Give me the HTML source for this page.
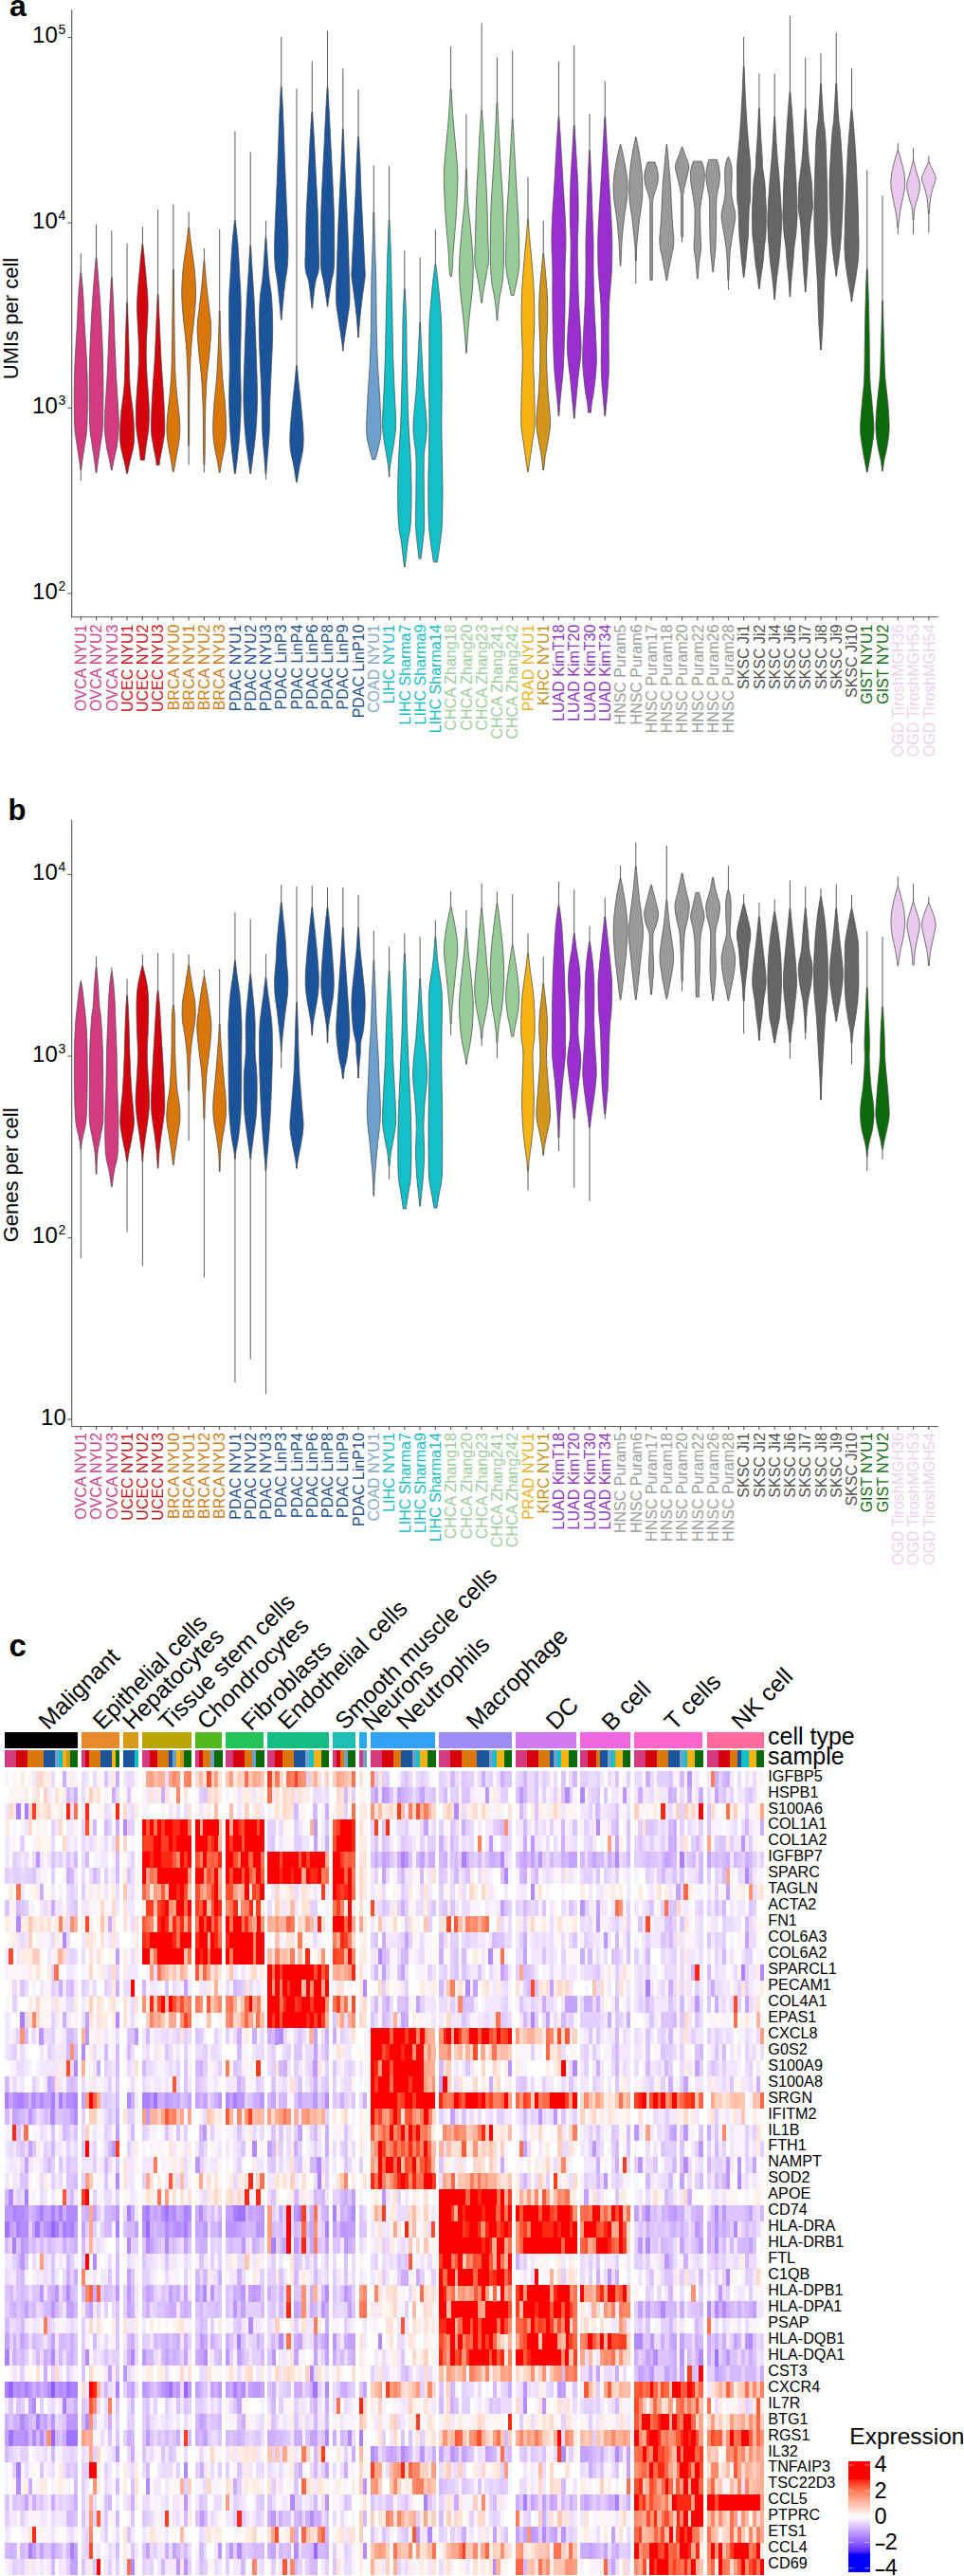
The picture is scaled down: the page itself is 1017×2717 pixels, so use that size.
<!DOCTYPE html><html><head><meta charset="utf-8"><style>html,body{margin:0;padding:0;background:#fff;overflow:hidden;}svg{display:block;}</style></head><body><svg width="1017" height="2717" viewBox="0 0 1017 2717" font-family='"Liberation Sans", sans-serif'>
<rect width="1017" height="2717" fill="#fff"/>
<text x="10" y="16.8" font-size="32" font-weight="bold" fill="#000">a</text>
<text x="8.6" y="865.2" font-size="31" font-weight="bold" fill="#000">b</text>
<text x="9.6" y="1747.3" font-size="33" font-weight="bold" fill="#000">c</text>
<g stroke="#555" stroke-width="1.1" fill="none">
<line x1="75.7" y1="10.3" x2="75.7" y2="651.2"/>
<line x1="75.2" y1="650.7" x2="989.8" y2="650.7"/>
<line x1="71.4" y1="39.6" x2="75.7" y2="39.6"/>
<line x1="71.4" y1="235" x2="75.7" y2="235"/>
<line x1="71.4" y1="430.3" x2="75.7" y2="430.3"/>
<line x1="71.4" y1="626" x2="75.7" y2="626"/>
<line x1="85.3" y1="650.7" x2="85.3" y2="654.2"/>
<line x1="101.56" y1="650.7" x2="101.56" y2="654.2"/>
<line x1="117.83" y1="650.7" x2="117.83" y2="654.2"/>
<line x1="134.09" y1="650.7" x2="134.09" y2="654.2"/>
<line x1="150.36" y1="650.7" x2="150.36" y2="654.2"/>
<line x1="166.62" y1="650.7" x2="166.62" y2="654.2"/>
<line x1="182.88" y1="650.7" x2="182.88" y2="654.2"/>
<line x1="199.15" y1="650.7" x2="199.15" y2="654.2"/>
<line x1="215.41" y1="650.7" x2="215.41" y2="654.2"/>
<line x1="231.68" y1="650.7" x2="231.68" y2="654.2"/>
<line x1="247.94" y1="650.7" x2="247.94" y2="654.2"/>
<line x1="264.2" y1="650.7" x2="264.2" y2="654.2"/>
<line x1="280.47" y1="650.7" x2="280.47" y2="654.2"/>
<line x1="296.73" y1="650.7" x2="296.73" y2="654.2"/>
<line x1="313" y1="650.7" x2="313" y2="654.2"/>
<line x1="329.26" y1="650.7" x2="329.26" y2="654.2"/>
<line x1="345.52" y1="650.7" x2="345.52" y2="654.2"/>
<line x1="361.79" y1="650.7" x2="361.79" y2="654.2"/>
<line x1="378.05" y1="650.7" x2="378.05" y2="654.2"/>
<line x1="394.32" y1="650.7" x2="394.32" y2="654.2"/>
<line x1="410.58" y1="650.7" x2="410.58" y2="654.2"/>
<line x1="426.84" y1="650.7" x2="426.84" y2="654.2"/>
<line x1="443.11" y1="650.7" x2="443.11" y2="654.2"/>
<line x1="459.37" y1="650.7" x2="459.37" y2="654.2"/>
<line x1="475.64" y1="650.7" x2="475.64" y2="654.2"/>
<line x1="491.9" y1="650.7" x2="491.9" y2="654.2"/>
<line x1="508.16" y1="650.7" x2="508.16" y2="654.2"/>
<line x1="524.43" y1="650.7" x2="524.43" y2="654.2"/>
<line x1="540.69" y1="650.7" x2="540.69" y2="654.2"/>
<line x1="556.96" y1="650.7" x2="556.96" y2="654.2"/>
<line x1="573.22" y1="650.7" x2="573.22" y2="654.2"/>
<line x1="589.48" y1="650.7" x2="589.48" y2="654.2"/>
<line x1="605.75" y1="650.7" x2="605.75" y2="654.2"/>
<line x1="622.01" y1="650.7" x2="622.01" y2="654.2"/>
<line x1="638.28" y1="650.7" x2="638.28" y2="654.2"/>
<line x1="654.54" y1="650.7" x2="654.54" y2="654.2"/>
<line x1="670.8" y1="650.7" x2="670.8" y2="654.2"/>
<line x1="687.07" y1="650.7" x2="687.07" y2="654.2"/>
<line x1="703.33" y1="650.7" x2="703.33" y2="654.2"/>
<line x1="719.6" y1="650.7" x2="719.6" y2="654.2"/>
<line x1="735.86" y1="650.7" x2="735.86" y2="654.2"/>
<line x1="752.12" y1="650.7" x2="752.12" y2="654.2"/>
<line x1="768.39" y1="650.7" x2="768.39" y2="654.2"/>
<line x1="784.65" y1="650.7" x2="784.65" y2="654.2"/>
<line x1="800.92" y1="650.7" x2="800.92" y2="654.2"/>
<line x1="817.18" y1="650.7" x2="817.18" y2="654.2"/>
<line x1="833.44" y1="650.7" x2="833.44" y2="654.2"/>
<line x1="849.71" y1="650.7" x2="849.71" y2="654.2"/>
<line x1="865.97" y1="650.7" x2="865.97" y2="654.2"/>
<line x1="882.24" y1="650.7" x2="882.24" y2="654.2"/>
<line x1="898.5" y1="650.7" x2="898.5" y2="654.2"/>
<line x1="914.76" y1="650.7" x2="914.76" y2="654.2"/>
<line x1="931.03" y1="650.7" x2="931.03" y2="654.2"/>
<line x1="947.29" y1="650.7" x2="947.29" y2="654.2"/>
<line x1="963.56" y1="650.7" x2="963.56" y2="654.2"/>
<line x1="979.82" y1="650.7" x2="979.82" y2="654.2"/>
</g>
<text x="60.8" y="45.2" font-size="24" text-anchor="end" fill="#000">10</text>
<text x="61.6" y="36.2" font-size="14" fill="#000">5</text>
<text x="60.8" y="240.6" font-size="24" text-anchor="end" fill="#000">10</text>
<text x="61.6" y="231.6" font-size="14" fill="#000">4</text>
<text x="60.8" y="435.9" font-size="24" text-anchor="end" fill="#000">10</text>
<text x="61.6" y="426.9" font-size="14" fill="#000">3</text>
<text x="60.8" y="631.6" font-size="24" text-anchor="end" fill="#000">10</text>
<text x="61.6" y="622.6" font-size="14" fill="#000">2</text>
<text transform="translate(18.6 336) rotate(-90)" font-size="22" text-anchor="middle" fill="#000">UMIs per cell</text>
<line x1="85.3" y1="267.3" x2="85.3" y2="507.2" stroke="#4a4a4a" stroke-width="0.9"/>
<path d="M85.7 287.6C86.03 291.42 87.08 300.8 87.7 310.5C88.32 320.2 88.77 334.03 89.4 345.8C90.03 357.57 91 369.33 91.5 381.1C92 392.87 92.37 404.65 92.4 416.4C92.43 428.15 92.2 442.78 91.7 451.6C91.2 460.42 90.23 463.42 89.4 469.3C88.57 475.18 87.32 482.5 86.7 486.9C86.08 491.3 85.87 494.23 85.7 495.7L84.9 495.7C84.73 494.23 84.52 491.3 83.9 486.9C83.28 482.5 82.03 475.18 81.2 469.3C80.37 463.42 79.4 460.42 78.9 451.6C78.4 442.78 78.17 428.15 78.2 416.4C78.23 404.65 78.6 392.87 79.1 381.1C79.6 369.33 80.57 357.57 81.2 345.8C81.83 334.03 82.28 320.2 82.9 310.5C83.52 300.8 84.57 291.42 84.9 287.6Z" fill="#d43a80" stroke="#4a4a4a" stroke-width="0.75"/>
<line x1="101.56" y1="236.6" x2="101.56" y2="498.4" stroke="#4a4a4a" stroke-width="0.9"/>
<path d="M101.96 271.7C102.48 278.17 104.2 298.15 105.06 310.5C105.93 322.85 106.57 334.03 107.16 345.8C107.76 357.57 108.31 369.33 108.61 381.1C108.91 392.87 109.02 404.65 108.96 416.4C108.91 428.15 108.76 442.78 108.26 451.6C107.76 460.42 106.78 463.42 105.96 469.3C105.15 475.18 104.03 482.05 103.36 486.9C102.7 491.75 102.2 496.48 101.96 498.4L101.16 498.4C100.93 496.48 100.43 491.75 99.76 486.9C99.1 482.05 97.98 475.18 97.16 469.3C96.35 463.42 95.36 460.42 94.86 451.6C94.36 442.78 94.22 428.15 94.16 416.4C94.11 404.65 94.21 392.87 94.51 381.1C94.81 369.33 95.37 357.57 95.96 345.8C96.56 334.03 97.2 322.85 98.06 310.5C98.93 298.15 100.65 278.17 101.16 271.7Z" fill="#d43a80" stroke="#4a4a4a" stroke-width="0.75"/>
<line x1="117.83" y1="243.2" x2="117.83" y2="495.7" stroke="#4a4a4a" stroke-width="0.9"/>
<path d="M118.23 292.9C118.53 298.78 119.54 316.43 120.03 328.2C120.51 339.97 120.69 351.75 121.13 363.5C121.57 375.25 122.05 386.95 122.68 398.7C123.3 410.45 124.44 425.18 124.88 434C125.32 442.82 125.55 445.72 125.33 451.6C125.1 457.48 124.44 463.42 123.53 469.3C122.61 475.18 120.71 482.5 119.83 486.9C118.94 491.3 118.49 494.23 118.23 495.7L117.43 495.7C117.16 494.23 116.71 491.3 115.83 486.9C114.94 482.5 113.04 475.18 112.13 469.3C111.21 463.42 110.55 457.48 110.33 451.6C110.1 445.72 110.34 442.82 110.78 434C111.22 425.18 112.35 410.45 112.98 398.7C113.6 386.95 114.09 375.25 114.53 363.5C114.97 351.75 115.14 339.97 115.63 328.2C116.11 316.43 117.13 298.78 117.43 292.9Z" fill="#d43a80" stroke="#4a4a4a" stroke-width="0.75"/>
<line x1="134.09" y1="256.8" x2="134.09" y2="499.3" stroke="#4a4a4a" stroke-width="0.9"/>
<path d="M134.49 319.4C134.73 326.75 135.53 350.28 135.89 363.5C136.26 376.72 136.33 389.88 136.69 398.7C137.06 407.52 137.49 410.52 138.09 416.4C138.69 422.28 139.73 428.13 140.29 434C140.86 439.87 141.36 445.72 141.49 451.6C141.63 457.48 141.83 463.42 141.09 469.3C140.36 475.18 138.19 481.9 137.09 486.9C135.99 491.9 134.93 497.23 134.49 499.3L133.69 499.3C133.26 497.23 132.19 491.9 131.09 486.9C129.99 481.9 127.83 475.18 127.09 469.3C126.36 463.42 126.56 457.48 126.69 451.6C126.83 445.72 127.33 439.87 127.89 434C128.46 428.13 129.49 422.28 130.09 416.4C130.69 410.52 131.13 407.52 131.49 398.7C131.86 389.88 131.93 376.72 132.29 363.5C132.66 350.28 133.46 326.75 133.69 319.4Z" fill="#d6000d" stroke="#4a4a4a" stroke-width="0.75"/>
<line x1="150.36" y1="239" x2="150.36" y2="485.2" stroke="#4a4a4a" stroke-width="0.9"/>
<path d="M150.76 257.6C151.06 260.55 151.74 266.48 152.56 275.3C153.37 284.12 155.07 301.68 155.66 310.5C156.24 319.32 156.13 322.32 156.06 328.2C155.98 334.08 155.49 339.92 155.21 345.8C154.92 351.68 154.5 357.62 154.36 363.5C154.21 369.38 154.21 375.23 154.36 381.1C154.5 386.97 154.84 392.82 155.21 398.7C155.57 404.58 156.2 410.52 156.56 416.4C156.91 422.28 157.29 428.13 157.36 434C157.42 439.87 157.46 445.72 156.96 451.6C156.46 457.48 155.02 464.57 154.36 469.3C153.69 474.03 153.26 477.35 152.96 480C152.66 482.65 152.62 484.33 152.56 485.2L148.16 485.2C148.09 484.33 148.06 482.65 147.76 480C147.46 477.35 147.02 474.03 146.36 469.3C145.69 464.57 144.26 457.48 143.76 451.6C143.26 445.72 143.29 439.87 143.36 434C143.42 428.13 143.8 422.28 144.16 416.4C144.51 410.52 145.14 404.58 145.51 398.7C145.87 392.82 146.21 386.97 146.36 381.1C146.5 375.23 146.5 369.38 146.36 363.5C146.21 357.62 145.79 351.68 145.51 345.8C145.22 339.92 144.73 334.08 144.66 328.2C144.58 322.32 144.47 319.32 145.06 310.5C145.64 301.68 147.34 284.12 148.16 275.3C148.97 266.48 149.66 260.55 149.96 257.6Z" fill="#d6000d" stroke="#4a4a4a" stroke-width="0.75"/>
<line x1="166.62" y1="221" x2="166.62" y2="490.4" stroke="#4a4a4a" stroke-width="0.9"/>
<path d="M167.02 310.5C167.27 316.38 168 334.03 168.52 345.8C169.04 357.57 169.45 369.33 170.12 381.1C170.79 392.87 171.9 404.65 172.52 416.4C173.14 428.15 173.95 442.78 173.82 451.6C173.69 460.42 172.55 463.9 171.72 469.3C170.89 474.7 169.4 480.48 168.82 484C168.24 487.52 168.32 489.33 168.22 490.4L165.02 490.4C164.92 489.33 165 487.52 164.42 484C163.84 480.48 162.35 474.7 161.52 469.3C160.69 463.9 159.55 460.42 159.42 451.6C159.29 442.78 160.1 428.15 160.72 416.4C161.34 404.65 162.45 392.87 163.12 381.1C163.79 369.33 164.2 357.57 164.72 345.8C165.24 334.03 165.97 316.38 166.22 310.5Z" fill="#d6000d" stroke="#4a4a4a" stroke-width="0.75"/>
<line x1="182.88" y1="215.4" x2="182.88" y2="497.5" stroke="#4a4a4a" stroke-width="0.9"/>
<path d="M183.28 284.1C183.4 294.38 183.73 328.17 183.98 345.8C184.23 363.43 184.33 378.13 184.78 389.9C185.23 401.67 185.9 407.58 186.68 416.4C187.47 425.22 189.02 435.47 189.48 442.8C189.95 450.13 189.95 454.52 189.48 460.4C189.02 466.28 187.62 472.5 186.68 478.1C185.75 483.7 184.47 490.77 183.88 494C183.3 497.23 183.3 496.92 183.18 497.5L182.58 497.5C182.47 496.92 182.47 497.23 181.88 494C181.3 490.77 180.02 483.7 179.08 478.1C178.15 472.5 176.75 466.28 176.28 460.4C175.82 454.52 175.82 450.13 176.28 442.8C176.75 435.47 178.3 425.22 179.08 416.4C179.87 407.58 180.53 401.67 180.98 389.9C181.43 378.13 181.53 363.43 181.78 345.8C182.03 328.17 182.37 294.38 182.48 284.1Z" fill="#d9770a" stroke="#4a4a4a" stroke-width="0.75"/>
<line x1="199.15" y1="223.4" x2="199.15" y2="490.4" stroke="#4a4a4a" stroke-width="0.9"/>
<path d="M199.55 240C199.9 242.93 200.71 250.25 201.65 257.6C202.58 264.95 204.33 275.28 205.15 284.1C205.96 292.92 206.61 301.68 206.55 310.5C206.48 319.32 205.51 328.17 204.75 337C203.98 345.83 202.7 353.22 201.95 363.5C201.2 373.78 200.6 386.95 200.25 398.7C199.9 410.45 199.95 422.12 199.85 434C199.75 445.88 199.68 464 199.65 470L198.65 470C198.61 464 198.55 445.88 198.45 434C198.35 422.12 198.4 410.45 198.05 398.7C197.7 386.95 197.1 373.78 196.35 363.5C195.6 353.22 194.31 345.83 193.55 337C192.78 328.17 191.81 319.32 191.75 310.5C191.68 301.68 192.33 292.92 193.15 284.1C193.96 275.28 195.71 264.95 196.65 257.6C197.58 250.25 198.4 242.93 198.75 240Z" fill="#d9770a" stroke="#4a4a4a" stroke-width="0.75"/>
<line x1="215.41" y1="262" x2="215.41" y2="498.4" stroke="#4a4a4a" stroke-width="0.9"/>
<path d="M215.81 275.3C216.18 279.7 217.15 292.88 218.01 301.7C218.88 310.52 220.23 320.85 221.01 328.2C221.8 335.55 222.71 338.45 222.71 345.8C222.71 353.15 221.76 363.48 221.01 372.3C220.26 381.12 218.95 388.42 218.21 398.7C217.48 408.98 216.93 422.23 216.61 434C216.3 445.77 216.43 459.97 216.31 469.3C216.2 478.63 215.98 486.55 215.91 490L214.91 490C214.85 486.55 214.63 478.63 214.51 469.3C214.4 459.97 214.53 445.77 214.21 434C213.9 422.23 213.35 408.98 212.61 398.7C211.88 388.42 210.56 381.12 209.81 372.3C209.06 363.48 208.11 353.15 208.11 345.8C208.11 338.45 209.03 335.55 209.81 328.2C210.6 320.85 211.95 310.52 212.81 301.7C213.68 292.88 214.65 279.7 215.01 275.3Z" fill="#d9770a" stroke="#4a4a4a" stroke-width="0.75"/>
<line x1="231.68" y1="241.6" x2="231.68" y2="498.4" stroke="#4a4a4a" stroke-width="0.9"/>
<path d="M232.08 328.2C232.23 334.08 232.53 351.75 232.98 363.5C233.43 375.25 234.04 388.42 234.78 398.7C235.51 408.98 236.73 416.38 237.38 425.2C238.03 434.02 238.68 444.25 238.68 451.6C238.68 458.95 238.18 463.42 237.38 469.3C236.58 475.18 234.76 482.05 233.88 486.9C232.99 491.75 232.38 496.48 232.08 498.4L231.28 498.4C230.98 496.48 230.36 491.75 229.48 486.9C228.59 482.05 226.78 475.18 225.98 469.3C225.18 463.42 224.68 458.95 224.68 451.6C224.68 444.25 225.33 434.02 225.98 425.2C226.63 416.38 227.84 408.98 228.58 398.7C229.31 388.42 229.93 375.25 230.38 363.5C230.83 351.75 231.13 334.08 231.28 328.2Z" fill="#d9770a" stroke="#4a4a4a" stroke-width="0.75"/>
<line x1="247.94" y1="138.4" x2="247.94" y2="499.5" stroke="#4a4a4a" stroke-width="0.9"/>
<path d="M248.34 232.8C248.79 237.2 250.3 249.67 251.04 259.2C251.78 268.73 252.27 280.65 252.79 290C253.31 299.35 253.91 305.22 254.14 315.3C254.36 325.38 254.24 338.75 254.14 350.5C254.04 362.25 253.52 374.05 253.54 385.8C253.56 397.55 254.34 409.25 254.24 421C254.14 432.75 253.57 446 252.94 456.3C252.31 466.6 251.21 475.6 250.44 482.8C249.67 490 248.69 496.72 248.34 499.5L247.54 499.5C247.19 496.72 246.21 490 245.44 482.8C244.67 475.6 243.57 466.6 242.94 456.3C242.31 446 241.74 432.75 241.64 421C241.54 409.25 242.32 397.55 242.34 385.8C242.36 374.05 241.84 362.25 241.74 350.5C241.64 338.75 241.52 325.38 241.74 315.3C241.97 305.22 242.57 299.35 243.09 290C243.61 280.65 244.1 268.73 244.84 259.2C245.58 249.67 247.09 237.2 247.54 232.8Z" fill="#1b549a" stroke="#4a4a4a" stroke-width="0.75"/>
<line x1="264.2" y1="160.5" x2="264.2" y2="499.5" stroke="#4a4a4a" stroke-width="0.9"/>
<path d="M264.6 259C264.9 264.17 265.84 280.62 266.4 290C266.97 299.38 267.49 305.22 268 315.3C268.52 325.38 269.05 338.75 269.5 350.5C269.95 362.25 270.37 374.05 270.7 385.8C271.04 397.55 271.65 409.25 271.5 421C271.35 432.75 270.6 446 269.8 456.3C269 466.6 267.57 475.6 266.7 482.8C265.84 490 264.95 496.72 264.6 499.5L263.8 499.5C263.45 496.72 262.57 490 261.7 482.8C260.84 475.6 259.4 466.6 258.6 456.3C257.8 446 257.05 432.75 256.9 421C256.75 409.25 257.37 397.55 257.7 385.8C258.04 374.05 258.45 362.25 258.9 350.5C259.35 338.75 259.89 325.38 260.4 315.3C260.92 305.22 261.44 299.38 262 290C262.57 280.62 263.5 264.17 263.8 259Z" fill="#1b549a" stroke="#4a4a4a" stroke-width="0.75"/>
<line x1="280.47" y1="232.8" x2="280.47" y2="505.7" stroke="#4a4a4a" stroke-width="0.9"/>
<path d="M280.87 250C281.32 256.67 282.6 279.12 283.57 290C284.53 300.88 285.98 305.22 286.67 315.3C287.35 325.38 287.72 338.75 287.67 350.5C287.62 362.25 286.83 374.05 286.37 385.8C285.9 397.55 285.23 409.25 284.87 421C284.5 432.75 284.63 446 284.17 456.3C283.7 466.6 282.62 475.52 282.07 482.8C281.52 490.08 281.07 497.13 280.87 500L280.07 500C279.87 497.13 279.42 490.08 278.87 482.8C278.32 475.52 277.23 466.6 276.77 456.3C276.3 446 276.43 432.75 276.07 421C275.7 409.25 275.03 397.55 274.57 385.8C274.1 374.05 273.32 362.25 273.27 350.5C273.22 338.75 273.58 325.38 274.27 315.3C274.95 305.22 276.4 300.88 277.37 290C278.33 279.12 279.62 256.67 280.07 250Z" fill="#1b549a" stroke="#4a4a4a" stroke-width="0.75"/>
<line x1="296.73" y1="38.8" x2="296.73" y2="337.3" stroke="#4a4a4a" stroke-width="0.9"/>
<path d="M297.13 91.7C297.37 96.12 298.08 107.92 298.53 118.2C298.98 128.48 299.4 141.65 299.83 153.4C300.27 165.15 300.67 176.93 301.13 188.7C301.6 200.47 302.17 212.25 302.63 224C303.1 235.75 303.82 249.87 303.93 259.2C304.05 268.53 303.85 273.6 303.33 280C302.82 286.4 301.57 291.72 300.83 297.6C300.1 303.48 299.52 309.42 298.93 315.3C298.35 321.18 297.65 329.23 297.33 332.9C297.02 336.57 297.08 336.57 297.03 337.3L296.43 337.3C296.38 336.57 296.45 336.57 296.13 332.9C295.82 329.23 295.12 321.18 294.53 315.3C293.95 309.42 293.37 303.48 292.63 297.6C291.9 291.72 290.65 286.4 290.13 280C289.62 273.6 289.42 268.53 289.53 259.2C289.65 249.87 290.37 235.75 290.83 224C291.3 212.25 291.87 200.47 292.33 188.7C292.8 176.93 293.2 165.15 293.63 153.4C294.07 141.65 294.48 128.48 294.93 118.2C295.38 107.92 296.1 96.12 296.33 91.7Z" fill="#1b549a" stroke="#4a4a4a" stroke-width="0.75"/>
<line x1="313" y1="93.5" x2="313" y2="508.4" stroke="#4a4a4a" stroke-width="0.9"/>
<path d="M313.4 385.8C313.66 388.73 314.25 396.05 315 403.4C315.74 410.75 317.01 421.08 317.85 429.9C318.68 438.72 319.7 448.95 320 456.3C320.29 463.65 320.25 468.12 319.6 474C318.95 479.88 317.13 485.87 316.1 491.6C315.06 497.33 313.85 505.6 313.4 508.4L312.6 508.4C312.15 505.6 310.93 497.33 309.9 491.6C308.86 485.87 307.05 479.88 306.4 474C305.75 468.12 305.7 463.65 306 456.3C306.29 448.95 307.31 438.72 308.15 429.9C308.98 421.08 310.25 410.75 311 403.4C311.74 396.05 312.33 388.73 312.6 385.8Z" fill="#1b549a" stroke="#4a4a4a" stroke-width="0.75"/>
<line x1="329.26" y1="64.4" x2="329.26" y2="325" stroke="#4a4a4a" stroke-width="0.9"/>
<path d="M329.66 118.2C330.01 124.07 331.13 141.65 331.76 153.4C332.39 165.15 332.88 176.93 333.46 188.7C334.04 200.47 334.83 212.25 335.26 224C335.69 235.75 335.86 249.37 336.06 259.2C336.26 269.03 337.01 276.6 336.46 283C335.91 289.4 333.74 292.22 332.76 297.6C331.78 302.98 331.09 310.73 330.56 315.3C330.03 319.87 329.73 323.38 329.56 325L328.96 325C328.79 323.38 328.49 319.87 327.96 315.3C327.43 310.73 326.74 302.98 325.76 297.6C324.78 292.22 322.61 289.4 322.06 283C321.51 276.6 322.26 269.03 322.46 259.2C322.66 249.37 322.83 235.75 323.26 224C323.69 212.25 324.48 200.47 325.06 188.7C325.64 176.93 326.13 165.15 326.76 153.4C327.39 141.65 328.51 124.07 328.86 118.2Z" fill="#1b549a" stroke="#4a4a4a" stroke-width="0.75"/>
<line x1="345.52" y1="32.6" x2="345.52" y2="323.2" stroke="#4a4a4a" stroke-width="0.9"/>
<path d="M345.92 91.7C346.16 96.12 346.81 107.92 347.32 118.2C347.84 128.48 348.44 141.65 349.02 153.4C349.61 165.15 350.27 176.93 350.82 188.7C351.37 200.47 352.01 212.25 352.32 224C352.64 235.75 352.72 249.37 352.72 259.2C352.72 269.03 352.86 276.6 352.32 283C351.79 289.4 350.44 292.22 349.52 297.6C348.61 302.98 347.44 311.03 346.82 315.3C346.21 319.57 345.99 321.88 345.82 323.2L345.22 323.2C345.06 321.88 344.84 319.57 344.22 315.3C343.61 311.03 342.44 302.98 341.52 297.6C340.61 292.22 339.26 289.4 338.72 283C338.19 276.6 338.32 269.03 338.32 259.2C338.32 249.37 338.41 235.75 338.72 224C339.04 212.25 339.67 200.47 340.22 188.7C340.77 176.93 341.44 165.15 342.02 153.4C342.61 141.65 343.21 128.48 343.72 118.2C344.24 107.92 344.89 96.12 345.12 91.7Z" fill="#1b549a" stroke="#4a4a4a" stroke-width="0.75"/>
<line x1="361.79" y1="72.3" x2="361.79" y2="370" stroke="#4a4a4a" stroke-width="0.9"/>
<path d="M362.19 135.8C362.42 141.67 363.07 159.25 363.59 171C364.1 182.75 364.74 194.53 365.29 206.3C365.84 218.07 366.44 229.83 366.89 241.6C367.34 253.37 367.64 264.62 367.99 276.9C368.34 289.18 369.14 305.97 368.99 315.3C368.84 324.63 367.85 327.03 367.09 332.9C366.32 338.77 365.17 345.15 364.39 350.5C363.6 355.85 362.77 361.75 362.39 365C362 368.25 362.14 369.17 362.09 370L361.49 370C361.44 369.17 361.57 368.25 361.19 365C360.8 361.75 359.97 355.85 359.19 350.5C358.4 345.15 357.25 338.77 356.49 332.9C355.72 327.03 354.74 324.63 354.59 315.3C354.44 305.97 355.24 289.18 355.59 276.9C355.94 264.62 356.24 253.37 356.69 241.6C357.14 229.83 357.74 218.07 358.29 206.3C358.84 194.53 359.47 182.75 359.99 171C360.5 159.25 361.15 141.67 361.39 135.8Z" fill="#1b549a" stroke="#4a4a4a" stroke-width="0.75"/>
<line x1="378.05" y1="94.4" x2="378.05" y2="355.8" stroke="#4a4a4a" stroke-width="0.9"/>
<path d="M378.45 144.6C378.69 149 379.4 160.72 379.85 171C380.3 181.28 380.64 194.53 381.15 206.3C381.66 218.07 382.32 229.83 382.9 241.6C383.49 253.37 384.26 268.83 384.65 276.9C385.04 284.97 385.29 286.55 385.25 290C385.22 293.45 384.99 293.38 384.45 297.6C383.92 301.82 382.79 309.42 382.05 315.3C381.32 321.18 380.62 327.12 380.05 332.9C379.49 338.68 378.94 346.18 378.65 350C378.37 353.82 378.4 354.83 378.35 355.8L377.75 355.8C377.7 354.83 377.74 353.82 377.45 350C377.17 346.18 376.62 338.68 376.05 332.9C375.49 327.12 374.79 321.18 374.05 315.3C373.32 309.42 372.19 301.82 371.65 297.6C371.12 293.38 370.89 293.45 370.85 290C370.82 286.55 371.06 284.97 371.45 276.9C371.84 268.83 372.62 253.37 373.2 241.6C373.79 229.83 374.44 218.07 374.95 206.3C375.46 194.53 375.8 181.28 376.25 171C376.7 160.72 377.42 149 377.65 144.6Z" fill="#1b549a" stroke="#4a4a4a" stroke-width="0.75"/>
<line x1="394.32" y1="174.6" x2="394.32" y2="484.5" stroke="#4a4a4a" stroke-width="0.9"/>
<path d="M394.72 224C394.85 229.87 395.2 248.2 395.52 259.2C395.83 270.2 396.38 280.65 396.62 290C396.85 299.35 396.8 305.22 396.92 315.3C397.03 325.38 397.05 338.75 397.32 350.5C397.58 362.25 397.93 374.05 398.52 385.8C399.1 397.55 400.25 409.25 400.82 421C401.38 432.75 402.27 447.47 401.92 456.3C401.57 465.13 399.73 469.3 398.72 474C397.7 478.7 396.3 482.75 395.82 484.5L392.82 484.5C392.33 482.75 390.93 478.7 389.92 474C388.9 469.3 387.07 465.13 386.72 456.3C386.37 447.47 387.25 432.75 387.82 421C388.38 409.25 389.53 397.55 390.12 385.8C390.7 374.05 391.05 362.25 391.32 350.5C391.58 338.75 391.6 325.38 391.72 315.3C391.83 305.22 391.78 299.35 392.02 290C392.25 280.65 392.8 270.2 393.12 259.2C393.43 248.2 393.78 229.87 393.92 224Z" fill="#6ea0cd" stroke="#4a4a4a" stroke-width="0.75"/>
<line x1="410.58" y1="175.2" x2="410.58" y2="502.8" stroke="#4a4a4a" stroke-width="0.9"/>
<path d="M410.98 231.6C411.21 238 412.01 257.72 412.38 270C412.75 282.28 412.91 293.55 413.18 305.3C413.45 317.05 413.73 328.75 413.98 340.5C414.23 352.25 414.33 364.03 414.68 375.8C415.03 387.57 415.59 399.33 416.08 411.1C416.57 422.87 417.63 437.58 417.63 446.4C417.63 455.22 416.82 458.13 416.08 464C415.34 469.87 414 476.43 413.18 481.6C412.36 486.77 411.56 491.47 411.18 495C410.8 498.53 410.93 501.5 410.88 502.8L410.28 502.8C410.23 501.5 410.36 498.53 409.98 495C409.6 491.47 408.8 486.77 407.98 481.6C407.16 476.43 405.82 469.87 405.08 464C404.34 458.13 403.53 455.22 403.53 446.4C403.53 437.58 404.59 422.87 405.08 411.1C405.57 399.33 406.13 387.57 406.48 375.8C406.83 364.03 406.93 352.25 407.18 340.5C407.43 328.75 407.71 317.05 407.98 305.3C408.25 293.55 408.41 282.28 408.78 270C409.15 257.72 409.95 238 410.18 231.6Z" fill="#14c0c8" stroke="#4a4a4a" stroke-width="0.75"/>
<line x1="426.84" y1="264.2" x2="426.84" y2="598" stroke="#4a4a4a" stroke-width="0.9"/>
<path d="M427.24 305C427.49 310.92 428.44 328.7 428.74 340.5C429.04 352.3 428.84 364.03 429.04 375.8C429.24 387.57 429.63 399.33 429.94 411.1C430.26 422.87 430.43 434.65 430.94 446.4C431.46 458.15 432.53 469.85 433.04 481.6C433.56 493.35 434.01 505.13 434.04 516.9C434.08 528.67 433.83 543.38 433.24 552.2C432.66 561.02 431.34 563.92 430.54 569.8C429.74 575.68 429.01 582.8 428.44 587.5C427.88 592.2 427.36 596.25 427.14 598L426.54 598C426.33 596.25 425.81 592.2 425.24 587.5C424.68 582.8 423.94 575.68 423.14 569.8C422.34 563.92 421.03 561.02 420.44 552.2C419.86 543.38 419.61 528.67 419.64 516.9C419.68 505.13 420.13 493.35 420.64 481.6C421.16 469.85 422.23 458.15 422.74 446.4C423.26 434.65 423.43 422.87 423.74 411.1C424.06 399.33 424.44 387.57 424.64 375.8C424.84 364.03 424.64 352.3 424.94 340.5C425.24 328.7 426.19 310.92 426.44 305Z" fill="#14c0c8" stroke="#4a4a4a" stroke-width="0.75"/>
<line x1="443.11" y1="271.3" x2="443.11" y2="589.2" stroke="#4a4a4a" stroke-width="0.9"/>
<path d="M443.51 340.5C443.77 346.38 444.51 364.03 445.11 375.8C445.71 387.57 446.27 399.33 447.11 411.1C447.95 422.87 449.79 437.58 450.16 446.4C450.52 455.22 449.78 458.13 449.31 464C448.83 469.87 447.64 472.78 447.31 481.6C446.97 490.42 447.24 505.13 447.31 516.9C447.37 528.67 447.86 543.38 447.71 552.2C447.56 561.02 447.01 563.63 446.41 569.8C445.81 575.97 444.49 585.97 444.11 589.2L442.11 589.2C441.72 585.97 440.41 575.97 439.81 569.8C439.21 563.63 438.66 561.02 438.51 552.2C438.36 543.38 438.84 528.67 438.91 516.9C438.97 505.13 439.24 490.42 438.91 481.6C438.57 472.78 437.38 469.87 436.91 464C436.43 458.13 435.69 455.22 436.06 446.4C436.42 437.58 438.27 422.87 439.11 411.1C439.95 399.33 440.51 387.57 441.11 375.8C441.71 364.03 442.44 346.38 442.71 340.5Z" fill="#14c0c8" stroke="#4a4a4a" stroke-width="0.75"/>
<line x1="459.37" y1="242.2" x2="459.37" y2="592.8" stroke="#4a4a4a" stroke-width="0.9"/>
<path d="M459.77 278.8C460.29 283.22 461.89 295.02 462.87 305.3C463.86 315.58 465.16 328.75 465.67 340.5C466.19 352.25 465.89 364.03 465.97 375.8C466.06 387.57 466.19 399.33 466.17 411.1C466.16 422.87 465.83 434.65 465.87 446.4C465.91 458.15 466.24 469.85 466.42 481.6C466.61 493.35 466.97 505.13 466.97 516.9C466.97 528.67 466.81 543.38 466.42 552.2C466.04 561.02 465.51 563.03 464.67 569.8C463.83 576.57 461.92 588.97 461.37 592.8L457.37 592.8C456.82 588.97 454.91 576.57 454.07 569.8C453.23 563.03 452.71 561.02 452.32 552.2C451.94 543.38 451.77 528.67 451.77 516.9C451.77 505.13 452.14 493.35 452.32 481.6C452.51 469.85 452.83 458.15 452.87 446.4C452.91 434.65 452.59 422.87 452.57 411.1C452.56 399.33 452.69 387.57 452.77 375.8C452.86 364.03 452.56 352.25 453.07 340.5C453.59 328.75 454.89 315.58 455.87 305.3C456.86 295.02 458.46 283.22 458.97 278.8Z" fill="#14c0c8" stroke="#4a4a4a" stroke-width="0.75"/>
<line x1="475.64" y1="49.1" x2="475.64" y2="292" stroke="#4a4a4a" stroke-width="0.9"/>
<path d="M476.04 94C476.37 99.3 477.29 116.08 478.04 125.8C478.78 135.52 479.71 143.48 480.49 152.3C481.26 161.12 482.32 171.37 482.69 178.7C483.05 186.03 482.88 188.95 482.69 196.3C482.49 203.65 482.06 213.98 481.54 222.8C481.01 231.62 480.12 241.85 479.54 249.2C478.95 256.55 478.37 261.77 478.04 266.9C477.7 272.03 477.74 276.48 477.54 280C477.34 283.52 477.1 286 476.84 288C476.57 290 476.09 291.33 475.94 292L475.34 292C475.19 291.33 474.7 290 474.44 288C474.17 286 473.94 283.52 473.74 280C473.54 276.48 473.57 272.03 473.24 266.9C472.9 261.77 472.32 256.55 471.74 249.2C471.15 241.85 470.26 231.62 469.74 222.8C469.21 213.98 468.78 203.65 468.59 196.3C468.39 188.95 468.22 186.03 468.59 178.7C468.95 171.37 470.01 161.12 470.79 152.3C471.56 143.48 472.49 135.52 473.24 125.8C473.98 116.08 474.9 99.3 475.24 94Z" fill="#95cc98" stroke="#4a4a4a" stroke-width="0.75"/>
<line x1="491.9" y1="120.5" x2="491.9" y2="372.3" stroke="#4a4a4a" stroke-width="0.9"/>
<path d="M492.3 178.7C492.53 184.58 492.88 202.25 493.7 214C494.52 225.75 496.28 238.2 497.2 249.2C498.12 260.2 499.02 270.65 499.2 280C499.38 289.35 498.93 296.68 498.3 305.3C497.67 313.92 496.17 324.35 495.4 331.7C494.63 339.05 494.18 343.85 493.7 349.4C493.22 354.95 492.75 361.18 492.5 365C492.25 368.82 492.25 371.08 492.2 372.3L491.6 372.3C491.55 371.08 491.55 368.82 491.3 365C491.05 361.18 490.58 354.95 490.1 349.4C489.62 343.85 489.17 339.05 488.4 331.7C487.63 324.35 486.13 313.92 485.5 305.3C484.87 296.68 484.42 289.35 484.6 280C484.78 270.65 485.68 260.2 486.6 249.2C487.52 238.2 489.28 225.75 490.1 214C490.92 202.25 491.27 184.58 491.5 178.7Z" fill="#95cc98" stroke="#4a4a4a" stroke-width="0.75"/>
<line x1="508.16" y1="24.4" x2="508.16" y2="319.4" stroke="#4a4a4a" stroke-width="0.9"/>
<path d="M508.56 117C508.86 121.4 509.76 133.12 510.36 143.4C510.96 153.68 511.58 166.93 512.16 178.7C512.75 190.47 513.43 202.25 513.86 214C514.3 225.75 514.5 239.03 514.76 249.2C515.03 259.37 515.68 268.6 515.46 275C515.25 281.4 514.31 282.55 513.46 287.6C512.61 292.65 511.2 300 510.36 305.3C509.53 310.6 508.78 317.05 508.46 319.4L507.86 319.4C507.55 317.05 506.8 310.6 505.96 305.3C505.13 300 503.71 292.65 502.86 287.6C502.01 282.55 501.08 281.4 500.86 275C500.65 268.6 501.3 259.37 501.56 249.2C501.83 239.03 502.03 225.75 502.46 214C502.9 202.25 503.58 190.47 504.16 178.7C504.75 166.93 505.36 153.68 505.96 143.4C506.56 133.12 507.46 121.4 507.76 117Z" fill="#95cc98" stroke="#4a4a4a" stroke-width="0.75"/>
<line x1="524.43" y1="60.6" x2="524.43" y2="337.9" stroke="#4a4a4a" stroke-width="0.9"/>
<path d="M524.83 108.2C525.09 114.07 525.83 131.65 526.43 143.4C527.03 155.15 527.73 166.93 528.43 178.7C529.13 190.47 530.13 202.25 530.63 214C531.13 225.75 531.29 239.03 531.43 249.2C531.56 259.37 531.63 267.12 531.43 275C531.23 282.88 530.96 289.98 530.23 296.5C529.49 303.02 527.86 308.52 527.03 314.1C526.19 319.68 525.61 326.03 525.23 330C524.84 333.97 524.81 336.58 524.73 337.9L524.13 337.9C524.04 336.58 524.01 333.97 523.63 330C523.24 326.03 522.66 319.68 521.83 314.1C520.99 308.52 519.36 303.02 518.63 296.5C517.89 289.98 517.63 282.88 517.43 275C517.23 267.12 517.29 259.37 517.43 249.2C517.56 239.03 517.73 225.75 518.23 214C518.73 202.25 519.73 190.47 520.43 178.7C521.13 166.93 521.83 155.15 522.43 143.4C523.03 131.65 523.76 114.07 524.03 108.2Z" fill="#95cc98" stroke="#4a4a4a" stroke-width="0.75"/>
<line x1="540.69" y1="53.5" x2="540.69" y2="311.4" stroke="#4a4a4a" stroke-width="0.9"/>
<path d="M541.09 125.8C541.39 131.67 542.28 149.25 542.89 161C543.51 172.75 544.13 184.53 544.79 196.3C545.46 208.07 546.4 219.83 546.89 231.6C547.38 243.37 547.58 259.67 547.74 266.9C547.91 274.13 548.03 271.55 547.89 275C547.75 278.45 547.66 282.55 546.89 287.6C546.13 292.65 544.08 301.33 543.29 305.3C542.51 309.27 542.38 310.38 542.19 311.4L539.19 311.4C539.01 310.38 538.88 309.27 538.09 305.3C537.31 301.33 535.26 292.65 534.49 287.6C533.73 282.55 533.63 278.45 533.49 275C533.35 271.55 533.48 274.13 533.64 266.9C533.81 259.67 534 243.37 534.49 231.6C534.98 219.83 535.93 208.07 536.59 196.3C537.26 184.53 537.88 172.75 538.49 161C539.11 149.25 539.99 131.67 540.29 125.8Z" fill="#95cc98" stroke="#4a4a4a" stroke-width="0.75"/>
<line x1="556.96" y1="186.6" x2="556.96" y2="497.5" stroke="#4a4a4a" stroke-width="0.9"/>
<path d="M557.36 231.6C557.56 234.53 557.96 241.97 558.56 249.2C559.16 256.43 560.19 265.65 560.96 275C561.72 284.35 562.67 294.38 563.16 305.3C563.64 316.22 563.96 328.75 563.86 340.5C563.76 352.25 562.59 364.03 562.56 375.8C562.52 387.57 563.39 399.33 563.66 411.1C563.92 422.87 564.42 437.58 564.16 446.4C563.89 455.22 562.82 458.13 562.06 464C561.29 469.87 560.36 476.02 559.56 481.6C558.76 487.18 557.64 494.85 557.26 497.5L556.66 497.5C556.27 494.85 555.16 487.18 554.36 481.6C553.56 476.02 552.62 469.87 551.86 464C551.09 458.13 550.02 455.22 549.76 446.4C549.49 437.58 549.99 422.87 550.26 411.1C550.52 399.33 551.39 387.57 551.36 375.8C551.32 364.03 550.16 352.25 550.06 340.5C549.96 328.75 550.27 316.22 550.76 305.3C551.24 294.38 552.19 284.35 552.96 275C553.72 265.65 554.76 256.43 555.36 249.2C555.96 241.97 556.36 234.53 556.56 231.6Z" fill="#f5b414" stroke="#4a4a4a" stroke-width="0.75"/>
<line x1="573.22" y1="232.8" x2="573.22" y2="496" stroke="#4a4a4a" stroke-width="0.9"/>
<path d="M573.62 267.6C573.89 270.55 574.59 277.95 575.22 285.3C575.85 292.65 577.02 302.88 577.42 311.7C577.82 320.52 577.77 327.92 577.62 338.2C577.47 348.48 576.49 361.65 576.52 373.4C576.55 385.15 577.15 396.93 577.82 408.7C578.49 420.47 580.35 435.18 580.52 444C580.69 452.82 579.65 455.73 578.82 461.6C577.99 467.47 576.4 473.47 575.52 479.2C574.64 484.93 573.85 493.2 573.52 496L572.92 496C572.59 493.2 571.8 484.93 570.92 479.2C570.04 473.47 568.45 467.47 567.62 461.6C566.79 455.73 565.75 452.82 565.92 444C566.09 435.18 567.95 420.47 568.62 408.7C569.29 396.93 569.89 385.15 569.92 373.4C569.95 361.65 568.97 348.48 568.82 338.2C568.67 327.92 568.62 320.52 569.02 311.7C569.42 302.88 570.59 292.65 571.22 285.3C571.85 277.95 572.55 270.55 572.82 267.6Z" fill="#d2961a" stroke="#4a4a4a" stroke-width="0.75"/>
<line x1="589.48" y1="65.2" x2="589.48" y2="438.7" stroke="#4a4a4a" stroke-width="0.9"/>
<path d="M589.88 123.4C590.25 129.28 591.38 146.93 592.08 158.7C592.78 170.47 593.38 182.25 594.08 194C594.78 205.75 595.8 219.03 596.28 229.2C596.77 239.37 597.02 245.65 596.98 255C596.95 264.35 596.23 274.38 596.08 285.3C595.93 296.22 596.18 308.75 596.08 320.5C595.98 332.25 595.82 344.03 595.48 355.8C595.15 367.57 594.75 380.82 594.08 391.1C593.42 401.38 592.2 409.57 591.48 417.5C590.77 425.43 590.07 435.17 589.78 438.7L589.18 438.7C588.9 435.17 588.2 425.43 587.48 417.5C586.77 409.57 585.55 401.38 584.88 391.1C584.22 380.82 583.82 367.57 583.48 355.8C583.15 344.03 582.98 332.25 582.88 320.5C582.78 308.75 583.03 296.22 582.88 285.3C582.73 274.38 582.02 264.35 581.98 255C581.95 245.65 582.2 239.37 582.68 229.2C583.17 219.03 584.18 205.75 584.88 194C585.58 182.25 586.18 170.47 586.88 158.7C587.58 146.93 588.72 129.28 589.08 123.4Z" fill="#9a2fd0" stroke="#4a4a4a" stroke-width="0.75"/>
<line x1="605.75" y1="47.6" x2="605.75" y2="441.3" stroke="#4a4a4a" stroke-width="0.9"/>
<path d="M606.15 132.3C606.4 136.7 607.06 148.42 607.65 158.7C608.23 168.98 609.23 182.25 609.65 194C610.06 205.75 610.2 219.03 610.15 229.2C610.1 239.37 609.43 245.65 609.35 255C609.26 264.35 609.43 274.38 609.65 285.3C609.86 296.22 610.12 308.75 610.65 320.5C611.17 332.25 612.44 346.98 612.8 355.8C613.16 364.62 613.29 366.05 612.8 373.4C612.31 380.75 610.76 391.08 609.85 399.9C608.94 408.72 607.98 419.4 607.35 426.3C606.71 433.2 606.26 438.8 606.05 441.3L605.45 441.3C605.23 438.8 604.78 433.2 604.15 426.3C603.51 419.4 602.56 408.72 601.65 399.9C600.74 391.08 599.19 380.75 598.7 373.4C598.21 366.05 598.34 364.62 598.7 355.8C599.06 346.98 600.32 332.25 600.85 320.5C601.37 308.75 601.63 296.22 601.85 285.3C602.06 274.38 602.23 264.35 602.15 255C602.06 245.65 601.4 239.37 601.35 229.2C601.3 219.03 601.43 205.75 601.85 194C602.26 182.25 603.26 168.98 603.85 158.7C604.43 148.42 605.1 136.7 605.35 132.3Z" fill="#9a2fd0" stroke="#4a4a4a" stroke-width="0.75"/>
<line x1="622.01" y1="119.9" x2="622.01" y2="435.1" stroke="#4a4a4a" stroke-width="0.9"/>
<path d="M622.41 158.7C622.66 164.58 623.46 182.25 623.91 194C624.36 205.75 624.76 219.03 625.11 229.2C625.46 239.37 625.86 245.65 626.01 255C626.16 264.35 625.87 274.38 626.01 285.3C626.15 296.22 626.43 308.75 626.86 320.5C627.3 332.25 628.2 345.5 628.61 355.8C629.02 366.1 629.58 373.48 629.31 382.3C629.05 391.12 627.86 401.37 627.01 408.7C626.16 416.03 624.8 421.9 624.21 426.3C623.63 430.7 623.63 433.63 623.51 435.1L620.51 435.1C620.4 433.63 620.4 430.7 619.81 426.3C619.23 421.9 617.86 416.03 617.01 408.7C616.16 401.37 614.98 391.12 614.71 382.3C614.45 373.48 615 366.1 615.41 355.8C615.82 345.5 616.73 332.25 617.16 320.5C617.6 308.75 617.87 296.22 618.01 285.3C618.15 274.38 617.86 264.35 618.01 255C618.16 245.65 618.56 239.37 618.91 229.2C619.26 219.03 619.66 205.75 620.11 194C620.56 182.25 621.36 164.58 621.61 158.7Z" fill="#9a2fd0" stroke="#4a4a4a" stroke-width="0.75"/>
<line x1="638.28" y1="85.5" x2="638.28" y2="438.7" stroke="#4a4a4a" stroke-width="0.9"/>
<path d="M638.68 123.4C638.99 129.28 639.91 146.93 640.58 158.7C641.24 170.47 641.98 182.25 642.68 194C643.38 205.75 644.26 219.03 644.78 229.2C645.29 239.37 645.68 245.65 645.78 255C645.87 264.35 645.84 274.38 645.33 285.3C644.81 296.22 643.2 308.75 642.68 320.5C642.15 332.25 642.24 344.03 642.18 355.8C642.11 367.57 642.56 380.82 642.28 391.1C641.99 401.38 641.09 409.57 640.48 417.5C639.86 425.43 638.89 435.17 638.58 438.7L637.98 438.7C637.66 435.17 636.69 425.43 636.08 417.5C635.46 409.57 634.56 401.38 634.28 391.1C633.99 380.82 634.44 367.57 634.38 355.8C634.31 344.03 634.4 332.25 633.88 320.5C633.35 308.75 631.74 296.22 631.23 285.3C630.71 274.38 630.68 264.35 630.78 255C630.87 245.65 631.26 239.37 631.78 229.2C632.29 219.03 633.18 205.75 633.88 194C634.58 182.25 635.31 170.47 635.98 158.7C636.64 146.93 637.56 129.28 637.88 123.4Z" fill="#9a2fd0" stroke="#4a4a4a" stroke-width="0.75"/>
<path d="M654.84 152.3C655.39 154.78 657.09 161.75 658.14 167.2C659.19 172.65 660.49 179.87 661.14 185C661.79 190.13 662.02 193.67 662.04 198C662.06 202.33 661.72 206.5 661.24 211C660.76 215.5 659.79 220.17 659.14 225C658.49 229.83 657.86 235 657.34 240C656.82 245 656.37 250 656.04 255C655.71 260 655.54 265.75 655.34 270C655.14 274.25 654.92 278.75 654.84 280.5L654.24 280.5C654.16 278.75 653.94 274.25 653.74 270C653.54 265.75 653.37 260 653.04 255C652.71 250 652.26 245 651.74 240C651.22 235 650.59 229.83 649.94 225C649.29 220.17 648.32 215.5 647.84 211C647.36 206.5 647.02 202.33 647.04 198C647.06 193.67 647.29 190.13 647.94 185C648.59 179.87 649.89 172.65 650.94 167.2C651.99 161.75 653.69 154.78 654.24 152.3Z" fill="#999999" stroke="#4a4a4a" stroke-width="0.75"/>
<line x1="670.8" y1="144.7" x2="670.8" y2="299.2" stroke="#4a4a4a" stroke-width="0.9"/>
<path d="M671.1 144.7C671.6 147.25 673.2 154.73 674.1 160C675 165.27 675.88 170.63 676.5 176.3C677.13 181.97 677.7 188.12 677.85 194C678 199.88 677.9 205.73 677.4 211.6C676.91 217.47 675.64 223.32 674.9 229.2C674.17 235.08 673.55 241.53 673 246.9C672.45 252.27 671.89 256.72 671.6 261.4C671.32 266.08 671.35 272.73 671.3 275L670.3 275C670.25 272.73 670.29 266.08 670 261.4C669.72 256.72 669.15 252.27 668.6 246.9C668.05 241.53 667.44 235.08 666.7 229.2C665.97 223.32 664.7 217.47 664.2 211.6C663.71 205.73 663.6 199.88 663.75 194C663.9 188.12 664.48 181.97 665.1 176.3C665.73 170.63 666.6 165.27 667.5 160C668.4 154.73 670 147.25 670.5 144.7Z" fill="#999999" stroke="#4a4a4a" stroke-width="0.75"/>
<line x1="687.07" y1="171" x2="687.07" y2="295" stroke="#4a4a4a" stroke-width="0.9"/>
<path d="M690.87 171C691.23 172.17 692.48 175.53 693.07 178C693.65 180.47 694.28 183.13 694.37 185.8C694.45 188.47 694.12 191.3 693.57 194C693.02 196.7 691.83 199.33 691.07 202C690.3 204.67 689.42 207 688.97 210C688.52 213 688.47 207 688.37 220C688.27 233 688.48 275.5 688.37 288C688.25 300.5 687.78 293.83 687.67 295L686.47 295C686.35 293.83 685.88 300.5 685.77 288C685.65 275.5 685.87 233 685.77 220C685.67 207 685.62 213 685.17 210C684.72 207 683.83 204.67 683.07 202C682.3 199.33 681.12 196.7 680.57 194C680.02 191.3 679.68 188.47 679.77 185.8C679.85 183.13 680.48 180.47 681.07 178C681.65 175.53 682.9 172.17 683.27 171Z" fill="#999999" stroke="#4a4a4a" stroke-width="0.75"/>
<path d="M703.63 152.3C703.85 154.75 704.32 160.05 704.93 167C705.55 173.95 706.72 185 707.33 194C707.95 203 708.22 213.33 708.63 221C709.05 228.67 709.47 234.83 709.83 240C710.2 245.17 710.78 248.33 710.83 252C710.88 255.67 710.55 259 710.13 262C709.72 265 709.1 266.17 708.33 270C707.57 273.83 706.32 280.67 705.53 285C704.75 289.33 703.95 294.17 703.63 296L703.03 296C702.72 294.17 701.92 289.33 701.13 285C700.35 280.67 699.1 273.83 698.33 270C697.57 266.17 696.95 265 696.53 262C696.12 259 695.78 255.67 695.83 252C695.88 248.33 696.47 245.17 696.83 240C697.2 234.83 697.62 228.67 698.03 221C698.45 213.33 698.72 203 699.33 194C699.95 185 701.12 173.95 701.73 167C702.35 160.05 702.82 154.75 703.03 152.3Z" fill="#999999" stroke="#4a4a4a" stroke-width="0.75"/>
<line x1="719.6" y1="155" x2="719.6" y2="255.6" stroke="#4a4a4a" stroke-width="0.9"/>
<path d="M719.9 155C720.48 156.67 722.25 161.67 723.4 165C724.55 168.33 726.51 171.67 726.8 175C727.08 178.33 725.76 181.83 725.1 185C724.43 188.17 723.46 191 722.8 194C722.13 197 721.46 200.33 721.1 203C720.73 205.67 720.68 203 720.6 210C720.51 217 720.68 238.33 720.6 245C720.51 251.67 720.18 249.17 720.1 250L719.1 250C719.01 249.17 718.68 251.67 718.6 245C718.51 238.33 718.68 217 718.6 210C718.51 203 718.46 205.67 718.1 203C717.73 200.33 717.06 197 716.4 194C715.73 191 714.76 188.17 714.1 185C713.43 181.83 712.11 178.33 712.4 175C712.68 171.67 714.65 168.33 715.8 165C716.95 161.67 718.71 156.67 719.3 155Z" fill="#999999" stroke="#4a4a4a" stroke-width="0.75"/>
<path d="M740.36 170.2C740.74 171.5 742.16 175.4 742.66 178C743.16 180.6 743.41 182.8 743.36 185.8C743.31 188.8 742.84 192.4 742.36 196C741.88 199.6 741.08 203.25 740.46 207.4C739.84 211.55 738.94 216.47 738.66 220.9C738.38 225.33 738.71 229.5 738.76 234C738.81 238.5 738.81 243.33 738.96 247.9C739.11 252.47 739.86 256.92 739.66 261.4C739.46 265.88 738.26 270.37 737.76 274.8C737.26 279.23 736.93 284.8 736.66 288C736.39 291.2 736.24 293 736.16 294L735.56 294C735.48 293 735.33 291.2 735.06 288C734.79 284.8 734.46 279.23 733.96 274.8C733.46 270.37 732.26 265.88 732.06 261.4C731.86 256.92 732.61 252.47 732.76 247.9C732.91 243.33 732.91 238.5 732.96 234C733.01 229.5 733.34 225.33 733.06 220.9C732.78 216.47 731.88 211.55 731.26 207.4C730.64 203.25 729.84 199.6 729.36 196C728.88 192.4 728.41 188.8 728.36 185.8C728.31 182.8 728.56 180.6 729.06 178C729.56 175.4 730.98 171.5 731.36 170.2Z" fill="#999999" stroke="#4a4a4a" stroke-width="0.75"/>
<path d="M756.42 168.3C756.76 169.58 757.92 173.08 758.42 176C758.92 178.92 759.44 182.47 759.42 185.8C759.41 189.13 758.87 192.4 758.32 196C757.77 199.6 756.57 203.4 756.12 207.4C755.67 211.4 755.71 215.5 755.62 220C755.54 224.5 755.76 227.5 755.62 234.4C755.49 241.3 755.21 254.13 754.82 261.4C754.44 268.67 753.72 273.73 753.32 278C752.92 282.27 752.57 285.5 752.42 287L751.82 287C751.67 285.5 751.32 282.27 750.92 278C750.52 273.73 749.81 268.67 749.42 261.4C749.04 254.13 748.76 241.3 748.62 234.4C748.49 227.5 748.71 224.5 748.62 220C748.54 215.5 748.57 211.4 748.12 207.4C747.67 203.4 746.47 199.6 745.92 196C745.37 192.4 744.84 189.13 744.82 185.8C744.81 182.47 745.32 178.92 745.82 176C746.32 173.08 747.49 169.58 747.82 168.3Z" fill="#999999" stroke="#4a4a4a" stroke-width="0.75"/>
<line x1="768.39" y1="165.7" x2="768.39" y2="306" stroke="#4a4a4a" stroke-width="0.9"/>
<path d="M768.69 165.7C769.07 166.75 770.4 169.53 770.99 172C771.57 174.47 772.02 177.33 772.19 180.5C772.35 183.67 772.09 187.42 771.99 191C771.89 194.58 771.44 198.5 771.59 202C771.74 205.5 772.2 207.95 772.89 212C773.57 216.05 775.39 222.13 775.69 226.3C775.99 230.47 775.19 233.4 774.69 237C774.19 240.6 773.32 244.07 772.69 247.9C772.05 251.73 771.34 256.42 770.89 260C770.44 263.58 770.27 265.23 769.99 269.4C769.7 273.57 769.37 280.73 769.19 285C769 289.27 768.94 293.33 768.89 295L767.89 295C767.84 293.33 767.77 289.27 767.59 285C767.4 280.73 767.07 273.57 766.79 269.4C766.5 265.23 766.34 263.58 765.89 260C765.44 256.42 764.72 251.73 764.09 247.9C763.45 244.07 762.59 240.6 762.09 237C761.59 233.4 760.79 230.47 761.09 226.3C761.39 222.13 763.2 216.05 763.89 212C764.57 207.95 765.04 205.5 765.19 202C765.34 198.5 764.89 194.58 764.79 191C764.69 187.42 764.42 183.67 764.59 180.5C764.75 177.33 765.2 174.47 765.79 172C766.37 169.53 767.7 166.75 768.09 165.7Z" fill="#999999" stroke="#4a4a4a" stroke-width="0.75"/>
<line x1="784.65" y1="38.8" x2="784.65" y2="292.4" stroke="#4a4a4a" stroke-width="0.9"/>
<path d="M785.05 70.5C785.3 76.38 785.94 94.03 786.55 105.8C787.17 117.57 787.99 130.9 788.75 141.1C789.52 151.3 790.65 161.13 791.15 167C791.65 172.87 791.67 171.82 791.75 176.3C791.84 180.78 791.7 188.02 791.65 193.9C791.6 199.78 791.69 207.1 791.45 211.6C791.22 216.1 790.6 214.85 790.25 220.9C789.9 226.95 789.69 241.38 789.35 247.9C789.02 254.42 788.65 255.52 788.25 260C787.85 264.48 787.42 270.13 786.95 274.8C786.49 279.47 785.79 285.07 785.45 288C785.12 290.93 785.04 291.67 784.95 292.4L784.35 292.4C784.27 291.67 784.19 290.93 783.85 288C783.52 285.07 782.82 279.47 782.35 274.8C781.89 270.13 781.45 264.48 781.05 260C780.65 255.52 780.29 254.42 779.95 247.9C779.62 241.38 779.4 226.95 779.05 220.9C778.7 214.85 778.09 216.1 777.85 211.6C777.62 207.1 777.7 199.78 777.65 193.9C777.6 188.02 777.47 180.78 777.55 176.3C777.64 171.82 777.65 172.87 778.15 167C778.65 161.13 779.79 151.3 780.55 141.1C781.32 130.9 782.14 117.57 782.75 105.8C783.37 94.03 784 76.38 784.25 70.5Z" fill="#666666" stroke="#4a4a4a" stroke-width="0.75"/>
<line x1="800.92" y1="77.6" x2="800.92" y2="304.5" stroke="#4a4a4a" stroke-width="0.9"/>
<path d="M801.32 114.6C801.52 119.02 802.03 132.37 802.52 141.1C803 149.83 803.88 161.13 804.22 167C804.55 172.87 804.07 171.82 804.52 176.3C804.97 180.78 806.37 188.02 806.92 193.9C807.47 199.78 807.58 207.1 807.82 211.6C808.05 216.1 808.3 214.85 808.32 220.9C808.33 226.95 808.23 241.38 807.92 247.9C807.6 254.42 806.87 255.52 806.42 260C805.97 264.48 805.87 269.18 805.22 274.8C804.57 280.42 803.17 288.75 802.52 293.7C801.87 298.65 801.52 302.7 801.32 304.5L800.52 304.5C800.32 302.7 799.97 298.65 799.32 293.7C798.67 288.75 797.27 280.42 796.62 274.8C795.97 269.18 795.87 264.48 795.42 260C794.97 255.52 794.23 254.42 793.92 247.9C793.6 241.38 793.5 226.95 793.52 220.9C793.53 214.85 793.78 216.1 794.02 211.6C794.25 207.1 794.37 199.78 794.92 193.9C795.47 188.02 796.87 180.78 797.32 176.3C797.77 171.82 797.28 172.87 797.62 167C797.95 161.13 798.83 149.83 799.32 141.1C799.8 132.37 800.32 119.02 800.52 114.6Z" fill="#666666" stroke="#4a4a4a" stroke-width="0.75"/>
<line x1="817.18" y1="77.6" x2="817.18" y2="316" stroke="#4a4a4a" stroke-width="0.9"/>
<path d="M817.58 123.4C817.91 129.28 819.01 149.93 819.58 158.7C820.15 167.47 820.5 170.12 820.98 176C821.46 181.88 821.95 186.52 822.48 194C823.01 201.48 823.83 214.07 824.18 220.9C824.53 227.73 824.61 230.5 824.58 235C824.55 239.5 824.21 243.73 823.98 247.9C823.75 252.07 823.53 255.52 823.18 260C822.83 264.48 822.55 268.73 821.88 274.8C821.21 280.87 819.85 290.53 819.18 296.4C818.51 302.27 818.16 306.73 817.88 310C817.6 313.27 817.55 315 817.48 316L816.88 316C816.81 315 816.76 313.27 816.48 310C816.2 306.73 815.85 302.27 815.18 296.4C814.51 290.53 813.15 280.87 812.48 274.8C811.81 268.73 811.53 264.48 811.18 260C810.83 255.52 810.61 252.07 810.38 247.9C810.15 243.73 809.81 239.5 809.78 235C809.75 230.5 809.83 227.73 810.18 220.9C810.53 214.07 811.35 201.48 811.88 194C812.41 186.52 812.9 181.88 813.38 176C813.86 170.12 814.21 167.47 814.78 158.7C815.35 149.93 816.45 129.28 816.78 123.4Z" fill="#666666" stroke="#4a4a4a" stroke-width="0.75"/>
<line x1="833.44" y1="16.8" x2="833.44" y2="313" stroke="#4a4a4a" stroke-width="0.9"/>
<path d="M833.84 97C834.19 101.4 835.24 113.12 835.94 123.4C836.64 133.68 837.36 146.93 838.04 158.7C838.73 170.47 839.58 183.63 840.04 194C840.51 204.37 840.68 215.03 840.84 220.9C841.01 226.77 841.24 224.7 841.04 229.2C840.84 233.7 840.16 242.77 839.64 247.9C839.13 253.03 838.41 255.52 837.94 260C837.48 264.48 837.38 268.73 836.84 274.8C836.31 280.87 835.26 290.03 834.74 296.4C834.23 302.77 833.91 310.23 833.74 313L833.14 313C832.98 310.23 832.66 302.77 832.14 296.4C831.63 290.03 830.58 280.87 830.04 274.8C829.51 268.73 829.41 264.48 828.94 260C828.48 255.52 827.76 253.03 827.24 247.9C826.73 242.77 826.04 233.7 825.84 229.2C825.64 224.7 825.88 226.77 826.04 220.9C826.21 215.03 826.38 204.37 826.84 194C827.31 183.63 828.16 170.47 828.84 158.7C829.53 146.93 830.24 133.68 830.94 123.4C831.64 113.12 832.69 101.4 833.04 97Z" fill="#666666" stroke="#4a4a4a" stroke-width="0.75"/>
<line x1="849.71" y1="60.8" x2="849.71" y2="308" stroke="#4a4a4a" stroke-width="0.9"/>
<path d="M850.11 114.6C850.51 121.95 851.74 147.8 852.51 158.7C853.27 169.6 854.04 174.12 854.71 180C855.37 185.88 856.11 188.73 856.51 194C856.91 199.27 856.99 207.27 857.11 211.6C857.22 215.93 857.57 216.2 857.21 220C856.84 223.8 855.44 229.9 854.91 234.4C854.37 238.9 854.31 242.5 854.01 247C853.71 251.5 853.52 254.52 853.11 261.4C852.69 268.28 851.94 281.87 851.51 288.3C851.07 294.73 850.76 296.72 850.51 300C850.26 303.28 850.09 306.67 850.01 308L849.41 308C849.32 306.67 849.16 303.28 848.91 300C848.66 296.72 848.34 294.73 847.91 288.3C847.47 281.87 846.72 268.28 846.31 261.4C845.89 254.52 845.71 251.5 845.41 247C845.11 242.5 845.04 238.9 844.51 234.4C843.97 229.9 842.57 223.8 842.21 220C841.84 216.2 842.19 215.93 842.31 211.6C842.42 207.27 842.51 199.27 842.91 194C843.31 188.73 844.04 185.88 844.71 180C845.37 174.12 846.14 169.6 846.91 158.7C847.67 147.8 848.91 121.95 849.31 114.6Z" fill="#666666" stroke="#4a4a4a" stroke-width="0.75"/>
<line x1="865.97" y1="56.4" x2="865.97" y2="369" stroke="#4a4a4a" stroke-width="0.9"/>
<path d="M866.37 88.2C866.74 94.07 867.89 114.77 868.57 123.4C869.26 132.03 869.99 134.12 870.47 140C870.96 145.88 871.14 149.7 871.47 158.7C871.81 167.7 872.22 183.63 872.47 194C872.72 204.37 872.94 211.92 872.97 220.9C873.01 229.88 873.01 238.92 872.67 247.9C872.34 256.88 871.52 265.82 870.97 274.8C870.42 283.78 869.72 294.18 869.37 301.8C869.02 309.42 869.14 312.97 868.87 320.5C868.61 328.03 868.12 340.08 867.77 347C867.42 353.92 867.02 358.33 866.77 362C866.52 365.67 866.36 367.83 866.27 369L865.67 369C865.59 367.83 865.42 365.67 865.17 362C864.92 358.33 864.52 353.92 864.17 347C863.82 340.08 863.34 328.03 863.07 320.5C862.81 312.97 862.92 309.42 862.57 301.8C862.22 294.18 861.52 283.78 860.97 274.8C860.42 265.82 859.61 256.88 859.27 247.9C858.94 238.92 858.94 229.88 858.97 220.9C859.01 211.92 859.22 204.37 859.47 194C859.72 183.63 860.14 167.7 860.47 158.7C860.81 149.7 860.99 145.88 861.47 140C861.96 134.12 862.69 132.03 863.37 123.4C864.06 114.77 865.21 94.07 865.57 88.2Z" fill="#666666" stroke="#4a4a4a" stroke-width="0.75"/>
<line x1="882.24" y1="34.4" x2="882.24" y2="291.3" stroke="#4a4a4a" stroke-width="0.9"/>
<path d="M882.64 88.2C882.97 94.07 884 114.77 884.64 123.4C885.27 132.03 885.84 132.73 886.44 140C887.04 147.27 887.74 158 888.24 167C888.74 176 889.34 185 889.44 194C889.54 203 889.17 212 888.84 221C888.5 230 887.87 241.17 887.44 248C887 254.83 886.69 257.5 886.24 262C885.79 266.5 885.24 271.17 884.74 275C884.24 278.83 883.6 282.28 883.24 285C882.87 287.72 882.65 290.25 882.54 291.3L881.94 291.3C881.82 290.25 881.6 287.72 881.24 285C880.87 282.28 880.24 278.83 879.74 275C879.24 271.17 878.69 266.5 878.24 262C877.79 257.5 877.47 254.83 877.04 248C876.6 241.17 875.97 230 875.64 221C875.3 212 874.94 203 875.04 194C875.14 185 875.74 176 876.24 167C876.74 158 877.44 147.27 878.04 140C878.64 132.73 879.2 132.03 879.84 123.4C880.47 114.77 881.5 94.07 881.84 88.2Z" fill="#666666" stroke="#4a4a4a" stroke-width="0.75"/>
<line x1="898.5" y1="72.2" x2="898.5" y2="318.1" stroke="#4a4a4a" stroke-width="0.9"/>
<path d="M898.9 114.6C899.2 117.98 900.07 127.03 900.7 134.9C901.33 142.77 902.15 152.82 902.7 161.8C903.25 170.78 903.6 179.8 904 188.8C904.4 197.8 904.82 206.8 905.1 215.8C905.38 224.8 905.55 235.43 905.7 242.8C905.85 250.17 906.12 254.3 906 260C905.88 265.7 905.65 270.8 905 277C904.35 283.2 903.02 291.37 902.1 297.2C901.18 303.03 900.05 308.52 899.5 312C898.95 315.48 898.92 317.08 898.8 318.1L898.2 318.1C898.08 317.08 898.05 315.48 897.5 312C896.95 308.52 895.82 303.03 894.9 297.2C893.98 291.37 892.65 283.2 892 277C891.35 270.8 891.12 265.7 891 260C890.88 254.3 891.15 250.17 891.3 242.8C891.45 235.43 891.62 224.8 891.9 215.8C892.18 206.8 892.6 197.8 893 188.8C893.4 179.8 893.75 170.78 894.3 161.8C894.85 152.82 895.67 142.77 896.3 134.9C896.93 127.03 897.8 117.98 898.1 114.6Z" fill="#666666" stroke="#4a4a4a" stroke-width="0.75"/>
<line x1="914.76" y1="179.4" x2="914.76" y2="498.1" stroke="#4a4a4a" stroke-width="0.9"/>
<path d="M915.16 283.7C915.36 289.32 916.03 305.03 916.36 317.4C916.7 329.77 916.93 344.42 917.16 357.9C917.4 371.38 917.28 387.07 917.76 398.3C918.25 409.53 919.36 416.3 920.06 425.3C920.76 434.3 922.03 444.43 921.96 452.3C921.9 460.17 920.65 465.77 919.66 472.5C918.68 479.23 916.83 488.43 916.06 492.7C915.3 496.97 915.23 497.2 915.06 498.1L914.46 498.1C914.3 497.2 914.23 496.97 913.46 492.7C912.7 488.43 910.85 479.23 909.86 472.5C908.88 465.77 907.63 460.17 907.56 452.3C907.5 444.43 908.76 434.3 909.46 425.3C910.16 416.3 911.28 409.53 911.76 398.3C912.25 387.07 912.13 371.38 912.36 357.9C912.6 344.42 912.83 329.77 913.16 317.4C913.5 305.03 914.16 289.32 914.36 283.7Z" fill="#0b6b0b" stroke="#4a4a4a" stroke-width="0.75"/>
<line x1="931.03" y1="206.3" x2="931.03" y2="496.8" stroke="#4a4a4a" stroke-width="0.9"/>
<path d="M931.43 317.4C931.53 321.9 931.79 335.4 932.03 344.4C932.26 353.4 932.53 362.42 932.83 371.4C933.13 380.38 933.18 389.32 933.83 398.3C934.48 407.28 936.01 416.3 936.73 425.3C937.44 434.3 938.31 444.43 938.13 452.3C937.94 460.17 936.53 466.88 935.63 472.5C934.73 478.12 933.44 481.95 932.73 486C932.01 490.05 931.56 495 931.33 496.8L930.73 496.8C930.49 495 930.04 490.05 929.33 486C928.61 481.95 927.33 478.12 926.43 472.5C925.53 466.88 924.11 460.17 923.93 452.3C923.74 444.43 924.61 434.3 925.33 425.3C926.04 416.3 927.58 407.28 928.23 398.3C928.88 389.32 928.93 380.38 929.23 371.4C929.53 362.42 929.79 353.4 930.03 344.4C930.26 335.4 930.53 321.9 930.63 317.4Z" fill="#0b6b0b" stroke="#4a4a4a" stroke-width="0.75"/>
<line x1="947.29" y1="151" x2="947.29" y2="246.8" stroke="#4a4a4a" stroke-width="0.9"/>
<path d="M947.69 159.1C948.16 160.68 949.49 164.78 950.49 168.6C951.49 172.42 952.99 177.52 953.69 182C954.39 186.48 954.89 191 954.69 195.5C954.49 200 953.31 204.5 952.49 209C951.68 213.5 950.54 218 949.79 222.5C949.04 227 948.34 233.08 947.99 236C947.64 238.92 947.74 239.33 947.69 240L946.89 240C946.84 239.33 946.94 238.92 946.59 236C946.24 233.08 945.54 227 944.79 222.5C944.04 218 942.91 213.5 942.09 209C941.28 204.5 940.09 200 939.89 195.5C939.69 191 940.19 186.48 940.89 182C941.59 177.52 943.09 172.42 944.09 168.6C945.09 164.78 946.43 160.68 946.89 159.1Z" fill="#ebc8ee" stroke="#4a4a4a" stroke-width="0.75"/>
<line x1="963.56" y1="156.4" x2="963.56" y2="246.8" stroke="#4a4a4a" stroke-width="0.9"/>
<path d="M963.96 169.9C964.47 171.92 965.97 177.73 967.06 182C968.14 186.27 970.29 191 970.46 195.5C970.62 200 968.94 205.17 968.06 209C967.17 212.83 965.81 215.33 965.16 218.5C964.51 221.67 964.36 225.75 964.16 228C963.96 230.25 963.99 231.33 963.96 232L963.16 232C963.12 231.33 963.16 230.25 962.96 228C962.76 225.75 962.61 221.67 961.96 218.5C961.31 215.33 959.94 212.83 959.06 209C958.17 205.17 956.49 200 956.66 195.5C956.82 191 958.97 186.27 960.06 182C961.14 177.73 962.64 171.92 963.16 169.9Z" fill="#ebc8ee" stroke="#4a4a4a" stroke-width="0.75"/>
<line x1="979.82" y1="164.5" x2="979.82" y2="245.4" stroke="#4a4a4a" stroke-width="0.9"/>
<path d="M980.22 171.3C981.05 173.08 984.05 179.08 985.22 182C986.39 184.92 987.45 185.87 987.22 188.8C986.99 191.73 984.74 196.23 983.82 199.6C982.9 202.97 982.25 205.85 981.72 209C981.19 212.15 980.85 215.83 980.62 218.5C980.39 221.17 980.37 223.92 980.32 225L979.32 225C979.27 223.92 979.25 221.17 979.02 218.5C978.79 215.83 978.45 212.15 977.92 209C977.39 205.85 976.74 202.97 975.82 199.6C974.9 196.23 972.65 191.73 972.42 188.8C972.19 185.87 973.25 184.92 974.42 182C975.59 179.08 978.59 173.08 979.42 171.3Z" fill="#ebc8ee" stroke="#4a4a4a" stroke-width="0.75"/>
<text transform="translate(91 658.6) rotate(-90)" font-size="16" text-anchor="end" fill="#cc4088">OVCA NYU1</text>
<text transform="translate(107.26 658.6) rotate(-90)" font-size="16" text-anchor="end" fill="#cc4088">OVCA NYU2</text>
<text transform="translate(123.53 658.6) rotate(-90)" font-size="16" text-anchor="end" fill="#cc4088">OVCA NYU3</text>
<text transform="translate(139.79 658.6) rotate(-90)" font-size="16" text-anchor="end" fill="#c8101a">UCEC NYU1</text>
<text transform="translate(156.06 658.6) rotate(-90)" font-size="16" text-anchor="end" fill="#c8101a">UCEC NYU2</text>
<text transform="translate(172.32 658.6) rotate(-90)" font-size="16" text-anchor="end" fill="#c8101a">UCEC NYU3</text>
<text transform="translate(188.58 658.6) rotate(-90)" font-size="16" text-anchor="end" fill="#d07a14">BRCA NYU0</text>
<text transform="translate(204.85 658.6) rotate(-90)" font-size="16" text-anchor="end" fill="#d07a14">BRCA NYU1</text>
<text transform="translate(221.11 658.6) rotate(-90)" font-size="16" text-anchor="end" fill="#d07a14">BRCA NYU2</text>
<text transform="translate(237.38 658.6) rotate(-90)" font-size="16" text-anchor="end" fill="#d07a14">BRCA NYU3</text>
<text transform="translate(253.64 658.6) rotate(-90)" font-size="16" text-anchor="end" fill="#1f4f8c">PDAC NYU1</text>
<text transform="translate(269.9 658.6) rotate(-90)" font-size="16" text-anchor="end" fill="#1f4f8c">PDAC NYU2</text>
<text transform="translate(286.17 658.6) rotate(-90)" font-size="16" text-anchor="end" fill="#1f4f8c">PDAC NYU3</text>
<text transform="translate(302.43 658.6) rotate(-90)" font-size="16" text-anchor="end" fill="#1f4f8c">PDAC LinP3</text>
<text transform="translate(318.7 658.6) rotate(-90)" font-size="16" text-anchor="end" fill="#1f4f8c">PDAC LinP4</text>
<text transform="translate(334.96 658.6) rotate(-90)" font-size="16" text-anchor="end" fill="#1f4f8c">PDAC LinP6</text>
<text transform="translate(351.22 658.6) rotate(-90)" font-size="16" text-anchor="end" fill="#1f4f8c">PDAC LinP8</text>
<text transform="translate(367.49 658.6) rotate(-90)" font-size="16" text-anchor="end" fill="#1f4f8c">PDAC LinP9</text>
<text transform="translate(383.75 658.6) rotate(-90)" font-size="16" text-anchor="end" fill="#1f4f8c">PDAC LinP10</text>
<text transform="translate(400.02 658.6) rotate(-90)" font-size="16" text-anchor="end" fill="#7fa6cc">COAD NYU1</text>
<text transform="translate(416.28 658.6) rotate(-90)" font-size="16" text-anchor="end" fill="#18bcc4">LIHC NYU1</text>
<text transform="translate(432.54 658.6) rotate(-90)" font-size="16" text-anchor="end" fill="#18bcc4">LIHC Sharma7</text>
<text transform="translate(448.81 658.6) rotate(-90)" font-size="16" text-anchor="end" fill="#18bcc4">LIHC Sharma9</text>
<text transform="translate(465.07 658.6) rotate(-90)" font-size="16" text-anchor="end" fill="#18bcc4">LIHC Sharma14</text>
<text transform="translate(481.34 658.6) rotate(-90)" font-size="16" text-anchor="end" fill="#9ccc9c">CHCA Zhang18</text>
<text transform="translate(497.6 658.6) rotate(-90)" font-size="16" text-anchor="end" fill="#9ccc9c">CHCA Zhang20</text>
<text transform="translate(513.86 658.6) rotate(-90)" font-size="16" text-anchor="end" fill="#9ccc9c">CHCA Zhang23</text>
<text transform="translate(530.13 658.6) rotate(-90)" font-size="16" text-anchor="end" fill="#9ccc9c">CHCA Zhang241</text>
<text transform="translate(546.39 658.6) rotate(-90)" font-size="16" text-anchor="end" fill="#9ccc9c">CHCA Zhang242</text>
<text transform="translate(562.66 658.6) rotate(-90)" font-size="16" text-anchor="end" fill="#efb020">PRAD NYU1</text>
<text transform="translate(578.92 658.6) rotate(-90)" font-size="16" text-anchor="end" fill="#c49018">KIRC NYU1</text>
<text transform="translate(595.18 658.6) rotate(-90)" font-size="16" text-anchor="end" fill="#9035c0">LUAD KimT18</text>
<text transform="translate(611.45 658.6) rotate(-90)" font-size="16" text-anchor="end" fill="#9035c0">LUAD KimT20</text>
<text transform="translate(627.71 658.6) rotate(-90)" font-size="16" text-anchor="end" fill="#9035c0">LUAD KimT30</text>
<text transform="translate(643.98 658.6) rotate(-90)" font-size="16" text-anchor="end" fill="#9035c0">LUAD KimT34</text>
<text transform="translate(660.24 658.6) rotate(-90)" font-size="16" text-anchor="end" fill="#9c9c9c">HNSC Puram5</text>
<text transform="translate(676.5 658.6) rotate(-90)" font-size="16" text-anchor="end" fill="#9c9c9c">HNSC Puram6</text>
<text transform="translate(692.77 658.6) rotate(-90)" font-size="16" text-anchor="end" fill="#9c9c9c">HNSC Puram17</text>
<text transform="translate(709.03 658.6) rotate(-90)" font-size="16" text-anchor="end" fill="#9c9c9c">HNSC Puram18</text>
<text transform="translate(725.3 658.6) rotate(-90)" font-size="16" text-anchor="end" fill="#9c9c9c">HNSC Puram20</text>
<text transform="translate(741.56 658.6) rotate(-90)" font-size="16" text-anchor="end" fill="#9c9c9c">HNSC Puram22</text>
<text transform="translate(757.82 658.6) rotate(-90)" font-size="16" text-anchor="end" fill="#9c9c9c">HNSC Puram26</text>
<text transform="translate(774.09 658.6) rotate(-90)" font-size="16" text-anchor="end" fill="#9c9c9c">HNSC Puram28</text>
<text transform="translate(790.35 658.6) rotate(-90)" font-size="16" text-anchor="end" fill="#505050">SKSC Ji1</text>
<text transform="translate(806.62 658.6) rotate(-90)" font-size="16" text-anchor="end" fill="#505050">SKSC Ji2</text>
<text transform="translate(822.88 658.6) rotate(-90)" font-size="16" text-anchor="end" fill="#505050">SKSC Ji4</text>
<text transform="translate(839.14 658.6) rotate(-90)" font-size="16" text-anchor="end" fill="#505050">SKSC Ji6</text>
<text transform="translate(855.41 658.6) rotate(-90)" font-size="16" text-anchor="end" fill="#505050">SKSC Ji7</text>
<text transform="translate(871.67 658.6) rotate(-90)" font-size="16" text-anchor="end" fill="#505050">SKSC Ji8</text>
<text transform="translate(887.94 658.6) rotate(-90)" font-size="16" text-anchor="end" fill="#505050">SKSC Ji9</text>
<text transform="translate(904.2 658.6) rotate(-90)" font-size="16" text-anchor="end" fill="#505050">SKSC Ji10</text>
<text transform="translate(920.46 658.6) rotate(-90)" font-size="16" text-anchor="end" fill="#126a12">GIST NYU1</text>
<text transform="translate(936.73 658.6) rotate(-90)" font-size="16" text-anchor="end" fill="#126a12">GIST NYU2</text>
<text transform="translate(952.99 658.6) rotate(-90)" font-size="16" text-anchor="end" fill="#ecd0ee">OGD TiroshMGH36</text>
<text transform="translate(969.26 658.6) rotate(-90)" font-size="16" text-anchor="end" fill="#ecd0ee">OGD TiroshMGH53</text>
<text transform="translate(985.52 658.6) rotate(-90)" font-size="16" text-anchor="end" fill="#ecd0ee">OGD TiroshMGH54</text>
<g stroke="#555" stroke-width="1.1" fill="none">
<line x1="75.7" y1="864.8" x2="75.7" y2="1505.0"/>
<line x1="75.2" y1="1504.5" x2="989.8" y2="1504.5"/>
<line x1="71.4" y1="922.4" x2="75.7" y2="922.4"/>
<line x1="71.4" y1="1114" x2="75.7" y2="1114"/>
<line x1="71.4" y1="1305.6" x2="75.7" y2="1305.6"/>
<line x1="71.4" y1="1497.1" x2="75.7" y2="1497.1"/>
<line x1="85.3" y1="1504.5" x2="85.3" y2="1508.0"/>
<line x1="101.56" y1="1504.5" x2="101.56" y2="1508.0"/>
<line x1="117.83" y1="1504.5" x2="117.83" y2="1508.0"/>
<line x1="134.09" y1="1504.5" x2="134.09" y2="1508.0"/>
<line x1="150.36" y1="1504.5" x2="150.36" y2="1508.0"/>
<line x1="166.62" y1="1504.5" x2="166.62" y2="1508.0"/>
<line x1="182.88" y1="1504.5" x2="182.88" y2="1508.0"/>
<line x1="199.15" y1="1504.5" x2="199.15" y2="1508.0"/>
<line x1="215.41" y1="1504.5" x2="215.41" y2="1508.0"/>
<line x1="231.68" y1="1504.5" x2="231.68" y2="1508.0"/>
<line x1="247.94" y1="1504.5" x2="247.94" y2="1508.0"/>
<line x1="264.2" y1="1504.5" x2="264.2" y2="1508.0"/>
<line x1="280.47" y1="1504.5" x2="280.47" y2="1508.0"/>
<line x1="296.73" y1="1504.5" x2="296.73" y2="1508.0"/>
<line x1="313" y1="1504.5" x2="313" y2="1508.0"/>
<line x1="329.26" y1="1504.5" x2="329.26" y2="1508.0"/>
<line x1="345.52" y1="1504.5" x2="345.52" y2="1508.0"/>
<line x1="361.79" y1="1504.5" x2="361.79" y2="1508.0"/>
<line x1="378.05" y1="1504.5" x2="378.05" y2="1508.0"/>
<line x1="394.32" y1="1504.5" x2="394.32" y2="1508.0"/>
<line x1="410.58" y1="1504.5" x2="410.58" y2="1508.0"/>
<line x1="426.84" y1="1504.5" x2="426.84" y2="1508.0"/>
<line x1="443.11" y1="1504.5" x2="443.11" y2="1508.0"/>
<line x1="459.37" y1="1504.5" x2="459.37" y2="1508.0"/>
<line x1="475.64" y1="1504.5" x2="475.64" y2="1508.0"/>
<line x1="491.9" y1="1504.5" x2="491.9" y2="1508.0"/>
<line x1="508.16" y1="1504.5" x2="508.16" y2="1508.0"/>
<line x1="524.43" y1="1504.5" x2="524.43" y2="1508.0"/>
<line x1="540.69" y1="1504.5" x2="540.69" y2="1508.0"/>
<line x1="556.96" y1="1504.5" x2="556.96" y2="1508.0"/>
<line x1="573.22" y1="1504.5" x2="573.22" y2="1508.0"/>
<line x1="589.48" y1="1504.5" x2="589.48" y2="1508.0"/>
<line x1="605.75" y1="1504.5" x2="605.75" y2="1508.0"/>
<line x1="622.01" y1="1504.5" x2="622.01" y2="1508.0"/>
<line x1="638.28" y1="1504.5" x2="638.28" y2="1508.0"/>
<line x1="654.54" y1="1504.5" x2="654.54" y2="1508.0"/>
<line x1="670.8" y1="1504.5" x2="670.8" y2="1508.0"/>
<line x1="687.07" y1="1504.5" x2="687.07" y2="1508.0"/>
<line x1="703.33" y1="1504.5" x2="703.33" y2="1508.0"/>
<line x1="719.6" y1="1504.5" x2="719.6" y2="1508.0"/>
<line x1="735.86" y1="1504.5" x2="735.86" y2="1508.0"/>
<line x1="752.12" y1="1504.5" x2="752.12" y2="1508.0"/>
<line x1="768.39" y1="1504.5" x2="768.39" y2="1508.0"/>
<line x1="784.65" y1="1504.5" x2="784.65" y2="1508.0"/>
<line x1="800.92" y1="1504.5" x2="800.92" y2="1508.0"/>
<line x1="817.18" y1="1504.5" x2="817.18" y2="1508.0"/>
<line x1="833.44" y1="1504.5" x2="833.44" y2="1508.0"/>
<line x1="849.71" y1="1504.5" x2="849.71" y2="1508.0"/>
<line x1="865.97" y1="1504.5" x2="865.97" y2="1508.0"/>
<line x1="882.24" y1="1504.5" x2="882.24" y2="1508.0"/>
<line x1="898.5" y1="1504.5" x2="898.5" y2="1508.0"/>
<line x1="914.76" y1="1504.5" x2="914.76" y2="1508.0"/>
<line x1="931.03" y1="1504.5" x2="931.03" y2="1508.0"/>
<line x1="947.29" y1="1504.5" x2="947.29" y2="1508.0"/>
<line x1="963.56" y1="1504.5" x2="963.56" y2="1508.0"/>
<line x1="979.82" y1="1504.5" x2="979.82" y2="1508.0"/>
</g>
<text x="60.8" y="928" font-size="24" text-anchor="end" fill="#000">10</text>
<text x="61.6" y="919" font-size="14" fill="#000">4</text>
<text x="60.8" y="1119.6" font-size="24" text-anchor="end" fill="#000">10</text>
<text x="61.6" y="1110.6" font-size="14" fill="#000">3</text>
<text x="60.8" y="1311.2" font-size="24" text-anchor="end" fill="#000">10</text>
<text x="61.6" y="1302.2" font-size="14" fill="#000">2</text>
<text x="69.8" y="1502.7" font-size="24" text-anchor="end" fill="#000">10</text>
<text transform="translate(18.6 1239.4) rotate(-90)" font-size="22" text-anchor="middle" fill="#000">Genes per cell</text>
<line x1="85.3" y1="1033.7" x2="85.3" y2="1327.2" stroke="#4a4a4a" stroke-width="0.9"/>
<path d="M85.7 1036C85.88 1037 86.45 1039.67 86.8 1042C87.15 1044.33 87.45 1047 87.8 1050C88.15 1053 88.43 1055.78 88.9 1060C89.37 1064.22 90.15 1069.97 90.6 1075.3C91.05 1080.63 91.35 1086.13 91.6 1092C91.85 1097.87 92.02 1101.53 92.1 1110.5C92.18 1119.47 92.3 1134.03 92.1 1145.8C91.9 1157.57 91.67 1172.28 90.9 1181.1C90.13 1189.92 88.33 1194.3 87.5 1198.7C86.67 1203.1 86.2 1205.28 85.9 1207.5C85.6 1209.72 85.73 1211.25 85.7 1212L84.9 1212C84.87 1211.25 85 1209.72 84.7 1207.5C84.4 1205.28 83.93 1203.1 83.1 1198.7C82.27 1194.3 80.47 1189.92 79.7 1181.1C78.93 1172.28 78.7 1157.57 78.5 1145.8C78.3 1134.03 78.42 1119.47 78.5 1110.5C78.58 1101.53 78.75 1097.87 79 1092C79.25 1086.13 79.55 1080.63 80 1075.3C80.45 1069.97 81.23 1064.22 81.7 1060C82.17 1055.78 82.45 1053 82.8 1050C83.15 1047 83.45 1044.33 83.8 1042C84.15 1039.67 84.72 1037 84.9 1036Z" fill="#d43a80" stroke="#4a4a4a" stroke-width="0.75"/>
<line x1="101.56" y1="1009" x2="101.56" y2="1238.4" stroke="#4a4a4a" stroke-width="0.9"/>
<path d="M101.96 1020C102.25 1023.33 103.2 1033.33 103.66 1040C104.13 1046.67 104.26 1054.12 104.76 1060C105.26 1065.88 106.05 1066.88 106.66 1075.3C107.28 1083.72 108.11 1098.75 108.46 1110.5C108.81 1122.25 108.71 1134.03 108.76 1145.8C108.81 1157.57 109.23 1172.28 108.76 1181.1C108.3 1189.92 106.93 1192.83 105.96 1198.7C105 1204.57 103.65 1209.68 102.96 1216.3C102.28 1222.92 102.05 1234.72 101.86 1238.4L101.26 1238.4C101.08 1234.72 100.85 1222.92 100.16 1216.3C99.48 1209.68 98.13 1204.57 97.16 1198.7C96.2 1192.83 94.83 1189.92 94.36 1181.1C93.9 1172.28 94.31 1157.57 94.36 1145.8C94.41 1134.03 94.31 1122.25 94.66 1110.5C95.01 1098.75 95.85 1083.72 96.46 1075.3C97.08 1066.88 97.86 1065.88 98.36 1060C98.86 1054.12 99 1046.67 99.46 1040C99.93 1033.33 100.88 1023.33 101.16 1020Z" fill="#d43a80" stroke="#4a4a4a" stroke-width="0.75"/>
<line x1="117.83" y1="1020.5" x2="117.83" y2="1251.6" stroke="#4a4a4a" stroke-width="0.9"/>
<path d="M118.23 1025C118.53 1027.5 119.51 1034.17 120.03 1040C120.54 1045.83 121.03 1054.12 121.33 1060C121.63 1065.88 121.53 1066.88 121.83 1075.3C122.13 1083.72 122.81 1098.75 123.13 1110.5C123.44 1122.25 123.44 1134.03 123.73 1145.8C124.02 1157.57 124.79 1169.35 124.88 1181.1C124.96 1192.85 124.92 1207.48 124.23 1216.3C123.54 1225.12 121.74 1228.12 120.73 1234C119.71 1239.88 118.56 1248.67 118.13 1251.6L117.53 1251.6C117.09 1248.67 115.94 1239.88 114.93 1234C113.91 1228.12 112.12 1225.12 111.43 1216.3C110.74 1207.48 110.69 1192.85 110.78 1181.1C110.86 1169.35 111.64 1157.57 111.93 1145.8C112.22 1134.03 112.21 1122.25 112.53 1110.5C112.84 1098.75 113.53 1083.72 113.83 1075.3C114.13 1066.88 114.03 1065.88 114.33 1060C114.63 1054.12 115.11 1045.83 115.63 1040C116.14 1034.17 117.13 1027.5 117.43 1025Z" fill="#d43a80" stroke="#4a4a4a" stroke-width="0.75"/>
<line x1="134.09" y1="1032.5" x2="134.09" y2="1299.4" stroke="#4a4a4a" stroke-width="0.9"/>
<path d="M134.49 1050C134.73 1054.22 135.49 1065.22 135.89 1075.3C136.29 1085.38 136.46 1098.75 136.89 1110.5C137.33 1122.25 137.74 1134.03 138.49 1145.8C139.24 1157.57 141.24 1172.28 141.39 1181.1C141.54 1189.92 140.31 1192.83 139.39 1198.7C138.48 1204.57 136.69 1211.92 135.89 1216.3C135.09 1220.68 134.81 1223.55 134.59 1225L133.59 1225C133.38 1223.55 133.09 1220.68 132.29 1216.3C131.49 1211.92 129.71 1204.57 128.79 1198.7C127.88 1192.83 126.64 1189.92 126.79 1181.1C126.94 1172.28 128.94 1157.57 129.69 1145.8C130.44 1134.03 130.86 1122.25 131.29 1110.5C131.73 1098.75 131.89 1085.38 132.29 1075.3C132.69 1065.22 133.46 1054.22 133.69 1050Z" fill="#d6000d" stroke="#4a4a4a" stroke-width="0.75"/>
<line x1="150.36" y1="1006.7" x2="150.36" y2="1335.3" stroke="#4a4a4a" stroke-width="0.9"/>
<path d="M150.76 1018.7C151.52 1022.25 154.37 1033.52 155.36 1040C156.34 1046.48 156.46 1051.72 156.66 1057.6C156.86 1063.48 156.67 1069.42 156.56 1075.3C156.44 1081.18 156.18 1087.03 155.96 1092.9C155.73 1098.77 155.22 1104.62 155.21 1110.5C155.19 1116.38 155.56 1122.32 155.86 1128.2C156.15 1134.08 156.66 1139.93 156.96 1145.8C157.26 1151.67 157.81 1157.52 157.66 1163.4C157.51 1169.28 156.76 1175.22 156.06 1181.1C155.36 1186.98 154.26 1192.83 153.46 1198.7C152.66 1204.57 151.71 1211.92 151.26 1216.3C150.81 1220.68 150.84 1223.55 150.76 1225L149.96 1225C149.87 1223.55 149.91 1220.68 149.46 1216.3C149.01 1211.92 148.06 1204.57 147.26 1198.7C146.46 1192.83 145.36 1186.98 144.66 1181.1C143.96 1175.22 143.21 1169.28 143.06 1163.4C142.91 1157.52 143.46 1151.67 143.76 1145.8C144.06 1139.93 144.56 1134.08 144.86 1128.2C145.15 1122.32 145.52 1116.38 145.51 1110.5C145.49 1104.62 144.98 1098.77 144.76 1092.9C144.53 1087.03 144.27 1081.18 144.16 1075.3C144.04 1069.42 143.86 1063.48 144.06 1057.6C144.26 1051.72 144.37 1046.48 145.36 1040C146.34 1033.52 149.19 1022.25 149.96 1018.7Z" fill="#d6000d" stroke="#4a4a4a" stroke-width="0.75"/>
<line x1="166.62" y1="1005" x2="166.62" y2="1232.2" stroke="#4a4a4a" stroke-width="0.9"/>
<path d="M167.02 1045C167.22 1047.1 167.67 1049.62 168.22 1057.6C168.77 1065.58 169.64 1081.13 170.32 1092.9C171 1104.67 171.74 1116.45 172.32 1128.2C172.9 1139.95 173.79 1154.58 173.82 1163.4C173.85 1172.22 173.17 1175.22 172.52 1181.1C171.87 1186.98 170.69 1192.83 169.92 1198.7C169.15 1204.57 168.42 1210.72 167.92 1216.3C167.42 1221.88 167.09 1229.55 166.92 1232.2L166.32 1232.2C166.15 1229.55 165.82 1221.88 165.32 1216.3C164.82 1210.72 164.09 1204.57 163.32 1198.7C162.55 1192.83 161.37 1186.98 160.72 1181.1C160.07 1175.22 159.39 1172.22 159.42 1163.4C159.45 1154.58 160.34 1139.95 160.92 1128.2C161.5 1116.45 162.24 1104.67 162.92 1092.9C163.6 1081.13 164.47 1065.58 165.02 1057.6C165.57 1049.62 166.02 1047.1 166.22 1045Z" fill="#d6000d" stroke="#4a4a4a" stroke-width="0.75"/>
<line x1="182.88" y1="1005" x2="182.88" y2="1228.7" stroke="#4a4a4a" stroke-width="0.9"/>
<path d="M183.28 1060C183.48 1062.55 184.23 1066.88 184.48 1075.3C184.73 1083.72 184.43 1098.75 184.78 1110.5C185.13 1122.25 185.87 1136.98 186.58 1145.8C187.3 1154.62 188.53 1157.52 189.08 1163.4C189.64 1169.28 190.23 1175.22 189.93 1181.1C189.63 1186.98 188.16 1192.83 187.28 1198.7C186.41 1204.57 185.37 1211.3 184.68 1216.3C184 1221.3 183.43 1226.63 183.18 1228.7L182.58 1228.7C182.33 1226.63 181.77 1221.3 181.08 1216.3C180.4 1211.3 179.36 1204.57 178.48 1198.7C177.61 1192.83 176.13 1186.98 175.83 1181.1C175.53 1175.22 176.13 1169.28 176.68 1163.4C177.24 1157.52 178.47 1154.62 179.18 1145.8C179.9 1136.98 180.63 1122.25 180.98 1110.5C181.33 1098.75 181.03 1083.72 181.28 1075.3C181.53 1066.88 182.28 1062.55 182.48 1060Z" fill="#d9770a" stroke="#4a4a4a" stroke-width="0.75"/>
<line x1="199.15" y1="1006.7" x2="199.15" y2="1203.1" stroke="#4a4a4a" stroke-width="0.9"/>
<path d="M199.55 1018C200.1 1021.67 201.81 1033.4 202.85 1040C203.88 1046.6 205.23 1051.72 205.75 1057.6C206.26 1063.48 206.38 1069.42 205.95 1075.3C205.51 1081.18 203.95 1087.03 203.15 1092.9C202.35 1098.77 201.63 1104.62 201.15 1110.5C200.66 1116.38 200.48 1121.62 200.25 1128.2C200.01 1134.78 199.83 1146.37 199.75 1150L198.55 1150C198.46 1146.37 198.28 1134.78 198.05 1128.2C197.81 1121.62 197.63 1116.38 197.15 1110.5C196.66 1104.62 195.95 1098.77 195.15 1092.9C194.35 1087.03 192.78 1081.18 192.35 1075.3C191.91 1069.42 192.03 1063.48 192.55 1057.6C193.06 1051.72 194.41 1046.6 195.45 1040C196.48 1033.4 198.2 1021.67 198.75 1018Z" fill="#d9770a" stroke="#4a4a4a" stroke-width="0.75"/>
<line x1="215.41" y1="1023.1" x2="215.41" y2="1347.4" stroke="#4a4a4a" stroke-width="0.9"/>
<path d="M215.81 1030C216.25 1032.5 217.48 1038.92 218.41 1045C219.35 1051.08 220.65 1059.98 221.41 1066.5C222.18 1073.02 223.13 1076.77 223.01 1084.1C222.9 1091.43 221.48 1103.15 220.71 1110.5C219.95 1117.85 219 1122.32 218.41 1128.2C217.83 1134.08 217.56 1139.93 217.21 1145.8C216.86 1151.67 216.53 1157.7 216.31 1163.4C216.1 1169.1 215.98 1177.23 215.91 1180L214.91 1180C214.85 1177.23 214.73 1169.1 214.51 1163.4C214.3 1157.7 213.96 1151.67 213.61 1145.8C213.26 1139.93 213 1134.08 212.41 1128.2C211.83 1122.32 210.88 1117.85 210.11 1110.5C209.35 1103.15 207.93 1091.43 207.81 1084.1C207.7 1076.77 208.65 1073.02 209.41 1066.5C210.18 1059.98 211.48 1051.08 212.41 1045C213.35 1038.92 214.58 1032.5 215.01 1030Z" fill="#d9770a" stroke="#4a4a4a" stroke-width="0.75"/>
<line x1="231.68" y1="1021.9" x2="231.68" y2="1235.7" stroke="#4a4a4a" stroke-width="0.9"/>
<path d="M232.08 1080C232.18 1082.15 232.38 1087.82 232.68 1092.9C232.98 1097.98 233.31 1103.15 233.88 1110.5C234.44 1117.85 235.31 1128.18 236.08 1137C236.84 1145.82 238.18 1156.05 238.48 1163.4C238.78 1170.75 238.46 1175.22 237.88 1181.1C237.29 1186.98 235.84 1192.83 234.98 1198.7C234.11 1204.57 233.18 1210.13 232.68 1216.3C232.18 1222.47 232.09 1232.47 231.98 1235.7L231.38 1235.7C231.26 1232.47 231.18 1222.47 230.68 1216.3C230.18 1210.13 229.24 1204.57 228.38 1198.7C227.51 1192.83 226.06 1186.98 225.48 1181.1C224.89 1175.22 224.58 1170.75 224.88 1163.4C225.18 1156.05 226.51 1145.82 227.28 1137C228.04 1128.18 228.91 1117.85 229.48 1110.5C230.04 1103.15 230.38 1097.98 230.68 1092.9C230.98 1087.82 231.18 1082.15 231.28 1080Z" fill="#d9770a" stroke="#4a4a4a" stroke-width="0.75"/>
<line x1="247.94" y1="962.3" x2="247.94" y2="1458" stroke="#4a4a4a" stroke-width="0.9"/>
<path d="M248.34 1013.4C248.69 1016.35 249.67 1025.22 250.44 1031.1C251.21 1036.98 252.31 1042.83 252.94 1048.7C253.57 1054.57 253.9 1060.42 254.24 1066.3C254.58 1072.18 254.91 1076.72 254.99 1084C255.07 1091.28 254.78 1101.45 254.74 1110C254.7 1118.55 254.84 1125.22 254.74 1135.3C254.64 1145.38 254.61 1160.22 254.14 1170.5C253.67 1180.78 252.81 1189.65 251.94 1197C251.07 1204.35 249.54 1210.43 248.94 1214.6C248.34 1218.77 248.44 1220.77 248.34 1222L247.54 1222C247.44 1220.77 247.54 1218.77 246.94 1214.6C246.34 1210.43 244.81 1204.35 243.94 1197C243.07 1189.65 242.21 1180.78 241.74 1170.5C241.27 1160.22 241.24 1145.38 241.14 1135.3C241.04 1125.22 241.18 1118.55 241.14 1110C241.1 1101.45 240.81 1091.28 240.89 1084C240.97 1076.72 241.3 1072.18 241.64 1066.3C241.98 1060.42 242.31 1054.57 242.94 1048.7C243.57 1042.83 244.67 1036.98 245.44 1031.1C246.21 1025.22 247.19 1016.35 247.54 1013.4Z" fill="#1b549a" stroke="#4a4a4a" stroke-width="0.75"/>
<line x1="264.2" y1="969.4" x2="264.2" y2="1433.7" stroke="#4a4a4a" stroke-width="0.9"/>
<path d="M264.6 1027.5C264.95 1031.03 266.07 1042.23 266.7 1048.7C267.34 1055.17 267.99 1060.42 268.4 1066.3C268.82 1072.18 269.09 1076.72 269.2 1084C269.32 1091.28 268.8 1101.45 269.1 1110C269.4 1118.55 270.74 1125.22 271 1135.3C271.27 1145.38 271.25 1160.22 270.7 1170.5C270.15 1180.78 268.59 1189.65 267.7 1197C266.82 1204.35 265.92 1210.43 265.4 1214.6C264.89 1218.77 264.74 1220.77 264.6 1222L263.8 1222C263.67 1220.77 263.52 1218.77 263 1214.6C262.49 1210.43 261.59 1204.35 260.7 1197C259.82 1189.65 258.25 1180.78 257.7 1170.5C257.15 1160.22 257.14 1145.38 257.4 1135.3C257.67 1125.22 259 1118.55 259.3 1110C259.6 1101.45 259.09 1091.28 259.2 1084C259.32 1076.72 259.59 1072.18 260 1066.3C260.42 1060.42 261.07 1055.17 261.7 1048.7C262.34 1042.23 263.45 1031.03 263.8 1027.5Z" fill="#1b549a" stroke="#4a4a4a" stroke-width="0.75"/>
<line x1="280.47" y1="1006.4" x2="280.47" y2="1470.1" stroke="#4a4a4a" stroke-width="0.9"/>
<path d="M280.87 1031C281.2 1033.95 282.13 1042.82 282.87 1048.7C283.61 1054.58 284.62 1060.42 285.32 1066.3C286.02 1072.18 286.73 1076.72 287.07 1084C287.41 1091.28 287.4 1101.45 287.37 1110C287.33 1118.55 287.18 1125.22 286.87 1135.3C286.55 1145.38 285.98 1160.22 285.47 1170.5C284.95 1180.78 284.42 1188.18 283.77 1197C283.12 1205.82 282.05 1217.07 281.57 1223.4C281.08 1229.73 280.98 1233.07 280.87 1235L280.07 1235C279.95 1233.07 279.85 1229.73 279.37 1223.4C278.88 1217.07 277.82 1205.82 277.17 1197C276.52 1188.18 275.98 1180.78 275.47 1170.5C274.95 1160.22 274.38 1145.38 274.07 1135.3C273.75 1125.22 273.6 1118.55 273.57 1110C273.53 1101.45 273.53 1091.28 273.87 1084C274.21 1076.72 274.92 1072.18 275.62 1066.3C276.32 1060.42 277.33 1054.58 278.07 1048.7C278.81 1042.82 279.73 1033.95 280.07 1031Z" fill="#1b549a" stroke="#4a4a4a" stroke-width="0.75"/>
<line x1="296.73" y1="933.2" x2="296.73" y2="1126.5" stroke="#4a4a4a" stroke-width="0.9"/>
<path d="M297.13 951.7C297.58 956.12 299.12 970.85 299.83 978.2C300.55 985.55 301.03 989.93 301.43 995.8C301.83 1001.67 301.84 1007.52 302.23 1013.4C302.62 1019.28 303.58 1025.22 303.78 1031.1C303.98 1036.98 303.87 1042.83 303.43 1048.7C302.99 1054.57 301.85 1060.42 301.13 1066.3C300.42 1072.18 299.77 1078.12 299.13 1084C298.5 1089.88 297.67 1097.48 297.33 1101.6C297 1105.72 297.17 1107.52 297.13 1108.7L296.33 1108.7C296.3 1107.52 296.47 1105.72 296.13 1101.6C295.8 1097.48 294.97 1089.88 294.33 1084C293.7 1078.12 293.05 1072.18 292.33 1066.3C291.62 1060.42 290.47 1054.57 290.03 1048.7C289.59 1042.83 289.48 1036.98 289.68 1031.1C289.88 1025.22 290.84 1019.28 291.23 1013.4C291.62 1007.52 291.63 1001.67 292.03 995.8C292.43 989.93 292.92 985.55 293.63 978.2C294.35 970.85 295.88 956.12 296.33 951.7Z" fill="#1b549a" stroke="#4a4a4a" stroke-width="0.75"/>
<line x1="313" y1="935" x2="313" y2="1232.3" stroke="#4a4a4a" stroke-width="0.9"/>
<path d="M313.4 1057.5C313.55 1061.92 314.03 1075.25 314.3 1084C314.56 1092.75 314.7 1101.45 315 1110C315.3 1118.55 315.45 1125.22 316.1 1135.3C316.75 1145.38 318.24 1161.68 318.9 1170.5C319.55 1179.32 320.25 1182.32 320.05 1188.2C319.85 1194.08 318.65 1199.93 317.7 1205.8C316.74 1211.67 315.03 1218.98 314.3 1223.4C313.56 1227.82 313.46 1230.82 313.3 1232.3L312.7 1232.3C312.53 1230.82 312.43 1227.82 311.7 1223.4C310.96 1218.98 309.25 1211.67 308.3 1205.8C307.34 1199.93 306.15 1194.08 305.95 1188.2C305.75 1182.32 306.44 1179.32 307.1 1170.5C307.75 1161.68 309.25 1145.38 309.9 1135.3C310.55 1125.22 310.7 1118.55 311 1110C311.3 1101.45 311.43 1092.75 311.7 1084C311.96 1075.25 312.45 1061.92 312.6 1057.5Z" fill="#1b549a" stroke="#4a4a4a" stroke-width="0.75"/>
<line x1="329.26" y1="934.1" x2="329.26" y2="1091.9" stroke="#4a4a4a" stroke-width="0.9"/>
<path d="M329.66 957C330.03 960.53 331.04 970.27 331.86 978.2C332.68 986.13 333.82 995.78 334.56 1004.6C335.3 1013.42 336.16 1023.75 336.31 1031.1C336.46 1038.45 336.08 1042.83 335.46 1048.7C334.83 1054.57 333.43 1061.02 332.56 1066.3C331.69 1071.58 330.76 1076.13 330.26 1080.4C329.76 1084.67 329.68 1089.98 329.56 1091.9L328.96 1091.9C328.84 1089.98 328.76 1084.67 328.26 1080.4C327.76 1076.13 326.83 1071.58 325.96 1066.3C325.09 1061.02 323.69 1054.57 323.06 1048.7C322.44 1042.83 322.06 1038.45 322.21 1031.1C322.36 1023.75 323.22 1013.42 323.96 1004.6C324.7 995.78 325.84 986.13 326.66 978.2C327.48 970.27 328.49 960.53 328.86 957Z" fill="#1b549a" stroke="#4a4a4a" stroke-width="0.75"/>
<line x1="345.52" y1="935.8" x2="345.52" y2="1099.8" stroke="#4a4a4a" stroke-width="0.9"/>
<path d="M345.92 957C346.29 960.53 347.38 970.27 348.12 978.2C348.87 986.13 349.71 995.78 350.37 1004.6C351.04 1013.42 351.9 1023.75 352.12 1031.1C352.35 1038.45 352.24 1042.83 351.72 1048.7C351.21 1054.57 349.91 1060.42 349.02 1066.3C348.14 1072.18 346.96 1078.42 346.42 1084C345.89 1089.58 345.92 1097.17 345.82 1099.8L345.22 1099.8C345.12 1097.17 345.16 1089.58 344.62 1084C344.09 1078.42 342.91 1072.18 342.02 1066.3C341.14 1060.42 339.84 1054.57 339.32 1048.7C338.81 1042.83 338.7 1038.45 338.92 1031.1C339.15 1023.75 340.01 1013.42 340.67 1004.6C341.34 995.78 342.18 986.13 342.92 978.2C343.67 970.27 344.76 960.53 345.12 957Z" fill="#1b549a" stroke="#4a4a4a" stroke-width="0.75"/>
<line x1="361.79" y1="935.8" x2="361.79" y2="1137.9" stroke="#4a4a4a" stroke-width="0.9"/>
<path d="M362.19 978.2C362.44 982.6 363.14 995.78 363.69 1004.6C364.24 1013.42 364.89 1022.28 365.49 1031.1C366.09 1039.92 366.73 1048.68 367.29 1057.5C367.85 1066.32 368.72 1076.92 368.84 1084C368.95 1091.08 368.51 1094.4 367.99 1100C367.46 1105.6 366.42 1113.18 365.69 1117.6C364.95 1122.02 364.19 1123.12 363.59 1126.5C362.99 1129.88 362.34 1136 362.09 1137.9L361.49 1137.9C361.24 1136 360.59 1129.88 359.99 1126.5C359.39 1123.12 358.62 1122.02 357.89 1117.6C357.15 1113.18 356.11 1105.6 355.59 1100C355.06 1094.4 354.62 1091.08 354.74 1084C354.85 1076.92 355.73 1066.32 356.29 1057.5C356.85 1048.68 357.49 1039.92 358.09 1031.1C358.69 1022.28 359.34 1013.42 359.89 1004.6C360.44 995.78 361.14 982.6 361.39 978.2Z" fill="#1b549a" stroke="#4a4a4a" stroke-width="0.75"/>
<line x1="378.05" y1="943.8" x2="378.05" y2="1137" stroke="#4a4a4a" stroke-width="0.9"/>
<path d="M378.45 978.2C378.75 982.6 379.47 995.78 380.25 1004.6C381.04 1013.42 382.32 1022.28 383.15 1031.1C383.99 1039.92 385.15 1048.68 385.25 1057.5C385.35 1066.32 384.54 1076.92 383.75 1084C382.97 1091.08 381.14 1095.67 380.55 1100C379.97 1104.33 380.54 1105.83 380.25 1110C379.97 1114.17 379.17 1120.5 378.85 1125C378.54 1129.5 378.44 1135 378.35 1137L377.75 1137C377.67 1135 377.57 1129.5 377.25 1125C376.94 1120.5 376.14 1114.17 375.85 1110C375.57 1105.83 376.14 1104.33 375.55 1100C374.97 1095.67 373.14 1091.08 372.35 1084C371.57 1076.92 370.75 1066.32 370.85 1057.5C370.95 1048.68 372.12 1039.92 372.95 1031.1C373.79 1022.28 375.07 1013.42 375.85 1004.6C376.64 995.78 377.35 982.6 377.65 978.2Z" fill="#1b549a" stroke="#4a4a4a" stroke-width="0.75"/>
<line x1="394.32" y1="981.7" x2="394.32" y2="1261.3" stroke="#4a4a4a" stroke-width="0.9"/>
<path d="M394.72 1013.4C394.95 1019.28 395.68 1036.93 396.12 1048.7C396.55 1060.47 396.85 1073.78 397.32 1084C397.78 1094.22 398.48 1101.45 398.92 1110C399.35 1118.55 399.51 1125.22 399.92 1135.3C400.32 1145.38 401.27 1161.68 401.37 1170.5C401.47 1179.32 400.99 1182.32 400.52 1188.2C400.04 1194.08 399.25 1198.45 398.52 1205.8C397.78 1213.15 396.72 1224.93 396.12 1232.3C395.52 1239.67 395.17 1245.17 394.92 1250C394.67 1254.83 394.67 1259.42 394.62 1261.3L394.02 1261.3C393.97 1259.42 393.97 1254.83 393.72 1250C393.47 1245.17 393.12 1239.67 392.52 1232.3C391.92 1224.93 390.85 1213.15 390.12 1205.8C389.38 1198.45 388.59 1194.08 388.12 1188.2C387.64 1182.32 387.17 1179.32 387.27 1170.5C387.37 1161.68 388.31 1145.38 388.72 1135.3C389.12 1125.22 389.28 1118.55 389.72 1110C390.15 1101.45 390.85 1094.22 391.32 1084C391.78 1073.78 392.08 1060.47 392.52 1048.7C392.95 1036.93 393.68 1019.28 393.92 1013.4Z" fill="#6ea0cd" stroke="#4a4a4a" stroke-width="0.75"/>
<line x1="410.58" y1="998.7" x2="410.58" y2="1244" stroke="#4a4a4a" stroke-width="0.9"/>
<path d="M410.98 1023.4C411.26 1029.28 412.16 1046.93 412.68 1058.7C413.2 1070.47 413.73 1083.78 414.08 1094C414.43 1104.22 414.43 1111.45 414.78 1120C415.13 1128.55 415.7 1135.22 416.18 1145.3C416.66 1155.38 417.71 1171.68 417.63 1180.5C417.55 1189.32 416.56 1192.32 415.68 1198.2C414.81 1204.08 413.15 1210.5 412.38 1215.8C411.61 1221.1 411.3 1227.63 411.08 1230L410.08 1230C409.86 1227.63 409.55 1221.1 408.78 1215.8C408.01 1210.5 406.35 1204.08 405.48 1198.2C404.6 1192.32 403.61 1189.32 403.53 1180.5C403.45 1171.68 404.5 1155.38 404.98 1145.3C405.45 1135.22 406.03 1128.55 406.38 1120C406.73 1111.45 406.73 1104.22 407.08 1094C407.43 1083.78 407.96 1070.47 408.48 1058.7C409 1046.93 409.9 1029.28 410.18 1023.4Z" fill="#14c0c8" stroke="#4a4a4a" stroke-width="0.75"/>
<line x1="426.84" y1="984.6" x2="426.84" y2="1274.9" stroke="#4a4a4a" stroke-width="0.9"/>
<path d="M427.24 1005.8C427.48 1011.67 428.31 1029.25 428.64 1041C428.98 1052.75 428.93 1064.8 429.24 1076.3C429.56 1087.8 430.06 1098.5 430.54 1110C431.03 1121.5 431.64 1133.55 432.14 1145.3C432.64 1157.05 433.25 1168.75 433.54 1180.5C433.84 1192.25 433.94 1205.5 433.89 1215.8C433.84 1226.1 433.8 1234.95 433.24 1242.3C432.69 1249.65 431.36 1254.47 430.54 1259.9C429.73 1265.33 428.71 1272.4 428.34 1274.9L425.34 1274.9C424.98 1272.4 423.96 1265.33 423.14 1259.9C422.33 1254.47 421 1249.65 420.44 1242.3C419.89 1234.95 419.84 1226.1 419.79 1215.8C419.74 1205.5 419.85 1192.25 420.14 1180.5C420.44 1168.75 421.04 1157.05 421.54 1145.3C422.04 1133.55 422.66 1121.5 423.14 1110C423.63 1098.5 424.13 1087.8 424.44 1076.3C424.76 1064.8 424.71 1052.75 425.04 1041C425.38 1029.25 426.21 1011.67 426.44 1005.8Z" fill="#14c0c8" stroke="#4a4a4a" stroke-width="0.75"/>
<line x1="443.11" y1="988.2" x2="443.11" y2="1272.2" stroke="#4a4a4a" stroke-width="0.9"/>
<path d="M443.51 1032.3C443.74 1036.7 444.27 1048.42 444.91 1058.7C445.54 1068.98 446.52 1084.62 447.31 1094C448.09 1103.38 449.06 1107.92 449.61 1115C450.16 1122.08 450.86 1128.52 450.61 1136.5C450.36 1144.48 448.72 1154.08 448.11 1162.9C447.49 1171.72 446.97 1180.58 446.91 1189.4C446.84 1198.22 447.79 1206.98 447.71 1215.8C447.62 1224.62 446.92 1234.95 446.41 1242.3C445.89 1249.65 445.11 1254.92 444.61 1259.9C444.11 1264.88 443.61 1270.15 443.41 1272.2L442.81 1272.2C442.61 1270.15 442.11 1264.88 441.61 1259.9C441.11 1254.92 440.32 1249.65 439.81 1242.3C439.29 1234.95 438.59 1224.62 438.51 1215.8C438.42 1206.98 439.37 1198.22 439.31 1189.4C439.24 1180.58 438.72 1171.72 438.11 1162.9C437.49 1154.08 435.86 1144.48 435.61 1136.5C435.36 1128.52 436.06 1122.08 436.61 1115C437.16 1107.92 438.12 1103.38 438.91 1094C439.69 1084.62 440.67 1068.98 441.31 1058.7C441.94 1048.42 442.47 1036.7 442.71 1032.3Z" fill="#14c0c8" stroke="#4a4a4a" stroke-width="0.75"/>
<line x1="459.37" y1="970.5" x2="459.37" y2="1274" stroke="#4a4a4a" stroke-width="0.9"/>
<path d="M459.77 988.2C460.12 992.6 460.89 1005.8 461.87 1014.6C462.86 1023.4 464.91 1033.65 465.67 1041C466.43 1048.35 466.37 1049.87 466.42 1058.7C466.47 1067.53 466.08 1083.78 465.97 1094C465.86 1104.22 465.74 1111.5 465.77 1120C465.81 1128.5 466.02 1135 466.17 1145C466.32 1155 466.59 1168.33 466.67 1180C466.76 1191.67 466.76 1204.62 466.67 1215C466.59 1225.38 466.76 1234.82 466.17 1242.3C465.59 1249.78 464.06 1254.62 463.17 1259.9C462.29 1265.18 461.26 1271.65 460.87 1274L457.87 1274C457.49 1271.65 456.46 1265.18 455.57 1259.9C454.69 1254.62 453.16 1249.78 452.57 1242.3C451.99 1234.82 452.16 1225.38 452.07 1215C451.99 1204.62 451.99 1191.67 452.07 1180C452.16 1168.33 452.42 1155 452.57 1145C452.72 1135 452.94 1128.5 452.97 1120C453.01 1111.5 452.88 1104.22 452.77 1094C452.66 1083.78 452.27 1067.53 452.32 1058.7C452.37 1049.87 452.31 1048.35 453.07 1041C453.83 1033.65 455.89 1023.4 456.87 1014.6C457.86 1005.8 458.62 992.6 458.97 988.2Z" fill="#14c0c8" stroke="#4a4a4a" stroke-width="0.75"/>
<line x1="475.64" y1="939.7" x2="475.64" y2="1092.2" stroke="#4a4a4a" stroke-width="0.9"/>
<path d="M476.04 956.4C476.78 960.23 479.35 972.05 480.49 979.4C481.62 986.75 482.76 993.17 482.84 1000.5C482.91 1007.83 481.7 1015.17 480.94 1023.4C480.17 1031.63 478.94 1042.55 478.24 1049.9C477.54 1057.25 477.09 1062.48 476.74 1067.5C476.39 1072.52 476.24 1077.92 476.14 1080L475.14 1080C475.04 1077.92 474.89 1072.52 474.54 1067.5C474.19 1062.48 473.74 1057.25 473.04 1049.9C472.34 1042.55 471.1 1031.63 470.34 1023.4C469.57 1015.17 468.36 1007.83 468.44 1000.5C468.51 993.17 469.65 986.75 470.79 979.4C471.92 972.05 474.49 960.23 475.24 956.4Z" fill="#95cc98" stroke="#4a4a4a" stroke-width="0.75"/>
<line x1="491.9" y1="960" x2="491.9" y2="1122.3" stroke="#4a4a4a" stroke-width="0.9"/>
<path d="M492.3 979.4C492.63 983.8 493.48 996.98 494.3 1005.8C495.12 1014.62 496.37 1023.48 497.2 1032.3C498.03 1041.12 499.15 1049.88 499.3 1058.7C499.45 1067.52 498.72 1077.85 498.1 1085.2C497.48 1092.55 496.43 1097.83 495.6 1102.8C494.77 1107.77 493.67 1111.75 493.1 1115C492.53 1118.25 492.35 1121.08 492.2 1122.3L491.6 1122.3C491.45 1121.08 491.27 1118.25 490.7 1115C490.13 1111.75 489.03 1107.77 488.2 1102.8C487.37 1097.83 486.32 1092.55 485.7 1085.2C485.08 1077.85 484.35 1067.52 484.5 1058.7C484.65 1049.88 485.77 1041.12 486.6 1032.3C487.43 1023.48 488.68 1014.62 489.5 1005.8C490.32 996.98 491.17 983.8 491.5 979.4Z" fill="#95cc98" stroke="#4a4a4a" stroke-width="0.75"/>
<line x1="508.16" y1="931.7" x2="508.16" y2="1102.8" stroke="#4a4a4a" stroke-width="0.9"/>
<path d="M508.56 958.2C509.01 963.2 510.45 978.8 511.26 988.2C512.08 997.6 512.73 1005.8 513.46 1014.6C514.2 1023.4 515.51 1033.65 515.66 1041C515.81 1048.35 515.1 1052.82 514.36 1058.7C513.63 1064.58 512.08 1071.88 511.26 1076.3C510.45 1080.72 509.9 1082.08 509.46 1085.2C509.03 1088.32 508.8 1093.37 508.66 1095L507.66 1095C507.53 1093.37 507.3 1088.32 506.86 1085.2C506.43 1082.08 505.88 1080.72 505.06 1076.3C504.25 1071.88 502.7 1064.58 501.96 1058.7C501.23 1052.82 500.51 1048.35 500.66 1041C500.81 1033.65 502.13 1023.4 502.86 1014.6C503.6 1005.8 504.25 997.6 505.06 988.2C505.88 978.8 507.31 963.2 507.76 958.2Z" fill="#95cc98" stroke="#4a4a4a" stroke-width="0.75"/>
<line x1="524.43" y1="940.6" x2="524.43" y2="1116.2" stroke="#4a4a4a" stroke-width="0.9"/>
<path d="M524.83 952.9C525.39 957.32 527.21 970.58 528.23 979.4C529.24 988.22 530.34 996.98 530.93 1005.8C531.51 1014.62 531.88 1023.48 531.73 1032.3C531.58 1041.12 530.78 1051.37 530.03 1058.7C529.28 1066.03 527.99 1071.02 527.23 1076.3C526.46 1081.58 525.81 1086.45 525.43 1090.4C525.04 1094.35 525.01 1098.4 524.93 1100L523.93 1100C523.84 1098.4 523.81 1094.35 523.43 1090.4C523.04 1086.45 522.39 1081.58 521.63 1076.3C520.86 1071.02 519.58 1066.03 518.83 1058.7C518.08 1051.37 517.28 1041.12 517.13 1032.3C516.98 1023.48 517.34 1014.62 517.93 1005.8C518.51 996.98 519.61 988.22 520.63 979.4C521.64 970.58 523.46 957.32 524.03 952.9Z" fill="#95cc98" stroke="#4a4a4a" stroke-width="0.75"/>
<line x1="540.69" y1="943.2" x2="540.69" y2="1093.1" stroke="#4a4a4a" stroke-width="0.9"/>
<path d="M541.09 997C541.54 999.93 542.93 1008.72 543.79 1014.6C544.66 1020.48 545.63 1026.42 546.29 1032.3C546.95 1038.18 547.73 1044.03 547.74 1049.9C547.76 1055.77 547.2 1061.62 546.39 1067.5C545.58 1073.38 543.64 1080.93 542.89 1085.2C542.14 1089.47 542.06 1091.78 541.89 1093.1L539.49 1093.1C539.33 1091.78 539.24 1089.47 538.49 1085.2C537.74 1080.93 535.8 1073.38 534.99 1067.5C534.18 1061.62 533.63 1055.77 533.64 1049.9C533.66 1044.03 534.43 1038.18 535.09 1032.3C535.75 1026.42 536.73 1020.48 537.59 1014.6C538.46 1008.72 539.84 999.93 540.29 997Z" fill="#95cc98" stroke="#4a4a4a" stroke-width="0.75"/>
<line x1="556.96" y1="984.6" x2="556.96" y2="1255.5" stroke="#4a4a4a" stroke-width="0.9"/>
<path d="M557.36 1005.8C557.69 1008.73 558.44 1016.05 559.36 1023.4C560.27 1030.75 562.06 1041.08 562.86 1049.9C563.66 1058.72 563.99 1068.95 564.16 1076.3C564.32 1083.65 564.21 1088.38 563.86 1094C563.51 1099.62 562.26 1102.92 562.06 1110C561.86 1117.08 562.44 1127.68 562.66 1136.5C562.87 1145.32 563.42 1154.08 563.36 1162.9C563.29 1171.72 562.74 1182.05 562.26 1189.4C561.77 1196.75 561.16 1201.13 560.46 1207C559.76 1212.87 558.56 1219.93 558.06 1224.6C557.56 1229.27 557.56 1233.27 557.46 1235L556.46 1235C556.36 1233.27 556.36 1229.27 555.86 1224.6C555.36 1219.93 554.16 1212.87 553.46 1207C552.76 1201.13 552.14 1196.75 551.66 1189.4C551.17 1182.05 550.62 1171.72 550.56 1162.9C550.49 1154.08 551.04 1145.32 551.26 1136.5C551.47 1127.68 552.06 1117.08 551.86 1110C551.66 1102.92 550.41 1099.62 550.06 1094C549.71 1088.38 549.59 1083.65 549.76 1076.3C549.92 1068.95 550.26 1058.72 551.06 1049.9C551.86 1041.08 553.64 1030.75 554.56 1023.4C555.47 1016.05 556.22 1008.73 556.56 1005.8Z" fill="#f5b414" stroke="#4a4a4a" stroke-width="0.75"/>
<line x1="573.22" y1="1009.3" x2="573.22" y2="1218.4" stroke="#4a4a4a" stroke-width="0.9"/>
<path d="M573.62 1037.5C573.94 1040.45 574.9 1049.32 575.52 1055.2C576.14 1061.08 576.97 1067 577.32 1072.8C577.67 1078.6 577.75 1082.92 577.62 1090C577.49 1097.08 576.3 1105.22 576.52 1115.3C576.74 1125.38 578.25 1140.22 578.92 1150.5C579.59 1160.78 580.79 1169.65 580.52 1177C580.25 1184.35 578.32 1189.32 577.32 1194.6C576.32 1199.88 575.15 1204.73 574.52 1208.7C573.89 1212.67 573.69 1216.78 573.52 1218.4L572.92 1218.4C572.75 1216.78 572.55 1212.67 571.92 1208.7C571.29 1204.73 570.12 1199.88 569.12 1194.6C568.12 1189.32 566.19 1184.35 565.92 1177C565.65 1169.65 566.85 1160.78 567.52 1150.5C568.19 1140.22 569.7 1125.38 569.92 1115.3C570.14 1105.22 568.95 1097.08 568.82 1090C568.69 1082.92 568.77 1078.6 569.12 1072.8C569.47 1067 570.3 1061.08 570.92 1055.2C571.54 1049.32 572.5 1040.45 572.82 1037.5Z" fill="#d2961a" stroke="#4a4a4a" stroke-width="0.75"/>
<line x1="589.48" y1="930" x2="589.48" y2="1214" stroke="#4a4a4a" stroke-width="0.9"/>
<path d="M589.88 954.6C590.33 958.13 591.77 966.38 592.58 975.8C593.4 985.22 594.2 999.35 594.78 1011.1C595.37 1022.85 595.79 1033.15 596.08 1046.3C596.38 1059.45 596.5 1078.5 596.53 1090C596.57 1101.5 596.79 1106.68 596.28 1115.3C595.78 1123.92 594.28 1132.88 593.48 1141.7C592.68 1150.52 592 1160.85 591.48 1168.2C590.97 1175.55 590.63 1180.5 590.38 1185.8C590.13 1191.1 590.05 1197.63 589.98 1200L588.98 1200C588.92 1197.63 588.83 1191.1 588.58 1185.8C588.33 1180.5 588 1175.55 587.48 1168.2C586.97 1160.85 586.28 1150.52 585.48 1141.7C584.68 1132.88 583.19 1123.92 582.68 1115.3C582.18 1106.68 582.4 1101.5 582.43 1090C582.47 1078.5 582.59 1059.45 582.88 1046.3C583.18 1033.15 583.6 1022.85 584.18 1011.1C584.77 999.35 585.57 985.22 586.38 975.8C587.2 966.38 588.63 958.13 589.08 954.6Z" fill="#9a2fd0" stroke="#4a4a4a" stroke-width="0.75"/>
<line x1="605.75" y1="938.4" x2="605.75" y2="1252.8" stroke="#4a4a4a" stroke-width="0.9"/>
<path d="M606.15 984.6C606.51 987.55 607.5 996.42 608.35 1002.3C609.2 1008.18 610.61 1014.03 611.25 1019.9C611.88 1025.77 612.18 1031.62 612.15 1037.5C612.11 1043.38 611.43 1046.45 611.05 1055.2C610.66 1063.95 609.56 1079.98 609.85 1090C610.14 1100.02 612.5 1108.15 612.8 1115.3C613.1 1122.45 612.21 1127.03 611.65 1132.9C611.09 1138.77 610.16 1144.62 609.45 1150.5C608.73 1156.38 607.86 1163.28 607.35 1168.2C606.83 1173.12 606.51 1178.03 606.35 1180L605.15 1180C604.98 1178.03 604.66 1173.12 604.15 1168.2C603.63 1163.28 602.76 1156.38 602.05 1150.5C601.33 1144.62 600.41 1138.77 599.85 1132.9C599.29 1127.03 598.4 1122.45 598.7 1115.3C599 1108.15 601.36 1100.02 601.65 1090C601.94 1079.98 600.83 1063.95 600.45 1055.2C600.06 1046.45 599.38 1043.38 599.35 1037.5C599.31 1031.62 599.61 1025.77 600.25 1019.9C600.88 1014.03 602.3 1008.18 603.15 1002.3C604 996.42 604.98 987.55 605.35 984.6Z" fill="#9a2fd0" stroke="#4a4a4a" stroke-width="0.75"/>
<line x1="622.01" y1="976.7" x2="622.01" y2="1266.9" stroke="#4a4a4a" stroke-width="0.9"/>
<path d="M622.41 993.4C622.83 996.35 624.25 1005.22 624.91 1011.1C625.58 1016.98 626.08 1022.83 626.41 1028.7C626.75 1034.57 626.86 1037.75 626.91 1046.3C626.96 1054.85 626.55 1069.97 626.71 1080C626.88 1090.03 627.5 1097.68 627.91 1106.5C628.33 1115.32 629.46 1124.08 629.21 1132.9C628.96 1141.72 627.3 1152.05 626.41 1159.4C625.53 1166.75 624.56 1172.02 623.91 1177C623.26 1181.98 622.75 1187.25 622.51 1189.3L621.51 1189.3C621.28 1187.25 620.76 1181.98 620.11 1177C619.46 1172.02 618.5 1166.75 617.61 1159.4C616.73 1152.05 615.06 1141.72 614.81 1132.9C614.56 1124.08 615.7 1115.32 616.11 1106.5C616.53 1097.68 617.15 1090.03 617.31 1080C617.48 1069.97 617.06 1054.85 617.11 1046.3C617.16 1037.75 617.28 1034.57 617.61 1028.7C617.95 1022.83 618.45 1016.98 619.11 1011.1C619.78 1005.22 621.2 996.35 621.61 993.4Z" fill="#9a2fd0" stroke="#4a4a4a" stroke-width="0.75"/>
<line x1="638.28" y1="946.7" x2="638.28" y2="1180.5" stroke="#4a4a4a" stroke-width="0.9"/>
<path d="M638.68 967C639.16 971.4 640.64 984.58 641.58 993.4C642.51 1002.22 643.61 1012.55 644.28 1019.9C644.94 1027.25 645.44 1030.15 645.58 1037.5C645.71 1044.85 645.46 1056.08 645.08 1064C644.69 1071.92 643.74 1076.45 643.28 1085C642.81 1093.55 642.56 1105.85 642.28 1115.3C641.99 1124.75 641.91 1134.35 641.58 1141.7C641.24 1149.05 640.74 1153.85 640.28 1159.4C639.81 1164.95 639.03 1172.4 638.78 1175L637.78 1175C637.53 1172.4 636.74 1164.95 636.28 1159.4C635.81 1153.85 635.31 1149.05 634.98 1141.7C634.64 1134.35 634.56 1124.75 634.28 1115.3C633.99 1105.85 633.74 1093.55 633.28 1085C632.81 1076.45 631.86 1071.92 631.48 1064C631.09 1056.08 630.84 1044.85 630.98 1037.5C631.11 1030.15 631.61 1027.25 632.28 1019.9C632.94 1012.55 634.04 1002.22 634.98 993.4C635.91 984.58 637.39 971.4 637.88 967Z" fill="#9a2fd0" stroke="#4a4a4a" stroke-width="0.75"/>
<line x1="654.54" y1="913.2" x2="654.54" y2="1054.3" stroke="#4a4a4a" stroke-width="0.9"/>
<path d="M654.94 926.4C655.64 930.23 657.99 941.17 659.14 949.4C660.29 957.63 661.56 966.98 661.84 975.8C662.12 984.62 661.47 993.48 660.84 1002.3C660.21 1011.12 658.84 1021.37 658.04 1028.7C657.24 1036.03 656.57 1042.03 656.04 1046.3C655.51 1050.57 655.04 1052.97 654.84 1054.3L654.24 1054.3C654.04 1052.97 653.57 1050.57 653.04 1046.3C652.51 1042.03 651.84 1036.03 651.04 1028.7C650.24 1021.37 648.87 1011.12 648.24 1002.3C647.61 993.48 646.96 984.62 647.24 975.8C647.52 966.98 648.79 957.63 649.94 949.4C651.09 941.17 653.44 930.23 654.14 926.4Z" fill="#999999" stroke="#4a4a4a" stroke-width="0.75"/>
<line x1="670.8" y1="888.5" x2="670.8" y2="1054.3" stroke="#4a4a4a" stroke-width="0.9"/>
<path d="M671.2 914.1C671.62 918.5 672.74 931.68 673.7 940.5C674.67 949.32 676.2 959.65 677 967C677.8 974.35 678.69 977.25 678.5 984.6C678.32 991.95 676.79 1002.28 675.9 1011.1C675.02 1019.92 674 1030.3 673.2 1037.5C672.4 1044.7 671.45 1051.5 671.1 1054.3L670.5 1054.3C670.15 1051.5 669.2 1044.7 668.4 1037.5C667.6 1030.3 666.59 1019.92 665.7 1011.1C664.82 1002.28 663.29 991.95 663.1 984.6C662.92 977.25 663.8 974.35 664.6 967C665.4 959.65 666.94 949.32 667.9 940.5C668.87 931.68 669.99 918.5 670.4 914.1Z" fill="#999999" stroke="#4a4a4a" stroke-width="0.75"/>
<line x1="687.07" y1="933.5" x2="687.07" y2="1049" stroke="#4a4a4a" stroke-width="0.9"/>
<path d="M687.47 933.5C688.13 936.15 690.3 944.4 691.47 949.4C692.63 954.4 694.32 959.1 694.47 963.5C694.62 967.9 693.25 972.28 692.37 975.8C691.48 979.32 689.75 980.18 689.17 984.6C688.58 989.02 688.78 996.42 688.87 1002.3C688.95 1008.18 689.73 1014.03 689.67 1019.9C689.6 1025.77 688.85 1032.65 688.47 1037.5C688.08 1042.35 687.55 1047.08 687.37 1049L686.77 1049C686.58 1047.08 686.05 1042.35 685.67 1037.5C685.28 1032.65 684.53 1025.77 684.47 1019.9C684.4 1014.03 685.18 1008.18 685.27 1002.3C685.35 996.42 685.55 989.02 684.97 984.6C684.38 980.18 682.65 979.32 681.77 975.8C680.88 972.28 679.52 967.9 679.67 963.5C679.82 959.1 681.5 954.4 682.67 949.4C683.83 944.4 686 936.15 686.67 933.5Z" fill="#999999" stroke="#4a4a4a" stroke-width="0.75"/>
<line x1="703.33" y1="892" x2="703.33" y2="1053.4" stroke="#4a4a4a" stroke-width="0.9"/>
<path d="M703.73 949.4C704.18 953.8 705.55 968.47 706.43 975.8C707.32 983.13 708.33 987.52 709.03 993.4C709.73 999.28 710.75 1005.22 710.63 1011.1C710.52 1016.98 709.25 1022.83 708.33 1028.7C707.42 1034.57 705.92 1042.18 705.13 1046.3C704.35 1050.42 703.88 1052.22 703.63 1053.4L703.03 1053.4C702.78 1052.22 702.32 1050.42 701.53 1046.3C700.75 1042.18 699.25 1034.57 698.33 1028.7C697.42 1022.83 696.15 1016.98 696.03 1011.1C695.92 1005.22 696.93 999.28 697.63 993.4C698.33 987.52 699.35 983.13 700.23 975.8C701.12 968.47 702.48 953.8 702.93 949.4Z" fill="#999999" stroke="#4a4a4a" stroke-width="0.75"/>
<line x1="719.6" y1="921.1" x2="719.6" y2="1045.5" stroke="#4a4a4a" stroke-width="0.9"/>
<path d="M720 921.1C720.66 924.33 722.8 934.92 724 940.5C725.2 946.08 726.93 949.9 727.2 954.6C727.46 959.3 726.43 963.7 725.6 968.7C724.76 973.7 723 977.53 722.2 984.6C721.4 991.67 721.13 1002.7 720.8 1011.1C720.46 1019.5 720.3 1031.02 720.2 1035L719 1035C718.9 1031.02 718.73 1019.5 718.4 1011.1C718.06 1002.7 717.8 991.67 717 984.6C716.2 977.53 714.43 973.7 713.6 968.7C712.76 963.7 711.73 959.3 712 954.6C712.26 949.9 714 946.08 715.2 940.5C716.4 934.92 718.53 924.33 719.2 921.1Z" fill="#999999" stroke="#4a4a4a" stroke-width="0.75"/>
<path d="M737.66 941.4C738.14 943.6 739.66 950.33 740.56 954.6C741.46 958.87 743.06 962.88 743.06 967C743.06 971.12 741.28 974.9 740.56 979.3C739.84 983.7 739.14 986.63 738.76 993.4C738.38 1000.17 738.43 1012.55 738.26 1019.9C738.09 1027.25 737.91 1032.22 737.76 1037.5C737.61 1042.78 737.43 1049.25 737.36 1051.6L734.36 1051.6C734.29 1049.25 734.11 1042.78 733.96 1037.5C733.81 1032.22 733.63 1027.25 733.46 1019.9C733.29 1012.55 733.34 1000.17 732.96 993.4C732.58 986.63 731.88 983.7 731.16 979.3C730.44 974.9 728.66 971.12 728.66 967C728.66 962.88 730.26 958.87 731.16 954.6C732.06 950.33 733.58 943.6 734.06 941.4Z" fill="#999999" stroke="#4a4a4a" stroke-width="0.75"/>
<line x1="752.12" y1="925.5" x2="752.12" y2="1055.2" stroke="#4a4a4a" stroke-width="0.9"/>
<path d="M752.52 925.5C753.01 928 754.27 935.65 755.42 940.5C756.57 945.35 758.94 950.18 759.42 954.6C759.91 959.02 759.11 962 758.32 967C757.54 972 755.24 975.78 754.72 984.6C754.21 993.42 755.29 1011.08 755.22 1019.9C755.16 1028.72 754.79 1031.62 754.32 1037.5C753.86 1043.38 752.74 1052.25 752.42 1055.2L751.82 1055.2C751.51 1052.25 750.39 1043.38 749.92 1037.5C749.46 1031.62 749.09 1028.72 749.02 1019.9C748.96 1011.08 750.04 993.42 749.52 984.6C749.01 975.78 746.71 972 745.92 967C745.14 962 744.34 959.02 744.82 954.6C745.31 950.18 747.67 945.35 748.82 940.5C749.97 935.65 751.24 928 751.72 925.5Z" fill="#999999" stroke="#4a4a4a" stroke-width="0.75"/>
<line x1="768.39" y1="913.2" x2="768.39" y2="1055.2" stroke="#4a4a4a" stroke-width="0.9"/>
<path d="M768.79 938.8C769.15 940.57 770.62 944.7 770.99 949.4C771.35 954.1 771.12 961.13 770.99 967C770.85 972.87 769.79 979.43 770.19 984.6C770.59 989.77 772.47 993.58 773.39 998C774.3 1002.42 775.59 1005.98 775.69 1011.1C775.79 1016.22 774.87 1022.83 773.99 1028.7C773.1 1034.57 771.27 1041.88 770.39 1046.3C769.5 1050.72 768.97 1053.72 768.69 1055.2L768.09 1055.2C767.8 1053.72 767.27 1050.72 766.39 1046.3C765.5 1041.88 763.67 1034.57 762.79 1028.7C761.9 1022.83 760.99 1016.22 761.09 1011.1C761.19 1005.98 762.47 1002.42 763.39 998C764.3 993.58 766.19 989.77 766.59 984.6C766.99 979.43 765.92 972.87 765.79 967C765.65 961.13 765.42 954.1 765.79 949.4C766.15 944.7 767.62 940.57 767.99 938.8Z" fill="#999999" stroke="#4a4a4a" stroke-width="0.75"/>
<line x1="784.65" y1="943.2" x2="784.65" y2="1090.3" stroke="#4a4a4a" stroke-width="0.9"/>
<path d="M785.05 952.9C785.6 955.25 787.22 961.72 788.35 967C789.49 972.28 791.62 978.72 791.85 984.6C792.09 990.48 790.34 996.42 789.75 1002.3C789.17 1008.18 788.94 1014.03 788.35 1019.9C787.77 1025.77 786.77 1031.62 786.25 1037.5C785.74 1043.38 785.42 1052.25 785.25 1055.2L784.05 1055.2C783.89 1052.25 783.57 1043.38 783.05 1037.5C782.54 1031.62 781.54 1025.77 780.95 1019.9C780.37 1014.03 780.14 1008.18 779.55 1002.3C778.97 996.42 777.22 990.48 777.45 984.6C777.69 978.72 779.82 972.28 780.95 967C782.09 961.72 783.7 955.25 784.25 952.9Z" fill="#666666" stroke="#4a4a4a" stroke-width="0.75"/>
<line x1="800.92" y1="952" x2="800.92" y2="1097.3" stroke="#4a4a4a" stroke-width="0.9"/>
<path d="M801.32 967C801.78 971.4 803.15 984.58 804.12 993.4C805.08 1002.22 806.45 1012.55 807.12 1019.9C807.78 1027.25 808.37 1031.62 808.12 1037.5C807.87 1043.38 806.28 1049.78 805.62 1055.2C804.95 1060.62 804.7 1065.03 804.12 1070C803.53 1074.97 802.6 1080.45 802.12 1085C801.63 1089.55 801.37 1095.25 801.22 1097.3L800.62 1097.3C800.47 1095.25 800.2 1089.55 799.72 1085C799.23 1080.45 798.3 1074.97 797.72 1070C797.13 1065.03 796.88 1060.62 796.22 1055.2C795.55 1049.78 793.97 1043.38 793.72 1037.5C793.47 1031.62 794.05 1027.25 794.72 1019.9C795.38 1012.55 796.75 1002.22 797.72 993.4C798.68 984.58 800.05 971.4 800.52 967Z" fill="#666666" stroke="#4a4a4a" stroke-width="0.75"/>
<line x1="817.18" y1="948.5" x2="817.18" y2="1100" stroke="#4a4a4a" stroke-width="0.9"/>
<path d="M817.58 961.7C818.18 965.52 820.15 976.37 821.18 984.6C822.21 992.83 823.23 1002.28 823.78 1011.1C824.33 1019.92 824.58 1028.68 824.48 1037.5C824.38 1046.32 823.56 1057.75 823.18 1064C822.8 1070.25 822.66 1071.67 822.18 1075C821.7 1078.33 821.06 1079.83 820.28 1084C819.5 1088.17 817.95 1097.33 817.48 1100L816.88 1100C816.41 1097.33 814.86 1088.17 814.08 1084C813.3 1079.83 812.66 1078.33 812.18 1075C811.7 1071.67 811.56 1070.25 811.18 1064C810.8 1057.75 809.98 1046.32 809.88 1037.5C809.78 1028.68 810.03 1019.92 810.58 1011.1C811.13 1002.28 812.15 992.83 813.18 984.6C814.21 976.37 816.18 965.52 816.78 961.7Z" fill="#666666" stroke="#4a4a4a" stroke-width="0.75"/>
<line x1="833.44" y1="929.1" x2="833.44" y2="1116.7" stroke="#4a4a4a" stroke-width="0.9"/>
<path d="M833.84 958.2C834.28 962.6 835.58 975.78 836.44 984.6C837.31 993.42 838.37 1002.28 839.04 1011.1C839.72 1019.92 840.66 1028.68 840.49 1037.5C840.33 1046.32 838.64 1057.75 838.04 1064C837.45 1070.25 837.46 1071.07 836.94 1075C836.43 1078.93 835.44 1083.43 834.94 1087.6C834.44 1091.77 834.11 1097.93 833.94 1100L832.94 1100C832.78 1097.93 832.44 1091.77 831.94 1087.6C831.44 1083.43 830.46 1078.93 829.94 1075C829.43 1071.07 829.44 1070.25 828.84 1064C828.25 1057.75 826.56 1046.32 826.39 1037.5C826.23 1028.68 827.17 1019.92 827.84 1011.1C828.52 1002.28 829.58 993.42 830.44 984.6C831.31 975.78 832.61 962.6 833.04 958.2Z" fill="#666666" stroke="#4a4a4a" stroke-width="0.75"/>
<line x1="849.71" y1="935.2" x2="849.71" y2="1096.5" stroke="#4a4a4a" stroke-width="0.9"/>
<path d="M850.11 958.2C850.51 962.6 851.87 977.25 852.51 984.6C853.14 991.95 853.16 996.42 853.91 1002.3C854.66 1008.18 856.71 1014.03 857.01 1019.9C857.31 1025.77 856.46 1031.62 855.71 1037.5C854.96 1043.38 853.34 1049.32 852.51 1055.2C851.67 1061.08 851.11 1067.22 850.71 1072.8C850.31 1078.38 850.21 1086.05 850.11 1088.7L849.31 1088.7C849.21 1086.05 849.11 1078.38 848.71 1072.8C848.31 1067.22 847.74 1061.08 846.91 1055.2C846.07 1049.32 844.46 1043.38 843.71 1037.5C842.96 1031.62 842.11 1025.77 842.41 1019.9C842.71 1014.03 844.76 1008.18 845.51 1002.3C846.26 996.42 846.27 991.95 846.91 984.6C847.54 977.25 848.91 962.6 849.31 958.2Z" fill="#666666" stroke="#4a4a4a" stroke-width="0.75"/>
<line x1="865.97" y1="937" x2="865.97" y2="1160" stroke="#4a4a4a" stroke-width="0.9"/>
<path d="M866.37 945.8C866.92 949.33 868.71 959.07 869.67 967C870.64 974.93 871.56 984.58 872.17 993.4C872.79 1002.22 873.23 1011.08 873.37 1019.9C873.51 1028.72 873.49 1037.48 873.02 1046.3C872.56 1055.12 871.21 1064.43 870.57 1072.8C869.93 1081.17 869.64 1088.15 869.17 1096.5C868.71 1104.85 868.16 1115.57 867.77 1122.9C867.39 1130.23 867.12 1134.32 866.87 1140.5C866.62 1146.68 866.37 1156.75 866.27 1160L865.67 1160C865.57 1156.75 865.32 1146.68 865.07 1140.5C864.82 1134.32 864.56 1130.23 864.17 1122.9C863.79 1115.57 863.24 1104.85 862.77 1096.5C862.31 1088.15 862.01 1081.17 861.37 1072.8C860.73 1064.43 859.39 1055.12 858.92 1046.3C858.46 1037.48 858.43 1028.72 858.57 1019.9C858.71 1011.08 859.16 1002.22 859.77 993.4C860.39 984.58 861.31 974.93 862.27 967C863.24 959.07 865.02 949.33 865.57 945.8Z" fill="#666666" stroke="#4a4a4a" stroke-width="0.75"/>
<line x1="882.24" y1="932.6" x2="882.24" y2="1077.2" stroke="#4a4a4a" stroke-width="0.9"/>
<path d="M882.64 958.2C883.05 962.6 884.22 975.78 885.14 984.6C886.05 993.42 887.44 1003.75 888.14 1011.1C888.83 1018.45 889.39 1022.83 889.29 1028.7C889.19 1034.57 888.31 1040.42 887.54 1046.3C886.76 1052.18 885.47 1058.85 884.64 1064C883.8 1069.15 882.89 1075 882.54 1077.2L881.94 1077.2C881.59 1075 880.67 1069.15 879.84 1064C879 1058.85 877.71 1052.18 876.94 1046.3C876.16 1040.42 875.29 1034.57 875.19 1028.7C875.09 1022.83 875.64 1018.45 876.34 1011.1C877.03 1003.75 878.42 993.42 879.34 984.6C880.25 975.78 881.42 962.6 881.84 958.2Z" fill="#666666" stroke="#4a4a4a" stroke-width="0.75"/>
<line x1="898.5" y1="944.1" x2="898.5" y2="1122.4" stroke="#4a4a4a" stroke-width="0.9"/>
<path d="M898.9 958.2C899.43 960.9 901.02 968.33 902.1 974.4C903.18 980.47 904.8 987.85 905.4 994.6C906 1001.35 905.62 1008.15 905.7 1014.9C905.78 1021.65 906.03 1028.37 905.9 1035.1C905.77 1041.83 905.52 1048.57 904.9 1055.3C904.28 1062.03 903.05 1069.88 902.2 1075.5C901.35 1081.12 900.33 1084.92 899.8 1089C899.27 1093.08 899.13 1098.17 899 1100L898 1100C897.87 1098.17 897.73 1093.08 897.2 1089C896.67 1084.92 895.65 1081.12 894.8 1075.5C893.95 1069.88 892.72 1062.03 892.1 1055.3C891.48 1048.57 891.23 1041.83 891.1 1035.1C890.97 1028.37 891.22 1021.65 891.3 1014.9C891.38 1008.15 891 1001.35 891.6 994.6C892.2 987.85 893.82 980.47 894.9 974.4C895.98 968.33 897.57 960.9 898.1 958.2Z" fill="#666666" stroke="#4a4a4a" stroke-width="0.75"/>
<line x1="914.76" y1="982.5" x2="914.76" y2="1235" stroke="#4a4a4a" stroke-width="0.9"/>
<path d="M915.16 1041.8C915.36 1046.3 915.98 1059.1 916.36 1068.8C916.75 1078.5 917.33 1091.97 917.46 1100C917.6 1108.03 916.95 1109.67 917.16 1117C917.38 1124.33 918.06 1136.13 918.76 1144C919.46 1151.87 920.83 1158.58 921.36 1164.2C921.9 1169.82 922.11 1173.22 921.96 1177.7C921.81 1182.18 921.26 1186.62 920.46 1191.1C919.66 1195.58 918 1200.77 917.16 1204.6C916.33 1208.43 915.8 1211.53 915.46 1214.1C915.13 1216.67 915.21 1219.02 915.16 1220L914.36 1220C914.31 1219.02 914.4 1216.67 914.06 1214.1C913.73 1211.53 913.2 1208.43 912.36 1204.6C911.53 1200.77 909.86 1195.58 909.06 1191.1C908.26 1186.62 907.71 1182.18 907.56 1177.7C907.41 1173.22 907.63 1169.82 908.16 1164.2C908.7 1158.58 910.06 1151.87 910.76 1144C911.46 1136.13 912.15 1124.33 912.36 1117C912.58 1109.67 911.93 1108.03 912.06 1100C912.2 1091.97 912.78 1078.5 913.16 1068.8C913.55 1059.1 914.16 1046.3 914.36 1041.8Z" fill="#0b6b0b" stroke="#4a4a4a" stroke-width="0.75"/>
<line x1="931.03" y1="987.9" x2="931.03" y2="1222.8" stroke="#4a4a4a" stroke-width="0.9"/>
<path d="M931.43 1062C931.69 1066.67 932.64 1080.83 933.03 1090C933.41 1099.17 933.21 1108 933.73 1117C934.24 1126 935.46 1136.13 936.13 1144C936.79 1151.87 937.39 1158.58 937.73 1164.2C938.06 1169.82 938.46 1173.22 938.13 1177.7C937.79 1182.18 936.63 1186.62 935.73 1191.1C934.83 1195.58 933.43 1201.12 932.73 1204.6C932.03 1208.08 931.73 1210.77 931.53 1212L930.53 1212C930.33 1210.77 930.03 1208.08 929.33 1204.6C928.63 1201.12 927.23 1195.58 926.33 1191.1C925.43 1186.62 924.26 1182.18 923.93 1177.7C923.59 1173.22 923.99 1169.82 924.33 1164.2C924.66 1158.58 925.26 1151.87 925.93 1144C926.59 1136.13 927.81 1126 928.33 1117C928.84 1108 928.64 1099.17 929.03 1090C929.41 1080.83 930.36 1066.67 930.63 1062Z" fill="#0b6b0b" stroke="#4a4a4a" stroke-width="0.75"/>
<line x1="947.29" y1="924.5" x2="947.29" y2="1019.6" stroke="#4a4a4a" stroke-width="0.9"/>
<path d="M947.69 935.3C948.24 937.32 949.98 943.13 950.99 947.4C952.01 951.67 953.19 956.4 953.79 960.9C954.39 965.4 954.71 969.9 954.59 974.4C954.48 978.9 953.83 983.4 953.09 987.9C952.36 992.4 950.98 997.35 950.19 1001.4C949.41 1005.45 948.79 1009.6 948.39 1012.2C947.99 1014.8 947.89 1016.2 947.79 1017L946.79 1017C946.69 1016.2 946.59 1014.8 946.19 1012.2C945.79 1009.6 945.18 1005.45 944.39 1001.4C943.61 997.35 942.23 992.4 941.49 987.9C940.76 983.4 940.11 978.9 939.99 974.4C939.88 969.9 940.19 965.4 940.79 960.9C941.39 956.4 942.58 951.67 943.59 947.4C944.61 943.13 946.34 937.32 946.89 935.3Z" fill="#ebc8ee" stroke="#4a4a4a" stroke-width="0.75"/>
<line x1="963.56" y1="931.9" x2="963.56" y2="1018.2" stroke="#4a4a4a" stroke-width="0.9"/>
<path d="M963.96 951.5C964.41 953.07 965.61 957.08 966.66 960.9C967.71 964.72 969.99 969.9 970.26 974.4C970.52 978.9 969.04 983.4 968.26 987.9C967.47 992.4 966.21 996.9 965.56 1001.4C964.91 1005.9 964.61 1012.13 964.36 1014.9C964.11 1017.67 964.11 1017.48 964.06 1018L963.06 1018C963.01 1017.48 963.01 1017.67 962.76 1014.9C962.51 1012.13 962.21 1005.9 961.56 1001.4C960.91 996.9 959.64 992.4 958.86 987.9C958.07 983.4 956.59 978.9 956.86 974.4C957.12 969.9 959.41 964.72 960.46 960.9C961.51 957.08 962.71 953.07 963.16 951.5Z" fill="#ebc8ee" stroke="#4a4a4a" stroke-width="0.75"/>
<line x1="979.82" y1="946.1" x2="979.82" y2="1018.9" stroke="#4a4a4a" stroke-width="0.9"/>
<path d="M980.22 952.8C980.77 954.15 982.37 957.3 983.52 960.9C984.67 964.5 986.89 969.9 987.12 974.4C987.35 978.9 985.77 983.4 984.92 987.9C984.07 992.4 982.74 997.35 982.02 1001.4C981.3 1005.45 980.9 1009.43 980.62 1012.2C980.34 1014.97 980.37 1017.03 980.32 1018L979.32 1018C979.27 1017.03 979.3 1014.97 979.02 1012.2C978.74 1009.43 978.34 1005.45 977.62 1001.4C976.9 997.35 975.57 992.4 974.72 987.9C973.87 983.4 972.29 978.9 972.52 974.4C972.75 969.9 974.97 964.5 976.12 960.9C977.27 957.3 978.87 954.15 979.42 952.8Z" fill="#ebc8ee" stroke="#4a4a4a" stroke-width="0.75"/>
<text transform="translate(91 1511.2) rotate(-90)" font-size="16" text-anchor="end" fill="#cc4088">OVCA NYU1</text>
<text transform="translate(107.26 1511.2) rotate(-90)" font-size="16" text-anchor="end" fill="#cc4088">OVCA NYU2</text>
<text transform="translate(123.53 1511.2) rotate(-90)" font-size="16" text-anchor="end" fill="#cc4088">OVCA NYU3</text>
<text transform="translate(139.79 1511.2) rotate(-90)" font-size="16" text-anchor="end" fill="#c8101a">UCEC NYU1</text>
<text transform="translate(156.06 1511.2) rotate(-90)" font-size="16" text-anchor="end" fill="#c8101a">UCEC NYU2</text>
<text transform="translate(172.32 1511.2) rotate(-90)" font-size="16" text-anchor="end" fill="#c8101a">UCEC NYU3</text>
<text transform="translate(188.58 1511.2) rotate(-90)" font-size="16" text-anchor="end" fill="#d07a14">BRCA NYU0</text>
<text transform="translate(204.85 1511.2) rotate(-90)" font-size="16" text-anchor="end" fill="#d07a14">BRCA NYU1</text>
<text transform="translate(221.11 1511.2) rotate(-90)" font-size="16" text-anchor="end" fill="#d07a14">BRCA NYU2</text>
<text transform="translate(237.38 1511.2) rotate(-90)" font-size="16" text-anchor="end" fill="#d07a14">BRCA NYU3</text>
<text transform="translate(253.64 1511.2) rotate(-90)" font-size="16" text-anchor="end" fill="#1f4f8c">PDAC NYU1</text>
<text transform="translate(269.9 1511.2) rotate(-90)" font-size="16" text-anchor="end" fill="#1f4f8c">PDAC NYU2</text>
<text transform="translate(286.17 1511.2) rotate(-90)" font-size="16" text-anchor="end" fill="#1f4f8c">PDAC NYU3</text>
<text transform="translate(302.43 1511.2) rotate(-90)" font-size="16" text-anchor="end" fill="#1f4f8c">PDAC LinP3</text>
<text transform="translate(318.7 1511.2) rotate(-90)" font-size="16" text-anchor="end" fill="#1f4f8c">PDAC LinP4</text>
<text transform="translate(334.96 1511.2) rotate(-90)" font-size="16" text-anchor="end" fill="#1f4f8c">PDAC LinP6</text>
<text transform="translate(351.22 1511.2) rotate(-90)" font-size="16" text-anchor="end" fill="#1f4f8c">PDAC LinP8</text>
<text transform="translate(367.49 1511.2) rotate(-90)" font-size="16" text-anchor="end" fill="#1f4f8c">PDAC LinP9</text>
<text transform="translate(383.75 1511.2) rotate(-90)" font-size="16" text-anchor="end" fill="#1f4f8c">PDAC LinP10</text>
<text transform="translate(400.02 1511.2) rotate(-90)" font-size="16" text-anchor="end" fill="#7fa6cc">COAD NYU1</text>
<text transform="translate(416.28 1511.2) rotate(-90)" font-size="16" text-anchor="end" fill="#18bcc4">LIHC NYU1</text>
<text transform="translate(432.54 1511.2) rotate(-90)" font-size="16" text-anchor="end" fill="#18bcc4">LIHC Sharma7</text>
<text transform="translate(448.81 1511.2) rotate(-90)" font-size="16" text-anchor="end" fill="#18bcc4">LIHC Sharma9</text>
<text transform="translate(465.07 1511.2) rotate(-90)" font-size="16" text-anchor="end" fill="#18bcc4">LIHC Sharma14</text>
<text transform="translate(481.34 1511.2) rotate(-90)" font-size="16" text-anchor="end" fill="#9ccc9c">CHCA Zhang18</text>
<text transform="translate(497.6 1511.2) rotate(-90)" font-size="16" text-anchor="end" fill="#9ccc9c">CHCA Zhang20</text>
<text transform="translate(513.86 1511.2) rotate(-90)" font-size="16" text-anchor="end" fill="#9ccc9c">CHCA Zhang23</text>
<text transform="translate(530.13 1511.2) rotate(-90)" font-size="16" text-anchor="end" fill="#9ccc9c">CHCA Zhang241</text>
<text transform="translate(546.39 1511.2) rotate(-90)" font-size="16" text-anchor="end" fill="#9ccc9c">CHCA Zhang242</text>
<text transform="translate(562.66 1511.2) rotate(-90)" font-size="16" text-anchor="end" fill="#efb020">PRAD NYU1</text>
<text transform="translate(578.92 1511.2) rotate(-90)" font-size="16" text-anchor="end" fill="#c49018">KIRC NYU1</text>
<text transform="translate(595.18 1511.2) rotate(-90)" font-size="16" text-anchor="end" fill="#9035c0">LUAD KimT18</text>
<text transform="translate(611.45 1511.2) rotate(-90)" font-size="16" text-anchor="end" fill="#9035c0">LUAD KimT20</text>
<text transform="translate(627.71 1511.2) rotate(-90)" font-size="16" text-anchor="end" fill="#9035c0">LUAD KimT30</text>
<text transform="translate(643.98 1511.2) rotate(-90)" font-size="16" text-anchor="end" fill="#9035c0">LUAD KimT34</text>
<text transform="translate(660.24 1511.2) rotate(-90)" font-size="16" text-anchor="end" fill="#9c9c9c">HNSC Puram5</text>
<text transform="translate(676.5 1511.2) rotate(-90)" font-size="16" text-anchor="end" fill="#9c9c9c">HNSC Puram6</text>
<text transform="translate(692.77 1511.2) rotate(-90)" font-size="16" text-anchor="end" fill="#9c9c9c">HNSC Puram17</text>
<text transform="translate(709.03 1511.2) rotate(-90)" font-size="16" text-anchor="end" fill="#9c9c9c">HNSC Puram18</text>
<text transform="translate(725.3 1511.2) rotate(-90)" font-size="16" text-anchor="end" fill="#9c9c9c">HNSC Puram20</text>
<text transform="translate(741.56 1511.2) rotate(-90)" font-size="16" text-anchor="end" fill="#9c9c9c">HNSC Puram22</text>
<text transform="translate(757.82 1511.2) rotate(-90)" font-size="16" text-anchor="end" fill="#9c9c9c">HNSC Puram26</text>
<text transform="translate(774.09 1511.2) rotate(-90)" font-size="16" text-anchor="end" fill="#9c9c9c">HNSC Puram28</text>
<text transform="translate(790.35 1511.2) rotate(-90)" font-size="16" text-anchor="end" fill="#505050">SKSC Ji1</text>
<text transform="translate(806.62 1511.2) rotate(-90)" font-size="16" text-anchor="end" fill="#505050">SKSC Ji2</text>
<text transform="translate(822.88 1511.2) rotate(-90)" font-size="16" text-anchor="end" fill="#505050">SKSC Ji4</text>
<text transform="translate(839.14 1511.2) rotate(-90)" font-size="16" text-anchor="end" fill="#505050">SKSC Ji6</text>
<text transform="translate(855.41 1511.2) rotate(-90)" font-size="16" text-anchor="end" fill="#505050">SKSC Ji7</text>
<text transform="translate(871.67 1511.2) rotate(-90)" font-size="16" text-anchor="end" fill="#505050">SKSC Ji8</text>
<text transform="translate(887.94 1511.2) rotate(-90)" font-size="16" text-anchor="end" fill="#505050">SKSC Ji9</text>
<text transform="translate(904.2 1511.2) rotate(-90)" font-size="16" text-anchor="end" fill="#505050">SKSC Ji10</text>
<text transform="translate(920.46 1511.2) rotate(-90)" font-size="16" text-anchor="end" fill="#126a12">GIST NYU1</text>
<text transform="translate(936.73 1511.2) rotate(-90)" font-size="16" text-anchor="end" fill="#126a12">GIST NYU2</text>
<text transform="translate(952.99 1511.2) rotate(-90)" font-size="16" text-anchor="end" fill="#ecd0ee">OGD TiroshMGH36</text>
<text transform="translate(969.26 1511.2) rotate(-90)" font-size="16" text-anchor="end" fill="#ecd0ee">OGD TiroshMGH53</text>
<text transform="translate(985.52 1511.2) rotate(-90)" font-size="16" text-anchor="end" fill="#ecd0ee">OGD TiroshMGH54</text>
<g shape-rendering="crispEdges">
<rect x="5.4" y="1826.6" width="76.2" height="17.6" fill="#000000"/>
<rect x="5.4" y="1845.6" width="12.33" height="17.9" fill="#d43a80"/>
<rect x="17.43" y="1845.6" width="12.33" height="17.9" fill="#d6000d"/>
<rect x="29.46" y="1845.6" width="16.34" height="17.9" fill="#d9770a"/>
<rect x="45.51" y="1845.6" width="12.33" height="17.9" fill="#1b549a"/>
<rect x="57.54" y="1845.6" width="4.31" height="17.9" fill="#6ea0cd"/>
<rect x="61.55" y="1845.6" width="4.31" height="17.9" fill="#14c0c8"/>
<rect x="65.56" y="1845.6" width="4.31" height="17.9" fill="#f5b414"/>
<rect x="69.57" y="1845.6" width="4.31" height="17.9" fill="#d2961a"/>
<rect x="73.58" y="1845.6" width="8.32" height="17.9" fill="#0b6b0b"/>
<rect x="85.8" y="1826.6" width="40.1" height="17.6" fill="#e8892b"/>
<rect x="85.8" y="1845.6" width="4.31" height="17.9" fill="#d43a80"/>
<rect x="89.81" y="1845.6" width="4.31" height="17.9" fill="#d6000d"/>
<rect x="93.82" y="1845.6" width="12.33" height="17.9" fill="#d9770a"/>
<rect x="105.85" y="1845.6" width="12.33" height="17.9" fill="#1b549a"/>
<rect x="117.88" y="1845.6" width="4.31" height="17.9" fill="#f5b414"/>
<rect x="121.89" y="1845.6" width="4.31" height="17.9" fill="#0b6b0b"/>
<rect x="130.2" y="1826.6" width="15.9" height="17.6" fill="#d99a1a"/>
<rect x="130.2" y="1845.6" width="12.23" height="17.9" fill="#1b549a"/>
<rect x="142.12" y="1845.6" width="4.28" height="17.9" fill="#14c0c8"/>
<rect x="149.9" y="1826.6" width="52.1" height="17.6" fill="#b9a505"/>
<rect x="149.9" y="1845.6" width="8.32" height="17.9" fill="#d43a80"/>
<rect x="157.92" y="1845.6" width="8.32" height="17.9" fill="#d6000d"/>
<rect x="165.93" y="1845.6" width="12.32" height="17.9" fill="#d9770a"/>
<rect x="177.95" y="1845.6" width="4.31" height="17.9" fill="#1b549a"/>
<rect x="181.96" y="1845.6" width="4.31" height="17.9" fill="#6ea0cd"/>
<rect x="185.97" y="1845.6" width="4.31" height="17.9" fill="#f5b414"/>
<rect x="189.98" y="1845.6" width="4.31" height="17.9" fill="#d2961a"/>
<rect x="193.98" y="1845.6" width="8.32" height="17.9" fill="#0b6b0b"/>
<rect x="206.3" y="1826.6" width="27.9" height="17.6" fill="#50b91e"/>
<rect x="206.3" y="1845.6" width="4.29" height="17.9" fill="#d43a80"/>
<rect x="210.29" y="1845.6" width="4.29" height="17.9" fill="#d6000d"/>
<rect x="214.27" y="1845.6" width="8.27" height="17.9" fill="#d9770a"/>
<rect x="222.24" y="1845.6" width="4.29" height="17.9" fill="#6ea0cd"/>
<rect x="226.23" y="1845.6" width="8.27" height="17.9" fill="#0b6b0b"/>
<rect x="238.1" y="1826.6" width="40.3" height="17.6" fill="#23c35a"/>
<rect x="238.1" y="1845.6" width="8.36" height="17.9" fill="#d43a80"/>
<rect x="246.16" y="1845.6" width="12.39" height="17.9" fill="#d6000d"/>
<rect x="258.25" y="1845.6" width="8.36" height="17.9" fill="#d9770a"/>
<rect x="266.31" y="1845.6" width="4.33" height="17.9" fill="#6ea0cd"/>
<rect x="270.34" y="1845.6" width="8.36" height="17.9" fill="#0b6b0b"/>
<rect x="282.2" y="1826.6" width="64.4" height="17.6" fill="#14be82"/>
<rect x="282.2" y="1845.6" width="8.35" height="17.9" fill="#d43a80"/>
<rect x="290.25" y="1845.6" width="8.35" height="17.9" fill="#d6000d"/>
<rect x="298.3" y="1845.6" width="12.38" height="17.9" fill="#d9770a"/>
<rect x="310.38" y="1845.6" width="12.38" height="17.9" fill="#1b549a"/>
<rect x="322.45" y="1845.6" width="4.33" height="17.9" fill="#6ea0cd"/>
<rect x="326.48" y="1845.6" width="4.33" height="17.9" fill="#14c0c8"/>
<rect x="330.5" y="1845.6" width="8.35" height="17.9" fill="#f5b414"/>
<rect x="338.55" y="1845.6" width="8.35" height="17.9" fill="#0b6b0b"/>
<rect x="350.8" y="1826.6" width="24.1" height="17.6" fill="#1ebeb4"/>
<rect x="350.8" y="1845.6" width="4.32" height="17.9" fill="#d43a80"/>
<rect x="354.82" y="1845.6" width="4.32" height="17.9" fill="#d6000d"/>
<rect x="358.83" y="1845.6" width="4.32" height="17.9" fill="#d9770a"/>
<rect x="362.85" y="1845.6" width="4.32" height="17.9" fill="#6ea0cd"/>
<rect x="366.87" y="1845.6" width="8.33" height="17.9" fill="#0b6b0b"/>
<rect x="379.1" y="1826.6" width="7.9" height="17.6" fill="#28aaf0"/>
<rect x="379.1" y="1845.6" width="4.25" height="17.9" fill="#d43a80"/>
<rect x="383.05" y="1845.6" width="4.25" height="17.9" fill="#6ea0cd"/>
<rect x="391" y="1826.6" width="68.2" height="17.6" fill="#32a0f5"/>
<rect x="391" y="1845.6" width="12.34" height="17.9" fill="#d43a80"/>
<rect x="403.04" y="1845.6" width="12.34" height="17.9" fill="#d6000d"/>
<rect x="415.07" y="1845.6" width="8.32" height="17.9" fill="#d9770a"/>
<rect x="423.09" y="1845.6" width="12.34" height="17.9" fill="#1b549a"/>
<rect x="435.13" y="1845.6" width="4.31" height="17.9" fill="#6ea0cd"/>
<rect x="439.14" y="1845.6" width="4.31" height="17.9" fill="#14c0c8"/>
<rect x="443.15" y="1845.6" width="8.32" height="17.9" fill="#f5b414"/>
<rect x="451.18" y="1845.6" width="8.32" height="17.9" fill="#0b6b0b"/>
<rect x="463.3" y="1826.6" width="76.3" height="17.6" fill="#a08cf5"/>
<rect x="463.3" y="1845.6" width="12.35" height="17.9" fill="#d43a80"/>
<rect x="475.35" y="1845.6" width="12.35" height="17.9" fill="#d6000d"/>
<rect x="487.39" y="1845.6" width="16.36" height="17.9" fill="#d9770a"/>
<rect x="503.46" y="1845.6" width="12.35" height="17.9" fill="#1b549a"/>
<rect x="515.51" y="1845.6" width="4.32" height="17.9" fill="#6ea0cd"/>
<rect x="519.52" y="1845.6" width="4.32" height="17.9" fill="#14c0c8"/>
<rect x="523.54" y="1845.6" width="8.33" height="17.9" fill="#f5b414"/>
<rect x="531.57" y="1845.6" width="8.33" height="17.9" fill="#0b6b0b"/>
<rect x="543.9" y="1826.6" width="64.4" height="17.6" fill="#d07af0"/>
<rect x="543.9" y="1845.6" width="12.37" height="17.9" fill="#d43a80"/>
<rect x="555.98" y="1845.6" width="12.37" height="17.9" fill="#d6000d"/>
<rect x="568.05" y="1845.6" width="12.37" height="17.9" fill="#d9770a"/>
<rect x="580.12" y="1845.6" width="4.32" height="17.9" fill="#1b549a"/>
<rect x="584.15" y="1845.6" width="4.32" height="17.9" fill="#6ea0cd"/>
<rect x="588.17" y="1845.6" width="4.32" height="17.9" fill="#14c0c8"/>
<rect x="592.2" y="1845.6" width="8.35" height="17.9" fill="#f5b414"/>
<rect x="600.25" y="1845.6" width="8.35" height="17.9" fill="#0b6b0b"/>
<rect x="612.4" y="1826.6" width="52.4" height="17.6" fill="#ee66e0"/>
<rect x="612.4" y="1845.6" width="8.36" height="17.9" fill="#d43a80"/>
<rect x="620.46" y="1845.6" width="8.36" height="17.9" fill="#d6000d"/>
<rect x="628.52" y="1845.6" width="4.33" height="17.9" fill="#d9770a"/>
<rect x="632.55" y="1845.6" width="8.36" height="17.9" fill="#1b549a"/>
<rect x="640.62" y="1845.6" width="4.33" height="17.9" fill="#6ea0cd"/>
<rect x="644.65" y="1845.6" width="4.33" height="17.9" fill="#14c0c8"/>
<rect x="648.68" y="1845.6" width="8.36" height="17.9" fill="#f5b414"/>
<rect x="656.74" y="1845.6" width="8.36" height="17.9" fill="#0b6b0b"/>
<rect x="669.4" y="1826.6" width="72" height="17.6" fill="#ff66cc"/>
<rect x="669.4" y="1845.6" width="12.3" height="17.9" fill="#d43a80"/>
<rect x="681.4" y="1845.6" width="12.3" height="17.9" fill="#d6000d"/>
<rect x="693.4" y="1845.6" width="12.3" height="17.9" fill="#d9770a"/>
<rect x="705.4" y="1845.6" width="12.3" height="17.9" fill="#1b549a"/>
<rect x="717.4" y="1845.6" width="4.3" height="17.9" fill="#6ea0cd"/>
<rect x="721.4" y="1845.6" width="4.3" height="17.9" fill="#14c0c8"/>
<rect x="725.4" y="1845.6" width="8.3" height="17.9" fill="#f5b414"/>
<rect x="733.4" y="1845.6" width="8.3" height="17.9" fill="#0b6b0b"/>
<rect x="745.8" y="1826.6" width="59.9" height="17.6" fill="#ff6a9a"/>
<rect x="745.8" y="1845.6" width="12.28" height="17.9" fill="#d43a80"/>
<rect x="757.78" y="1845.6" width="12.28" height="17.9" fill="#d6000d"/>
<rect x="769.76" y="1845.6" width="8.29" height="17.9" fill="#d9770a"/>
<rect x="777.75" y="1845.6" width="4.29" height="17.9" fill="#1b549a"/>
<rect x="781.74" y="1845.6" width="8.29" height="17.9" fill="#14c0c8"/>
<rect x="789.73" y="1845.6" width="8.29" height="17.9" fill="#f5b414"/>
<rect x="797.71" y="1845.6" width="8.29" height="17.9" fill="#0b6b0b"/>
<path fill="#f8f3ff" d="M5.4 1868.1h4.3v17.2h-4.3zm64.2 0h4.3v17.2h-4.3zm8 0h4.3v17.2h-4.3zm261 0h4.3v17.2h-4.3zm80.5 0h4.3v17.2h-4.3zm32.1 0h4.3v17.2h-4.3zm48.2 0h4.3v17.2h-4.3zm20.1 0h4.3v17.2h-4.3zm137.2 0h4.3v17.2h-4.3zm32.7 0h4.2v17.2h-4.2zm20 0h8.2v17.2h-8.2zm12 0h4.2v17.2h-4.2zm8 0h4.2v17.2h-4.2zm60.3 0h4.2v17.2h-4.2zm12 0h4.2v17.2h-4.2zm-780.3 16.9h4.3v17.2h-4.3zm32.1 0h4.3v17.2h-4.3zm56.4 0h4.3v17.2h-4.3zm68.1 0h4.3v17.2h-4.3zm60.1 0h4.3v17.2h-4.3zm261.3 0h12.3v17.2h-12.3zm16.1 0h4.3v17.2h-4.3zm52.5 0h4.3v17.2h-4.3zm8.1 0h4.3v17.2h-4.3zm28.2 0h4.3v17.2h-4.3zm12.1 0h4.3v17.2h-4.3zm73 0h4.2v17.2h-4.2zm-539.5 17h8.3v17.2h-8.3zm104.3 0h4.3v17.2h-4.3zm28 0h4.3v17.2h-4.3zm56.4 0h4.3v17.2h-4.3zm176.9 0h8.3v17.2h-8.3zm12.1 0h4.3v17.2h-4.3zm48.5 0h4.3v17.2h-4.3zm48.4 0h4.3v17.2h-4.3zm28.2 0h8.3v17.2h-8.3zm20.7 0h4.2v17.2h-4.2zm8 0h4.2v17.2h-4.2zm28 0h4.2v17.2h-4.2zm24 0h4.2v17.2h-4.2zm20.4 0h4.2v17.2h-4.2zm27.9 0h4.2v17.2h-4.2zm8 0h4.2v17.2h-4.2zm-776.3 16.9h4.3v17.2h-4.3zm8 0h4.3v17.2h-4.3zm20.1 0h4.3v17.2h-4.3zm276.9 0h4.3v17.2h-4.3zm96.7 0h4.3v17.2h-4.3zm16 0h12.3v17.2h-12.3zm20.1 0h4.3v17.2h-4.3zm16.1 0h4.3v17.2h-4.3zm92.7 0h4.3v17.2h-4.3zm16.1 0h4.3v17.2h-4.3zm8 0h8.3v17.2h-8.3zm12.1 0h4.3v17.2h-4.3zm16.2 0h4.3v17.2h-4.3zm20.2 0h8.3v17.2h-8.3zm24.1 0h4.3v17.2h-4.3zm12.7 0h4.2v17.2h-4.2zm64 0h4.2v17.2h-4.2zm16.4 0h12.2v17.2h-12.2zm16 0h4.2v17.2h-4.2zm27.9 0h8.2v17.2h-8.2zm-780.3 17h4.3v17.2h-4.3zm20.1 0h4.3v17.2h-4.3zm40.1 0h4.3v17.2h-4.3zm32.2 0h4.3v17.2h-4.3zm8.1 0h4.3v17.2h-4.3zm24.2 0h4.2v17.2h-4.2zm152.1 0h4.3v17.2h-4.3zm8.1 0h8.3v17.2h-8.3zm36.2 0h4.3v17.2h-4.3zm64.5 0h4.3v17.2h-4.3zm48.2 0h4.3v17.2h-4.3zm36.2 0h4.3v17.2h-4.3zm36.1 0h4.3v17.2h-4.3zm24.4 0h4.3v17.2h-4.3zm12.1 0h4.3v17.2h-4.3zm16.1 0h4.3v17.2h-4.3zm16.1 0h4.3v17.2h-4.3zm24.2 0h4.3v17.2h-4.3zm20.2 0h4.3v17.2h-4.3zm12 0h4.3v17.2h-4.3zm68.8 0h4.2v17.2h-4.2zm36.4 0h4.2v17.2h-4.2zm43.9 0h4.2v17.2h-4.2zm-695.9 16.9h8.3v17.2h-8.3zm20.1 0h4.3v17.2h-4.3zm317.2 0h4.3v17.2h-4.3zm278.3 0h4.2v17.2h-4.2zm-671.9 17h8.3v17.2h-8.3zm72.4 0h4.3v17.2h-4.3zm301.2 0h4.3v17.2h-4.3zm100.4 0h4.3v17.2h-4.3zm20.1 0h4.3v17.2h-4.3zm8.3 0h4.3v17.2h-4.3zm12.1 0h4.3v17.2h-4.3zm12 0h4.3v17.2h-4.3zm16.1 0h4.3v17.2h-4.3zm20.2 0h4.3v17.2h-4.3zm52.4 0h4.3v17.2h-4.3zm12.7 0h4.2v17.2h-4.2zm20 0h4.2v17.2h-4.2zm80.4 0h4.2v17.2h-4.2zm27.9 0h8.2v17.2h-8.2zm-736.2 17h4.3v17.2h-4.3zm28.3 0h4.3v17.2h-4.3zm8 0h4.3v17.2h-4.3zm196.5 0h4.3v17.2h-4.3zm20.1 0h4.3v17.2h-4.3zm12.1 0h4.3v17.2h-4.3zm68.5 0h4.3v17.2h-4.3zm24.1 0h4.3v17.2h-4.3zm124.8 0h4.3v17.2h-4.3zm20.1 0h4.3v17.2h-4.3zm28.2 0h4.3v17.2h-4.3zm89.2 0h4.2v17.2h-4.2zm52 0h8.2v17.2h-8.2zm28.4 0h4.2v17.2h-4.2zm8 0h4.2v17.2h-4.2zm-756.4 16.9h4.3v17.2h-4.3zm16.1 0h8.3v17.2h-8.3zm68.3 0h4.3v17.2h-4.3zm12.1 0h4.3v17.2h-4.3zm232.7 0h4.3v17.2h-4.3zm92.5 0h4.3v17.2h-4.3zm60.3 0h12.3v17.2h-12.3zm20.1 0h8.3v17.2h-8.3zm52.5 0h4.3v17.2h-4.3zm28.2 0h4.3v17.2h-4.3zm28.3 0h4.3v17.2h-4.3zm32.2 0h4.3v17.2h-4.3zm36.7 0h4.2v17.2h-4.2zm24 0h4.2v17.2h-4.2zm8 0h4.2v17.2h-4.2zm48.4 0h4.2v17.2h-4.2zm11.9 0h4.2v17.2h-4.2zm-772.3 16.9h4.3v17.2h-4.3zm120.8 0h4.2v17.2h-4.2zm208.4 0h4.3v17.2h-4.3zm64.4 0h4.3v17.2h-4.3zm16.1 0h4.3v17.2h-4.3zm108.5 0h4.3v17.2h-4.3zm60.6 0h4.3v17.2h-4.3zm32.3 0h4.3v17.2h-4.3zm8.1 0h8.3v17.2h-8.3zm52.8 0h4.2v17.2h-4.2zm40 0h4.2v17.2h-4.2zm20.4 0h4.2v17.2h-4.2zm-704.3 17h12.3v17.2h-12.3zm20 0h4.3v17.2h-4.3zm48.4 0h4.3v17.2h-4.3zm28.2 0h4.2v17.2h-4.2zm144.1 0h4.3v17.2h-4.3zm12.1 0h8.3v17.2h-8.3zm40.2 0h4.3v17.2h-4.3zm104.6 0h4.3v17.2h-4.3zm8.1 0h4.3v17.2h-4.3zm64.3 0h4.3v17.2h-4.3zm44.5 0h4.3v17.2h-4.3zm28.1 0h4.3v17.2h-4.3zm28.3 0h4.3v17.2h-4.3zm20.2 0h4.3v17.2h-4.3zm36.8 0h4.2v17.2h-4.2zm56 0h8.2v17.2h-8.2zm44.4 0h4.2v17.2h-4.2zm7.9 0h4.2v17.2h-4.2zm-724.2 16.9h4.3v17.2h-4.3zm44.3 0h4.3v17.2h-4.3zm36.4 0h4.2v17.2h-4.2zm176.2 0h4.3v17.2h-4.3zm100.7 0h4.3v17.2h-4.3zm20 0h8.3v17.2h-8.3zm20.1 0h4.3v17.2h-4.3zm32.2 0h4.3v17.2h-4.3zm8 0h4.3v17.2h-4.3zm28.1 0h8.3v17.2h-8.3zm12.1 0h4.3v17.2h-4.3zm72.7 0h4.3v17.2h-4.3zm12.1 0h4.3v17.2h-4.3zm8.1 0h4.3v17.2h-4.3zm8.1 0h4.3v17.2h-4.3zm40.8 0h4.2v17.2h-4.2zm60 0h4.2v17.2h-4.2zm32.4 0h4.2v17.2h-4.2zm35.9 0h4.2v17.2h-4.2zm-796.3 17h4.3v17.2h-4.3zm8 0h4.3v17.2h-4.3zm8 0h8.3v17.2h-8.3zm56.2 0h4.3v17.2h-4.3zm8.2 0h4.3v17.2h-4.3zm297.3 0h4.2v17.2h-4.2zm15.9 0h4.3v17.2h-4.3zm12.1 0h4.3v17.2h-4.3zm28 0h8.3v17.2h-8.3zm32.2 0h4.3v17.2h-4.3zm12.1 0h4.3v17.2h-4.3zm40.1 0h4.3v17.2h-4.3zm48.6 0h8.3v17.2h-8.3zm12 0h8.3v17.2h-8.3zm12.1 0h4.3v17.2h-4.3zm40.4 0h4.3v17.2h-4.3zm8 0h4.3v17.2h-4.3zm16.2 0h4.3v17.2h-4.3zm24.6 0h8.2v17.2h-8.2zm12 0h4.2v17.2h-4.2zm52.4 0h4.2v17.2h-4.2zm20 0h4.2v17.2h-4.2zm-752.4 16.9h4.3v17.2h-4.3zm16.1 0h4.3v17.2h-4.3zm12 0h8.3v17.2h-8.3zm48.3 0h4.3v17.2h-4.3zm60.1 0h4.3v17.2h-4.3zm12 0h4.3v17.2h-4.3zm24.1 0h4.3v17.2h-4.3zm40.2 0h4.2v17.2h-4.2zm11.9 0h4.3v17.2h-4.3zm24.2 0h4.3v17.2h-4.3zm8.1 0h4.3v17.2h-4.3zm76.4 0h4.3v17.2h-4.3zm100.4 0h4.3v17.2h-4.3zm44.2 0h4.3v17.2h-4.3zm20.1 0h4.3v17.2h-4.3zm20.1 0h4.3v17.2h-4.3zm12.3 0h4.3v17.2h-4.3zm68.5 0h4.3v17.2h-4.3zm85 0h4.2v17.2h-4.2zm92.3 0h8.2v17.2h-8.2zm-776.3 17h4.3v17.2h-4.3zm44.1 0h8.3v17.2h-8.3zm60.4 0h4.3v17.2h-4.3zm12.3 0h4.2v17.2h-4.2zm264.8 0h4.3v17.2h-4.3zm32.1 0h4.3v17.2h-4.3zm76.4 0h4.3v17.2h-4.3zm28.1 0h4.3v17.2h-4.3zm8.3 0h4.3v17.2h-4.3zm112.8 0h4.3v17.2h-4.3zm56.7 0h4.2v17.2h-4.2zm52.4 0h4.2v17.2h-4.2zm-756.4 16.9h4.3v17.2h-4.3zm32.1 0h4.3v17.2h-4.3zm36.1 0h4.3v17.2h-4.3zm20.2 0h4.3v17.2h-4.3zm36.4 0h4.2v17.2h-4.2zm51.8 0h4.3v17.2h-4.3zm20.3 0h4.2v17.2h-4.2zm8 0h4.2v17.2h-4.2zm228.9 0h8.3v17.2h-8.3zm52.2 0h8.3v17.2h-8.3zm84.7 0h4.3v17.2h-4.3zm24.2 0h4.3v17.2h-4.3zm40.3 0h4.3v17.2h-4.3zm32.8 0h4.2v17.2h-4.2zm36 0h4.2v17.2h-4.2zm36.4 0h4.2v17.2h-4.2zm12 0h8.2v17.2h-8.2zm27.9 0h4.2v17.2h-4.2zm12 0h4.2v17.2h-4.2zm-792.3 17h4.3v17.2h-4.3zm28.1 0h4.3v17.2h-4.3zm20 0h8.3v17.2h-8.3zm40.3 0h4.3v17.2h-4.3zm8 0h4.3v17.2h-4.3zm12.1 0h4.3v17.2h-4.3zm40 0h4.3v17.2h-4.3zm56.4 0h4.2v17.2h-4.2zm27.8 0h4.3v17.2h-4.3zm12.1 0h4.3v17.2h-4.3zm16.1 0h4.3v17.2h-4.3zm32 0h4.3v17.2h-4.3zm20.1 0h4.3v17.2h-4.3zm290 0h4.3v17.2h-4.3zm12.1 0h4.3v17.2h-4.3zm12.1 0h4.3v17.2h-4.3zm40.8 0h4.2v17.2h-4.2zm32 0h4.2v17.2h-4.2zm68.3 0h8.2v17.2h-8.2zm16 0h4.2v17.2h-4.2zm-768.2 16.9h4.3v17.2h-4.3zm76.3 0h8.3v17.2h-8.3zm12.1 0h8.3v17.2h-8.3zm16.3 0h4.2v17.2h-4.2zm39.7 0h4.3v17.2h-4.3zm12.1 0h4.3v17.2h-4.3zm16 0h4.3v17.2h-4.3zm20.3 0h4.2v17.2h-4.2zm35.9 0h8.3v17.2h-8.3zm40.1 0h4.3v17.2h-4.3zm56.5 0h4.3v17.2h-4.3zm197.1 0h8.3v17.2h-8.3zm20.1 0h4.3v17.2h-4.3zm32.2 0h4.3v17.2h-4.3zm20.3 0h4.3v17.2h-4.3zm16.1 0h8.3v17.2h-8.3zm56.8 0h4.2v17.2h-4.2zm32 0h4.2v17.2h-4.2zm20.4 0h4.2v17.2h-4.2zm-736.4 17h8.3v17.2h-8.3zm20.1 0h4.3v17.2h-4.3zm8 0h4.3v17.2h-4.3zm128.4 0h8.3v17.2h-8.3zm32.1 0h4.3v17.2h-4.3zm24.2 0h4.2v17.2h-4.2zm32 0h8.3v17.2h-8.3zm84.4 0h4.3v17.2h-4.3zm20.2 0h4.3v17.2h-4.3zm189.1 0h8.3v17.2h-8.3zm92.7 0h4.3v17.2h-4.3zm12.1 0h4.3v17.2h-4.3zm24.7 0h4.2v17.2h-4.2zm100.3 0h4.2v17.2h-4.2zm-768.3 17h4.3v17.2h-4.3zm8 0h4.3v17.2h-4.3zm48.2 0h4.3v17.2h-4.3zm24.2 0h4.3v17.2h-4.3zm16 0h4.3v17.2h-4.3zm12.1 0h4.3v17.2h-4.3zm16.3 0h4.2v17.2h-4.2zm23.7 0h4.3v17.2h-4.3zm12 0h4.3v17.2h-4.3zm8.1 0h4.3v17.2h-4.3zm40.3 0h8.2v17.2h-8.2zm44 0h8.3v17.2h-8.3zm27.9 0h4.3v17.2h-4.3zm12.1 0h4.3v17.2h-4.3zm76.8 0h4.2v17.2h-4.2zm116.3 0h4.3v17.2h-4.3zm36.2 0h4.3v17.2h-4.3zm24.4 0h4.3v17.2h-4.3zm12 0h4.3v17.2h-4.3zm20.2 0h4.3v17.2h-4.3zm8 0h4.3v17.2h-4.3zm73.2 0h4.2v17.2h-4.2zm20 0h4.2v17.2h-4.2zm12 0h4.2v17.2h-4.2zm8 0h8.2v17.2h-8.2zm84.3 0h4.2v17.2h-4.2zm-491.4 16.9h8.3v17.2h-8.3zm487.4 0h4.2v17.2h-4.2zm-683.9 16.9h4.3v17.2h-4.3zm88.2 0h4.3v17.2h-4.3zm16.3 0h4.2v17.2h-4.2zm35.9 0h4.3v17.2h-4.3zm60.2 0h4.3v17.2h-4.3zm64.5 0h4.3v17.2h-4.3zm112.5 0h4.3v17.2h-4.3zm8 0h4.3v17.2h-4.3zm28.1 0h4.3v17.2h-4.3zm76.7 0h4.3v17.2h-4.3zm40.4 0h4.3v17.2h-4.3zm12.1 0h4.3v17.2h-4.3zm32.7 0h4.2v17.2h-4.2zm44 0h4.2v17.2h-4.2zm32.4 0h8.2v17.2h-8.2zm27.9 0h4.2v17.2h-4.2zm12 0h4.2v17.2h-4.2zm-792.3 17h8.3v17.2h-8.3zm28.1 0h8.3v17.2h-8.3zm16 0h4.3v17.2h-4.3zm52.3 0h8.3v17.2h-8.3zm56.1 0h8.3v17.2h-8.3zm12 0h4.3v17.2h-4.3zm20.1 0h4.3v17.2h-4.3zm28.3 0h4.2v17.2h-4.2zm7.9 0h8.2v17.2h-8.2zm11.9 0h8.3v17.2h-8.3zm20.1 0h4.3v17.2h-4.3zm12.1 0h4.3v17.2h-4.3zm11.9 0h4.3v17.2h-4.3zm16.1 0h4.3v17.2h-4.3zm24.1 0h4.3v17.2h-4.3zm28.4 0h8.3v17.2h-8.3zm213.2 0h4.3v17.2h-4.3zm32.2 0h4.3v17.2h-4.3zm16.2 0h4.3v17.2h-4.3zm24.2 0h8.3v17.2h-8.3zm88.8 0h8.2v17.2h-8.2zm32.4 0h4.2v17.2h-4.2zm8 0h4.2v17.2h-4.2zm8 0h12.2v17.2h-12.2zm-732.3 16.9h4.3v17.2h-4.3zm24.1 0h4.3v17.2h-4.3zm40.2 0h4.3v17.2h-4.3zm44.1 0h4.3v17.2h-4.3zm8 0h4.3v17.2h-4.3zm8 0h4.3v17.2h-4.3zm60.3 0h4.2v17.2h-4.2zm48.2 0h4.3v17.2h-4.3zm48 0h4.3v17.2h-4.3zm16.2 0h4.3v17.2h-4.3zm28.3 0h4.3v17.2h-4.3zm16.2 0h4.2v17.2h-4.2zm148.5 0h4.3v17.2h-4.3zm12.3 0h4.3v17.2h-4.3zm72.5 0h4.3v17.2h-4.3zm24.2 0h4.3v17.2h-4.3zm16.1 0h4.3v17.2h-4.3zm12.7 0h4.2v17.2h-4.2zm80.4 0h4.2v17.2h-4.2zm24 0h12.2v17.2h-12.2zm15.9 0h4.2v17.2h-4.2zm-784.3 17h4.3v17.2h-4.3zm12 0h4.3v17.2h-4.3zm16.1 0h8.3v17.2h-8.3zm68.3 0h4.3v17.2h-4.3zm68.1 0h4.3v17.2h-4.3zm8.1 0h4.3v17.2h-4.3zm8 0h4.3v17.2h-4.3zm12 0h4.3v17.2h-4.3zm20.3 0h4.2v17.2h-4.2zm19.8 0h4.3v17.2h-4.3zm16.1 0h4.3v17.2h-4.3zm36 0h4.3v17.2h-4.3zm8.1 0h4.3v17.2h-4.3zm20.1 0h8.3v17.2h-8.3zm40.4 0h4.3v17.2h-4.3zm12.1 0h4.3v17.2h-4.3zm104.4 0h4.3v17.2h-4.3zm48.2 0h4.3v17.2h-4.3zm8.1 0h4.3v17.2h-4.3zm16.3 0h4.3v17.2h-4.3zm20.1 0h4.3v17.2h-4.3zm12.1 0h4.3v17.2h-4.3zm20.1 0h4.3v17.2h-4.3zm36.4 0h4.3v17.2h-4.3zm40.8 0h4.2v17.2h-4.2zm20 0h4.2v17.2h-4.2zm104.3 0h4.2v17.2h-4.2zm-699.9 16.9h8.3v17.2h-8.3zm12.1 0h8.3v17.2h-8.3zm84.1 0h4.3v17.2h-4.3zm16.3 0h4.2v17.2h-4.2zm52 0h4.3v17.2h-4.3zm84.5 0h4.3v17.2h-4.3zm261.6 0h4.3v17.2h-4.3zm44.3 0h8.3v17.2h-8.3zm12.7 0h4.2v17.2h-4.2zm20 0h4.2v17.2h-4.2zm20 0h4.2v17.2h-4.2zm80.3 0h4.2v17.2h-4.2zm8 0h4.2v17.2h-4.2zm-764.2 17h4.3v17.2h-4.3zm68.3 0h8.3v17.2h-8.3zm16.1 0h4.3v17.2h-4.3zm16.3 0h4.2v17.2h-4.2zm7.9 0h4.2v17.2h-4.2zm19.8 0h4.3v17.2h-4.3zm32.1 0h4.3v17.2h-4.3zm68.3 0h8.3v17.2h-8.3zm40 0h4.3v17.2h-4.3zm20.1 0h4.3v17.2h-4.3zm56.7 0h4.2v17.2h-4.2zm32 0h4.3v17.2h-4.3zm201.3 0h4.3v17.2h-4.3zm8.1 0h4.3v17.2h-4.3zm48.9 0h4.2v17.2h-4.2zm16 0h4.2v17.2h-4.2zm72.4 0h4.2v17.2h-4.2zm12 0h4.2v17.2h-4.2zm15.9 0h4.2v17.2h-4.2zm-378.7 17h4.3v17.2h-4.3zm-305.2 16.9h4.3v17.2h-4.3zm16.1 0h4.3v17.2h-4.3zm277.1 0h4.3v17.2h-4.3zm48.2 0h4.3v17.2h-4.3zm358.5 0h4.2v17.2h-4.2zm-691.8 16.9h4.3v17.2h-4.3zm196.5 0h4.3v17.2h-4.3zm407 0h4.2v17.2h-4.2zm88.3 0h4.2v17.2h-4.2zm-764.2 17h4.3v17.2h-4.3zm20 0h4.3v17.2h-4.3zm8.1 0h4.3v17.2h-4.3zm12 0h4.3v17.2h-4.3zm24.2 0h4.3v17.2h-4.3zm8.1 0h4.3v17.2h-4.3zm32.2 0h4.2v17.2h-4.2zm23.8 0h4.3v17.2h-4.3zm20.1 0h8.3v17.2h-8.3zm20.3 0h4.2v17.2h-4.2zm19.9 0h4.2v17.2h-4.2zm48.2 0h4.3v17.2h-4.3zm44 0h4.3v17.2h-4.3zm116.7 0h8.3v17.2h-8.3zm250.3 0h8.2v17.2h-8.2zm28 0h8.2v17.2h-8.2zm12 0h4.2v17.2h-4.2zm72.3 0h4.2v17.2h-4.2zm-772.2 16.9h4.3v17.2h-4.3zm8 0h4.3v17.2h-4.3zm56.3 0h4.3v17.2h-4.3zm52.3 0h4.2v17.2h-4.2zm19.8 0h4.3v17.2h-4.3zm16.1 0h12.3v17.2h-12.3zm20 0h4.3v17.2h-4.3zm40.1 0h4.3v17.2h-4.3zm20.1 0h4.3v17.2h-4.3zm12.1 0h4.3v17.2h-4.3zm44.1 0h4.3v17.2h-4.3zm8 0h4.3v17.2h-4.3zm36.4 0h4.3v17.2h-4.3zm8.1 0h4.3v17.2h-4.3zm16.2 0h4.2v17.2h-4.2zm11.9 0h4.3v17.2h-4.3zm20.1 0h4.3v17.2h-4.3zm16 0h4.3v17.2h-4.3zm20.1 0h4.3v17.2h-4.3zm96.7 0h4.3v17.2h-4.3zm24.2 0h4.3v17.2h-4.3zm44.3 0h4.3v17.2h-4.3zm16.2 0h4.3v17.2h-4.3zm60.8 0h4.2v17.2h-4.2zm40 0h4.2v17.2h-4.2zm16.4 0h4.2v17.2h-4.2zm8 0h4.2v17.2h-4.2zm12 0h4.2v17.2h-4.2zm11.9 0h4.2v17.2h-4.2zm-378.7 17h4.3v17.2h-4.3zm20.1 0h4.3v17.2h-4.3zm302.3 0h4.2v17.2h-4.2zm48.4 0h4.2v17.2h-4.2zm19.9 0h4.2v17.2h-4.2zm8 0h4.2v17.2h-4.2zm-695.9 16.9h4.3v17.2h-4.3zm313.3 0h8.3v17.2h-8.3zm36.1 0h4.3v17.2h-4.3zm177.4 0h4.3v17.2h-4.3zm-603.1 17h4.3v17.2h-4.3zm12 0h4.3v17.2h-4.3zm16 0h4.3v17.2h-4.3zm8.1 0h4.3v17.2h-4.3zm24.2 0h4.3v17.2h-4.3zm8 0h4.3v17.2h-4.3zm96.2 0h8.3v17.2h-8.3zm44.1 0h8.3v17.2h-8.3zm20.1 0h4.3v17.2h-4.3zm16.2 0h4.3v17.2h-4.3zm40 0h4.3v17.2h-4.3zm36.4 0h8.3v17.2h-8.3zm20.1 0h4.3v17.2h-4.3zm20.1 0h8.3v17.2h-8.3zm52.2 0h4.3v17.2h-4.3zm8 0h4.3v17.2h-4.3zm238.2 0h8.2v17.2h-8.2zm40 0h4.2v17.2h-4.2zm44.4 0h4.2v17.2h-4.2zm15.9 0h8.2v17.2h-8.2zm-699.9 16.9h4.3v17.2h-4.3zm16 0h4.3v17.2h-4.3zm8.1 0h8.3v17.2h-8.3zm293.1 0h4.3v17.2h-4.3zm20.1 0h4.3v17.2h-4.3zm286.3 0h4.2v17.2h-4.2zm-683.9 17h4.3v17.2h-4.3zm188.8 0h4.2v17.2h-4.2zm27.9 0h4.3v17.2h-4.3zm56.1 0h4.3v17.2h-4.3zm12.1 0h8.3v17.2h-8.3zm12.1 0h4.3v17.2h-4.3zm80.5 0h4.3v17.2h-4.3zm306.4 0h4.2v17.2h-4.2zm-696 16.9h4.3v17.2h-4.3zm60.2 0h4.3v17.2h-4.3zm72.3 0h4.3v17.2h-4.3zm36.1 0h4.3v17.2h-4.3zm8 0h4.3v17.2h-4.3zm60.2 0h4.3v17.2h-4.3zm96.6 0h4.3v17.2h-4.3zm60.3 0h8.3v17.2h-8.3zm44.1 0h4.3v17.2h-4.3zm120.9 0h4.3v17.2h-4.3zm-108.8 17h4.3v17.2h-4.3zm12.1 0h4.3v17.2h-4.3zm20 0h4.3v17.2h-4.3zm12.1 0h4.3v17.2h-4.3zm12 0h4.3v17.2h-4.3zm48.6 0h4.3v17.2h-4.3zm12 0h4.3v17.2h-4.3zm16.1 0h4.3v17.2h-4.3zm12.2 0h4.3v17.2h-4.3zm-599 16.9h4.3v17.2h-4.3zm12.1 0h4.3v17.2h-4.3zm32 0h4.3v17.2h-4.3zm60.4 0h4.3v17.2h-4.3zm40 0h4.3v17.2h-4.3zm24.1 0h4.3v17.2h-4.3zm36.3 0h4.2v17.2h-4.2zm19.8 0h4.3v17.2h-4.3zm16.1 0h4.3v17.2h-4.3zm20.2 0h4.3v17.2h-4.3zm23.9 0h4.3v17.2h-4.3zm24.1 0h4.3v17.2h-4.3zm16.2 0h4.3v17.2h-4.3zm32.3 0h4.3v17.2h-4.3zm24.1 0h4.3v17.2h-4.3zm8 0h4.3v17.2h-4.3zm12.1 0h8.3v17.2h-8.3zm36.1 0h4.3v17.2h-4.3zm16.1 0h4.3v17.2h-4.3zm32.1 0h4.3v17.2h-4.3zm64.6 0h4.3v17.2h-4.3zm36.2 0h4.3v17.2h-4.3zm56.5 0h8.3v17.2h-8.3zm24.7 0h4.2v17.2h-4.2zm84.4 0h4.2v17.2h-4.2zm-664 17h8.3v17.2h-8.3zm16.1 0h4.3v17.2h-4.3zm48 0h4.3v17.2h-4.3zm16.1 0h4.3v17.2h-4.3zm16 0h4.3v17.2h-4.3zm44.1 0h8.3v17.2h-8.3zm20.2 0h8.3v17.2h-8.3zm32 0h4.3v17.2h-4.3zm8 0h4.3v17.2h-4.3zm48.5 0h4.3v17.2h-4.3zm12.1 0h12.3v17.2h-12.3zm40.1 0h8.3v17.2h-8.3zm24.1 0h4.3v17.2h-4.3zm16.1 0h4.3v17.2h-4.3zm20.1 0h4.3v17.2h-4.3zm28.1 0h8.3v17.2h-8.3zm20.1 0h4.3v17.2h-4.3zm92.8 0h4.3v17.2h-4.3zm12.1 0h4.3v17.2h-4.3zm8.1 0h4.3v17.2h-4.3zm12.1 0h4.3v17.2h-4.3zm-538.8 16.9h4.3v17.2h-4.3zm12.1 0h4.3v17.2h-4.3zm80.1 0h4.3v17.2h-4.3zm128.4 0h4.3v17.2h-4.3zm36.4 0h4.3v17.2h-4.3zm80.3 0h4.3v17.2h-4.3zm-401.6 17h4.3v17.2h-4.3zm16 0h4.3v17.2h-4.3zm8 0h8.3v17.2h-8.3zm52.4 0h4.3v17.2h-4.3zm52 0h8.3v17.2h-8.3zm52.4 0h4.2v17.2h-4.2zm128.3 0h4.3v17.2h-4.3zm16.2 0h4.3v17.2h-4.3zm8.1 0h4.3v17.2h-4.3zm132.5 0h4.3v17.2h-4.3zm76.7 0h8.3v17.2h-8.3zm20.1 0h4.3v17.2h-4.3zm8.1 0h4.3v17.2h-4.3zm-598.9 16.9h4.3v17.2h-4.3zm16 0h4.3v17.2h-4.3zm8.1 0h4.3v17.2h-4.3zm16 0h4.3v17.2h-4.3zm136.5 0h4.3v17.2h-4.3zm44.2 0h4.2v17.2h-4.2zm20 0h4.3v17.2h-4.3zm44 0h4.3v17.2h-4.3zm8.1 0h8.3v17.2h-8.3zm68.6 0h8.3v17.2h-8.3zm168.7 0h4.3v17.2h-4.3zm28.4 0h4.3v17.2h-4.3zm72.6 0h8.3v17.2h-8.3zm20.1 0h4.3v17.2h-4.3zm-651.3 17h4.3v17.2h-4.3zm16 0h4.3v17.2h-4.3zm16.1 0h4.3v17.2h-4.3zm16 0h4.3v17.2h-4.3zm16.1 0h4.3v17.2h-4.3zm48.3 0h4.3v17.2h-4.3zm88.4 0h8.2v17.2h-8.2zm15.9 0h8.2v17.2h-8.2zm32 0h4.3v17.2h-4.3zm20.2 0h4.3v17.2h-4.3zm76.4 0h4.3v17.2h-4.3zm12.1 0h4.3v17.2h-4.3zm120.5 0h4.3v17.2h-4.3zm16 0h4.3v17.2h-4.3zm36.2 0h4.3v17.2h-4.3zm28.4 0h4.3v17.2h-4.3zm56.5 0h4.3v17.2h-4.3zm28.2 0h4.3v17.2h-4.3zm113.1 0h4.2v17.2h-4.2zm-752.4 16.9h4.3v17.2h-4.3zm96.4 0h4.3v17.2h-4.3zm52.1 0h12.3v17.2h-12.3zm64.3 0h4.2v17.2h-4.2zm19.9 0h4.3v17.2h-4.3zm16.1 0h4.3v17.2h-4.3zm8.1 0h4.3v17.2h-4.3zm28 0h4.3v17.2h-4.3zm8 0h4.3v17.2h-4.3zm16.1 0h4.3v17.2h-4.3zm16.1 0h4.3v17.2h-4.3zm16.3 0h8.3v17.2h-8.3zm136.6 0h12.3v17.2h-12.3zm16.1 0h4.3v17.2h-4.3zm8 0h4.3v17.2h-4.3zm20.1 0h4.3v17.2h-4.3zm-502.1 17h12.3v17.2h-12.3zm20 0h4.3v17.2h-4.3zm68.4 0h4.3v17.2h-4.3zm16.3 0h4.2v17.2h-4.2zm27.7 0h4.3v17.2h-4.3zm16.1 0h4.3v17.2h-4.3zm12 0h4.3v17.2h-4.3zm28.3 0h4.2v17.2h-4.2zm44 0h4.3v17.2h-4.3zm44.1 0h4.3v17.2h-4.3zm56.5 0h4.3v17.2h-4.3zm8 0h4.3v17.2h-4.3zm104.4 0h4.3v17.2h-4.3zm24.1 0h4.3v17.2h-4.3zm12.1 0h4.3v17.2h-4.3zm16.1 0h4.3v17.2h-4.3zm20.3 0h4.3v17.2h-4.3zm16.1 0h4.3v17.2h-4.3zm60.5 0h8.3v17.2h-8.3zm12.1 0h8.3v17.2h-8.3zm24.2 0h4.3v17.2h-4.3zm-651.4 17h4.3v17.2h-4.3zm12 0h8.3v17.2h-8.3zm16.1 0h4.3v17.2h-4.3zm12 0h4.3v17.2h-4.3zm28.1 0h4.3v17.2h-4.3zm76.3 0h4.3v17.2h-4.3zm12 0h4.3v17.2h-4.3zm28.1 0h4.3v17.2h-4.3zm52.2 0h4.3v17.2h-4.3zm152.8 0h4.3v17.2h-4.3zm12.1 0h4.3v17.2h-4.3zm20 0h4.3v17.2h-4.3zm24.1 0h4.3v17.2h-4.3zm36.2 0h4.3v17.2h-4.3zm129.1 0h8.3v17.2h-8.3zm28.2 0h4.3v17.2h-4.3zm-631.3 16.9h4.3v17.2h-4.3zm80.4 0h4.3v17.2h-4.3zm12.1 0h4.3v17.2h-4.3zm24.3 0h4.2v17.2h-4.2zm72.1 0h4.2v17.2h-4.2zm100.1 0h4.3v17.2h-4.3zm52.4 0h4.3v17.2h-4.3zm12.1 0h4.3v17.2h-4.3zm40.2 0h4.3v17.2h-4.3zm169 0h4.3v17.2h-4.3zm-574.7 16.9h4.3v17.2h-4.3zm32.1 0h4.3v17.2h-4.3zm8 0h4.3v17.2h-4.3zm72.4 0h4.3v17.2h-4.3zm144.4 0h4.3v17.2h-4.3zm96.5 0h4.3v17.2h-4.3zm12.1 0h4.3v17.2h-4.3zm64.2 0h8.3v17.2h-8.3zm40.2 0h4.3v17.2h-4.3zm137.1 0h4.3v17.2h-4.3zm12.1 0h8.3v17.2h-8.3z"/>
<path fill="#ffffff" d="M9.4 1868.1h4.3v17.2h-4.3zm8 0h4.3v17.2h-4.3zm8.1 0h4.3v17.2h-4.3zm32 0h8.3v17.2h-8.3zm36.3 0h4.3v17.2h-4.3zm289.3 0h4.2v17.2h-4.2zm28 0h8.3v17.2h-8.3zm44.1 0h4.3v17.2h-4.3zm133 0h4.3v17.2h-4.3zm8 0h4.3v17.2h-4.3zm40.4 0h4.3v17.2h-4.3zm16.1 0h4.3v17.2h-4.3zm84.7 0h4.2v17.2h-4.2zm36.4 0h4.2v17.2h-4.2zm7.9 0h4.2v17.2h-4.2zm-776.3 16.9h4.3v17.2h-4.3zm24.1 0h4.3v17.2h-4.3zm12 0h4.3v17.2h-4.3zm64.3 0h4.3v17.2h-4.3zm8.1 0h4.3v17.2h-4.3zm28.2 0h4.2v17.2h-4.2zm47.9 0h4.3v17.2h-4.3zm8 0h4.3v17.2h-4.3zm44.1 0h4.3v17.2h-4.3zm84.4 0h4.3v17.2h-4.3zm24.3 0h4.3v17.2h-4.3zm184.8 0h4.3v17.2h-4.3zm97 0h4.3v17.2h-4.3zm8 0h4.3v17.2h-4.3zm133.2 0h4.2v17.2h-4.2zm27.9 0h4.2v17.2h-4.2zm-703.9 17h4.3v17.2h-4.3zm60.1 0h12.3v17.2h-12.3zm16 0h4.3v17.2h-4.3zm16.1 0h4.3v17.2h-4.3zm32.2 0h4.2v17.2h-4.2zm8 0h4.2v17.2h-4.2zm7.9 0h4.3v17.2h-4.3zm8.1 0h4.3v17.2h-4.3zm16.1 0h4.3v17.2h-4.3zm60.1 0h8.3v17.2h-8.3zm12.1 0h4.3v17.2h-4.3zm32.4 0h4.3v17.2h-4.3zm96.4 0h4.3v17.2h-4.3zm68.3 0h4.3v17.2h-4.3zm24.4 0h4.3v17.2h-4.3zm137.4 0h4.2v17.2h-4.2zm64.4 0h4.2v17.2h-4.2zm-748.4 16.9h4.3v17.2h-4.3zm8 0h4.3v17.2h-4.3zm16.1 0h4.3v17.2h-4.3zm16 0h4.3v17.2h-4.3zm16.1 0h4.3v17.2h-4.3zm36.2 0h8.3v17.2h-8.3zm16.1 0h4.3v17.2h-4.3zm24.2 0h4.2v17.2h-4.2zm164.3 0h4.3v17.2h-4.3zm16 0h4.3v17.2h-4.3zm12.1 0h4.3v17.2h-4.3zm64.5 0h4.3v17.2h-4.3zm12.1 0h4.3v17.2h-4.3zm88.3 0h4.3v17.2h-4.3zm8.1 0h4.3v17.2h-4.3zm145.2 0h4.3v17.2h-4.3zm60.7 0h4.2v17.2h-4.2zm8 0h4.2v17.2h-4.2zm40.4 0h4.2v17.2h-4.2zm15.9 0h4.2v17.2h-4.2zm-760.3 17h4.3v17.2h-4.3zm8.1 0h8.3v17.2h-8.3zm32 0h8.3v17.2h-8.3zm76.7 0h4.2v17.2h-4.2zm7.9 0h4.2v17.2h-4.2zm184.4 0h4.3v17.2h-4.3zm88.6 0h4.3v17.2h-4.3zm84.3 0h4.3v17.2h-4.3zm8.1 0h4.3v17.2h-4.3zm16 0h4.3v17.2h-4.3zm56.6 0h4.3v17.2h-4.3zm48.4 0h4.3v17.2h-4.3zm8.1 0h4.3v17.2h-4.3zm20.1 0h4.3v17.2h-4.3zm68.7 0h4.2v17.2h-4.2zm-716 16.9h4.3v17.2h-4.3zm84.4 0h4.3v17.2h-4.3zm20.1 0h4.3v17.2h-4.3zm28.2 0h4.2v17.2h-4.2zm-92.6 17h4.3v17.2h-4.3zm8 0h8.3v17.2h-8.3zm32.3 0h4.3v17.2h-4.3zm16 0h4.3v17.2h-4.3zm293.2 0h4.3v17.2h-4.3zm12.1 0h4.3v17.2h-4.3zm88.3 0h4.3v17.2h-4.3zm20.1 0h8.3v17.2h-8.3zm113.1 0h4.3v17.2h-4.3zm20.1 0h4.3v17.2h-4.3zm20.7 0h8.2v17.2h-8.2zm76.4 0h4.2v17.2h-4.2zm24 0h4.2v17.2h-4.2zm-768.4 17h4.3v17.2h-4.3zm8 0h4.3v17.2h-4.3zm12.1 0h4.3v17.2h-4.3zm20 0h4.3v17.2h-4.3zm12 0h4.3v17.2h-4.3zm8.1 0h4.3v17.2h-4.3zm216.6 0h4.3v17.2h-4.3zm52.3 0h4.3v17.2h-4.3zm72.5 0h8.3v17.2h-8.3zm28.1 0h4.3v17.2h-4.3zm20.1 0h4.3v17.2h-4.3zm24.2 0h4.3v17.2h-4.3zm12 0h4.3v17.2h-4.3zm12.1 0h4.3v17.2h-4.3zm20 0h8.3v17.2h-8.3zm12.1 0h4.3v17.2h-4.3zm20.4 0h4.3v17.2h-4.3zm16.1 0h4.3v17.2h-4.3zm8 0h12.3v17.2h-12.3zm16.1 0h12.3v17.2h-12.3zm20.2 0h4.3v17.2h-4.3zm8.1 0h4.3v17.2h-4.3zm32.2 0h4.3v17.2h-4.3zm12.7 0h4.2v17.2h-4.2zm8 0h4.2v17.2h-4.2zm20 0h4.2v17.2h-4.2zm88.3 0h4.2v17.2h-4.2zm-748.2 16.9h4.3v17.2h-4.3zm104.6 0h4.2v17.2h-4.2zm144.1 0h4.3v17.2h-4.3zm28.2 0h4.3v17.2h-4.3zm20.1 0h8.3v17.2h-8.3zm48.6 0h4.2v17.2h-4.2zm100.3 0h4.3v17.2h-4.3zm24.1 0h4.3v17.2h-4.3zm68.6 0h4.3v17.2h-4.3zm12.1 0h4.3v17.2h-4.3zm52.4 0h4.3v17.2h-4.3zm32.8 0h4.2v17.2h-4.2zm56 0h4.2v17.2h-4.2zm36.4 0h4.2v17.2h-4.2zm31.9 0h8.2v17.2h-8.2zm-699.9 16.9h4.3v17.2h-4.3zm24.1 0h4.3v17.2h-4.3zm188.5 0h4.3v17.2h-4.3zm84.6 0h4.3v17.2h-4.3zm24.1 0h4.3v17.2h-4.3zm24.1 0h4.3v17.2h-4.3zm12 0h4.3v17.2h-4.3zm20.1 0h4.3v17.2h-4.3zm40.2 0h8.3v17.2h-8.3zm153.9 0h4.2v17.2h-4.2zm44 0h4.2v17.2h-4.2zm16 0h4.2v17.2h-4.2zm28.4 0h4.2v17.2h-4.2zm23.9 0h4.2v17.2h-4.2zm-776.3 17h4.3v17.2h-4.3zm28.1 0h4.3v17.2h-4.3zm40.1 0h8.3v17.2h-8.3zm28.2 0h4.3v17.2h-4.3zm28.4 0h8.2v17.2h-8.2zm156 0h4.3v17.2h-4.3zm52.4 0h8.3v17.2h-8.3zm60.4 0h4.3v17.2h-4.3zm56.2 0h4.3v17.2h-4.3zm28.2 0h4.3v17.2h-4.3zm161.2 0h4.3v17.2h-4.3zm28.8 0h4.2v17.2h-4.2zm92.4 0h4.2v17.2h-4.2zm8 0h4.2v17.2h-4.2zm27.9 0h4.2v17.2h-4.2zm-788.3 16.9h4.3v17.2h-4.3zm32.1 0h4.3v17.2h-4.3zm44.3 0h4.3v17.2h-4.3zm20.1 0h4.3v17.2h-4.3zm216.6 0h4.3v17.2h-4.3zm16.1 0h4.3v17.2h-4.3zm124.7 0h4.3v17.2h-4.3zm28.1 0h4.3v17.2h-4.3zm40.2 0h4.3v17.2h-4.3zm20.4 0h4.3v17.2h-4.3zm32.2 0h4.3v17.2h-4.3zm52.4 0h4.3v17.2h-4.3zm44.8 0h12.2v17.2h-12.2zm28 0h4.2v17.2h-4.2zm36.4 0h4.2v17.2h-4.2zm27.9 0h4.2v17.2h-4.2zm16 0h4.2v17.2h-4.2zm-748.2 17h4.3v17.2h-4.3zm20.1 0h4.3v17.2h-4.3zm32.2 0h4.3v17.2h-4.3zm52.1 0h4.3v17.2h-4.3zm100.3 0h4.3v17.2h-4.3zm8 0h4.3v17.2h-4.3zm172.9 0h8.3v17.2h-8.3zm80.4 0h4.3v17.2h-4.3zm56.5 0h4.3v17.2h-4.3zm125.4 0h4.2v17.2h-4.2zm72.4 0h4.2v17.2h-4.2zm-760.4 16.9h4.3v17.2h-4.3zm24.1 0h4.3v17.2h-4.3zm8 0h4.3v17.2h-4.3zm64.3 0h8.3v17.2h-8.3zm40.3 0h4.2v17.2h-4.2zm27.8 0h4.3v17.2h-4.3zm8.1 0h4.3v17.2h-4.3zm28.3 0h4.2v17.2h-4.2zm156.6 0h4.3v17.2h-4.3zm8 0h4.3v17.2h-4.3zm20.1 0h8.3v17.2h-8.3zm20.1 0h4.3v17.2h-4.3zm20 0h12.3v17.2h-12.3zm56.3 0h4.3v17.2h-4.3zm16.1 0h4.3v17.2h-4.3zm100.8 0h4.3v17.2h-4.3zm8.1 0h4.3v17.2h-4.3zm8.1 0h4.3v17.2h-4.3zm24.1 0h4.3v17.2h-4.3zm44.8 0h4.2v17.2h-4.2zm40 0h4.2v17.2h-4.2zm-720 17h4.3v17.2h-4.3zm12 0h8.3v17.2h-8.3zm88.5 0h4.3v17.2h-4.3zm104.4 0h4.2v17.2h-4.2zm200.8 0h4.3v17.2h-4.3zm88.4 0h4.3v17.2h-4.3zm84.7 0h4.3v17.2h-4.3zm52.4 0h4.3v17.2h-4.3zm12.1 0h4.3v17.2h-4.3zm97.1 0h4.2v17.2h-4.2zm31.9 0h4.2v17.2h-4.2zm20 0h4.2v17.2h-4.2zm-788.3 16.9h4.3v17.2h-4.3zm100.5 0h4.3v17.2h-4.3zm36 0h4.3v17.2h-4.3zm60.4 0h4.2v17.2h-4.2zm11.9 0h8.2v17.2h-8.2zm208.9 0h4.3v17.2h-4.3zm112.8 0h4.3v17.2h-4.3zm24.1 0h4.3v17.2h-4.3zm101.4 0h8.2v17.2h-8.2zm60 0h4.2v17.2h-4.2zm40.4 0h4.2v17.2h-4.2zm7.9 0h4.2v17.2h-4.2zm16 0h4.2v17.2h-4.2zm-764.2 17h4.3v17.2h-4.3zm100.7 0h4.2v17.2h-4.2zm88.1 0h8.2v17.2h-8.2zm44 0h4.3v17.2h-4.3zm72.2 0h4.3v17.2h-4.3zm44.6 0h8.1v17.2h-8.1zm273.6 0h4.3v17.2h-4.3zm36.7 0h4.2v17.2h-4.2zm84.4 0h4.2v17.2h-4.2zm-744.3 16.9h12.3v17.2h-12.3zm60.3 0h4.3v17.2h-4.3zm52.3 0h4.2v17.2h-4.2zm15.8 0h4.3v17.2h-4.3zm32.1 0h4.3v17.2h-4.3zm48.1 0h12.3v17.2h-12.3zm24.2 0h4.3v17.2h-4.3zm27.9 0h4.3v17.2h-4.3zm16.2 0h4.3v17.2h-4.3zm64.5 0h4.3v17.2h-4.3zm12.2 0h4.2v17.2h-4.2zm120.4 0h4.3v17.2h-4.3zm68.6 0h4.3v17.2h-4.3zm24.1 0h4.3v17.2h-4.3zm36.4 0h4.3v17.2h-4.3zm52.8 0h4.2v17.2h-4.2zm44 0h4.2v17.2h-4.2zm36.4 0h4.2v17.2h-4.2zm15.9 0h4.2v17.2h-4.2zm-776.3 17h4.3v17.2h-4.3zm28.1 0h4.3v17.2h-4.3zm56.3 0h4.3v17.2h-4.3zm16 0h4.3v17.2h-4.3zm84.2 0h4.3v17.2h-4.3zm76.3 0h4.3v17.2h-4.3zm8.1 0h4.3v17.2h-4.3zm32 0h4.3v17.2h-4.3zm76.7 0h4.2v17.2h-4.2zm92.2 0h4.3v17.2h-4.3zm8.1 0h4.3v17.2h-4.3zm20.1 0h4.3v17.2h-4.3zm8 0h4.3v17.2h-4.3zm16.1 0h4.3v17.2h-4.3zm28.4 0h20.4v17.2h-20.4zm24.1 0h4.3v17.2h-4.3zm40.4 0h4.3v17.2h-4.3zm16.1 0h4.3v17.2h-4.3zm36.8 0h4.2v17.2h-4.2zm36 0h8.2v17.2h-8.2zm72.3 0h4.2v17.2h-4.2zm12 0h4.2v17.2h-4.2zm-768.2 17h8.3v17.2h-8.3zm16 0h4.3v17.2h-4.3zm88.7 0h4.2v17.2h-4.2zm59.8 0h4.3v17.2h-4.3zm92.2 0h4.3v17.2h-4.3zm36.2 0h4.3v17.2h-4.3zm36.4 0h4.3v17.2h-4.3zm28.3 0h4.2v17.2h-4.2zm120.4 0h4.3v17.2h-4.3zm24.1 0h4.3v17.2h-4.3zm36.4 0h4.3v17.2h-4.3zm20.1 0h4.3v17.2h-4.3zm36.4 0h4.3v17.2h-4.3zm16.1 0h4.3v17.2h-4.3zm8 0h4.3v17.2h-4.3zm84.8 0h4.2v17.2h-4.2zm72.3 0h4.2v17.2h-4.2zm-671.5 16.9h4.2v17.2h-4.2zm615.6 0h4.2v17.2h-4.2zm39.9 0h4.2v17.2h-4.2zm-695.9 16.9h4.3v17.2h-4.3zm116.5 0h4.2v17.2h-4.2zm148.5 0h4.3v17.2h-4.3zm12.1 0h4.3v17.2h-4.3zm140.6 0h4.3v17.2h-4.3zm161.9 0h4.2v17.2h-4.2zm8 0h4.2v17.2h-4.2zm8 0h4.2v17.2h-4.2zm52 0h4.2v17.2h-4.2zm52.3 0h4.2v17.2h-4.2zm-760.2 17h4.3v17.2h-4.3zm28 0h4.3v17.2h-4.3zm72.7 0h4.2v17.2h-4.2zm11.9 0h4.2v17.2h-4.2zm23.8 0h4.3v17.2h-4.3zm32.1 0h4.3v17.2h-4.3zm8.3 0h4.2v17.2h-4.2zm112.1 0h4.3v17.2h-4.3zm144.9 0h4.3v17.2h-4.3zm80.6 0h4.3v17.2h-4.3zm32.2 0h4.3v17.2h-4.3zm8 0h4.3v17.2h-4.3zm105.3 0h4.2v17.2h-4.2zm44 0h4.2v17.2h-4.2zm-631.6 16.9h4.3v17.2h-4.3zm28.4 0h4.2v17.2h-4.2zm23.7 0h4.3v17.2h-4.3zm20 0h4.3v17.2h-4.3zm44.4 0h4.2v17.2h-4.2zm80 0h4.3v17.2h-4.3zm20.1 0h4.3v17.2h-4.3zm217.2 0h4.3v17.2h-4.3zm28.4 0h4.3v17.2h-4.3zm16.1 0h8.3v17.2h-8.3zm56.5 0h4.3v17.2h-4.3zm16.1 0h4.3v17.2h-4.3zm20.7 0h8.2v17.2h-8.2zm12 0h4.2v17.2h-4.2zm8 0h4.2v17.2h-4.2zm20 0h4.2v17.2h-4.2zm12 0h4.2v17.2h-4.2zm40.4 0h4.2v17.2h-4.2zm-708.3 17h4.3v17.2h-4.3zm108.4 0h4.3v17.2h-4.3zm76.2 0h4.3v17.2h-4.3zm16.1 0h8.3v17.2h-8.3zm96.6 0h4.3v17.2h-4.3zm28.3 0h4.2v17.2h-4.2zm108.3 0h8.3v17.2h-8.3zm20.1 0h4.3v17.2h-4.3zm24.1 0h4.3v17.2h-4.3zm16.3 0h4.3v17.2h-4.3zm8.1 0h4.3v17.2h-4.3zm44.3 0h4.3v17.2h-4.3zm8.1 0h4.3v17.2h-4.3zm20.2 0h4.3v17.2h-4.3zm8 0h4.3v17.2h-4.3zm52.8 0h4.2v17.2h-4.2zm20 0h4.2v17.2h-4.2zm16 0h4.2v17.2h-4.2zm52.3 0h4.2v17.2h-4.2zm16 0h4.2v17.2h-4.2zm-788.3 16.9h4.3v17.2h-4.3zm24.1 0h4.3v17.2h-4.3zm32.1 0h4.3v17.2h-4.3zm32.2 0h4.3v17.2h-4.3zm44.3 0h4.2v17.2h-4.2zm19.8 0h4.3v17.2h-4.3zm8 0h4.3v17.2h-4.3zm52.3 0h4.2v17.2h-4.2zm104.3 0h4.3v17.2h-4.3zm40.4 0h4.3v17.2h-4.3zm213.2 0h4.3v17.2h-4.3zm93.3 0h8.2v17.2h-8.2zm40 0h4.2v17.2h-4.2zm60.4 0h4.2v17.2h-4.2zm-736.3 17h4.3v17.2h-4.3zm12 0h4.3v17.2h-4.3zm12 0h4.3v17.2h-4.3zm32.3 0h4.3v17.2h-4.3zm92.2 0h4.3v17.2h-4.3zm108.3 0h8.3v17.2h-8.3zm88.8 0h4.2v17.2h-4.2zm40 0h4.3v17.2h-4.3zm8 0h4.3v17.2h-4.3zm12.1 0h4.3v17.2h-4.3zm8 0h8.3v17.2h-8.3zm189.4 0h8.3v17.2h-8.3zm20.2 0h4.3v17.2h-4.3zm16.6 0h4.2v17.2h-4.2zm52 0h12.2v17.2h-12.2zm48.3 0h8.2v17.2h-8.2zm12 0h4.2v17.2h-4.2zm-366.6 33.9h4.3v17.2h-4.3zm-309.2 16.9h8.3v17.2h-8.3zm104.4 0h4.2v17.2h-4.2zm216.8 0h4.3v17.2h-4.3zm8.1 0h4.3v17.2h-4.3zm354.5 0h4.2v17.2h-4.2zm-768.2 17h4.3v17.2h-4.3zm76.3 0h4.3v17.2h-4.3zm12.1 0h4.3v17.2h-4.3zm172.3 0h4.3v17.2h-4.3zm8.1 0h8.3v17.2h-8.3zm36.2 0h4.3v17.2h-4.3zm20.3 0h8.3v17.2h-8.3zm12.1 0h4.3v17.2h-4.3zm16.2 0h4.2v17.2h-4.2zm15.9 0h4.3v17.2h-4.3zm181.1 0h4.3v17.2h-4.3zm16.1 0h4.3v17.2h-4.3zm36.4 0h4.3v17.2h-4.3zm20.1 0h4.3v17.2h-4.3zm149 0h4.2v17.2h-4.2zm-772.2 16.9h4.3v17.2h-4.3zm32 0h4.3v17.2h-4.3zm40.3 0h4.3v17.2h-4.3zm28.4 0h4.2v17.2h-4.2zm35.7 0h4.3v17.2h-4.3zm24.1 0h4.3v17.2h-4.3zm72.3 0h4.3v17.2h-4.3zm40 0h4.3v17.2h-4.3zm108.8 0h4.3v17.2h-4.3zm36.1 0h4.3v17.2h-4.3zm96.7 0h4.3v17.2h-4.3zm24.1 0h4.3v17.2h-4.3zm56.5 0h4.3v17.2h-4.3zm28.2 0h8.3v17.2h-8.3zm16.7 0h4.2v17.2h-4.2zm8 0h4.2v17.2h-4.2zm100.3 0h4.2v17.2h-4.2zm-471.3 17h4.3v17.2h-4.3zm84.6 0h4.3v17.2h-4.3zm36.1 0h4.3v17.2h-4.3zm246.3 0h8.2v17.2h-8.2zm16 0h4.2v17.2h-4.2zm8 0h4.2v17.2h-4.2zm16 0h4.2v17.2h-4.2zm8 0h4.2v17.2h-4.2zm12 0h4.2v17.2h-4.2zm16.4 0h4.2v17.2h-4.2zm20 0h4.2v17.2h-4.2zm15.9 0h4.2v17.2h-4.2zm-671.8 16.9h4.3v17.2h-4.3zm192.5 0h4.3v17.2h-4.3zm124.7 0h4.3v17.2h-4.3zm8 0h4.3v17.2h-4.3zm-329.2 17h8.3v17.2h-8.3zm44 0h4.3v17.2h-4.3zm8 0h4.3v17.2h-4.3zm8 0h4.3v17.2h-4.3zm8.1 0h4.3v17.2h-4.3zm40.3 0h4.2v17.2h-4.2zm7.9 0h4.2v17.2h-4.2zm72.1 0h8.3v17.2h-8.3zm40.3 0h4.3v17.2h-4.3zm20.2 0h4.3v17.2h-4.3zm20.3 0h4.2v17.2h-4.2zm19.9 0h8.3v17.2h-8.3zm16.1 0h4.3v17.2h-4.3zm16 0h4.3v17.2h-4.3zm197.4 0h4.3v17.2h-4.3zm56.9 0h4.2v17.2h-4.2zm40 0h4.2v17.2h-4.2zm32.4 0h4.2v17.2h-4.2zm23.9 0h4.2v17.2h-4.2zm20 0h4.2v17.2h-4.2zm-707.9 16.9h4.3v17.2h-4.3zm297.2 0h8.3v17.2h-8.3zm12 0h4.3v17.2h-4.3zm12.1 0h4.3v17.2h-4.3zm24 0h8.3v17.2h-8.3zm16.1 0h4.3v17.2h-4.3zm-165 17h4.3v17.2h-4.3zm32.2 0h4.3v17.2h-4.3zm68.6 0h4.3v17.2h-4.3zm40.1 0h4.3v17.2h-4.3zm20.1 0h4.3v17.2h-4.3zm-445.8 16.9h4.3v17.2h-4.3zm28.1 0h4.3v17.2h-4.3zm8 0h4.3v17.2h-4.3zm24.1 0h4.3v17.2h-4.3zm24.2 0h4.3v17.2h-4.3zm72.1 0h4.3v17.2h-4.3zm20.1 0h4.3v17.2h-4.3zm24.3 0h4.2v17.2h-4.2zm15.9 0h4.2v17.2h-4.2zm44.1 0h4.3v17.2h-4.3zm52.1 0h4.3v17.2h-4.3zm44.5 0h8.3v17.2h-8.3zm128.5 0h4.3v17.2h-4.3zm169.4 0h4.3v17.2h-4.3zm60.6 0h4.2v17.2h-4.2zm-238 17h4.3v17.2h-4.3zm24.1 0h4.3v17.2h-4.3zm8 0h4.3v17.2h-4.3zm-478 16.9h4.3v17.2h-4.3zm8 0h4.3v17.2h-4.3zm84.7 0h4.2v17.2h-4.2zm11.9 0h4.2v17.2h-4.2zm23.8 0h8.3v17.2h-8.3zm96.4 0h12.3v17.2h-12.3zm27.9 0h4.3v17.2h-4.3zm68.6 0h4.3v17.2h-4.3zm48.2 0h8.3v17.2h-8.3zm76.4 0h4.3v17.2h-4.3zm12 0h4.3v17.2h-4.3zm60.6 0h8.3v17.2h-8.3zm24.1 0h4.3v17.2h-4.3zm56.5 0h4.3v17.2h-4.3zm72.8 0h4.2v17.2h-4.2zm40.4 0h4.2v17.2h-4.2zm12 0h4.2v17.2h-4.2zm-631.6 17h4.2v17.2h-4.2zm11.9 0h4.2v17.2h-4.2zm47.9 0h4.3v17.2h-4.3zm341.6 0h4.3v17.2h-4.3zm12.3 0h4.3v17.2h-4.3zm-401.8 16.9h4.2v17.2h-4.2zm248.9 0h4.3v17.2h-4.3zm16 0h4.3v17.2h-4.3zm20.1 0h4.3v17.2h-4.3zm-397.6 17h4.3v17.2h-4.3zm100.7 0h4.2v17.2h-4.2zm59.8 0h4.3v17.2h-4.3zm8 0h4.3v17.2h-4.3zm152.8 0h4.3v17.2h-4.3zm193.1 0h4.3v17.2h-4.3zm213.9 0h4.2v17.2h-4.2zm-748.4 16.9h4.3v17.2h-4.3zm28.1 0h4.3v17.2h-4.3zm20 0h4.3v17.2h-4.3zm48.3 0h4.3v17.2h-4.3zm12.1 0h4.3v17.2h-4.3zm40 0h8.3v17.2h-8.3zm32.1 0h4.3v17.2h-4.3zm8 0h4.3v17.2h-4.3zm44.1 0h4.3v17.2h-4.3zm24.2 0h4.3v17.2h-4.3zm56.1 0h4.3v17.2h-4.3zm32.4 0h4.3v17.2h-4.3zm136.6 0h8.3v17.2h-8.3zm52.5 0h8.3v17.2h-8.3zm32.2 0h4.3v17.2h-4.3zm8 0h12.3v17.2h-12.3zm16.1 0h8.3v17.2h-8.3zm52.5 0h4.3v17.2h-4.3zm-643.3 17h4.3v17.2h-4.3zm24.1 0h4.3v17.2h-4.3zm16 0h4.3v17.2h-4.3zm24.1 0h4.3v17.2h-4.3zm20.2 0h4.3v17.2h-4.3zm12 0h4.3v17.2h-4.3zm28.4 0h4.2v17.2h-4.2zm15.7 0h4.3v17.2h-4.3zm20 0h4.3v17.2h-4.3zm128.4 0h4.3v17.2h-4.3zm16.1 0h4.3v17.2h-4.3zm52.5 0h4.3v17.2h-4.3zm36.1 0h8.3v17.2h-8.3zm140.9 0h4.3v17.2h-4.3zm32.2 0h4.3v17.2h-4.3zm24.1 0h4.3v17.2h-4.3zm24.3 0h4.3v17.2h-4.3zm20.1 0h4.3v17.2h-4.3zm8.1 0h8.3v17.2h-8.3zm-550.9 16.9h4.3v17.2h-4.3zm16.1 0h4.3v17.2h-4.3zm60.1 0h4.3v17.2h-4.3zm40.3 0h4.2v17.2h-4.2zm44 0h4.3v17.2h-4.3zm108.6 0h4.3v17.2h-4.3zm68.2 0h8.3v17.2h-8.3zm96.5 0h4.3v17.2h-4.3zm-405.4 17h4.2v17.2h-4.2zm11.9 0h4.2v17.2h-4.2zm212.7 0h4.3v17.2h-4.3zm12.1 0h4.3v17.2h-4.3zm28.1 0h4.3v17.2h-4.3zm92.4 0h4.3v17.2h-4.3zm44.2 0h8.3v17.2h-8.3zm28.4 0h4.3v17.2h-4.3zm60.5 0h4.3v17.2h-4.3zm-607.1 17h8.3v17.2h-8.3zm48.1 0h4.3v17.2h-4.3zm36.3 0h8.3v17.2h-8.3zm16.1 0h4.3v17.2h-4.3zm28.2 0h4.2v17.2h-4.2zm35.9 0h4.3v17.2h-4.3zm8 0h4.3v17.2h-4.3zm12 0h4.3v17.2h-4.3zm8.3 0h4.2v17.2h-4.2zm31.8 0h8.3v17.2h-8.3zm16.1 0h4.3v17.2h-4.3zm16.1 0h4.3v17.2h-4.3zm44.1 0h4.3v17.2h-4.3zm68.7 0h4.2v17.2h-4.2zm32 0h4.3v17.2h-4.3zm56.2 0h4.3v17.2h-4.3zm28.1 0h4.3v17.2h-4.3zm36.2 0h4.3v17.2h-4.3zm97 0h4.3v17.2h-4.3zm8 0h4.3v17.2h-4.3zm16.1 0h4.3v17.2h-4.3zm-550.9 16.9h4.3v17.2h-4.3zm112.5 0h8.2v17.2h-8.2zm-160.8 16.9h4.3v17.2h-4.3zm48.3 0h4.3v17.2h-4.3zm56.1 0h4.3v17.2h-4.3zm80.2 0h4.3v17.2h-4.3zm16.1 0h4.3v17.2h-4.3zm76.3 0h4.3v17.2h-4.3zm48.6 0h4.2v17.2h-4.2zm96.3 0h4.3v17.2h-4.3zm16 0h4.3v17.2h-4.3zm40.2 0h4.3v17.2h-4.3zm80.8 0h4.3v17.2h-4.3z"/>
<path fill="#fff5f2" d="M13.4 1868.1h4.3v17.2h-4.3zm16.1 0h4.3v17.2h-4.3zm72.3 0h8.3v17.2h-8.3zm40.3 0h4.2v17.2h-4.2zm7.8 0h4.3v17.2h-4.3zm40.1 0h4.3v17.2h-4.3zm108.3 0h4.3v17.2h-4.3zm136.8 0h4.3v17.2h-4.3zm145 0h4.3v17.2h-4.3zm97.3 0h4.2v17.2h-4.2zm120.3 0h4.2v17.2h-4.2zm-788.3 16.9h12.3v17.2h-12.3zm52.1 0h4.3v17.2h-4.3zm28.3 0h4.3v17.2h-4.3zm40.4 0h4.2v17.2h-4.2zm7.9 0h4.2v17.2h-4.2zm11.8 0h4.3v17.2h-4.3zm32.1 0h4.3v17.2h-4.3zm24.3 0h4.2v17.2h-4.2zm39.9 0h4.3v17.2h-4.3zm24.1 0h4.3v17.2h-4.3zm24 0h4.3v17.2h-4.3zm84.8 0h8.1v17.2h-8.1zm92.2 0h4.3v17.2h-4.3zm12.1 0h4.3v17.2h-4.3zm169.3 0h4.3v17.2h-4.3zm60.7 0h4.2v17.2h-4.2zm8 0h4.2v17.2h-4.2zm8 0h4.2v17.2h-4.2zm20.4 0h4.2v17.2h-4.2zm47.9 0h4.2v17.2h-4.2zm-776.3 17h4.3v17.2h-4.3zm32.1 0h8.3v17.2h-8.3zm12.1 0h4.3v17.2h-4.3zm28.2 0h4.3v17.2h-4.3zm8 0h8.3v17.2h-8.3zm16.1 0h4.3v17.2h-4.3zm52 0h4.3v17.2h-4.3zm12.1 0h4.3v17.2h-4.3zm24.3 0h4.2v17.2h-4.2zm8 0h4.2v17.2h-4.2zm71.9 0h4.3v17.2h-4.3zm8.1 0h4.3v17.2h-4.3zm20.1 0h8.3v17.2h-8.3zm36.4 0h4.3v17.2h-4.3zm152.7 0h4.3v17.2h-4.3zm40.4 0h4.3v17.2h-4.3zm28.2 0h4.3v17.2h-4.3zm24.1 0h12.3v17.2h-12.3zm81.2 0h4.2v17.2h-4.2zm8 0h4.2v17.2h-4.2zm76.4 0h4.2v17.2h-4.2zm15.9 0h4.2v17.2h-4.2zm16 0h4.2v17.2h-4.2zm-756.2 16.9h4.3v17.2h-4.3zm8 0h4.3v17.2h-4.3zm32.1 0h4.3v17.2h-4.3zm212.6 0h4.3v17.2h-4.3zm8.1 0h8.3v17.2h-8.3zm84.8 0h4.2v17.2h-4.2zm88.2 0h4.3v17.2h-4.3zm12.1 0h4.3v17.2h-4.3zm-474 17h4.3v17.2h-4.3zm32.1 0h12.3v17.2h-12.3zm60.3 0h4.3v17.2h-4.3zm204.6 0h4.3v17.2h-4.3zm132.7 0h4.3v17.2h-4.3zm32.2 0h4.3v17.2h-4.3zm326.4 0h8.2v17.2h-8.2zm-768.2 16.9h4.3v17.2h-4.3zm16 0h4.3v17.2h-4.3zm84.7 0h4.2v17.2h-4.2zm-64.6 17h4.3v17.2h-4.3zm76.5 0h4.2v17.2h-4.2zm293 0h8.3v17.2h-8.3zm12.1 0h4.3v17.2h-4.3zm24.1 0h4.3v17.2h-4.3zm116.9 0h4.3v17.2h-4.3zm133.2 0h4.2v17.2h-4.2zm-691.9 17h8.3v17.2h-8.3zm20 0h4.3v17.2h-4.3zm56.3 0h4.3v17.2h-4.3zm8.1 0h4.3v17.2h-4.3zm28.2 0h4.2v17.2h-4.2zm156.2 0h4.3v17.2h-4.3zm116.8 0h4.3v17.2h-4.3zm24 0h4.3v17.2h-4.3zm28.2 0h8.3v17.2h-8.3zm52.2 0h4.3v17.2h-4.3zm56.6 0h4.3v17.2h-4.3zm60.5 0h8.3v17.2h-8.3zm12.1 0h4.3v17.2h-4.3zm40.7 0h4.2v17.2h-4.2zm20 0h4.2v17.2h-4.2zm20 0h4.2v17.2h-4.2zm20.4 0h4.2v17.2h-4.2zm8 0h4.2v17.2h-4.2zm16 0h8.2v17.2h-8.2zm-764.4 16.9h4.3v17.2h-4.3zm56.2 0h4.3v17.2h-4.3zm28.2 0h4.3v17.2h-4.3zm8 0h4.3v17.2h-4.3zm12.1 0h4.3v17.2h-4.3zm317.2 0h4.3v17.2h-4.3zm153 0h4.3v17.2h-4.3zm105.3 0h4.2v17.2h-4.2zm-680 16.9h4.3v17.2h-4.3zm44.1 0h4.3v17.2h-4.3zm32.3 0h4.3v17.2h-4.3zm16 0h4.3v17.2h-4.3zm309.3 0h4.3v17.2h-4.3zm24 0h8.3v17.2h-8.3zm128.9 0h8.3v17.2h-8.3zm12.1 0h4.3v17.2h-4.3zm8 0h4.3v17.2h-4.3zm12.1 0h8.3v17.2h-8.3zm201.5 0h8.2v17.2h-8.2zm-788.3 17h4.3v17.2h-4.3zm28.1 0h4.3v17.2h-4.3zm272.9 0h4.3v17.2h-4.3zm8 0h12.3v17.2h-12.3zm60.7 0h4.2v17.2h-4.2zm56 0h4.3v17.2h-4.3zm16.1 0h4.3v17.2h-4.3zm20.1 0h4.3v17.2h-4.3zm116.9 0h4.3v17.2h-4.3zm8 0h4.3v17.2h-4.3zm56.5 0h4.3v17.2h-4.3zm68.7 0h4.2v17.2h-4.2zm60.3 0h4.2v17.2h-4.2zm16 0h4.2v17.2h-4.2zm-756.2 16.9h4.3v17.2h-4.3zm64.3 0h4.3v17.2h-4.3zm8.1 0h8.3v17.2h-8.3zm204.5 0h4.3v17.2h-4.3zm12.1 0h4.3v17.2h-4.3zm84.6 0h4.3v17.2h-4.3zm32.1 0h4.3v17.2h-4.3zm8 0h4.3v17.2h-4.3zm16.1 0h4.3v17.2h-4.3zm32.2 0h4.3v17.2h-4.3zm8 0h4.3v17.2h-4.3zm84.7 0h8.3v17.2h-8.3zm60.5 0h4.3v17.2h-4.3zm117.1 0h4.2v17.2h-4.2zm23.9 0h4.2v17.2h-4.2zm-788.3 17h4.3v17.2h-4.3zm8 0h4.3v17.2h-4.3zm16.1 0h4.3v17.2h-4.3zm8 0h4.3v17.2h-4.3zm20 0h4.3v17.2h-4.3zm28.3 0h4.3v17.2h-4.3zm12 0h4.3v17.2h-4.3zm52.1 0h4.3v17.2h-4.3zm44.1 0h4.3v17.2h-4.3zm72.3 0h4.3v17.2h-4.3zm144.8 0h4.3v17.2h-4.3zm32.1 0h4.3v17.2h-4.3zm266.2 0h4.2v17.2h-4.2zm8 0h4.2v17.2h-4.2zm56.3 0h4.2v17.2h-4.2zm-768.3 16.9h4.3v17.2h-4.3zm212.8 0h4.2v17.2h-4.2zm144.7 0h4.3v17.2h-4.3zm48.2 0h8.3v17.2h-8.3zm32.1 0h4.3v17.2h-4.3zm32.2 0h4.3v17.2h-4.3zm157.2 0h4.3v17.2h-4.3zm20.1 0h4.3v17.2h-4.3zm113.1 0h4.2v17.2h-4.2zm-764.4 17h4.3v17.2h-4.3zm28.1 0h4.3v17.2h-4.3zm8 0h12.3v17.2h-12.3zm48.3 0h4.3v17.2h-4.3zm8 0h4.3v17.2h-4.3zm337.3 0h4.3v17.2h-4.3zm201.5 0h4.3v17.2h-4.3zm84.8 0h4.2v17.2h-4.2zm-704 16.9h4.3v17.2h-4.3zm28.1 0h8.3v17.2h-8.3zm16 0h4.3v17.2h-4.3zm12.1 0h4.3v17.2h-4.3zm68.5 0h4.2v17.2h-4.2zm88.1 0h4.2v17.2h-4.2zm168.8 0h4.3v17.2h-4.3zm40.1 0h4.3v17.2h-4.3zm12.1 0h4.3v17.2h-4.3zm16.1 0h4.3v17.2h-4.3zm226.1 0h4.2v17.2h-4.2zm52.4 0h4.2v17.2h-4.2zm8 0h8.2v17.2h-8.2zm27.9 0h4.2v17.2h-4.2zm-687.9 17h4.3v17.2h-4.3zm20.1 0h4.3v17.2h-4.3zm192.5 0h4.3v17.2h-4.3zm48.4 0h4.3v17.2h-4.3zm358.6 0h4.2v17.2h-4.2zm-696 16.9h4.3v17.2h-4.3zm28.1 0h4.3v17.2h-4.3zm272.9 0h4.3v17.2h-4.3zm60.7 0h4.2v17.2h-4.2zm96.2 0h4.3v17.2h-4.3zm68.6 0h4.3v17.2h-4.3zm12.1 0h4.3v17.2h-4.3zm8 0h4.3v17.2h-4.3zm40.3 0h4.3v17.2h-4.3zm73.1 0h4.2v17.2h-4.2zm12 0h4.2v17.2h-4.2zm24 0h4.2v17.2h-4.2zm8 0h4.2v17.2h-4.2zm52.4 0h4.2v17.2h-4.2zm23.9 0h4.2v17.2h-4.2zm-703.9 17h4.3v17.2h-4.3zm36.4 0h4.2v17.2h-4.2zm88.1 0h4.2v17.2h-4.2zm23.8 0h4.3v17.2h-4.3zm20.2 0h4.3v17.2h-4.3zm56.1 0h4.3v17.2h-4.3zm181 0h4.3v17.2h-4.3zm16.1 0h4.3v17.2h-4.3zm80.7 0h4.3v17.2h-4.3zm133.2 0h4.2v17.2h-4.2zm72.3 0h4.2v17.2h-4.2zm-699.9 17h4.3v17.2h-4.3zm40.3 0h4.2v17.2h-4.2zm88.1 0h4.2v17.2h-4.2zm28 0h4.3v17.2h-4.3zm112.7 0h4.3v17.2h-4.3zm104.4 0h4.3v17.2h-4.3zm12.1 0h8.3v17.2h-8.3zm24.1 0h4.3v17.2h-4.3zm141.2 0h4.3v17.2h-4.3zm20.7 0h4.2v17.2h-4.2zm52 0h4.2v17.2h-4.2zm48.4 0h8.2v17.2h-8.2zm-672 33.8h4.3v17.2h-4.3zm40.3 0h4.2v17.2h-4.2zm241 0h4.2v17.2h-4.2zm88.2 0h4.3v17.2h-4.3zm28.1 0h4.3v17.2h-4.3zm88.8 0h4.3v17.2h-4.3zm28.2 0h4.3v17.2h-4.3zm12.1 0h4.3v17.2h-4.3zm24.2 0h8.3v17.2h-8.3zm64.7 0h4.2v17.2h-4.2zm52.4 0h4.2v17.2h-4.2zm31.9 0h4.2v17.2h-4.2zm-707.9 17h4.3v17.2h-4.3zm24.1 0h4.3v17.2h-4.3zm64.1 0h4.3v17.2h-4.3zm108.2 0h4.3v17.2h-4.3zm16.2 0h4.3v17.2h-4.3zm32.2 0h4.3v17.2h-4.3zm20.2 0h4.3v17.2h-4.3zm12.1 0h4.3v17.2h-4.3zm12.2 0h4.2v17.2h-4.2zm172.9 0h4.3v17.2h-4.3zm16.1 0h4.3v17.2h-4.3zm8 0h4.3v17.2h-4.3zm72.6 0h8.3v17.2h-8.3zm24.7 0h4.2v17.2h-4.2zm36 0h4.2v17.2h-4.2zm88.3 0h4.2v17.2h-4.2zm-639.8 16.9h4.3v17.2h-4.3zm8 0h4.3v17.2h-4.3zm16.1 0h8.3v17.2h-8.3zm36.2 0h4.2v17.2h-4.2zm19.9 0h4.3v17.2h-4.3zm16.1 0h8.3v17.2h-8.3zm12.1 0h4.3v17.2h-4.3zm84.5 0h4.3v17.2h-4.3zm168.7 0h4.3v17.2h-4.3zm36.5 0h4.3v17.2h-4.3zm12.1 0h4.3v17.2h-4.3zm32.2 0h4.3v17.2h-4.3zm117.1 0h4.2v17.2h-4.2zm-603.5 17h4.3v17.2h-4.3zm24.2 0h4.2v17.2h-4.2zm31.8 0h4.3v17.2h-4.3zm56.3 0h4.2v17.2h-4.2zm241.1 0h4.3v17.2h-4.3zm72.6 0h4.3v17.2h-4.3zm108.8 0h4.3v17.2h-4.3zm121.1 0h4.2v17.2h-4.2zm-744.3 16.9h4.3v17.2h-4.3zm8 0h4.3v17.2h-4.3zm12 0h4.3v17.2h-4.3zm156.8 0h4.2v17.2h-4.2zm23.9 0h4.2v17.2h-4.2zm7.9 0h4.3v17.2h-4.3zm56.2 0h4.3v17.2h-4.3zm8 0h4.3v17.2h-4.3zm12.1 0h4.3v17.2h-4.3zm8 0h4.3v17.2h-4.3zm56.7 0h4.2v17.2h-4.2zm180.9 0h4.3v17.2h-4.3zm32.2 0h4.3v17.2h-4.3zm48.4 0h4.3v17.2h-4.3zm80.8 0h4.2v17.2h-4.2zm8 0h4.2v17.2h-4.2zm40.4 0h4.2v17.2h-4.2zm31.9 0h4.2v17.2h-4.2zm-772.2 17h4.3v17.2h-4.3zm28 0h4.3v17.2h-4.3zm72.7 0h4.2v17.2h-4.2zm19.7 0h4.3v17.2h-4.3zm20 0h4.3v17.2h-4.3zm8.1 0h4.3v17.2h-4.3zm28.3 0h4.2v17.2h-4.2zm68.1 0h4.3v17.2h-4.3zm116.6 0h4.3v17.2h-4.3zm8 0h4.3v17.2h-4.3zm40.1 0h4.3v17.2h-4.3zm197.5 0h4.3v17.2h-4.3zm56.8 0h8.2v17.2h-8.2zm20 0h4.2v17.2h-4.2zm32.4 0h4.2v17.2h-4.2zm20 0h4.2v17.2h-4.2zm8 0h4.2v17.2h-4.2zm19.9 0h4.2v17.2h-4.2zm8 0h4.2v17.2h-4.2zm-358.5 17h4.3v17.2h-4.3zm8 0h4.3v17.2h-4.3zm-40.1 16.9h4.3v17.2h-4.3zm28 0h4.3v17.2h-4.3zm-308.9 16.9h4.2v17.2h-4.2zm260.8 0h4.3v17.2h-4.3zm24.1 0h4.3v17.2h-4.3zm36.1 0h8.3v17.2h-8.3zm-357.4 17h4.3v17.2h-4.3zm36.4 0h4.2v17.2h-4.2zm88.1 0h4.2v17.2h-4.2zm27.9 0h4.3v17.2h-4.3zm16.1 0h4.3v17.2h-4.3zm116.8 0h4.2v17.2h-4.2zm68.1 0h4.3v17.2h-4.3zm8 0h4.3v17.2h-4.3zm100.8 0h4.3v17.2h-4.3zm8 0h16.3v17.2h-16.3zm20.1 0h4.3v17.2h-4.3zm20.2 0h4.3v17.2h-4.3zm52.4 0h4.3v17.2h-4.3zm-562.9 16.9h4.3v17.2h-4.3zm24.1 0h4.3v17.2h-4.3zm52 0h4.3v17.2h-4.3zm265.2 0h4.3v17.2h-4.3zm120.9 0h4.3v17.2h-4.3zm20.1 0h4.3v17.2h-4.3zm8 0h4.3v17.2h-4.3zm105.3 0h4.2v17.2h-4.2zm84.4 0h4.2v17.2h-4.2zm27.9 0h4.2v17.2h-4.2zm-382.6 17h4.3v17.2h-4.3zm20 0h4.3v17.2h-4.3zm230.3 0h4.2v17.2h-4.2zm40 0h4.2v17.2h-4.2zm88.3 0h4.2v17.2h-4.2zm-394.7 16.9h8.3v17.2h-8.3zm40.2 0h4.3v17.2h-4.3zm173.2 0h4.3v17.2h-4.3zm-554.9 17h4.3v17.2h-4.3zm44.3 0h4.3v17.2h-4.3zm60.1 0h4.3v17.2h-4.3zm8 0h4.3v17.2h-4.3zm8.1 0h4.3v17.2h-4.3zm112.3 0h4.3v17.2h-4.3zm326.2 0h4.3v17.2h-4.3zm16.1 0h8.3v17.2h-8.3zm76.8 0h4.2v17.2h-4.2zm8 0h4.2v17.2h-4.2zm28.4 0h4.2v17.2h-4.2zm20 0h4.2v17.2h-4.2zm27.9 0h4.2v17.2h-4.2zm-346.5 16.9h4.3v17.2h-4.3zm-357.4 17h4.3v17.2h-4.3zm289.3 0h4.2v17.2h-4.2zm15.9 0h4.3v17.2h-4.3zm12.1 0h4.3v17.2h-4.3zm16 0h4.3v17.2h-4.3zm12 0h4.3v17.2h-4.3zm16.1 0h4.3v17.2h-4.3zm169.3 0h4.3v17.2h-4.3zm96.9 0h4.2v17.2h-4.2zm-712 16.9h4.3v17.2h-4.3zm16.1 0h8.3v17.2h-8.3zm24 0h4.3v17.2h-4.3zm48.3 0h12.3v17.2h-12.3zm44.3 0h4.2v17.2h-4.2zm35.9 0h4.3v17.2h-4.3zm48.2 0h8.2v17.2h-8.2zm11.9 0h4.3v17.2h-4.3zm8.1 0h4.3v17.2h-4.3zm40 0h4.3v17.2h-4.3zm24.2 0h4.3v17.2h-4.3zm28.2 0h4.3v17.2h-4.3zm20.2 0h4.3v17.2h-4.3zm20.3 0h8.1v17.2h-8.1zm56 0h4.3v17.2h-4.3zm197.5 0h4.3v17.2h-4.3zm20.1 0h4.3v17.2h-4.3zm-346.3 17h4.3v17.2h-4.3zm96.6 0h4.3v17.2h-4.3zm193.2 0h4.3v17.2h-4.3zm36.4 0h4.3v17.2h-4.3zm-526.8 16.9h4.3v17.2h-4.3zm152.4 0h4.3v17.2h-4.3zm44.1 0h8.3v17.2h-8.3zm136.8 0h8.3v17.2h-8.3zm68.4 0h4.3v17.2h-4.3zm68.6 0h4.3v17.2h-4.3zm8 0h4.3v17.2h-4.3zm185.7 0h8.2v17.2h-8.2zm-531.7 17h4.3v17.2h-4.3zm116.7 0h4.3v17.2h-4.3zm36.2 0h4.3v17.2h-4.3zm56.2 0h4.3v17.2h-4.3zm32.2 0h4.3v17.2h-4.3zm8 0h4.3v17.2h-4.3zm28.1 0h16.3v17.2h-16.3zm36.4 0h4.3v17.2h-4.3zm16.1 0h4.3v17.2h-4.3zm16.1 0h8.3v17.2h-8.3zm28.3 0h4.3v17.2h-4.3zm28.2 0h8.3v17.2h-8.3zm-538.8 16.9h4.3v17.2h-4.3zm16.1 0h4.3v17.2h-4.3zm265.2 0h4.2v17.2h-4.2zm11.9 0h4.3v17.2h-4.3zm24.1 0h4.3v17.2h-4.3zm32.1 0h4.3v17.2h-4.3zm-345.4 17h4.3v17.2h-4.3zm36.3 0h4.2v17.2h-4.2zm43.9 0h4.3v17.2h-4.3zm20.3 0h4.2v17.2h-4.2zm12 0h4.2v17.2h-4.2zm7.9 0h8.2v17.2h-8.2zm48.2 0h4.3v17.2h-4.3zm40 0h4.3v17.2h-4.3zm12.1 0h4.3v17.2h-4.3zm56.6 0h4.2v17.2h-4.2zm378.7 0h4.2v17.2h-4.2zm-728.3 16.9h4.3v17.2h-4.3zm184.8 0h4.2v17.2h-4.2zm100.1 0h4.3v17.2h-4.3zm64.7 0h4.2v17.2h-4.2zm19.9 0h4.3v17.2h-4.3zm108.5 0h8.3v17.2h-8.3zm44.5 0h4.3v17.2h-4.3zm213.8 0h4.2v17.2h-4.2zm-756.4 17h4.3v17.2h-4.3zm44.1 0h4.3v17.2h-4.3zm8.1 0h4.3v17.2h-4.3zm92.3 0h4.3v17.2h-4.3zm20.1 0h12.3v17.2h-12.3zm52.2 0h4.2v17.2h-4.2zm32.1 0h4.3v17.2h-4.3zm40 0h8.3v17.2h-8.3zm40.3 0h4.3v17.2h-4.3zm16.2 0h4.3v17.2h-4.3zm64.3 0h4.3v17.2h-4.3zm84.4 0h4.3v17.2h-4.3zm48.5 0h4.3v17.2h-4.3zm40.2 0h4.3v17.2h-4.3zm20.2 0h4.3v17.2h-4.3zm12.1 0h4.3v17.2h-4.3zm8.1 0h4.3v17.2h-4.3zm129.2 0h4.2v17.2h-4.2zm-575.8 16.9h4.3v17.2h-4.3zm100.2 0h4.3v17.2h-4.3zm88.9 0h4.2v17.2h-4.2zm36 0h4.3v17.2h-4.3zm20 0h4.3v17.2h-4.3zm-417.7 17h4.3v17.2h-4.3zm96.5 0h4.3v17.2h-4.3zm52 0h4.3v17.2h-4.3zm64.3 0h4.2v17.2h-4.2zm237.1 0h4.3v17.2h-4.3zm24.1 0h4.3v17.2h-4.3zm92.7 0h4.3v17.2h-4.3zm48.5 0h4.3v17.2h-4.3zm12 0h4.3v17.2h-4.3zm145.1 0h4.2v17.2h-4.2zm-748.2 17h8.3v17.2h-8.3zm16 0h4.3v17.2h-4.3zm8.1 0h4.3v17.2h-4.3zm52.3 0h4.3v17.2h-4.3zm52 0h4.3v17.2h-4.3zm12.1 0h4.3v17.2h-4.3zm40.2 0h4.2v17.2h-4.2zm28 0h4.3v17.2h-4.3zm24.2 0h4.3v17.2h-4.3zm19.9 0h8.3v17.2h-8.3zm56.5 0h4.3v17.2h-4.3zm164.7 0h4.3v17.2h-4.3zm96.9 0h4.3v17.2h-4.3zm145.4 0h4.2v17.2h-4.2zm-403 16.9h4.3v17.2h-4.3zm80.3 0h4.3v17.2h-4.3zm28.2 0h4.3v17.2h-4.3zm-321.2 16.9h4.2v17.2h-4.2zm76.2 0h8.2v17.2h-8.2zm63.9 0h4.3v17.2h-4.3zm8 0h4.3v17.2h-4.3zm28.2 0h4.3v17.2h-4.3zm92.7 0h4.3v17.2h-4.3zm36.1 0h4.3v17.2h-4.3zm36.2 0h8.3v17.2h-8.3zm20.1 0h4.3v17.2h-4.3zm8 0h4.3v17.2h-4.3zm16.1 0h8.3v17.2h-8.3zm92.9 0h4.3v17.2h-4.3zm32.2 0h4.3v17.2h-4.3z"/>
<path fill="#ffece5" d="M21.4 1868.1h4.3v17.2h-4.3zm24.1 0h8.3v17.2h-8.3zm28.1 0h4.3v17.2h-4.3zm44.3 0h4.3v17.2h-4.3zm128.3 0h4.3v17.2h-4.3zm-220.7 16.9h4.3v17.2h-4.3zm8 0h4.3v17.2h-4.3zm32.1 0h4.3v17.2h-4.3zm32.2 0h4.3v17.2h-4.3zm68.1 0h4.3v17.2h-4.3zm64.3 0h4.2v17.2h-4.2zm24 0h12.3v17.2h-12.3zm20.2 0h4.3v17.2h-4.3zm44 0h8.3v17.2h-8.3zm48.5 0h4.3v17.2h-4.3zm152.6 0h4.3v17.2h-4.3zm68.7 0h4.3v17.2h-4.3zm105.2 0h4.2v17.2h-4.2zm-651.9 17h4.3v17.2h-4.3zm20 0h4.3v17.2h-4.3zm80.6 0h4.2v17.2h-4.2zm76.2 0h4.2v17.2h-4.2zm48 0h4.3v17.2h-4.3zm112.8 0h8.1v17.2h-8.1zm23.9 0h4.3v17.2h-4.3zm12.1 0h4.3v17.2h-4.3zm68.3 0h4.3v17.2h-4.3zm8 0h8.3v17.2h-8.3zm20.1 0h4.3v17.2h-4.3zm12 0h4.3v17.2h-4.3zm36.5 0h4.3v17.2h-4.3zm8 0h4.3v17.2h-4.3zm12.1 0h4.3v17.2h-4.3zm8.1 0h4.3v17.2h-4.3zm101.2 0h4.2v17.2h-4.2zm36 0h4.2v17.2h-4.2zm44.4 0h4.2v17.2h-4.2zm27.9 0h4.2v17.2h-4.2zm-792.3 16.9h4.3v17.2h-4.3zm88.4 0h4.3v17.2h-4.3zm-56.3 17h4.3v17.2h-4.3zm341.6 0h8.1v17.2h-8.1zm273.6 0h4.3v17.2h-4.3zm113.1 0h4.2v17.2h-4.2zm-635.6 33.9h4.2v17.2h-4.2zm252.9 0h4.2v17.2h-4.2zm112.3 0h4.3v17.2h-4.3zm12.1 0h4.3v17.2h-4.3zm88.7 0h4.3v17.2h-4.3zm-586.8 17h4.3v17.2h-4.3zm28.1 0h4.3v17.2h-4.3zm56.3 0h4.3v17.2h-4.3zm8 0h4.3v17.2h-4.3zm16.1 0h4.3v17.2h-4.3zm144.4 0h4.3v17.2h-4.3zm40 0h4.3v17.2h-4.3zm20.1 0h4.3v17.2h-4.3zm60.7 0h4.2v17.2h-4.2zm15.9 0h4.3v17.2h-4.3zm32.1 0h4.3v17.2h-4.3zm52.3 0h4.3v17.2h-4.3zm16 0h4.3v17.2h-4.3zm12.1 0h4.3v17.2h-4.3zm100.9 0h4.3v17.2h-4.3zm32.2 0h4.3v17.2h-4.3zm8.1 0h4.3v17.2h-4.3zm20.7 0h4.2v17.2h-4.2zm28 0h4.2v17.2h-4.2zm24 0h4.2v17.2h-4.2zm56.3 0h4.2v17.2h-4.2zm16 0h4.2v17.2h-4.2zm-647.8 16.9h4.3v17.2h-4.3zm100.3 0h4.3v17.2h-4.3zm16.1 0h4.3v17.2h-4.3zm8.1 0h4.3v17.2h-4.3zm19.9 0h4.3v17.2h-4.3zm8 0h4.3v17.2h-4.3zm60.6 0h4.3v17.2h-4.3zm8 0h4.3v17.2h-4.3zm44.2 0h4.3v17.2h-4.3zm32.1 0h4.3v17.2h-4.3zm24.1 0h4.3v17.2h-4.3zm-465.9 16.9h4.3v17.2h-4.3zm16 0h8.3v17.2h-8.3zm16.1 0h4.3v17.2h-4.3zm8 0h4.3v17.2h-4.3zm12 0h4.3v17.2h-4.3zm36.3 0h4.3v17.2h-4.3zm16.1 0h4.3v17.2h-4.3zm273.2 0h4.2v17.2h-4.2zm84.2 0h4.3v17.2h-4.3zm76.6 0h4.3v17.2h-4.3zm12.1 0h4.3v17.2h-4.3zm16.1 0h4.3v17.2h-4.3zm32.2 0h4.3v17.2h-4.3zm52.4 0h4.3v17.2h-4.3zm-643.3 17h4.3v17.2h-4.3zm44.1 0h4.3v17.2h-4.3zm40.3 0h4.3v17.2h-4.3zm44.3 0h4.2v17.2h-4.2zm241 0h4.2v17.2h-4.2zm330.3 0h4.2v17.2h-4.2zm-692 16.9h12.3v17.2h-12.3zm36.1 0h4.3v17.2h-4.3zm72.7 0h4.2v17.2h-4.2zm11.9 0h4.2v17.2h-4.2zm237 0h8.1v17.2h-8.1zm120.3 0h4.3v17.2h-4.3zm222 0h4.2v17.2h-4.2zm-691.9 17h4.3v17.2h-4.3zm20 0h4.3v17.2h-4.3zm56.3 0h4.3v17.2h-4.3zm24.4 0h4.2v17.2h-4.2zm107.9 0h4.3v17.2h-4.3zm24.2 0h4.3v17.2h-4.3zm12.1 0h4.3v17.2h-4.3zm366.2 0h4.3v17.2h-4.3zm157.1 0h4.2v17.2h-4.2zm-679.8 16.9h4.3v17.2h-4.3zm100.4 0h4.2v17.2h-4.2zm160.8 0h4.2v17.2h-4.2zm27.9 0h4.3v17.2h-4.3zm36.2 0h4.3v17.2h-4.3zm12 0h4.3v17.2h-4.3zm52.3 0h4.3v17.2h-4.3zm16 0h4.3v17.2h-4.3zm48.6 0h4.3v17.2h-4.3zm12 0h4.3v17.2h-4.3zm8.1 0h4.3v17.2h-4.3zm121.2 0h4.2v17.2h-4.2zm8 0h4.2v17.2h-4.2zm80.3 0h4.2v17.2h-4.2zm-772.2 17h4.3v17.2h-4.3zm48.1 0h4.3v17.2h-4.3zm28.2 0h4.3v17.2h-4.3zm8.1 0h4.3v17.2h-4.3zm40 0h4.3v17.2h-4.3zm96.3 0h4.3v17.2h-4.3zm24.2 0h4.3v17.2h-4.3zm92.5 0h4.3v17.2h-4.3zm12.2 0h4.2v17.2h-4.2zm92.2 0h4.3v17.2h-4.3zm-365.5 16.9h8.3v17.2h-8.3zm12.1 0h4.3v17.2h-4.3zm56 0h4.3v17.2h-4.3zm261.2 0h4.3v17.2h-4.3zm153.1 0h4.3v17.2h-4.3zm197.5 0h4.2v17.2h-4.2zm-683.9 17h4.3v17.2h-4.3zm156.4 0h4.3v17.2h-4.3zm313.9 0h4.3v17.2h-4.3zm-478.3 16.9h4.3v17.2h-4.3zm72.1 0h4.3v17.2h-4.3zm192.9 0h4.3v17.2h-4.3zm128.6 0h4.3v17.2h-4.3zm24.1 0h4.3v17.2h-4.3zm72.6 0h4.3v17.2h-4.3zm-522.6 17h4.3v17.2h-4.3zm462 0h4.3v17.2h-4.3zm8.1 0h4.3v17.2h-4.3zm12.3 0h4.3v17.2h-4.3zm32.2 0h4.3v17.2h-4.3zm8 0h4.3v17.2h-4.3zm137.3 0h4.2v17.2h-4.2zm-627.6 17h4.3v17.2h-4.3zm413.7 0h4.3v17.2h-4.3zm12 0h4.3v17.2h-4.3zm16.1 0h4.3v17.2h-4.3zm121.1 0h4.3v17.2h-4.3zm36.7 0h4.2v17.2h-4.2zm56.4 0h4.2v17.2h-4.2zm-113.2 16.9h4.3v17.2h-4.3zm8 0h4.3v17.2h-4.3zm-418.4 16.9h8.2v17.2h-8.2zm28 0h4.3v17.2h-4.3zm96.6 0h4.3v17.2h-4.3zm8 0h4.3v17.2h-4.3zm20.3 0h4.2v17.2h-4.2zm241.4 0h4.3v17.2h-4.3zm12.1 0h4.3v17.2h-4.3zm12 0h4.3v17.2h-4.3zm16.2 0h4.3v17.2h-4.3zm52.6 0h4.2v17.2h-4.2zm16 0h4.2v17.2h-4.2zm16.4 0h4.2v17.2h-4.2zm47.9 0h4.2v17.2h-4.2zm-531.4 17h4.3v17.2h-4.3zm116.8 0h4.2v17.2h-4.2zm76.1 0h4.3v17.2h-4.3zm64.3 0h8.3v17.2h-8.3zm12.1 0h4.3v17.2h-4.3zm28.4 0h4.3v17.2h-4.3zm-522.5 16.9h4.3v17.2h-4.3zm104.6 0h4.2v17.2h-4.2zm55.9 0h4.3v17.2h-4.3zm108.4 0h4.3v17.2h-4.3zm72.7 0h4.2v17.2h-4.2zm112.3 0h4.3v17.2h-4.3zm84.7 0h4.3v17.2h-4.3zm221.6 0h4.2v17.2h-4.2zm-615.7 17h4.3v17.2h-4.3zm84.3 0h4.3v17.2h-4.3zm201 0h4.3v17.2h-4.3zm88.7 0h4.3v17.2h-4.3zm8 0h4.3v17.2h-4.3zm8.1 0h4.3v17.2h-4.3zm24.1 0h4.3v17.2h-4.3zm-550.7 16.9h4.3v17.2h-4.3zm120.4 0h4.3v17.2h-4.3zm76.2 0h4.3v17.2h-4.3zm8.1 0h8.3v17.2h-8.3zm88.4 0h4.3v17.2h-4.3zm32.3 0h4.3v17.2h-4.3zm108.5 0h4.3v17.2h-4.3zm64.5 0h4.3v17.2h-4.3zm28.2 0h4.3v17.2h-4.3zm16.1 0h4.3v17.2h-4.3zm8 0h4.3v17.2h-4.3zm-438.3 17h4.3v17.2h-4.3zm60.4 0h8.2v17.2h-8.2zm11.9 0h4.2v17.2h-4.2zm60 0h4.3v17.2h-4.3zm16.2 0h4.3v17.2h-4.3zm12 0h4.3v17.2h-4.3zm76.6 0h4.3v17.2h-4.3zm40.1 0h4.3v17.2h-4.3zm108.8 0h4.3v17.2h-4.3zm24.1 0h4.3v17.2h-4.3zm12.1 0h4.3v17.2h-4.3zm20.1 0h8.3v17.2h-8.3zm52.5 0h8.3v17.2h-8.3zm145 0h4.2v17.2h-4.2zm-406.7 17h4.3v17.2h-4.3zm20.1 0h8.3v17.2h-8.3zm28 0h4.3v17.2h-4.3zm-20 16.9h4.3v17.2h-4.3zm-20.1 16.9h4.3v17.2h-4.3zm12.1 0h4.3v17.2h-4.3zm-169 17h4.3v17.2h-4.3zm28.2 0h4.3v17.2h-4.3zm317.9 0h4.3v17.2h-4.3zm12 0h4.3v17.2h-4.3zm181.5 0h4.2v17.2h-4.2zm-563.4 16.9h4.2v17.2h-4.2zm48 0h4.3v17.2h-4.3zm23.9 0h4.3v17.2h-4.3zm16.2 0h4.3v17.2h-4.3zm12 0h4.3v17.2h-4.3zm80.6 0h4.3v17.2h-4.3zm197.2 0h4.3v17.2h-4.3zm8.1 0h4.3v17.2h-4.3zm109.1 0h4.2v17.2h-4.2zm-278.3 17h4.3v17.2h-4.3zm16.1 0h4.3v17.2h-4.3zm64.3 0h4.3v17.2h-4.3zm8 0h4.3v17.2h-4.3zm-132.5 16.9h4.3v17.2h-4.3zm8 0h4.3v17.2h-4.3zm12.1 0h4.3v17.2h-4.3zm201.3 0h4.3v17.2h-4.3zm-494.5 17h4.3v17.2h-4.3zm24.2 0h4.2v17.2h-4.2zm15.8 0h4.3v17.2h-4.3zm28.1 0h4.3v17.2h-4.3zm44.2 0h4.2v17.2h-4.2zm76.2 0h4.3v17.2h-4.3zm28.1 0h4.3v17.2h-4.3zm104.6 0h4.3v17.2h-4.3zm16.1 0h4.3v17.2h-4.3zm157.2 0h4.3v17.2h-4.3zm12.1 0h4.3v17.2h-4.3zm-189.4 16.9h4.3v17.2h-4.3zm12.1 0h4.3v17.2h-4.3zm84.4 0h4.3v17.2h-4.3zm-152.5 17h4.2v17.2h-4.2zm36 0h4.3v17.2h-4.3zm28.1 0h4.3v17.2h-4.3zm88.4 0h4.3v17.2h-4.3zm-413.7 16.9h4.3v17.2h-4.3zm36 0h8.3v17.2h-8.3zm12 0h8.3v17.2h-8.3zm108.5 0h4.3v17.2h-4.3zm40 0h4.3v17.2h-4.3zm152.9 0h4.3v17.2h-4.3zm48.2 0h4.3v17.2h-4.3zm32.4 0h4.3v17.2h-4.3zm16.1 0h4.3v17.2h-4.3zm4 17h4.3v17.2h-4.3zm205.8 0h4.2v17.2h-4.2zm-382.8 16.9h4.3v17.2h-4.3zm44.1 0h4.3v17.2h-4.3zm217.6 0h4.3v17.2h-4.3zm105.1 0h4.2v17.2h-4.2zm35.9 0h4.2v17.2h-4.2zm8 0h4.2v17.2h-4.2zm-543.5 17h4.3v17.2h-4.3zm24 0h4.3v17.2h-4.3zm24.2 0h4.3v17.2h-4.3zm12 0h4.3v17.2h-4.3zm112.7 0h8.3v17.2h-8.3zm24.1 0h4.3v17.2h-4.3zm12.1 0h4.3v17.2h-4.3zm16.1 0h4.3v17.2h-4.3zm16 0h4.3v17.2h-4.3zm56.6 0h4.3v17.2h-4.3zm8 0h4.3v17.2h-4.3zm12.1 0h4.3v17.2h-4.3zm24.1 0h4.3v17.2h-4.3zm32.4 0h4.3v17.2h-4.3zm24.1 0h4.3v17.2h-4.3zm105.1 0h4.2v17.2h-4.2zm-314.6 16.9h4.3v17.2h-4.3zm132.9 0h4.3v17.2h-4.3zm24.2 0h4.3v17.2h-4.3zm-362.2 17h4.3v17.2h-4.3zm8.1 0h8.3v17.2h-8.3zm12.1 0h4.3v17.2h-4.3zm40 0h8.3v17.2h-8.3zm52.5 0h4.3v17.2h-4.3zm-293.3 16.9h4.3v17.2h-4.3zm40.3 0h4.3v17.2h-4.3zm28.4 0h4.2v17.2h-4.2zm11.9 0h4.2v17.2h-4.2zm116.1 0h4.3v17.2h-4.3zm48.2 0h4.3v17.2h-4.3zm144.8 0h4.3v17.2h-4.3zm48.2 0h4.3v17.2h-4.3zm20.1 0h4.3v17.2h-4.3zm238.3 0h4.2v17.2h-4.2zm-732.3 17h4.3v17.2h-4.3zm16 0h8.3v17.2h-8.3zm20 0h4.3v17.2h-4.3zm40.3 0h4.3v17.2h-4.3zm28.4 0h4.2v17.2h-4.2zm111.9 0h4.3v17.2h-4.3zm16.1 0h4.3v17.2h-4.3zm8.1 0h8.3v17.2h-8.3zm23.9 0h4.3v17.2h-4.3zm36.3 0h4.3v17.2h-4.3zm12.1 0h4.3v17.2h-4.3zm16.2 0h4.3v17.2h-4.3zm16.1 0h4.3v17.2h-4.3zm56.2 0h8.3v17.2h-8.3zm185.3 0h4.3v17.2h-4.3zm28.2 0h4.3v17.2h-4.3zm-498.5 16.9h4.2v17.2h-4.2zm341.3 0h4.3v17.2h-4.3zm40.1 0h4.3v17.2h-4.3zm-325.5 17h4.3v17.2h-4.3zm205 0h4.3v17.2h-4.3zm40.2 0h4.3v17.2h-4.3zm8 0h4.3v17.2h-4.3zm201.5 0h4.3v17.2h-4.3zm-490.8 17h4.3v17.2h-4.3zm64.3 0h8.2v17.2h-8.2zm32 0h8.3v17.2h-8.3zm44.1 0h4.3v17.2h-4.3zm52.5 0h4.3v17.2h-4.3zm152.7 0h4.3v17.2h-4.3zm16 0h4.3v17.2h-4.3zm92.9 0h4.3v17.2h-4.3zm20.2 0h4.3v17.2h-4.3zm149.1 0h4.2v17.2h-4.2zm-655.5 16.9h4.2v17.2h-4.2zm248.9 0h4.2v17.2h-4.2zm124.4 0h4.3v17.2h-4.3zm12 0h4.3v17.2h-4.3zm40.5 0h4.3v17.2h-4.3zm181.4 0h4.2v17.2h-4.2zm64.3 0h4.2v17.2h-4.2zm-772.2 16.9h4.3v17.2h-4.3zm64.3 0h4.3v17.2h-4.3zm285.3 0h4.2v17.2h-4.2zm15.9 0h8.3v17.2h-8.3zm36.1 0h4.3v17.2h-4.3zm12.1 0h4.3v17.2h-4.3zm24.1 0h4.3v17.2h-4.3zm40.2 0h4.3v17.2h-4.3zm72.6 0h4.3v17.2h-4.3zm52.5 0h4.3v17.2h-4.3zm48.8 0h4.2v17.2h-4.2zm72.4 0h4.2v17.2h-4.2z"/>
<path fill="#f2e7ff" d="M33.5 1868.1h4.3v17.2h-4.3zm56.3 0h4.3v17.2h-4.3zm24.1 0h4.3v17.2h-4.3zm16.3 0h4.2v17.2h-4.2zm341.1 0h4.3v17.2h-4.3zm12.1 0h4.3v17.2h-4.3zm84.6 0h4.3v17.2h-4.3zm64.6 0h4.3v17.2h-4.3zm12 0h4.3v17.2h-4.3zm88.8 0h4.2v17.2h-4.2zm12.4 0h4.2v17.2h-4.2zm24 0h4.2v17.2h-4.2zm15.9 0h4.2v17.2h-4.2zm-736.2 16.9h4.3v17.2h-4.3zm104.4 0h4.3v17.2h-4.3zm8 0h4.3v17.2h-4.3zm88.3 0h4.3v17.2h-4.3zm16.1 0h4.3v17.2h-4.3zm19.9 0h4.3v17.2h-4.3zm24.2 0h4.3v17.2h-4.3zm28.2 0h4.3v17.2h-4.3zm60.4 0h4.3v17.2h-4.3zm16.1 0h4.3v17.2h-4.3zm80.3 0h4.3v17.2h-4.3zm28.1 0h4.3v17.2h-4.3zm56.6 0h4.3v17.2h-4.3zm64.5 0h8.3v17.2h-8.3zm16.2 0h4.3v17.2h-4.3zm8.6 0h4.2v17.2h-4.2zm8 0h8.2v17.2h-8.2zm20 0h8.2v17.2h-8.2zm36 0h4.2v17.2h-4.2zm32.4 0h4.2v17.2h-4.2zm11.9 0h8.2v17.2h-8.2zm-772.3 17h4.3v17.2h-4.3zm8 0h4.3v17.2h-4.3zm72.4 0h4.3v17.2h-4.3zm28.1 0h4.3v17.2h-4.3zm20.3 0h4.2v17.2h-4.2zm43.8 0h4.3v17.2h-4.3zm32.3 0h4.2v17.2h-4.2zm39.9 0h4.3v17.2h-4.3zm24.2 0h4.3v17.2h-4.3zm152.7 0h4.3v17.2h-4.3zm165.1 0h4.3v17.2h-4.3zm20.2 0h8.3v17.2h-8.3zm20.2 0h8.3v17.2h-8.3zm68.8 0h4.2v17.2h-4.2zm-675.9 16.9h4.3v17.2h-4.3zm32 0h4.3v17.2h-4.3zm12.1 0h8.3v17.2h-8.3zm244.8 0h4.3v17.2h-4.3zm24.2 0h4.3v17.2h-4.3zm164.9 0h4.3v17.2h-4.3zm8 0h8.3v17.2h-8.3zm32.4 0h8.3v17.2h-8.3zm12.1 0h4.3v17.2h-4.3zm12 0h4.3v17.2h-4.3zm32.2 0h4.3v17.2h-4.3zm20.3 0h8.3v17.2h-8.3zm20.1 0h4.3v17.2h-4.3zm52.8 0h4.2v17.2h-4.2zm8 0h4.2v17.2h-4.2zm28 0h4.2v17.2h-4.2zm40.4 0h4.2v17.2h-4.2zm19.9 0h4.2v17.2h-4.2zm-784.3 17h4.3v17.2h-4.3zm64.2 0h4.3v17.2h-4.3zm8 0h4.3v17.2h-4.3zm12.2 0h4.3v17.2h-4.3zm8 0h4.3v17.2h-4.3zm196.5 0h4.3v17.2h-4.3zm24.1 0h8.3v17.2h-8.3zm20.2 0h4.3v17.2h-4.3zm72.5 0h4.3v17.2h-4.3zm8 0h4.3v17.2h-4.3zm16 0h4.3v17.2h-4.3zm56.3 0h4.3v17.2h-4.3zm20.1 0h4.3v17.2h-4.3zm36.4 0h4.3v17.2h-4.3zm16.1 0h8.3v17.2h-8.3zm32.2 0h8.3v17.2h-8.3zm28.3 0h4.3v17.2h-4.3zm56.9 0h4.2v17.2h-4.2zm8 0h8.2v17.2h-8.2zm12 0h4.2v17.2h-4.2zm72.4 0h8.2v17.2h-8.2zm11.9 0h4.2v17.2h-4.2zm-780.3 16.9h4.3v17.2h-4.3zm16 0h4.3v17.2h-4.3zm20.1 0h4.3v17.2h-4.3zm8 0h4.3v17.2h-4.3zm16.1 0h4.3v17.2h-4.3zm40.2 0h8.3v17.2h-8.3zm28.4 0h4.2v17.2h-4.2zm337.1 0h4.3v17.2h-4.3zm64.3 0h4.3v17.2h-4.3zm197.8 0h4.2v17.2h-4.2zm36.4 0h4.2v17.2h-4.2zm27.9 0h4.2v17.2h-4.2zm-760.2 17h4.3v17.2h-4.3zm40.1 0h4.3v17.2h-4.3zm40.3 0h4.3v17.2h-4.3zm273.1 0h4.3v17.2h-4.3zm36.1 0h8.3v17.2h-8.3zm24.1 0h4.3v17.2h-4.3zm32.2 0h4.3v17.2h-4.3zm28.1 0h4.3v17.2h-4.3zm60.6 0h4.3v17.2h-4.3zm8 0h4.3v17.2h-4.3zm20.1 0h4.3v17.2h-4.3zm24.3 0h4.3v17.2h-4.3zm20.1 0h4.3v17.2h-4.3zm16.2 0h4.3v17.2h-4.3zm52.6 0h4.2v17.2h-4.2zm12 0h8.2v17.2h-8.2zm68.3 0h4.2v17.2h-4.2zm-772.3 17h4.3v17.2h-4.3zm32.1 0h4.3v17.2h-4.3zm56.4 0h4.3v17.2h-4.3zm24.3 0h4.2v17.2h-4.2zm152 0h4.3v17.2h-4.3zm44.3 0h4.3v17.2h-4.3zm12.1 0h4.3v17.2h-4.3zm48.4 0h4.3v17.2h-4.3zm60.2 0h4.3v17.2h-4.3zm64.3 0h4.3v17.2h-4.3zm16.1 0h4.3v17.2h-4.3zm16.3 0h8.3v17.2h-8.3zm72.6 0h4.3v17.2h-4.3zm8 0h8.3v17.2h-8.3zm32.3 0h4.3v17.2h-4.3zm24.6 0h4.2v17.2h-4.2zm20 0h4.2v17.2h-4.2zm40.4 0h4.2v17.2h-4.2zm-704.3 16.9h4.3v17.2h-4.3zm8 0h4.3v17.2h-4.3zm8 0h8.3v17.2h-8.3zm28.3 0h8.3v17.2h-8.3zm36.1 0h4.3v17.2h-4.3zm12.3 0h8.2v17.2h-8.2zm164.1 0h4.3v17.2h-4.3zm12.1 0h4.3v17.2h-4.3zm84.6 0h4.3v17.2h-4.3zm16.1 0h4.3v17.2h-4.3zm68.3 0h4.3v17.2h-4.3zm32.1 0h4.3v17.2h-4.3zm12 0h4.3v17.2h-4.3zm56.6 0h4.3v17.2h-4.3zm40.4 0h4.3v17.2h-4.3zm12.1 0h8.3v17.2h-8.3zm12 0h4.3v17.2h-4.3zm24.8 0h4.2v17.2h-4.2zm8 0h4.2v17.2h-4.2zm44 0h4.2v17.2h-4.2zm28.4 0h4.2v17.2h-4.2zm20 0h4.2v17.2h-4.2zm7.9 0h8.2v17.2h-8.2zm-386.7 16.9h4.3v17.2h-4.3zm12 0h4.3v17.2h-4.3zm144.9 0h4.3v17.2h-4.3zm68.5 0h4.3v17.2h-4.3zm24.2 0h4.3v17.2h-4.3zm12.1 0h4.3v17.2h-4.3zm24.7 0h4.2v17.2h-4.2zm12 0h12.2v17.2h-12.2zm44 0h4.2v17.2h-4.2zm16.4 0h8.2v17.2h-8.2zm24 0h8.2v17.2h-8.2zm19.9 0h4.2v17.2h-4.2zm-776.3 17h4.3v17.2h-4.3zm8.1 0h4.3v17.2h-4.3zm60.3 0h4.3v17.2h-4.3zm28.1 0h4.3v17.2h-4.3zm8 0h4.3v17.2h-4.3zm285.1 0h12.3v17.2h-12.3zm96.5 0h8.3v17.2h-8.3zm12 0h4.3v17.2h-4.3zm28.4 0h4.3v17.2h-4.3zm16.1 0h4.3v17.2h-4.3zm8 0h4.3v17.2h-4.3zm8.1 0h4.3v17.2h-4.3zm48.4 0h8.3v17.2h-8.3zm16.1 0h4.3v17.2h-4.3zm16.1 0h4.3v17.2h-4.3zm20.7 0h4.2v17.2h-4.2zm8 0h12.2v17.2h-12.2zm32 0h4.2v17.2h-4.2zm16 0h4.2v17.2h-4.2zm16.4 0h4.2v17.2h-4.2zm-744.4 16.9h4.3v17.2h-4.3zm12 0h4.3v17.2h-4.3zm32.1 0h4.3v17.2h-4.3zm341.5 0h8.3v17.2h-8.3zm48.1 0h4.3v17.2h-4.3zm68.4 0h4.3v17.2h-4.3zm52.5 0h12.3v17.2h-12.3zm16.1 0h4.3v17.2h-4.3zm8 0h4.3v17.2h-4.3zm93.3 0h4.2v17.2h-4.2zm24 0h4.2v17.2h-4.2zm24 0h8.2v17.2h-8.2zm20.4 0h4.2v17.2h-4.2zm12 0h4.2v17.2h-4.2zm12 0h4.2v17.2h-4.2zm11.9 0h4.2v17.2h-4.2zm-712.1 17h8.3v17.2h-8.3zm40.3 0h4.3v17.2h-4.3zm24.3 0h12.2v17.2h-12.2zm112 0h4.3v17.2h-4.3zm8 0h4.3v17.2h-4.3zm201 0h4.3v17.2h-4.3zm40.2 0h8.3v17.2h-8.3zm12.1 0h4.3v17.2h-4.3zm12 0h4.3v17.2h-4.3zm16.1 0h4.3v17.2h-4.3zm28.4 0h4.3v17.2h-4.3zm36.2 0h8.3v17.2h-8.3zm12.2 0h4.3v17.2h-4.3zm20.2 0h4.3v17.2h-4.3zm20.1 0h4.3v17.2h-4.3zm16.7 0h4.2v17.2h-4.2zm8 0h4.2v17.2h-4.2zm48 0h4.2v17.2h-4.2zm12 0h4.2v17.2h-4.2zm20.4 0h8.2v17.2h-8.2zm31.9 0h8.2v17.2h-8.2zm-748.2 16.9h4.3v17.2h-4.3zm24.1 0h4.3v17.2h-4.3zm12 0h4.3v17.2h-4.3zm80.3 0h8.3v17.2h-8.3zm28.1 0h4.3v17.2h-4.3zm12 0h4.3v17.2h-4.3zm12.3 0h8.2v17.2h-8.2zm60 0h4.3v17.2h-4.3zm152.8 0h4.3v17.2h-4.3zm44.2 0h4.3v17.2h-4.3zm52.2 0h4.3v17.2h-4.3zm8.1 0h4.3v17.2h-4.3zm72.6 0h4.3v17.2h-4.3zm40.4 0h4.3v17.2h-4.3zm20.2 0h4.3v17.2h-4.3zm8.6 0h4.2v17.2h-4.2zm8 0h4.2v17.2h-4.2zm8 0h4.2v17.2h-4.2zm8 0h4.2v17.2h-4.2zm32 0h4.2v17.2h-4.2zm12 0h4.2v17.2h-4.2zm24.4 0h8.2v17.2h-8.2zm12 0h4.2v17.2h-4.2zm15.9 0h4.2v17.2h-4.2zm-736.2 17h4.3v17.2h-4.3zm32.3 0h4.3v17.2h-4.3zm361.4 0h12.3v17.2h-12.3zm32.2 0h4.3v17.2h-4.3zm20 0h4.3v17.2h-4.3zm12.1 0h16.3v17.2h-16.3zm44.5 0h4.3v17.2h-4.3zm12 0h4.3v17.2h-4.3zm16.1 0h4.3v17.2h-4.3zm8.1 0h4.3v17.2h-4.3zm40.4 0h4.3v17.2h-4.3zm12 0h4.3v17.2h-4.3zm24.8 0h4.2v17.2h-4.2zm20 0h16.2v17.2h-16.2zm36 0h4.2v17.2h-4.2zm32.4 0h4.2v17.2h-4.2zm35.9 0h4.2v17.2h-4.2zm-788.3 16.9h4.3v17.2h-4.3zm52.1 0h4.3v17.2h-4.3zm12.1 0h4.3v17.2h-4.3zm349.5 0h4.3v17.2h-4.3zm36.1 0h4.3v17.2h-4.3zm8.1 0h4.3v17.2h-4.3zm12 0h12.3v17.2h-12.3zm28.2 0h8.3v17.2h-8.3zm12 0h8.3v17.2h-8.3zm32.4 0h4.3v17.2h-4.3zm88.7 0h4.3v17.2h-4.3zm20.1 0h4.3v17.2h-4.3zm24.7 0h4.2v17.2h-4.2zm8 0h4.2v17.2h-4.2zm36 0h4.2v17.2h-4.2zm-720 17h4.3v17.2h-4.3zm8 0h4.3v17.2h-4.3zm52.2 0h4.3v17.2h-4.3zm44.3 0h4.3v17.2h-4.3zm40 0h4.3v17.2h-4.3zm12 0h8.3v17.2h-8.3zm16.1 0h4.3v17.2h-4.3zm52.2 0h4.2v17.2h-4.2zm136.7 0h4.3v17.2h-4.3zm233.3 0h4.3v17.2h-4.3zm16.2 0h4.3v17.2h-4.3zm16.2 0h4.3v17.2h-4.3zm8 0h8.3v17.2h-8.3zm20.2 0h4.3v17.2h-4.3zm12.6 0h4.2v17.2h-4.2zm12 0h4.2v17.2h-4.2zm16 0h4.2v17.2h-4.2zm24 0h4.2v17.2h-4.2zm8 0h8.2v17.2h-8.2zm16.4 0h4.2v17.2h-4.2zm12 0h4.2v17.2h-4.2zm8 0h4.2v17.2h-4.2zm19.9 0h4.2v17.2h-4.2zm-784.3 16.9h4.3v17.2h-4.3zm36.1 0h4.3v17.2h-4.3zm16 0h12.3v17.2h-12.3zm92.4 0h4.3v17.2h-4.3zm12 0h4.3v17.2h-4.3zm24.1 0h4.3v17.2h-4.3zm44.2 0h4.2v17.2h-4.2zm36.1 0h4.3v17.2h-4.3zm68.2 0h4.3v17.2h-4.3zm28.4 0h8.3v17.2h-8.3zm265.6 0h4.3v17.2h-4.3zm24.2 0h12.3v17.2h-12.3zm16.7 0h8.2v17.2h-8.2zm80.4 0h4.2v17.2h-4.2zm8 0h4.2v17.2h-4.2zm12 0h4.2v17.2h-4.2zm7.9 0h4.2v17.2h-4.2zm12 0h4.2v17.2h-4.2zm-764.2 17h4.3v17.2h-4.3zm16 0h20.3v17.2h-20.3zm24.1 0h4.3v17.2h-4.3zm32.2 0h4.3v17.2h-4.3zm20.1 0h4.3v17.2h-4.3zm20.2 0h4.2v17.2h-4.2zm23.8 0h4.3v17.2h-4.3zm12 0h4.3v17.2h-4.3zm8.1 0h4.3v17.2h-4.3zm44.2 0h4.2v17.2h-4.2zm76.1 0h4.3v17.2h-4.3zm12.1 0h4.3v17.2h-4.3zm40.4 0h4.3v17.2h-4.3zm24.3 0h4.2v17.2h-4.2zm100.3 0h4.3v17.2h-4.3zm8 0h4.3v17.2h-4.3zm8 0h4.3v17.2h-4.3zm117 0h4.3v17.2h-4.3zm12.1 0h4.3v17.2h-4.3zm8.1 0h4.3v17.2h-4.3zm28.2 0h4.3v17.2h-4.3zm24.6 0h8.2v17.2h-8.2zm12 0h4.2v17.2h-4.2zm28 0h4.2v17.2h-4.2zm32.4 0h4.2v17.2h-4.2zm8 0h12.2v17.2h-12.2zm31.9 0h4.2v17.2h-4.2zm-776.3 17h4.3v17.2h-4.3zm16.1 0h4.3v17.2h-4.3zm8 0h4.3v17.2h-4.3zm16 0h4.3v17.2h-4.3zm36.3 0h4.3v17.2h-4.3zm12.1 0h4.3v17.2h-4.3zm44 0h4.3v17.2h-4.3zm8 0h8.3v17.2h-8.3zm12 0h4.3v17.2h-4.3zm24.1 0h4.3v17.2h-4.3zm28.2 0h4.2v17.2h-4.2zm11.9 0h12.3v17.2h-12.3zm56.2 0h4.3v17.2h-4.3zm28.1 0h4.3v17.2h-4.3zm12.1 0h4.3v17.2h-4.3zm24.3 0h4.3v17.2h-4.3zm217.3 0h8.3v17.2h-8.3zm28.2 0h4.3v17.2h-4.3zm8.1 0h8.3v17.2h-8.3zm20.2 0h4.3v17.2h-4.3zm8 0h4.3v17.2h-4.3zm20.2 0h4.3v17.2h-4.3zm16.6 0h4.2v17.2h-4.2zm56 0h8.2v17.2h-8.2zm12.4 0h4.2v17.2h-4.2zm8 0h8.2v17.2h-8.2zm12 0h4.2v17.2h-4.2zm15.9 0h8.2v17.2h-8.2zm-639.6 16.9h4.2v17.2h-4.2zm148.1 0h4.3v17.2h-4.3zm-280.8 16.9h4.3v17.2h-4.3zm305 0h4.3v17.2h-4.3zm152.9 0h4.3v17.2h-4.3zm44.2 0h4.3v17.2h-4.3zm20.1 0h8.3v17.2h-8.3zm12.3 0h4.3v17.2h-4.3zm12.1 0h4.3v17.2h-4.3zm20.1 0h4.3v17.2h-4.3zm24.1 0h4.3v17.2h-4.3zm93.2 0h8.2v17.2h-8.2zm12 0h8.2v17.2h-8.2zm28 0h4.2v17.2h-4.2zm32.4 0h4.2v17.2h-4.2zm11.9 0h4.2v17.2h-4.2zm-756.3 17h4.3v17.2h-4.3zm24.1 0h4.3v17.2h-4.3zm16 0h4.3v17.2h-4.3zm36.3 0h4.3v17.2h-4.3zm36.4 0h4.2v17.2h-4.2zm43.8 0h4.3v17.2h-4.3zm68.2 0h4.3v17.2h-4.3zm8 0h4.3v17.2h-4.3zm80.3 0h4.3v17.2h-4.3zm32.4 0h4.3v17.2h-4.3zm181 0h4.3v17.2h-4.3zm44.3 0h4.3v17.2h-4.3zm24.2 0h4.3v17.2h-4.3zm8.1 0h4.3v17.2h-4.3zm8.1 0h4.3v17.2h-4.3zm40.8 0h4.2v17.2h-4.2zm12 0h4.2v17.2h-4.2zm12 0h4.2v17.2h-4.2zm52.4 0h4.2v17.2h-4.2zm20 0h4.2v17.2h-4.2zm19.9 0h4.2v17.2h-4.2zm-784.3 16.9h4.3v17.2h-4.3zm8 0h4.3v17.2h-4.3zm44.1 0h8.3v17.2h-8.3zm16.1 0h4.3v17.2h-4.3zm20.2 0h4.3v17.2h-4.3zm44.3 0h4.2v17.2h-4.2zm43.9 0h4.3v17.2h-4.3zm12 0h4.3v17.2h-4.3zm12.3 0h4.2v17.2h-4.2zm23.9 0h4.2v17.2h-4.2zm7.9 0h4.3v17.2h-4.3zm8.1 0h4.3v17.2h-4.3zm80.3 0h4.3v17.2h-4.3zm8 0h4.3v17.2h-4.3zm233.5 0h4.3v17.2h-4.3zm44.4 0h4.3v17.2h-4.3zm77 0h4.2v17.2h-4.2zm40 0h4.2v17.2h-4.2zm28.4 0h4.2v17.2h-4.2zm12 0h4.2v17.2h-4.2zm23.9 0h4.2v17.2h-4.2zm-784.3 17h8.3v17.2h-8.3zm20.1 0h4.3v17.2h-4.3zm12 0h4.3v17.2h-4.3zm24.1 0h4.3v17.2h-4.3zm20.2 0h12.3v17.2h-12.3zm20 0h4.3v17.2h-4.3zm28.4 0h8.2v17.2h-8.2zm15.7 0h12.3v17.2h-12.3zm64.4 0h4.2v17.2h-4.2zm7.9 0h8.2v17.2h-8.2zm24 0h4.3v17.2h-4.3zm24.1 0h8.3v17.2h-8.3zm32 0h4.3v17.2h-4.3zm48.5 0h4.3v17.2h-4.3zm128.6 0h4.3v17.2h-4.3zm8 0h4.3v17.2h-4.3zm129 0h12.3v17.2h-12.3zm117 0h4.2v17.2h-4.2zm36.4 0h4.2v17.2h-4.2zm-764.4 16.9h4.3v17.2h-4.3zm8 0h8.3v17.2h-8.3zm44.1 0h4.3v17.2h-4.3zm76.7 0h8.2v17.2h-8.2zm39.7 0h4.3v17.2h-4.3zm108.3 0h8.3v17.2h-8.3zm28.2 0h4.3v17.2h-4.3zm375 0h4.2v17.2h-4.2zm8 0h4.2v17.2h-4.2zm56.4 0h4.2v17.2h-4.2zm31.9 0h4.2v17.2h-4.2zm12 0h4.2v17.2h-4.2zm-780.3 17h4.3v17.2h-4.3zm32.1 0h4.3v17.2h-4.3zm8 0h4.3v17.2h-4.3zm24.1 0h4.3v17.2h-4.3zm60.5 0h4.2v17.2h-4.2zm72.2 0h4.2v17.2h-4.2zm35.9 0h4.3v17.2h-4.3zm8 0h4.3v17.2h-4.3zm60.2 0h4.3v17.2h-4.3zm12.1 0h4.3v17.2h-4.3zm16.1 0h4.3v17.2h-4.3zm64.4 0h4.3v17.2h-4.3zm20.1 0h4.3v17.2h-4.3zm205.5 0h4.3v17.2h-4.3zm40.8 0h4.2v17.2h-4.2zm36 0h4.2v17.2h-4.2zm8 0h4.2v17.2h-4.2zm32.4 0h8.2v17.2h-8.2zm12 0h4.2v17.2h-4.2zm-656 17h4.3v17.2h-4.3zm36.3 0h4.2v17.2h-4.2zm148.1 0h4.3v17.2h-4.3zm64.6 0h4.3v17.2h-4.3zm100.4 0h4.3v17.2h-4.3zm-64.2 16.9h4.3v17.2h-4.3zm12 0h8.3v17.2h-8.3zm374.7 0h4.2v17.2h-4.2zm-687.9 16.9h4.3v17.2h-4.3zm8 0h4.3v17.2h-4.3zm8 0h4.3v17.2h-4.3zm156.5 0h4.3v17.2h-4.3zm96.5 0h4.3v17.2h-4.3zm24.3 0h4.2v17.2h-4.2zm11.9 0h4.3v17.2h-4.3zm24.1 0h4.3v17.2h-4.3zm8 0h4.3v17.2h-4.3zm338.7 0h4.2v17.2h-4.2zm8 0h4.2v17.2h-4.2zm-768.4 17h8.3v17.2h-8.3zm44.1 0h4.3v17.2h-4.3zm12 0h4.3v17.2h-4.3zm76.6 0h4.2v17.2h-4.2zm23.8 0h4.3v17.2h-4.3zm8 0h4.3v17.2h-4.3zm8.1 0h8.3v17.2h-8.3zm20 0h4.3v17.2h-4.3zm16.3 0h4.2v17.2h-4.2zm23.8 0h4.3v17.2h-4.3zm28.2 0h4.3v17.2h-4.3zm15.9 0h4.3v17.2h-4.3zm12.1 0h4.3v17.2h-4.3zm32.2 0h4.3v17.2h-4.3zm12.1 0h4.3v17.2h-4.3zm68.4 0h4.3v17.2h-4.3zm8.1 0h4.3v17.2h-4.3zm28.1 0h4.3v17.2h-4.3zm116.8 0h4.3v17.2h-4.3zm32.2 0h4.3v17.2h-4.3zm24.2 0h4.3v17.2h-4.3zm8.1 0h4.3v17.2h-4.3zm12.1 0h12.3v17.2h-12.3zm24.2 0h4.3v17.2h-4.3zm16.6 0h4.2v17.2h-4.2zm16 0h4.2v17.2h-4.2zm36 0h4.2v17.2h-4.2zm8 0h4.2v17.2h-4.2zm28.4 0h8.2v17.2h-8.2zm11.9 0h4.2v17.2h-4.2zm-768.3 16.9h8.3v17.2h-8.3zm28.1 0h8.3v17.2h-8.3zm12 0h4.3v17.2h-4.3zm8 0h4.3v17.2h-4.3zm40.3 0h4.3v17.2h-4.3zm8 0h8.3v17.2h-8.3zm52.1 0h4.3v17.2h-4.3zm64.3 0h4.2v17.2h-4.2zm19.9 0h8.3v17.2h-8.3zm56.2 0h4.3v17.2h-4.3zm28.2 0h4.3v17.2h-4.3zm12.1 0h4.3v17.2h-4.3zm16.2 0h4.3v17.2h-4.3zm24.3 0h4.2v17.2h-4.2zm11.9 0h4.3v17.2h-4.3zm16 0h4.3v17.2h-4.3zm144.9 0h4.3v17.2h-4.3zm108.9 0h4.3v17.2h-4.3zm12.6 0h4.2v17.2h-4.2zm36 0h4.2v17.2h-4.2zm84.3 0h4.2v17.2h-4.2zm-748.2 17h4.3v17.2h-4.3zm96.6 0h4.2v17.2h-4.2zm55.9 0h4.3v17.2h-4.3zm20.3 0h4.2v17.2h-4.2zm39.9 0h4.3v17.2h-4.3zm64.2 0h4.3v17.2h-4.3zm12.1 0h4.3v17.2h-4.3zm366.9 0h4.2v17.2h-4.2zm44.4 0h4.2v17.2h-4.2zm31.9 0h8.2v17.2h-8.2zm-712.1 16.9h4.3v17.2h-4.3zm20.2 0h4.3v17.2h-4.3zm12 0h4.3v17.2h-4.3zm44.3 0h4.2v17.2h-4.2zm43.9 0h4.3v17.2h-4.3zm104.2 0h4.3v17.2h-4.3zm104.8 0h4.3v17.2h-4.3zm225.5 0h4.3v17.2h-4.3zm28.2 0h4.3v17.2h-4.3zm64.7 0h4.2v17.2h-4.2zm8 0h4.2v17.2h-4.2zm76.3 0h8.2v17.2h-8.2zm-772.2 17h4.3v17.2h-4.3zm8 0h8.3v17.2h-8.3zm36.1 0h4.3v17.2h-4.3zm8 0h4.3v17.2h-4.3zm56.6 0h8.2v17.2h-8.2zm15.7 0h4.3v17.2h-4.3zm104.3 0h4.3v17.2h-4.3zm12.1 0h8.3v17.2h-8.3zm19.9 0h4.3v17.2h-4.3zm36.2 0h8.3v17.2h-8.3zm44.5 0h4.3v17.2h-4.3zm16.2 0h4.2v17.2h-4.2zm36 0h4.3v17.2h-4.3zm8 0h4.3v17.2h-4.3zm217.5 0h8.3v17.2h-8.3zm16.2 0h4.3v17.2h-4.3zm16.6 0h4.2v17.2h-4.2zm40 0h4.2v17.2h-4.2zm48.4 0h4.2v17.2h-4.2zm11.9 0h4.2v17.2h-4.2zm-732.2 16.9h4.3v17.2h-4.3zm12 0h4.3v17.2h-4.3zm44.3 0h4.3v17.2h-4.3zm28.4 0h4.2v17.2h-4.2zm27.7 0h4.3v17.2h-4.3zm32.1 0h4.3v17.2h-4.3zm28.3 0h4.2v17.2h-4.2zm39.9 0h4.3v17.2h-4.3zm48.2 0h4.3v17.2h-4.3zm16 0h4.3v17.2h-4.3zm36.4 0h4.3v17.2h-4.3zm24.3 0h4.2v17.2h-4.2zm382.7 0h4.2v17.2h-4.2zm15.9 0h4.2v17.2h-4.2zm-772.3 17h4.3v17.2h-4.3zm92.4 0h4.3v17.2h-4.3zm64.1 0h4.3v17.2h-4.3zm32.1 0h4.3v17.2h-4.3zm24.2 0h4.2v17.2h-4.2zm40.1 0h4.3v17.2h-4.3zm32 0h8.3v17.2h-8.3zm40.2 0h4.3v17.2h-4.3zm60.5 0h4.3v17.2h-4.3zm24.1 0h4.3v17.2h-4.3zm209.4 0h4.3v17.2h-4.3zm169.2 0h4.2v17.2h-4.2zm-784.3 16.9h4.3v17.2h-4.3zm48.1 0h4.3v17.2h-4.3zm12.1 0h4.3v17.2h-4.3zm36.3 0h4.3v17.2h-4.3zm28.2 0h4.2v17.2h-4.2zm132.2 0h4.3v17.2h-4.3zm11.9 0h4.3v17.2h-4.3zm12.1 0h4.3v17.2h-4.3zm48.3 0h4.3v17.2h-4.3zm52.4 0h4.3v17.2h-4.3zm24.1 0h4.3v17.2h-4.3zm20 0h4.3v17.2h-4.3zm185.4 0h4.3v17.2h-4.3zm20.1 0h4.3v17.2h-4.3zm68.8 0h4.2v17.2h-4.2zm-623.6 17h4.3v17.2h-4.3zm28.1 0h4.3v17.2h-4.3zm100.4 0h4.2v17.2h-4.2zm71.9 0h4.3v17.2h-4.3zm48.4 0h4.3v17.2h-4.3zm205.3 0h4.3v17.2h-4.3zm16.1 0h4.3v17.2h-4.3zm185.8 0h4.2v17.2h-4.2zm-740.4 16.9h4.3v17.2h-4.3zm44.1 0h4.3v17.2h-4.3zm12 0h4.3v17.2h-4.3zm116.5 0h4.3v17.2h-4.3zm12 0h4.3v17.2h-4.3zm36.2 0h4.2v17.2h-4.2zm88.2 0h8.3v17.2h-8.3zm20.1 0h4.3v17.2h-4.3zm32.4 0h4.3v17.2h-4.3zm56.2 0h8.3v17.2h-8.3zm32.1 0h4.3v17.2h-4.3zm48.3 0h4.3v17.2h-4.3zm8 0h4.3v17.2h-4.3zm80.7 0h4.3v17.2h-4.3zm40.4 0h4.3v17.2h-4.3zm8 0h4.3v17.2h-4.3zm137.1 0h4.2v17.2h-4.2zm-615.8 17h4.3v17.2h-4.3zm8 0h4.3v17.2h-4.3zm8.1 0h4.3v17.2h-4.3zm8 0h4.3v17.2h-4.3zm84.3 0h4.3v17.2h-4.3zm28 0h4.3v17.2h-4.3zm16.1 0h4.3v17.2h-4.3zm12.1 0h4.3v17.2h-4.3zm8 0h8.3v17.2h-8.3zm24.3 0h4.3v17.2h-4.3zm36.2 0h4.3v17.2h-4.3zm28.1 0h4.3v17.2h-4.3zm52.2 0h4.3v17.2h-4.3zm153.2 0h4.3v17.2h-4.3zm20.2 0h4.3v17.2h-4.3zm12.1 0h4.3v17.2h-4.3zm-354.4 16.9h4.3v17.2h-4.3zm104.7 0h4.3v17.2h-4.3zm-393.7 17h4.3v17.2h-4.3zm20.1 0h8.3v17.2h-8.3zm52.3 0h4.3v17.2h-4.3zm24.1 0h4.3v17.2h-4.3zm40 0h4.3v17.2h-4.3zm20 0h4.3v17.2h-4.3zm64.2 0h4.3v17.2h-4.3zm8.1 0h4.3v17.2h-4.3zm24.1 0h4.3v17.2h-4.3zm40.1 0h4.3v17.2h-4.3zm124.7 0h4.3v17.2h-4.3zm72.4 0h4.3v17.2h-4.3zm16 0h4.3v17.2h-4.3zm32.5 0h4.3v17.2h-4.3zm84.6 0h4.3v17.2h-4.3zm16.1 0h4.3v17.2h-4.3zm-607.2 16.9h4.3v17.2h-4.3zm64.4 0h4.3v17.2h-4.3zm8 0h4.3v17.2h-4.3zm12.3 0h4.2v17.2h-4.2zm31.7 0h4.3v17.2h-4.3zm48.4 0h4.2v17.2h-4.2zm39.9 0h4.3v17.2h-4.3zm8.1 0h4.3v17.2h-4.3zm23.9 0h4.3v17.2h-4.3zm48.3 0h4.3v17.2h-4.3zm140.8 0h4.3v17.2h-4.3zm28.2 0h4.3v17.2h-4.3zm48.4 0h4.3v17.2h-4.3zm8.1 0h4.3v17.2h-4.3zm56.4 0h4.3v17.2h-4.3zm-526.6 17h4.3v17.2h-4.3zm24.1 0h4.3v17.2h-4.3zm48 0h8.3v17.2h-8.3zm12 0h4.3v17.2h-4.3zm120.4 0h4.3v17.2h-4.3zm36.2 0h4.3v17.2h-4.3zm229.5 0h4.3v17.2h-4.3zm12.1 0h4.3v17.2h-4.3zm32.2 0h4.3v17.2h-4.3zm-554.8 16.9h4.3v17.2h-4.3zm40.3 0h4.3v17.2h-4.3zm32.1 0h4.3v17.2h-4.3zm8.3 0h4.2v17.2h-4.2zm39.7 0h4.3v17.2h-4.3zm12.1 0h8.3v17.2h-8.3zm16 0h4.3v17.2h-4.3zm8.3 0h4.2v17.2h-4.2zm47.9 0h4.3v17.2h-4.3zm44.1 0h4.3v17.2h-4.3zm24.1 0h4.3v17.2h-4.3zm36.4 0h4.3v17.2h-4.3zm72.3 0h4.3v17.2h-4.3zm36.2 0h4.3v17.2h-4.3zm8 0h4.3v17.2h-4.3zm52.3 0h4.3v17.2h-4.3zm60.6 0h4.3v17.2h-4.3zm-578.8 17h8.3v17.2h-8.3zm16.1 0h4.3v17.2h-4.3zm16 0h8.3v17.2h-8.3zm16 0h12.3v17.2h-12.3zm32.3 0h4.3v17.2h-4.3zm16 0h4.3v17.2h-4.3zm64.1 0h4.3v17.2h-4.3zm12.1 0h4.3v17.2h-4.3zm44.2 0h4.2v17.2h-4.2zm11.9 0h8.3v17.2h-8.3zm20.1 0h4.3v17.2h-4.3zm8.1 0h4.3v17.2h-4.3zm325.9 0h4.3v17.2h-4.3zm12.1 0h4.3v17.2h-4.3zm8.1 0h4.3v17.2h-4.3zm36.3 0h4.3v17.2h-4.3zm129 0h4.2v17.2h-4.2zm-772.3 17h4.3v17.2h-4.3zm48.1 0h4.3v17.2h-4.3zm16.1 0h4.3v17.2h-4.3zm36.2 0h4.3v17.2h-4.3zm32.3 0h4.2v17.2h-4.2zm11.8 0h4.3v17.2h-4.3zm24 0h4.3v17.2h-4.3zm40.4 0h4.2v17.2h-4.2zm148.6 0h4.3v17.2h-4.3zm32.1 0h4.3v17.2h-4.3zm48.2 0h8.3v17.2h-8.3zm36.2 0h4.3v17.2h-4.3zm16 0h4.3v17.2h-4.3zm8.1 0h4.3v17.2h-4.3zm8 0h4.3v17.2h-4.3zm76.7 0h4.3v17.2h-4.3zm-486.4 16.9h4.3v17.2h-4.3zm16.1 0h4.3v17.2h-4.3zm24.2 0h4.2v17.2h-4.2zm23.8 0h8.3v17.2h-8.3zm60.3 0h4.2v17.2h-4.2zm64 0h4.3v17.2h-4.3zm-280.8 16.9h4.3v17.2h-4.3zm16.1 0h4.3v17.2h-4.3zm8 0h4.3v17.2h-4.3zm8 0h4.3v17.2h-4.3zm8 0h4.3v17.2h-4.3zm12 0h8.3v17.2h-8.3zm28.3 0h4.3v17.2h-4.3zm20.1 0h4.3v17.2h-4.3zm20.3 0h4.2v17.2h-4.2zm35.7 0h4.3v17.2h-4.3zm8 0h12.3v17.2h-12.3zm32.4 0h4.2v17.2h-4.2zm23.9 0h4.2v17.2h-4.2zm16 0h8.3v17.2h-8.3zm24.1 0h4.3v17.2h-4.3zm24 0h4.3v17.2h-4.3zm8 0h4.3v17.2h-4.3zm36.3 0h4.3v17.2h-4.3zm64.4 0h4.3v17.2h-4.3zm20.1 0h4.3v17.2h-4.3zm28.1 0h4.3v17.2h-4.3zm40.2 0h4.3v17.2h-4.3z"/>
<path fill="#ffd9cb" d="M37.5 1868.1h8.3v17.2h-8.3zm168.8 0h4.2v17.2h-4.2zm47.9 0h4.3v17.2h-4.3zm40.1 0h4.3v17.2h-4.3zm-76 16.9h4.2v17.2h-4.2zm7.9 0h4.2v17.2h-4.2zm72.1 0h4.3v17.2h-4.3zm8.1 0h4.3v17.2h-4.3zm48.4 0h4.3v17.2h-4.3zm-345.4 17h4.3v17.2h-4.3zm20.1 0h4.3v17.2h-4.3zm20 0h4.3v17.2h-4.3zm80.7 0h4.2v17.2h-4.2zm168.1 0h4.3v17.2h-4.3zm112.8 0h4.3v17.2h-4.3zm24 0h4.3v17.2h-4.3zm20.1 0h4.3v17.2h-4.3zm44.2 0h4.3v17.2h-4.3zm8.1 0h4.3v17.2h-4.3zm76.6 0h4.3v17.2h-4.3zm145.3 0h4.2v17.2h-4.2zm20.4 0h4.2v17.2h-4.2zm-720.3 16.9h4.3v17.2h-4.3zm32 0h4.3v17.2h-4.3zm4.1 17h4.3v17.2h-4.3zm64.6 0h4.2v17.2h-4.2zm248.9 33.9h4.2v17.2h-4.2zm-88.9 17h4.3v17.2h-4.3zm88.9 0h4.2v17.2h-4.2zm116.3 0h4.3v17.2h-4.3zm12.1 0h4.3v17.2h-4.3zm-401.7 16.9h4.3v17.2h-4.3zm12.1 0h4.3v17.2h-4.3zm595.5 0h4.2v17.2h-4.2zm-399 16.9h4.3v17.2h-4.3zm100.7 0h4.3v17.2h-4.3zm108.4 0h4.3v17.2h-4.3zm36.5 0h4.3v17.2h-4.3zm-189.1 17h4.3v17.2h-4.3zm-305.3 16.9h4.3v17.2h-4.3zm28.2 17h4.3v17.2h-4.3zm24.1 0h4.3v17.2h-4.3zm60.1 0h4.3v17.2h-4.3zm88.3 0h4.3v17.2h-4.3zm132.7 16.9h4.3v17.2h-4.3zm189.2 0h4.3v17.2h-4.3zm8 0h4.3v17.2h-4.3zm36.4 0h4.3v17.2h-4.3zm-595.1 17h4.3v17.2h-4.3zm345.6 0h4.2v17.2h-4.2zm-345.6 16.9h4.3v17.2h-4.3zm208.7 0h4.3v17.2h-4.3zm132.9 0h4.2v17.2h-4.2zm92.2 0h4.3v17.2h-4.3zm250.1 0h4.2v17.2h-4.2zm-173.5 17h4.3v17.2h-4.3zm44.3 0h4.3v17.2h-4.3zm-96.8 16.9h4.3v17.2h-4.3zm12.1 17h4.3v17.2h-4.3zm12 0h4.3v17.2h-4.3zm68.7 0h4.3v17.2h-4.3zm-88.8 17h4.3v17.2h-4.3zm24.1 0h4.3v17.2h-4.3zm88.9 16.9h4.3v17.2h-4.3zm12.1 0h4.3v17.2h-4.3zm141.3 0h4.2v17.2h-4.2zm-543.6 16.9h4.2v17.2h-4.2zm64 0h4.3v17.2h-4.3zm76.7 0h4.3v17.2h-4.3zm92.3 0h4.3v17.2h-4.3zm169.3 0h4.3v17.2h-4.3zm96.9 0h4.2v17.2h-4.2zm-153.4 17h4.3v17.2h-4.3zm32.2 0h4.3v17.2h-4.3zm-116.8 16.9h4.3v17.2h-4.3zm28.1 0h4.3v17.2h-4.3zm8 0h4.3v17.2h-4.3zm-20.1 17h8.3v17.2h-8.3zm76.7 0h4.3v17.2h-4.3zm-305.8 16.9h4.3v17.2h-4.3zm334 0h4.3v17.2h-4.3zm-378.1 17h4.2v17.2h-4.2zm15.9 0h4.3v17.2h-4.3zm8.1 0h4.3v17.2h-4.3zm301.7 0h4.3v17.2h-4.3zm8.1 0h4.3v17.2h-4.3zm161.4 0h4.2v17.2h-4.2zm-290.3 17h4.3v17.2h-4.3zm229.7 16.9h4.3v17.2h-4.3zm-221.7 16.9h4.3v17.2h-4.3zm221.7 0h4.3v17.2h-4.3zm-72.6 33.9h4.3v17.2h-4.3zm209.5 0h4.2v17.2h-4.2zm-382.6 17h4.3v17.2h-4.3zm64.3 0h4.3v17.2h-4.3zm-64.3 16.9h4.3v17.2h-4.3zm32.1 0h4.3v17.2h-4.3zm181.3 0h4.3v17.2h-4.3zm-534.7 17h4.3v17.2h-4.3zm506.4 0h4.3v17.2h-4.3zm16.2 0h4.3v17.2h-4.3zm-88.8 16.9h4.3v17.2h-4.3zm-92.5 17h4.3v17.2h-4.3zm213.6 0h4.3v17.2h-4.3zm12.1 0h4.3v17.2h-4.3zm-603.3 16.9h4.3v17.2h-4.3zm36.3 0h4.3v17.2h-4.3zm96.2 0h4.3v17.2h-4.3zm72.3 0h4.3v17.2h-4.3zm27.9 0h4.3v17.2h-4.3zm12.1 0h4.3v17.2h-4.3zm144.9 0h4.3v17.2h-4.3zm96.7 0h4.3v17.2h-4.3zm8 0h4.3v17.2h-4.3zm-466.1 17h4.3v17.2h-4.3zm337.3 0h4.3v17.2h-4.3zm32.1 0h4.3v17.2h-4.3zm193.5 0h4.3v17.2h-4.3zm-265.6 16.9h4.2v17.2h-4.2zm88.2 0h4.3v17.2h-4.3zm72.6 0h4.3v17.2h-4.3zm157.5 0h4.2v17.2h-4.2zm-318.3 17h4.2v17.2h-4.2zm28 0h4.3v17.2h-4.3zm92.4 0h4.3v17.2h-4.3zm76.6 0h4.3v17.2h-4.3zm153.3 0h4.2v17.2h-4.2zm12.4 0h4.2v17.2h-4.2zm-330.7 16.9h4.3v17.2h-4.3zm48.2 0h4.3v17.2h-4.3zm112.8 0h4.3v17.2h-4.3zm56.5 0h4.3v17.2h-4.3zm-530.8 17h4.3v17.2h-4.3zm120.4 0h4.2v17.2h-4.2zm100.2 0h4.3v17.2h-4.3zm12.1 0h4.3v17.2h-4.3zm44.6 16.9h4.2v17.2h-4.2zm48 0h4.3v17.2h-4.3zm80.4 0h4.3v17.2h-4.3zm72.6 0h4.3v17.2h-4.3zm181.7 0h4.2v17.2h-4.2zm19.9 0h4.2v17.2h-4.2zm-563.4 17h4.2v17.2h-4.2zm349.7 0h4.3v17.2h-4.3zm12.1 0h4.3v17.2h-4.3zm129.3 0h4.2v17.2h-4.2zm44.4 0h4.2v17.2h-4.2zm20 0h4.2v17.2h-4.2zm-294.4 33.9h4.3v17.2h-4.3zm24.1 0h8.3v17.2h-8.3zm153.2 0h4.3v17.2h-4.3zm68.7 0h4.2v17.2h-4.2zm40.4 0h4.2v17.2h-4.2zm31.9 0h4.2v17.2h-4.2zm-531.4 17h4.3v17.2h-4.3zm60.2 0h4.3v17.2h-4.3zm435.3 0h4.2v17.2h-4.2zm12 0h4.2v17.2h-4.2zm19.9 0h4.2v17.2h-4.2zm-346.5 16.9h4.3v17.2h-4.3zm76.3 0h4.3v17.2h-4.3zm8.1 0h4.3v17.2h-4.3zm125.1 16.9h4.3v17.2h-4.3zm113.1 0h4.2v17.2h-4.2z"/>
<path fill="#ebdcff" d="M53.5 1868.1h4.3v17.2h-4.3zm32.3 0h4.3v17.2h-4.3zm12 0h4.3v17.2h-4.3zm36.4 0h8.2v17.2h-8.2zm39.7 0h4.3v17.2h-4.3zm257.2 0h4.3v17.2h-4.3zm8 0h4.3v17.2h-4.3zm8.1 0h4.3v17.2h-4.3zm20.1 0h4.3v17.2h-4.3zm12.1 0h4.3v17.2h-4.3zm24.1 0h4.3v17.2h-4.3zm8 0h4.3v17.2h-4.3zm12 0h4.3v17.2h-4.3zm20.4 0h4.3v17.2h-4.3zm12.1 0h8.3v17.2h-8.3zm20.1 0h4.3v17.2h-4.3zm8 0h4.3v17.2h-4.3zm16.1 0h4.3v17.2h-4.3zm20.3 0h8.3v17.2h-8.3zm20.1 0h4.3v17.2h-4.3zm28.8 0h8.2v17.2h-8.2zm16 0h4.2v17.2h-4.2zm92.3 0h4.2v17.2h-4.2zm16 0h4.2v17.2h-4.2zm-707.9 16.9h4.3v17.2h-4.3zm36.1 0h4.3v17.2h-4.3zm208.6 0h8.3v17.2h-8.3zm12.1 0h4.3v17.2h-4.3zm92.5 0h4.3v17.2h-4.3zm120.9 0h8.3v17.2h-8.3zm64.5 0h4.3v17.2h-4.3zm64.9 0h4.2v17.2h-4.2zm32 0h4.2v17.2h-4.2zm28.4 0h4.2v17.2h-4.2zm47.9 0h4.2v17.2h-4.2zm-720.1 17h4.3v17.2h-4.3zm36.3 0h4.3v17.2h-4.3zm28.2 0h4.2v17.2h-4.2zm47.9 0h4.3v17.2h-4.3zm8 0h4.3v17.2h-4.3zm293.4 0h4.3v17.2h-4.3zm64.5 0h4.3v17.2h-4.3zm88.7 0h8.3v17.2h-8.3zm20.2 0h4.3v17.2h-4.3zm44.6 0h4.2v17.2h-4.2zm-411.1 16.9h4.3v17.2h-4.3zm124.8 0h8.3v17.2h-8.3zm24.1 0h4.3v17.2h-4.3zm12 0h4.3v17.2h-4.3zm24.2 0h4.3v17.2h-4.3zm16 0h4.3v17.2h-4.3zm40.2 0h4.3v17.2h-4.3zm36.5 0h4.3v17.2h-4.3zm125.3 0h4.2v17.2h-4.2zm28 0h4.2v17.2h-4.2zm48.4 0h4.2v17.2h-4.2zm7.9 0h4.2v17.2h-4.2zm-728.2 17h4.3v17.2h-4.3zm32.3 0h4.3v17.2h-4.3zm8 0h4.3v17.2h-4.3zm16.1 0h4.3v17.2h-4.3zm8 0h4.3v17.2h-4.3zm273.1 0h4.3v17.2h-4.3zm40.1 0h4.3v17.2h-4.3zm36.2 0h4.3v17.2h-4.3zm20.1 0h4.3v17.2h-4.3zm8 0h4.3v17.2h-4.3zm32.2 0h4.3v17.2h-4.3zm8 0h4.3v17.2h-4.3zm40.5 0h4.3v17.2h-4.3zm8 0h4.3v17.2h-4.3zm20.2 0h4.3v17.2h-4.3zm12.1 0h4.3v17.2h-4.3zm53 0h4.2v17.2h-4.2zm8 0h4.2v17.2h-4.2zm40 0h4.2v17.2h-4.2zm20 0h4.2v17.2h-4.2zm-720 16.9h4.3v17.2h-4.3zm8.1 0h4.3v17.2h-4.3zm8 0h4.3v17.2h-4.3zm24 0h4.3v17.2h-4.3zm16.1 0h4.3v17.2h-4.3zm12.2 0h4.3v17.2h-4.3zm329.3 0h4.3v17.2h-4.3zm92.4 0h4.3v17.2h-4.3zm24.1 0h4.3v17.2h-4.3zm44.5 0h4.3v17.2h-4.3zm40.3 0h4.3v17.2h-4.3zm20.2 0h4.3v17.2h-4.3zm16.1 0h4.3v17.2h-4.3zm68.7 0h4.2v17.2h-4.2zm-712 17h4.3v17.2h-4.3zm12 0h4.3v17.2h-4.3zm64.4 0h4.3v17.2h-4.3zm8 0h4.3v17.2h-4.3zm44.3 0h4.2v17.2h-4.2zm268.9 0h4.3v17.2h-4.3zm68.3 0h4.3v17.2h-4.3zm12.1 0h4.3v17.2h-4.3zm16.1 0h4.3v17.2h-4.3zm72.6 0h4.3v17.2h-4.3zm16.1 0h4.3v17.2h-4.3zm20.2 0h4.3v17.2h-4.3zm28.2 0h4.3v17.2h-4.3zm44.8 0h4.2v17.2h-4.2zm16 0h8.2v17.2h-8.2zm32 0h4.2v17.2h-4.2zm24.4 0h4.2v17.2h-4.2zm19.9 0h8.2v17.2h-8.2zm-708.1 17h4.3v17.2h-4.3zm8 0h4.3v17.2h-4.3zm44.3 0h4.3v17.2h-4.3zm16.2 0h4.2v17.2h-4.2zm172.3 0h4.3v17.2h-4.3zm92.6 0h4.3v17.2h-4.3zm24.1 0h4.3v17.2h-4.3zm16.1 0h4.3v17.2h-4.3zm32.1 0h4.3v17.2h-4.3zm12.1 0h4.3v17.2h-4.3zm230 0h4.2v17.2h-4.2zm76.3 0h4.2v17.2h-4.2zm-748.2 16.9h4.3v17.2h-4.3zm24.1 0h4.3v17.2h-4.3zm212.6 0h4.3v17.2h-4.3zm116.8 0h4.3v17.2h-4.3zm40.1 0h8.3v17.2h-8.3zm12.1 0h4.3v17.2h-4.3zm36.2 0h8.3v17.2h-8.3zm60.5 0h4.3v17.2h-4.3zm12.1 0h4.3v17.2h-4.3zm32.2 0h4.3v17.2h-4.3zm12.1 0h4.3v17.2h-4.3zm77.1 0h4.2v17.2h-4.2zm52 0h4.2v17.2h-4.2zm24.4 0h4.2v17.2h-4.2zm-688.2 16.9h4.3v17.2h-4.3zm68.5 0h4.2v17.2h-4.2zm192.4 0h4.3v17.2h-4.3zm197.1 0h4.3v17.2h-4.3zm8 0h4.3v17.2h-4.3zm44.5 0h4.3v17.2h-4.3zm32.3 0h4.3v17.2h-4.3zm8.1 0h4.3v17.2h-4.3zm24.1 0h4.3v17.2h-4.3zm92.8 0h4.2v17.2h-4.2zm28.4 0h8.2v17.2h-8.2zm23.9 0h4.2v17.2h-4.2zm-768.3 17h4.3v17.2h-4.3zm32.1 0h4.3v17.2h-4.3zm16.1 0h4.3v17.2h-4.3zm260.9 0h4.3v17.2h-4.3zm88.6 0h4.3v17.2h-4.3zm24.1 0h4.3v17.2h-4.3zm24.1 0h4.3v17.2h-4.3zm20.1 0h4.3v17.2h-4.3zm8 0h8.3v17.2h-8.3zm36.2 0h8.3v17.2h-8.3zm32.4 0h4.3v17.2h-4.3zm8.1 0h4.3v17.2h-4.3zm8 0h4.3v17.2h-4.3zm12.1 0h4.3v17.2h-4.3zm8 0h4.3v17.2h-4.3zm20.3 0h4.3v17.2h-4.3zm88.9 0h4.2v17.2h-4.2zm28 0h4.2v17.2h-4.2zm20.4 0h4.2v17.2h-4.2zm31.9 0h8.2v17.2h-8.2zm-720.1 16.9h4.3v17.2h-4.3zm8 0h4.3v17.2h-4.3zm8.2 0h4.3v17.2h-4.3zm52.3 0h4.2v17.2h-4.2zm281 0h4.3v17.2h-4.3zm24.1 0h4.3v17.2h-4.3zm100.7 0h8.3v17.2h-8.3zm36.2 0h4.3v17.2h-4.3zm48.4 0h4.3v17.2h-4.3zm8.1 0h4.3v17.2h-4.3zm16.1 0h4.3v17.2h-4.3zm44.7 0h4.2v17.2h-4.2zm8 0h4.2v17.2h-4.2zm12 0h4.2v17.2h-4.2zm20 0h4.2v17.2h-4.2zm-623.5 17h4.3v17.2h-4.3zm48 0h4.3v17.2h-4.3zm229.1 0h4.3v17.2h-4.3zm16 0h4.3v17.2h-4.3zm20.1 0h4.3v17.2h-4.3zm36.2 0h4.3v17.2h-4.3zm28.1 0h4.3v17.2h-4.3zm24.1 0h4.3v17.2h-4.3zm64.6 0h4.3v17.2h-4.3zm12.1 0h4.3v17.2h-4.3zm24.2 0h8.3v17.2h-8.3zm57 0h4.2v17.2h-4.2zm28 0h12.2v17.2h-12.2zm16 0h4.2v17.2h-4.2zm36.4 0h4.2v17.2h-4.2zm20 0h4.2v17.2h-4.2zm-760.4 16.9h4.3v17.2h-4.3zm12.1 0h4.3v17.2h-4.3zm32 0h4.3v17.2h-4.3zm32.3 0h4.3v17.2h-4.3zm8 0h4.3v17.2h-4.3zm16.1 0h4.3v17.2h-4.3zm16.3 0h8.2v17.2h-8.2zm51.8 0h4.3v17.2h-4.3zm56.1 0h4.3v17.2h-4.3zm24.2 0h4.3v17.2h-4.3zm269.3 0h4.3v17.2h-4.3zm96.9 0h4.3v17.2h-4.3zm44.9 0h4.2v17.2h-4.2zm24 0h4.2v17.2h-4.2zm12 0h4.2v17.2h-4.2zm8 0h4.2v17.2h-4.2zm36.4 0h8.2v17.2h-8.2zm-684.2 17h8.3v17.2h-8.3zm68.5 0h4.2v17.2h-4.2zm252.9 0h4.3v17.2h-4.3zm20.1 0h4.3v17.2h-4.3zm52.2 0h8.3v17.2h-8.3zm64.3 0h4.3v17.2h-4.3zm24.3 0h4.3v17.2h-4.3zm12.1 0h4.3v17.2h-4.3zm12.1 0h8.3v17.2h-8.3zm36.3 0h4.3v17.2h-4.3zm12.1 0h4.3v17.2h-4.3zm36.3 0h4.3v17.2h-4.3zm16.6 0h4.2v17.2h-4.2zm32 0h4.2v17.2h-4.2zm20 0h4.2v17.2h-4.2zm8 0h4.2v17.2h-4.2zm24.4 0h4.2v17.2h-4.2zm8 0h4.2v17.2h-4.2zm19.9 0h4.2v17.2h-4.2zm-764.2 16.9h4.3v17.2h-4.3zm60.3 0h4.3v17.2h-4.3zm52.3 0h4.2v17.2h-4.2zm224.8 0h4.3v17.2h-4.3zm32.1 0h4.3v17.2h-4.3zm16.1 0h4.3v17.2h-4.3zm80.3 0h4.3v17.2h-4.3zm20.1 0h4.3v17.2h-4.3zm24.1 0h4.3v17.2h-4.3zm20.4 0h4.3v17.2h-4.3zm16.1 0h4.3v17.2h-4.3zm12 0h4.3v17.2h-4.3zm12.1 0h4.3v17.2h-4.3zm36.4 0h4.3v17.2h-4.3zm104.8 0h4.2v17.2h-4.2zm-703.9 17h4.3v17.2h-4.3zm12 0h8.3v17.2h-8.3zm76.4 0h4.3v17.2h-4.3zm48 0h8.3v17.2h-8.3zm12.1 0h4.3v17.2h-4.3zm16 0h4.3v17.2h-4.3zm48.2 0h4.3v17.2h-4.3zm28.2 0h4.3v17.2h-4.3zm23.9 0h4.3v17.2h-4.3zm12.1 0h4.3v17.2h-4.3zm8 0h4.3v17.2h-4.3zm20.2 0h4.3v17.2h-4.3zm24.3 0h4.3v17.2h-4.3zm293.8 0h4.3v17.2h-4.3zm12.7 0h4.2v17.2h-4.2zm24 0h4.2v17.2h-4.2zm24 0h4.2v17.2h-4.2zm40.4 0h4.2v17.2h-4.2zm8 0h4.2v17.2h-4.2zm19.9 0h4.2v17.2h-4.2zm12 0h4.2v17.2h-4.2zm-788.3 16.9h4.3v17.2h-4.3zm12 0h4.3v17.2h-4.3zm32.1 0h4.3v17.2h-4.3zm44.3 0h4.3v17.2h-4.3zm40.3 0h4.2v17.2h-4.2zm15.8 0h4.3v17.2h-4.3zm24.1 0h4.3v17.2h-4.3zm28.3 0h8.2v17.2h-8.2zm15.9 0h8.2v17.2h-8.2zm48.1 0h8.3v17.2h-8.3zm11.9 0h4.3v17.2h-4.3zm16.1 0h4.3v17.2h-4.3zm24.1 0h8.3v17.2h-8.3zm269.8 0h4.3v17.2h-4.3zm20.2 0h4.3v17.2h-4.3zm97 0h4.2v17.2h-4.2zm84.3 0h4.2v17.2h-4.2zm8 0h4.2v17.2h-4.2zm-784.3 17h8.3v17.2h-8.3zm56.2 0h4.3v17.2h-4.3zm40.3 0h4.3v17.2h-4.3zm20.3 0h4.2v17.2h-4.2zm19.7 0h8.3v17.2h-8.3zm24.1 0h4.3v17.2h-4.3zm104.2 0h4.3v17.2h-4.3zm40.2 0h4.3v17.2h-4.3zm40.5 0h4.3v17.2h-4.3zm8 0h4.3v17.2h-4.3zm229.3 0h4.3v17.2h-4.3zm44.4 0h4.3v17.2h-4.3zm12.1 0h4.3v17.2h-4.3zm12.7 0h4.2v17.2h-4.2zm24 0h4.2v17.2h-4.2zm24 0h4.2v17.2h-4.2zm28.4 0h4.2v17.2h-4.2zm39.9 0h4.2v17.2h-4.2zm-772.3 17h4.3v17.2h-4.3zm72.4 0h4.3v17.2h-4.3zm52.3 0h4.2v17.2h-4.2zm11.8 0h4.3v17.2h-4.3zm36.1 0h4.3v17.2h-4.3zm28.3 0h4.2v17.2h-4.2zm60.1 0h4.3v17.2h-4.3zm23.9 0h4.3v17.2h-4.3zm12.1 0h4.3v17.2h-4.3zm52.5 0h8.3v17.2h-8.3zm116.5 0h4.3v17.2h-4.3zm80.6 0h4.3v17.2h-4.3zm32.2 0h4.3v17.2h-4.3zm36.3 0h4.3v17.2h-4.3zm52.9 0h4.2v17.2h-4.2zm80.4 0h4.2v17.2h-4.2zm27.9 0h4.2v17.2h-4.2zm-671.8 16.9h4.3v17.2h-4.3zm100.4 0h4.2v17.2h-4.2zm148.6 0h4.3v17.2h-4.3zm12.2 0h4.2v17.2h-4.2zm-341.6 16.9h4.3v17.2h-4.3zm72.4 0h4.3v17.2h-4.3zm8 0h4.3v17.2h-4.3zm96.4 0h4.2v17.2h-4.2zm265.1 0h4.3v17.2h-4.3zm16 0h4.3v17.2h-4.3zm8.1 0h4.3v17.2h-4.3zm12 0h4.3v17.2h-4.3zm32.4 0h4.3v17.2h-4.3zm16.1 0h4.3v17.2h-4.3zm8.1 0h4.3v17.2h-4.3zm8 0h4.3v17.2h-4.3zm109.3 0h4.2v17.2h-4.2zm-647.9 17h4.3v17.2h-4.3zm32.1 0h4.3v17.2h-4.3zm12.2 0h4.3v17.2h-4.3zm28.1 0h4.3v17.2h-4.3zm40 0h4.3v17.2h-4.3zm112.4 0h4.3v17.2h-4.3zm8.1 0h4.3v17.2h-4.3zm27.9 0h4.3v17.2h-4.3zm391.1 0h4.2v17.2h-4.2zm-684 16.9h4.3v17.2h-4.3zm16.1 0h4.3v17.2h-4.3zm24 0h4.3v17.2h-4.3zm28.1 0h4.3v17.2h-4.3zm32.3 0h4.3v17.2h-4.3zm104.4 0h4.2v17.2h-4.2zm35.9 0h4.3v17.2h-4.3zm52.1 0h4.3v17.2h-4.3zm48.5 0h4.3v17.2h-4.3zm20.1 0h4.3v17.2h-4.3zm96.4 0h4.3v17.2h-4.3zm88.7 0h4.3v17.2h-4.3zm36.2 0h8.3v17.2h-8.3zm40.4 0h4.3v17.2h-4.3zm48.8 0h4.2v17.2h-4.2zm-660 17h4.3v17.2h-4.3zm92.5 0h4.3v17.2h-4.3zm80.1 0h4.3v17.2h-4.3zm100.3 0h4.3v17.2h-4.3zm44.3 0h4.3v17.2h-4.3zm28.3 0h4.3v17.2h-4.3zm217.2 0h4.3v17.2h-4.3zm60.5 0h4.3v17.2h-4.3zm16.2 0h4.3v17.2h-4.3zm20.6 0h8.2v17.2h-8.2zm20 0h8.2v17.2h-8.2zm24 0h4.2v17.2h-4.2zm12 0h4.2v17.2h-4.2zm12.4 0h4.2v17.2h-4.2zm12 0h4.2v17.2h-4.2zm27.9 0h4.2v17.2h-4.2zm-748.2 16.9h4.3v17.2h-4.3zm20 0h4.3v17.2h-4.3zm124.5 0h4.3v17.2h-4.3zm8 0h4.3v17.2h-4.3zm52.2 0h4.3v17.2h-4.3zm84.3 0h4.3v17.2h-4.3zm132.8 0h4.3v17.2h-4.3zm92.7 0h4.3v17.2h-4.3zm8 0h4.3v17.2h-4.3zm36.2 0h4.3v17.2h-4.3zm20.3 0h8.3v17.2h-8.3zm12.1 0h4.3v17.2h-4.3zm12 0h4.3v17.2h-4.3zm8.1 0h4.3v17.2h-4.3zm44.7 0h8.2v17.2h-8.2zm28 0h4.2v17.2h-4.2zm60.3 0h4.2v17.2h-4.2zm-764.3 17h4.3v17.2h-4.3zm20.1 0h4.3v17.2h-4.3zm68.4 0h8.3v17.2h-8.3zm104.4 0h4.2v17.2h-4.2zm67.9 0h4.3v17.2h-4.3zm346.3 0h4.3v17.2h-4.3zm52.9 0h4.2v17.2h-4.2zm-551.2 17h4.2v17.2h-4.2zm96 0h4.2v17.2h-4.2zm80.2 0h4.3v17.2h-4.3zm16 0h4.3v17.2h-4.3zm12.1 0h4.3v17.2h-4.3zm48.6 0h4.2v17.2h-4.2zm36 0h12.3v17.2h-12.3zm254.3 0h4.2v17.2h-4.2zm48 0h8.2v17.2h-8.2zm24.4 0h4.2v17.2h-4.2zm51.9 0h4.2v17.2h-4.2zm-579.4 16.9h4.2v17.2h-4.2zm88.1 0h4.3v17.2h-4.3zm28.1 0h4.3v17.2h-4.3zm116.7 0h4.3v17.2h-4.3zm218.2 0h4.2v17.2h-4.2zm56 0h4.2v17.2h-4.2zm72.3 0h4.2v17.2h-4.2zm-695.9 16.9h4.3v17.2h-4.3zm88.2 0h4.3v17.2h-4.3zm36.2 0h4.2v17.2h-4.2zm32 0h4.3v17.2h-4.3zm120.9 0h4.2v17.2h-4.2zm27.9 0h4.3v17.2h-4.3zm16.1 0h4.3v17.2h-4.3zm254.3 0h4.2v17.2h-4.2zm16 0h4.2v17.2h-4.2zm16 0h4.2v17.2h-4.2zm16 0h4.2v17.2h-4.2zm-691.9 17h4.3v17.2h-4.3zm12 0h4.3v17.2h-4.3zm68.4 0h4.3v17.2h-4.3zm20.3 0h4.2v17.2h-4.2zm19.7 0h8.3v17.2h-8.3zm40.1 0h4.3v17.2h-4.3zm56.2 0h8.3v17.2h-8.3zm100.6 0h4.3v17.2h-4.3zm20.1 0h4.3v17.2h-4.3zm20.1 0h4.3v17.2h-4.3zm12 0h4.3v17.2h-4.3zm8.1 0h4.3v17.2h-4.3zm40.1 0h4.3v17.2h-4.3zm96.7 0h4.3v17.2h-4.3zm64.5 0h4.3v17.2h-4.3zm85 0h4.2v17.2h-4.2zm12 0h4.2v17.2h-4.2zm24 0h4.2v17.2h-4.2zm12.4 0h4.2v17.2h-4.2zm12 0h4.2v17.2h-4.2zm16 0h4.2v17.2h-4.2zm15.9 0h8.2v17.2h-8.2zm-784.3 16.9h4.3v17.2h-4.3zm40.1 0h4.3v17.2h-4.3zm20.1 0h4.3v17.2h-4.3zm108.3 0h4.3v17.2h-4.3zm36.4 0h4.2v17.2h-4.2zm15.9 0h4.2v17.2h-4.2zm28 0h4.3v17.2h-4.3zm80.3 0h4.3v17.2h-4.3zm8.1 0h4.3v17.2h-4.3zm28.3 0h4.3v17.2h-4.3zm189.1 0h4.3v17.2h-4.3zm52.4 0h4.3v17.2h-4.3zm24.2 0h4.3v17.2h-4.3zm8 0h4.3v17.2h-4.3zm36.8 0h4.2v17.2h-4.2zm16 0h4.2v17.2h-4.2zm28 0h8.2v17.2h-8.2zm20.4 0h4.2v17.2h-4.2zm-732.4 17h4.3v17.2h-4.3zm16.1 0h4.3v17.2h-4.3zm32 0h4.3v17.2h-4.3zm104.4 0h4.3v17.2h-4.3zm24.1 0h4.3v17.2h-4.3zm108.3 0h4.3v17.2h-4.3zm56.5 0h4.3v17.2h-4.3zm76.3 0h4.3v17.2h-4.3zm254.3 0h4.2v17.2h-4.2zm8 0h4.2v17.2h-4.2zm24 0h4.2v17.2h-4.2zm36.4 0h4.2v17.2h-4.2zm8 0h4.2v17.2h-4.2zm-724.3 16.9h4.3v17.2h-4.3zm80.4 0h4.3v17.2h-4.3zm40 0h4.3v17.2h-4.3zm140.4 0h4.3v17.2h-4.3zm24.1 0h4.3v17.2h-4.3zm12.1 0h4.3v17.2h-4.3zm20.3 0h8.3v17.2h-8.3zm-345.4 17h8.3v17.2h-8.3zm44.1 0h4.3v17.2h-4.3zm20.1 0h4.3v17.2h-4.3zm208.6 0h4.3v17.2h-4.3zm387.2 0h4.2v17.2h-4.2zm40 0h4.2v17.2h-4.2zm44.4 0h4.2v17.2h-4.2zm8 0h4.2v17.2h-4.2zm23.9 0h4.2v17.2h-4.2zm-756.2 16.9h4.3v17.2h-4.3zm80.4 0h4.3v17.2h-4.3zm32.2 0h4.2v17.2h-4.2zm104.1 0h4.3v17.2h-4.3zm16.1 0h4.3v17.2h-4.3zm19.9 0h4.3v17.2h-4.3zm16.1 0h4.3v17.2h-4.3zm20.1 0h4.3v17.2h-4.3zm8.1 0h4.3v17.2h-4.3zm92.6 0h8.3v17.2h-8.3zm270.3 0h8.2v17.2h-8.2zm40 0h4.2v17.2h-4.2zm68.3 0h4.2v17.2h-4.2zm-764.2 17h4.3v17.2h-4.3zm8 0h4.3v17.2h-4.3zm16 0h4.3v17.2h-4.3zm8.1 0h4.3v17.2h-4.3zm32.2 0h4.3v17.2h-4.3zm8 0h4.3v17.2h-4.3zm8.1 0h4.3v17.2h-4.3zm16.3 0h4.2v17.2h-4.2zm11.9 0h4.2v17.2h-4.2zm19.8 0h4.3v17.2h-4.3zm201 0h4.3v17.2h-4.3zm40.1 0h4.3v17.2h-4.3zm213.4 0h4.3v17.2h-4.3zm161.3 0h4.2v17.2h-4.2zm24 0h4.2v17.2h-4.2zm-667.5 16.9h4.2v17.2h-4.2zm39.7 0h4.3v17.2h-4.3zm36.4 0h8.2v17.2h-8.2zm39.9 0h4.3v17.2h-4.3zm80.3 0h4.3v17.2h-4.3zm72.5 0h8.3v17.2h-8.3zm28.1 0h4.3v17.2h-4.3zm12.1 0h4.3v17.2h-4.3zm8 0h4.3v17.2h-4.3zm161.2 0h8.3v17.2h-8.3zm24.2 0h8.3v17.2h-8.3zm20.1 0h4.3v17.2h-4.3zm141 0h4.2v17.2h-4.2zm-691.9 17h4.3v17.2h-4.3zm8.1 0h4.3v17.2h-4.3zm28.2 0h4.2v17.2h-4.2zm47.9 0h4.3v17.2h-4.3zm104.3 0h4.3v17.2h-4.3zm24.1 0h4.3v17.2h-4.3zm32.4 0h4.3v17.2h-4.3zm140.6 0h8.3v17.2h-8.3zm12.1 0h4.3v17.2h-4.3zm24.1 0h4.3v17.2h-4.3zm20.3 0h4.3v17.2h-4.3zm8.1 0h4.3v17.2h-4.3zm8 0h4.3v17.2h-4.3zm12.1 0h4.3v17.2h-4.3zm-522.6 16.9h4.3v17.2h-4.3zm48.3 0h4.3v17.2h-4.3zm8.1 0h4.3v17.2h-4.3zm24.3 0h4.2v17.2h-4.2zm80.1 0h4.2v17.2h-4.2zm7.9 0h4.2v17.2h-4.2zm19.9 0h4.3v17.2h-4.3zm40.1 0h4.3v17.2h-4.3zm68.6 0h4.3v17.2h-4.3zm12.1 0h4.3v17.2h-4.3zm164.7 0h12.3v17.2h-12.3zm20.3 0h4.3v17.2h-4.3zm56.4 0h4.3v17.2h-4.3zm8.1 0h4.3v17.2h-4.3zm12.1 0h4.3v17.2h-4.3zm20.1 0h4.3v17.2h-4.3zm109.2 0h4.2v17.2h-4.2zm35.9 0h4.2v17.2h-4.2zm-732.2 17h4.3v17.2h-4.3zm52.4 0h4.3v17.2h-4.3zm48 0h4.3v17.2h-4.3zm16 0h4.3v17.2h-4.3zm20.1 0h4.3v17.2h-4.3zm80.4 0h4.3v17.2h-4.3zm15.8 0h4.3v17.2h-4.3zm32.2 0h4.3v17.2h-4.3zm96.7 0h4.3v17.2h-4.3zm140.9 0h4.3v17.2h-4.3zm-454.2 16.9h4.3v17.2h-4.3zm56.1 0h4.3v17.2h-4.3zm60.3 0h8.2v17.2h-8.2zm40.1 0h4.3v17.2h-4.3zm12.1 0h4.3v17.2h-4.3zm96.5 0h4.3v17.2h-4.3zm221.3 0h4.3v17.2h-4.3zm-578.8 17h4.3v17.2h-4.3zm32.1 0h4.3v17.2h-4.3zm20.1 0h8.3v17.2h-8.3zm12 0h4.3v17.2h-4.3zm8.2 0h4.3v17.2h-4.3zm32.1 0h4.3v17.2h-4.3zm16.3 0h4.2v17.2h-4.2zm23.7 0h4.3v17.2h-4.3zm36.1 0h4.3v17.2h-4.3zm16.3 0h4.2v17.2h-4.2zm84 0h4.3v17.2h-4.3zm104.7 0h4.3v17.2h-4.3zm48.2 0h4.3v17.2h-4.3zm36.2 0h4.3v17.2h-4.3zm20.1 0h4.3v17.2h-4.3zm64.5 0h4.3v17.2h-4.3zm16.1 0h4.3v17.2h-4.3zm-558.6 16.9h4.3v17.2h-4.3zm28 0h4.3v17.2h-4.3zm12.1 0h4.3v17.2h-4.3zm72.5 0h4.2v17.2h-4.2zm11.8 0h4.3v17.2h-4.3zm20 0h12.3v17.2h-12.3zm52.3 0h4.2v17.2h-4.2zm48.1 0h8.3v17.2h-8.3zm11.9 0h4.3v17.2h-4.3zm12.1 0h4.3v17.2h-4.3zm32.2 0h4.3v17.2h-4.3zm24.3 0h4.3v17.2h-4.3zm8 0h4.3v17.2h-4.3zm48.2 0h4.3v17.2h-4.3zm56.3 0h4.3v17.2h-4.3zm16.1 0h4.3v17.2h-4.3zm8 0h4.3v17.2h-4.3zm84.7 0h4.3v17.2h-4.3zm40.3 0h4.3v17.2h-4.3zm16.1 0h4.3v17.2h-4.3zm16.1 0h4.3v17.2h-4.3zm-534.7 17h4.3v17.2h-4.3zm104.4 0h4.2v17.2h-4.2zm265.1 0h4.3v17.2h-4.3zm16 0h4.3v17.2h-4.3zm16.1 0h4.3v17.2h-4.3zm8 0h4.3v17.2h-4.3zm28.4 0h8.3v17.2h-8.3zm233.8 0h4.2v17.2h-4.2zm-752.2 16.9h4.3v17.2h-4.3zm16 0h4.3v17.2h-4.3zm12 0h4.3v17.2h-4.3zm8.1 0h4.3v17.2h-4.3zm32.2 0h4.3v17.2h-4.3zm36.4 0h4.2v17.2h-4.2zm15.7 0h8.3v17.2h-8.3zm24 0h4.3v17.2h-4.3zm52.3 0h8.2v17.2h-8.2zm24 0h4.3v17.2h-4.3zm36 0h4.3v17.2h-4.3zm40.3 0h4.3v17.2h-4.3zm12.1 0h4.3v17.2h-4.3zm56.4 0h4.3v17.2h-4.3zm8 0h4.3v17.2h-4.3zm16.1 0h4.3v17.2h-4.3zm36.1 0h4.3v17.2h-4.3zm112.8 0h4.3v17.2h-4.3zm84.7 0h4.3v17.2h-4.3zm-599.2 17h4.3v17.2h-4.3zm104.4 0h4.3v17.2h-4.3zm28.1 0h4.3v17.2h-4.3zm36.2 0h4.2v17.2h-4.2zm52.2 0h4.3v17.2h-4.3zm15.8 0h4.3v17.2h-4.3zm28.2 0h4.3v17.2h-4.3zm20.2 0h4.3v17.2h-4.3zm12.2 0h4.3v17.2h-4.3zm8 0h4.3v17.2h-4.3zm156.7 0h4.3v17.2h-4.3zm8 0h4.3v17.2h-4.3zm28.4 0h4.3v17.2h-4.3zm24.2 0h4.3v17.2h-4.3zm24.1 0h4.3v17.2h-4.3zm-526.6 17h4.3v17.2h-4.3zm12.2 0h4.3v17.2h-4.3zm36.1 0h4.3v17.2h-4.3zm88.4 0h4.2v17.2h-4.2zm196.7 0h4.3v17.2h-4.3zm12.1 0h4.3v17.2h-4.3zm48.2 0h4.3v17.2h-4.3zm16.1 0h4.3v17.2h-4.3zm44.2 0h4.3v17.2h-4.3zm68.6 0h4.3v17.2h-4.3zm8.1 0h4.3v17.2h-4.3zm24.2 0h4.3v17.2h-4.3zm32.3 0h4.3v17.2h-4.3zm-595.2 16.9h4.3v17.2h-4.3zm20.2 0h4.3v17.2h-4.3zm28.1 0h4.3v17.2h-4.3zm44 0h4.3v17.2h-4.3zm20.1 0h4.3v17.2h-4.3zm20 0h4.3v17.2h-4.3zm16.3 0h4.2v17.2h-4.2zm100.1 0h4.3v17.2h-4.3zm52.5 0h4.3v17.2h-4.3zm273.7 0h4.3v17.2h-4.3zm-623.2 16.9h4.3v17.2h-4.3zm136.5 0h4.3v17.2h-4.3zm72.3 0h4.2v17.2h-4.2zm48.2 0h4.3v17.2h-4.3zm88.5 0h8.3v17.2h-8.3zm64.2 0h4.3v17.2h-4.3zm36.2 0h4.3v17.2h-4.3zm185.4 0h4.3v17.2h-4.3zm12.1 0h4.3v17.2h-4.3z"/>
<path fill="#ccadff" d="M65.6 1868.1h4.3v17.2h-4.3zm56.3 0h4.3v17.2h-4.3zm385.6 0h4.3v17.2h-4.3zm20.1 0h4.3v17.2h-4.3zm153.8 0h4.2v17.2h-4.2zm72.4 0h4.2v17.2h-4.2zm12 0h4.2v17.2h-4.2zm-688.2 16.9h4.3v17.2h-4.3zm40.3 0h4.3v17.2h-4.3zm52 0h4.3v17.2h-4.3zm253.2 0h4.3v17.2h-4.3zm250.3 0h4.2v17.2h-4.2zm32 0h4.2v17.2h-4.2zm20 0h4.2v17.2h-4.2zm12 0h4.2v17.2h-4.2zm-394.8 17h4.3v17.2h-4.3zm-220.7 16.9h4.3v17.2h-4.3zm365.5 0h4.3v17.2h-4.3zm222 0h4.2v17.2h-4.2zm92.3 0h4.2v17.2h-4.2zm-459.1 17h4.3v17.2h-4.3zm120.7 0h4.3v17.2h-4.3zm88.6 0h4.3v17.2h-4.3zm40.3 0h4.3v17.2h-4.3zm113.2 0h8.2v17.2h-8.2zm-310.4 16.9h4.3v17.2h-4.3zm12 0h4.3v17.2h-4.3zm12.1 0h4.3v17.2h-4.3zm32.1 0h8.3v17.2h-8.3zm16.1 0h4.3v17.2h-4.3zm24.1 0h4.3v17.2h-4.3zm24.1 0h8.3v17.2h-8.3zm32.4 0h4.3v17.2h-4.3zm44.3 0h4.3v17.2h-4.3zm48.4 0h4.3v17.2h-4.3zm64.8 0h4.2v17.2h-4.2zm60.4 0h4.2v17.2h-4.2zm19.9 0h4.2v17.2h-4.2zm-716.1 17h4.3v17.2h-4.3zm482.3 0h4.3v17.2h-4.3zm-510.4 17h4.3v17.2h-4.3zm12 16.9h4.3v17.2h-4.3zm369.6 0h4.3v17.2h-4.3zm-309.2 16.9h4.3v17.2h-4.3zm289.1 17h4.3v17.2h-4.3zm148.9 0h4.3v17.2h-4.3zm-88.6 16.9h4.3v17.2h-4.3zm149.1 0h4.3v17.2h-4.3zm-550.9 33.9h4.3v17.2h-4.3zm60.4 0h4.3v17.2h-4.3zm583.5 0h4.2v17.2h-4.2zm44.4 0h4.2v17.2h-4.2zm-342.8 17h4.3v17.2h-4.3zm165.1 0h4.3v17.2h-4.3zm44.3 0h8.3v17.2h-8.3zm12.1 0h4.3v17.2h-4.3zm125.3 0h4.2v17.2h-4.2zm-688.2 16.9h4.3v17.2h-4.3zm361.5 0h4.3v17.2h-4.3zm213.5 0h4.3v17.2h-4.3zm20.2 0h4.3v17.2h-4.3zm-410.6 17h4.3v17.2h-4.3zm16.1 0h4.3v17.2h-4.3zm15.9 0h4.3v17.2h-4.3zm60.4 0h4.3v17.2h-4.3zm8.2 0h4.3v17.2h-4.3zm-249 33.9h4.3v17.2h-4.3zm108.5 0h4.2v17.2h-4.2zm88 0h4.3v17.2h-4.3zm330.2 0h4.3v17.2h-4.3zm-575 17h4.3v17.2h-4.3zm196.7 0h4.3v17.2h-4.3zm80.3 0h4.3v17.2h-4.3zm185 0h4.3v17.2h-4.3zm189.9 0h4.2v17.2h-4.2zm92.3 0h4.2v17.2h-4.2zm-732.1 16.9h4.3v17.2h-4.3zm72.5 0h4.2v17.2h-4.2zm27.8 0h8.3v17.2h-8.3zm16.1 0h4.3v17.2h-4.3zm44.2 0h4.2v17.2h-4.2zm40.1 0h8.3v17.2h-8.3zm92.5 0h4.3v17.2h-4.3zm24.3 0h4.2v17.2h-4.2zm-365.7 16.9h4.3v17.2h-4.3zm104.5 0h4.3v17.2h-4.3zm220.7 17h4.3v17.2h-4.3zm362.8 0h4.2v17.2h-4.2zm40.4 0h4.2v17.2h-4.2zm-435.4 16.9h4.3v17.2h-4.3zm32.2 0h4.3v17.2h-4.3zm185 17h4.3v17.2h-4.3zm100.9 0h4.3v17.2h-4.3zm20.2 0h4.3v17.2h-4.3zm-285.8 33.9h4.3v17.2h-4.3zm362.5 0h4.2v17.2h-4.2zm-691.9 17h4.3v17.2h-4.3zm32.1 0h4.3v17.2h-4.3zm24.2 0h4.3v17.2h-4.3zm28.1 0h4.3v17.2h-4.3zm20.2 0h4.2v17.2h-4.2zm19.8 0h4.3v17.2h-4.3zm8 0h4.3v17.2h-4.3zm20.1 0h4.3v17.2h-4.3zm20.3 0h4.2v17.2h-4.2zm60 0h4.3v17.2h-4.3zm28 0h4.3v17.2h-4.3zm32.2 0h4.3v17.2h-4.3zm16.1 0h4.3v17.2h-4.3zm16.2 0h4.3v17.2h-4.3zm318.6 0h4.2v17.2h-4.2zm20 0h4.2v17.2h-4.2zm16 0h8.2v17.2h-8.2zm20 0h8.2v17.2h-8.2zm-720 16.9h4.3v17.2h-4.3zm28.1 0h4.3v17.2h-4.3zm20 0h4.3v17.2h-4.3zm96.4 0h4.3v17.2h-4.3zm8 0h8.3v17.2h-8.3zm44.4 0h4.2v17.2h-4.2zm43.9 0h4.3v17.2h-4.3zm427.2 0h4.2v17.2h-4.2zm28 0h4.2v17.2h-4.2zm8 0h4.2v17.2h-4.2zm20 0h4.2v17.2h-4.2zm8.4 0h4.2v17.2h-4.2zm16 0h4.2v17.2h-4.2zm-696.2 16.9h4.3v17.2h-4.3zm12 0h4.3v17.2h-4.3zm132.7 0h8.2v17.2h-8.2zm56 0h4.3v17.2h-4.3zm100.6 0h4.3v17.2h-4.3zm378.9 0h4.2v17.2h-4.2zm-201.9 17h4.3v17.2h-4.3zm177.5 0h4.2v17.2h-4.2zm-651.8 16.9h4.3v17.2h-4.3zm8 0h4.3v17.2h-4.3zm152.6 0h4.2v17.2h-4.2zm20 0h4.3v17.2h-4.3zm172.9 0h8.3v17.2h-8.3zm16 0h4.3v17.2h-4.3zm189.4 0h4.3v17.2h-4.3zm20.2 0h4.3v17.2h-4.3zm-595.2 17h4.3v17.2h-4.3zm44.3 0h4.3v17.2h-4.3zm60.1 0h4.3v17.2h-4.3zm28.1 0h4.3v17.2h-4.3zm60.2 0h8.3v17.2h-8.3zm36 0h4.3v17.2h-4.3zm12.1 0h4.3v17.2h-4.3zm32.2 0h4.3v17.2h-4.3zm40.4 0h4.3v17.2h-4.3zm-353.5 16.9h4.3v17.2h-4.3zm124.7 0h4.2v17.2h-4.2zm15.8 0h4.3v17.2h-4.3zm24.1 0h8.3v17.2h-8.3zm16 0h4.3v17.2h-4.3zm120.4 0h4.3v17.2h-4.3zm12.1 0h4.3v17.2h-4.3zm16.1 0h4.3v17.2h-4.3zm350.8 0h4.2v17.2h-4.2zm24 0h4.2v17.2h-4.2zm40.4 0h4.2v17.2h-4.2zm8 0h4.2v17.2h-4.2zm11.9 0h4.2v17.2h-4.2zm12 0h4.2v17.2h-4.2zm-447.1 17h4.3v17.2h-4.3zm-329.2 16.9h4.3v17.2h-4.3zm60.2 0h4.3v17.2h-4.3zm64.5 0h4.2v17.2h-4.2zm35.8 0h4.3v17.2h-4.3zm12.1 0h4.3v17.2h-4.3zm8 0h4.3v17.2h-4.3zm20.3 0h4.2v17.2h-4.2zm7.9 0h4.2v17.2h-4.2zm15.9 0h4.3v17.2h-4.3zm32.2 0h4.3v17.2h-4.3zm40.1 0h4.3v17.2h-4.3zm28.2 0h4.3v17.2h-4.3zm24.3 0h4.3v17.2h-4.3zm334.5 0h4.2v17.2h-4.2zm8 0h4.2v17.2h-4.2zm28 0h4.2v17.2h-4.2zm12.4 0h4.2v17.2h-4.2zm8 0h4.2v17.2h-4.2zm8 0h4.2v17.2h-4.2zm-748.4 17h4.3v17.2h-4.3zm32.1 0h4.3v17.2h-4.3zm28.1 0h4.3v17.2h-4.3zm60.6 0h4.2v17.2h-4.2zm47.8 0h4.3v17.2h-4.3zm24.3 0h4.2v17.2h-4.2zm144.5 0h4.3v17.2h-4.3zm20.1 0h4.3v17.2h-4.3zm298.5 0h4.2v17.2h-4.2zm40 0h4.2v17.2h-4.2zm24 0h4.2v17.2h-4.2zm12.4 0h4.2v17.2h-4.2zm43.9 0h4.2v17.2h-4.2zm-744.2 16.9h4.3v17.2h-4.3zm575 0h4.3v17.2h-4.3zm28.2 0h4.3v17.2h-4.3zm28.7 0h4.2v17.2h-4.2zm32 0h4.2v17.2h-4.2zm48.4 0h4.2v17.2h-4.2zm43.9 0h4.2v17.2h-4.2zm-768.2 17h4.3v17.2h-4.3zm8 0h4.3v17.2h-4.3zm92.7 0h4.2v17.2h-4.2zm31.7 0h4.3v17.2h-4.3zm60.3 0h4.2v17.2h-4.2zm15.9 0h4.3v17.2h-4.3zm44.1 0h4.3v17.2h-4.3zm24.2 0h8.3v17.2h-8.3zm16.1 0h4.3v17.2h-4.3zm32.3 0h8.3v17.2h-8.3zm176.8 0h4.3v17.2h-4.3zm-458 16.9h4.3v17.2h-4.3zm252.9 0h4.3v17.2h-4.3zm12.1 0h4.3v17.2h-4.3zm132.7 0h4.3v17.2h-4.3zm-469.9 17h4.3v17.2h-4.3zm8 0h8.3v17.2h-8.3zm28.1 0h4.3v17.2h-4.3zm72.4 0h4.3v17.2h-4.3zm100.4 0h4.2v17.2h-4.2zm39.9 0h4.3v17.2h-4.3zm-188.6 16.9h4.3v17.2h-4.3zm68.6 0h4.2v17.2h-4.2zm51.8 0h4.3v17.2h-4.3zm20.3 0h4.2v17.2h-4.2zm43.9 0h4.3v17.2h-4.3zm32 0h8.3v17.2h-8.3zm28.2 0h8.3v17.2h-8.3zm40.4 0h4.3v17.2h-4.3zm-212.7 17h4.2v17.2h-4.2zm232.8 0h4.3v17.2h-4.3zm36.1 0h4.3v17.2h-4.3zm8.1 0h4.3v17.2h-4.3zm40.1 0h4.3v17.2h-4.3zm24.2 0h4.3v17.2h-4.3zm36.1 0h4.3v17.2h-4.3zm105 0h4.3v17.2h-4.3zm12.1 0h4.3v17.2h-4.3zm-422.3 16.9h4.2v17.2h-4.2zm104.1 0h4.3v17.2h-4.3zm48.5 0h4.3v17.2h-4.3zm257.6 0h4.3v17.2h-4.3zm-591 17h4.3v17.2h-4.3zm216.7 0h4.3v17.2h-4.3zm-212.7 16.9h4.3v17.2h-4.3zm20 0h4.3v17.2h-4.3zm24.1 0h4.3v17.2h-4.3zm60.5 0h4.2v17.2h-4.2zm341.3 0h4.3v17.2h-4.3zm64.5 0h4.3v17.2h-4.3zm40.2 0h4.3v17.2h-4.3zm16.1 0h4.3v17.2h-4.3zm40.4 0h8.3v17.2h-8.3zm20.2 0h4.3v17.2h-4.3zm-378.6 17h4.3v17.2h-4.3zm12.1 0h4.3v17.2h-4.3zm20.1 0h4.3v17.2h-4.3zm8 0h4.3v17.2h-4.3zm8.1 0h8.3v17.2h-8.3zm241.6 0h4.3v17.2h-4.3zm-261.7 17h4.3v17.2h-4.3zm177 0h4.3v17.2h-4.3zm92.7 0h4.3v17.2h-4.3zm-570.7 16.9h4.3v17.2h-4.3zm164.5 0h4.3v17.2h-4.3zm108.3 0h4.3v17.2h-4.3zm60.4 0h4.3v17.2h-4.3zm269.8 0h8.3v17.2h-8.3zm12.1 0h4.3v17.2h-4.3zm24.2 0h4.3v17.2h-4.3z"/>
<path fill="#ffe2d8" d="M214.3 1868.1h4.2v17.2h-4.2zm15.9 0h4.2v17.2h-4.2zm104.3 0h4.3v17.2h-4.3zm44.6 0h4.2v17.2h-4.2zm19.9 0h4.3v17.2h-4.3zm-361.5 16.9h4.3v17.2h-4.3zm20 0h4.3v17.2h-4.3zm44.3 0h4.3v17.2h-4.3zm56.1 0h4.3v17.2h-4.3zm16 0h4.3v17.2h-4.3zm20.1 0h4.3v17.2h-4.3zm28.2 0h4.2v17.2h-4.2zm68 0h4.3v17.2h-4.3zm12.1 0h4.3v17.2h-4.3zm12.1 0h4.3v17.2h-4.3zm44.4 0h4.3v17.2h-4.3zm-321.3 17h4.3v17.2h-4.3zm8 0h4.3v17.2h-4.3zm152.5 0h4.3v17.2h-4.3zm72.3 0h4.3v17.2h-4.3zm19.9 0h4.3v17.2h-4.3zm12.1 0h8.3v17.2h-8.3zm52.5 0h8.3v17.2h-8.3zm40.2 0h4.3v17.2h-4.3zm12 0h4.3v17.2h-4.3zm60.3 0h4.3v17.2h-4.3zm8 0h4.3v17.2h-4.3zm60.3 0h4.3v17.2h-4.3zm-156.5 16.9h4.2v17.2h-4.2zm298.3 0h4.2v17.2h-4.2zm44 17h4.2v17.2h-4.2zm-342.3 16.9h8.1v17.2h-8.1zm76.1 17h4.3v17.2h-4.3zm-297.3 17h4.3v17.2h-4.3zm148.5 0h4.3v17.2h-4.3zm12 0h4.3v17.2h-4.3zm128.8 0h4.3v17.2h-4.3zm120.8 0h4.3v17.2h-4.3zm125.4 0h4.2v17.2h-4.2zm108.3 0h4.2v17.2h-4.2zm-671.5 16.9h4.2v17.2h-4.2zm188.2 0h8.3v17.2h-8.3zm60.7 0h4.2v17.2h-4.2zm-345.6 16.9h4.3v17.2h-4.3zm8 0h4.3v17.2h-4.3zm8 0h4.3v17.2h-4.3zm16.1 0h4.3v17.2h-4.3zm52.3 0h4.3v17.2h-4.3zm12.3 0h4.2v17.2h-4.2zm11.9 0h4.2v17.2h-4.2zm19.8 0h4.3v17.2h-4.3zm156.5 0h4.3v17.2h-4.3zm20.2 0h4.3v17.2h-4.3zm92.5 0h4.3v17.2h-4.3zm32.2 0h4.3v17.2h-4.3zm24.1 0h4.3v17.2h-4.3zm100.8 0h4.3v17.2h-4.3zm133.2 0h4.2v17.2h-4.2zm-631.6 17h8.3v17.2h-8.3zm16 0h4.3v17.2h-4.3zm12.1 0h4.3v17.2h-4.3zm184.4 0h8.3v17.2h-8.3zm-208.5 16.9h4.3v17.2h-4.3zm8 0h4.3v17.2h-4.3zm184.4 0h4.3v17.2h-4.3zm48.3 0h4.3v17.2h-4.3zm-297 17h4.3v17.2h-4.3zm148.5 0h4.3v17.2h-4.3zm36.2 0h4.2v17.2h-4.2zm8 0h4.2v17.2h-4.2zm148.9 0h4.2v17.2h-4.2zm277.6 0h4.3v17.2h-4.3zm-398.5 16.9h4.3v17.2h-4.3zm96.6 0h8.3v17.2h-8.3zm128.6 0h4.3v17.2h-4.3zm28.1 0h4.3v17.2h-4.3zm32.4 0h4.3v17.2h-4.3zm24.1 0h4.3v17.2h-4.3zm8.1 0h4.3v17.2h-4.3zm76.6 0h4.3v17.2h-4.3zm129 0h4.2v17.2h-4.2zm-724.2 17h4.3v17.2h-4.3zm44.3 0h4.3v17.2h-4.3zm16.1 0h4.3v17.2h-4.3zm12.3 0h4.2v17.2h-4.2zm11.9 0h4.2v17.2h-4.2zm655.6 0h4.2v17.2h-4.2zm-768.2 16.9h4.3v17.2h-4.3zm64.3 0h4.3v17.2h-4.3zm8 0h4.3v17.2h-4.3zm28.4 0h4.2v17.2h-4.2zm136.1 0h4.3v17.2h-4.3zm116.8 0h4.2v17.2h-4.2zm-193.1 17h4.3v17.2h-4.3zm180.9 0h4.3v17.2h-4.3zm213.2 0h4.3v17.2h-4.3zm137.3 0h4.2v17.2h-4.2zm-366.6 16.9h4.3v17.2h-4.3zm225.3 0h4.3v17.2h-4.3zm-438 17h4.2v17.2h-4.2zm148.1 0h4.3v17.2h-4.3zm44.3 0h4.3v17.2h-4.3zm132.8 0h4.3v17.2h-4.3zm-409.8 17h4.3v17.2h-4.3zm248.9 0h4.3v17.2h-4.3zm177 0h4.3v17.2h-4.3zm157.2 16.9h4.3v17.2h-4.3zm121.2 0h4.2v17.2h-4.2zm-631.6 16.9h4.2v17.2h-4.2zm292.9 0h4.3v17.2h-4.3zm217.5 0h4.3v17.2h-4.3zm32.8 0h4.2v17.2h-4.2zm76.4 0h4.2v17.2h-4.2zm24 0h4.2v17.2h-4.2zm-246.2 17h4.3v17.2h-4.3zm270.1 0h4.2v17.2h-4.2zm-619.7 16.9h4.3v17.2h-4.3zm112.2 0h4.3v17.2h-4.3zm185.1 0h8.3v17.2h-8.3zm20.1 0h4.3v17.2h-4.3zm8.1 0h4.3v17.2h-4.3zm96.7 0h4.3v17.2h-4.3zm-470 17h4.2v17.2h-4.2zm59.8 0h4.3v17.2h-4.3zm116.4 0h4.3v17.2h-4.3zm177 0h4.3v17.2h-4.3zm24.1 0h4.3v17.2h-4.3zm12 0h4.3v17.2h-4.3zm68.7 0h4.3v17.2h-4.3zm-458 16.9h4.2v17.2h-4.2zm27.7 0h4.3v17.2h-4.3zm24.1 0h4.3v17.2h-4.3zm36.3 0h4.2v17.2h-4.2zm7.9 0h4.2v17.2h-4.2zm32 0h4.3v17.2h-4.3zm32 0h4.3v17.2h-4.3zm8.1 0h4.3v17.2h-4.3zm20.1 0h4.3v17.2h-4.3zm36.4 0h4.3v17.2h-4.3zm28.3 0h4.2v17.2h-4.2zm144.5 0h8.3v17.2h-8.3zm-373.7 17h4.3v17.2h-4.3zm28.1 0h4.3v17.2h-4.3zm8 0h4.3v17.2h-4.3zm8 0h4.3v17.2h-4.3zm40.1 0h4.3v17.2h-4.3zm177 0h4.3v17.2h-4.3zm32.1 0h4.3v17.2h-4.3zm177.3 0h4.3v17.2h-4.3zm64.9 0h4.2v17.2h-4.2zm-290.4 33.9h4.3v17.2h-4.3zm32.1 0h4.3v17.2h-4.3zm16.1 0h4.3v17.2h-4.3zm-140.8 33.9h4.3v17.2h-4.3zm293.8 16.9h4.3v17.2h-4.3zm121.2 0h4.2v17.2h-4.2zm-322.4 17h4.3v17.2h-4.3zm8 0h8.3v17.2h-8.3zm40.2 0h4.3v17.2h-4.3zm8 0h4.3v17.2h-4.3zm-4 16.9h4.3v17.2h-4.3zm-349.4 17h4.3v17.2h-4.3zm28.4 0h4.2v17.2h-4.2zm59.8 0h4.3v17.2h-4.3zm128.4 0h4.3v17.2h-4.3zm88.6 0h8.3v17.2h-8.3zm28.1 0h4.3v17.2h-4.3zm12.1 0h4.3v17.2h-4.3zm185.4 0h4.3v17.2h-4.3zm-253.5 16.9h4.2v17.2h-4.2zm32 0h4.3v17.2h-4.3zm20 0h4.3v17.2h-4.3zm-124.7 17h4.3v17.2h-4.3zm-268.9 16.9h4.3v17.2h-4.3zm160.5 0h4.3v17.2h-4.3zm20.3 0h4.2v17.2h-4.2zm23.8 0h4.3v17.2h-4.3zm16.1 0h4.3v17.2h-4.3zm40.1 0h4.3v17.2h-4.3zm8.1 0h4.3v17.2h-4.3zm28.1 0h4.3v17.2h-4.3zm20.3 0h4.3v17.2h-4.3zm16.1 0h4.3v17.2h-4.3zm28.1 0h4.3v17.2h-4.3zm28.1 17h4.3v17.2h-4.3zm20.1 0h4.3v17.2h-4.3zm177.3 0h4.3v17.2h-4.3zm125.3 0h4.2v17.2h-4.2zm-302.6 16.9h4.3v17.2h-4.3zm120.8 0h4.3v17.2h-4.3zm20.2 0h4.3v17.2h-4.3zm8 0h4.3v17.2h-4.3zm101.2 0h4.2v17.2h-4.2zm84.3 0h4.2v17.2h-4.2zm-382.7 17h4.3v17.2h-4.3zm52.2 0h4.3v17.2h-4.3zm20.1 0h4.3v17.2h-4.3zm36.2 0h4.3v17.2h-4.3zm64.6 0h4.3v17.2h-4.3zm24.1 0h4.3v17.2h-4.3zm56.5 0h4.3v17.2h-4.3zm101.1 0h4.2v17.2h-4.2zm12 0h4.2v17.2h-4.2zm-366.8 16.9h4.3v17.2h-4.3zm40.1 0h4.3v17.2h-4.3zm16.1 0h4.3v17.2h-4.3zm36.2 0h4.3v17.2h-4.3zm24.1 0h4.3v17.2h-4.3zm-257.3 17h4.3v17.2h-4.3zm8.1 0h4.3v17.2h-4.3zm201 16.9h4.3v17.2h-4.3zm56.2 0h4.3v17.2h-4.3zm72.7 0h4.3v17.2h-4.3zm149.6 0h4.2v17.2h-4.2zm-603.7 17h4.2v17.2h-4.2zm96 0h4.3v17.2h-4.3zm44.1 0h4.3v17.2h-4.3zm40.2 0h4.3v17.2h-4.3zm12.1 0h4.3v17.2h-4.3zm249.6 0h8.3v17.2h-8.3zm-201 16.9h4.2v17.2h-4.2zm88.2 0h4.3v17.2h-4.3zm-72.3 17h4.3v17.2h-4.3zm16.1 0h4.3v17.2h-4.3zm68.3 0h4.3v17.2h-4.3zm96.7 0h4.3v17.2h-4.3zm16.1 0h4.3v17.2h-4.3zm20.2 0h4.3v17.2h-4.3zm-586.9 17h4.3v17.2h-4.3zm100.7 0h4.2v17.2h-4.2zm27.7 0h4.3v17.2h-4.3zm60.4 0h4.2v17.2h-4.2zm63.9 0h4.3v17.2h-4.3zm48.3 0h4.3v17.2h-4.3zm28.3 0h4.3v17.2h-4.3zm8.1 0h8.3v17.2h-8.3zm285.8 0h4.3v17.2h-4.3zm56.7 0h4.2v17.2h-4.2zm-266.2 16.9h4.3v17.2h-4.3zm24.1 0h4.3v17.2h-4.3zm68.3 0h4.3v17.2h-4.3zm16.3 0h4.3v17.2h-4.3zm8.1 0h4.3v17.2h-4.3zm36.2 0h4.3v17.2h-4.3zm-406.2 16.9h4.3v17.2h-4.3zm164.8 0h4.3v17.2h-4.3zm100.4 0h4.3v17.2h-4.3zm16.1 0h4.3v17.2h-4.3zm28.1 0h4.3v17.2h-4.3zm16.1 0h4.3v17.2h-4.3zm48.5 0h4.3v17.2h-4.3z"/>
<path fill="#ffcfbf" d="M222.2 1868.1h4.2v17.2h-4.2zm28 0h4.3v17.2h-4.3zm36 0h4.3v17.2h-4.3zm40.3 0h4.3v17.2h-4.3zm16.1 0h4.3v17.2h-4.3zm8.2 0h4.3v17.2h-4.3zm16.1 0h4.3v17.2h-4.3zm-321.4 16.9h4.3v17.2h-4.3zm48.3 0h4.3v17.2h-4.3zm164.4 17h4.3v17.2h-4.3zm213.1 0h4.3v17.2h-4.3zm198.1 0h4.2v17.2h-4.2zm44 0h4.2v17.2h-4.2zm8 0h4.2v17.2h-4.2zm52.4 0h4.2v17.2h-4.2zm-483.6 101.7h4.3v17.2h-4.3zm-260.7 33.9h4.3v17.2h-4.3zm4 16.9h8.3v17.2h-8.3zm268.8 0h4.3v17.2h-4.3zm-92 17h4.2v17.2h-4.2zm-116.5 33.9h4.3v17.2h-4.3zm60.1 16.9h4.3v17.2h-4.3zm96.3 0h4.3v17.2h-4.3zm104.6 0h4.3v17.2h-4.3zm209.2 17h8.3v17.2h-8.3zm40.3 0h4.3v17.2h-4.3zm-124.9 16.9h4.3v17.2h-4.3zm36.1 0h4.3v17.2h-4.3zm20.1 0h4.3v17.2h-4.3zm52.6 0h4.3v17.2h-4.3zm-116.9 17h4.3v17.2h-4.3zm0 17h4.3v17.2h-4.3zm88.7 16.9h4.3v17.2h-4.3zm121.4 0h4.2v17.2h-4.2zm72.4 0h8.2v17.2h-8.2zm-660 16.9h8.3v17.2h-8.3zm72.1 0h4.3v17.2h-4.3zm446.5 0h4.3v17.2h-4.3zm-522.6 17h4.3v17.2h-4.3zm401.6 0h4.3v17.2h-4.3zm20.1 0h4.3v17.2h-4.3zm-4 16.9h4.3v17.2h-4.3zm20.1 0h4.3v17.2h-4.3zm60.6 0h4.3v17.2h-4.3zm-72.7 17h4.3v17.2h-4.3zm-209.1 16.9h4.3v17.2h-4.3zm217.1 0h4.3v17.2h-4.3zm44.5 0h4.3v17.2h-4.3zm-169 34h4.3v17.2h-4.3zm48.2 0h4.3v17.2h-4.3zm-157 118.6h4.3v17.2h-4.3zm370.6 16.9h4.3v17.2h-4.3zm-213.6 17h4.3v17.2h-4.3zm209.5 0h4.3v17.2h-4.3zm-334.3 16.9h4.3v17.2h-4.3zm157 0h4.3v17.2h-4.3zm28.1 0h4.3v17.2h-4.3zm16 0h4.3v17.2h-4.3zm32.5 0h4.3v17.2h-4.3zm12 0h4.3v17.2h-4.3zm-177 17h4.3v17.2h-4.3zm40.1 0h4.3v17.2h-4.3zm40.2 0h4.3v17.2h-4.3zm173.3 0h4.3v17.2h-4.3zm109.2 0h4.2v17.2h-4.2zm8 0h4.2v17.2h-4.2zm15.9 0h4.2v17.2h-4.2zm12 0h4.2v17.2h-4.2zm-390.7 16.9h4.3v17.2h-4.3zm32.1 0h4.3v17.2h-4.3zm-16 17h4.3v17.2h-4.3zm342.7 0h4.2v17.2h-4.2zm27.9 0h4.2v17.2h-4.2zm16 0h4.2v17.2h-4.2zm-330.4 16.9h4.3v17.2h-4.3zm40.2 0h4.3v17.2h-4.3zm24.1 0h4.3v17.2h-4.3zm36.5 0h4.3v17.2h-4.3zm44.3 0h4.3v17.2h-4.3zm145.4 0h4.2v17.2h-4.2zm-12 17h4.2v17.2h-4.2zm35.9 0h4.2v17.2h-4.2zm-342.5 16.9h8.3v17.2h-8.3zm28.1 0h4.3v17.2h-4.3zm12.1 0h4.3v17.2h-4.3zm310.3 0h4.2v17.2h-4.2zm-595.7 17h4.3v17.2h-4.3zm181.1 0h4.2v17.2h-4.2zm19.9 0h4.3v17.2h-4.3zm20.1 0h4.3v17.2h-4.3zm213.5 0h4.3v17.2h-4.3zm44.8 0h4.2v17.2h-4.2zm-178 16.9h4.3v17.2h-4.3zm-120.3 17h4.2v17.2h-4.2zm11.9 0h4.3v17.2h-4.3zm36.1 0h4.3v17.2h-4.3zm28.1 0h4.3v17.2h-4.3zm16.1 0h4.3v17.2h-4.3zm96.7 0h4.3v17.2h-4.3zm185.8 0h4.2v17.2h-4.2zm-374.7 17h4.2v17.2h-4.2zm358.3 0h4.2v17.2h-4.2zm28.4 0h4.2v17.2h-4.2zm-358.8 16.9h4.3v17.2h-4.3zm112.5 0h4.3v17.2h-4.3zm44.5 0h4.3v17.2h-4.3zm28.2 0h4.3v17.2h-4.3zm-185.2 16.9h4.3v17.2h-4.3z"/>
<path fill="#d4b9ff" d="M475.3 1868.1h4.3v17.2h-4.3zm76.6 0h4.3v17.2h-4.3zm52.4 0h4.3v17.2h-4.3zm113.1 0h4.2v17.2h-4.2zm44.4 0h4.2v17.2h-4.2zm-692.2 16.9h4.3v17.2h-4.3zm293.3 0h4.3v17.2h-4.3zm28.1 0h4.3v17.2h-4.3zm36.1 0h4.3v17.2h-4.3zm40.2 0h4.3v17.2h-4.3zm84.6 0h4.3v17.2h-4.3zm157.5 0h4.2v17.2h-4.2zm-399 17h4.3v17.2h-4.3zm20.1 0h4.3v17.2h-4.3zm217.4 0h4.3v17.2h-4.3zm80.6 0h4.3v17.2h-4.3zm-530.7 16.9h4.3v17.2h-4.3zm12.1 0h4.3v17.2h-4.3zm417.7 0h4.3v17.2h-4.3zm24.3 0h4.3v17.2h-4.3zm40.3 0h4.3v17.2h-4.3zm56.5 0h4.3v17.2h-4.3zm56.7 0h4.2v17.2h-4.2zm80.3 0h4.2v17.2h-4.2zm-310.4 17h4.3v17.2h-4.3zm258.1 0h4.2v17.2h-4.2zm-655.8 16.9h4.3v17.2h-4.3zm12.2 0h4.3v17.2h-4.3zm32.1 0h4.3v17.2h-4.3zm317.2 0h4.3v17.2h-4.3zm24.2 0h4.3v17.2h-4.3zm16.1 0h4.3v17.2h-4.3zm24.1 0h4.3v17.2h-4.3zm20 0h4.3v17.2h-4.3zm32.5 0h4.3v17.2h-4.3zm24.1 0h4.3v17.2h-4.3zm16.1 0h4.3v17.2h-4.3zm16.2 0h4.3v17.2h-4.3zm8.1 0h4.3v17.2h-4.3zm8 0h8.3v17.2h-8.3zm32.3 0h4.3v17.2h-4.3zm20.6 0h4.2v17.2h-4.2zm16 0h4.2v17.2h-4.2zm12 0h4.2v17.2h-4.2zm20 0h4.2v17.2h-4.2zm8 0h4.2v17.2h-4.2zm16.4 0h4.2v17.2h-4.2zm8 0h4.2v17.2h-4.2zm12 0h4.2v17.2h-4.2zm15.9 0h4.2v17.2h-4.2zm-716.1 17h4.3v17.2h-4.3zm24.2 0h4.3v17.2h-4.3zm24.1 0h4.3v17.2h-4.3zm301.2 0h4.3v17.2h-4.3zm20.1 0h4.3v17.2h-4.3zm36.2 0h4.3v17.2h-4.3zm68.5 0h4.3v17.2h-4.3zm16.1 0h4.3v17.2h-4.3zm133.4 0h4.2v17.2h-4.2zm40 0h4.2v17.2h-4.2zm24.4 0h4.2v17.2h-4.2zm-744.4 33.9h4.3v17.2h-4.3zm534.5 0h4.3v17.2h-4.3zm209.9 0h4.2v17.2h-4.2zm-56.4 16.9h4.2v17.2h-4.2zm80.3 0h4.2v17.2h-4.2zm-322.4 17h4.3v17.2h-4.3zm56.2 0h4.3v17.2h-4.3zm129.2 0h4.3v17.2h-4.3zm56.7 0h4.2v17.2h-4.2zm-302.4 16.9h4.3v17.2h-4.3zm20.1 0h8.3v17.2h-8.3zm64.3 0h4.3v17.2h-4.3zm133.1 0h4.3v17.2h-4.3zm60.9 0h4.2v17.2h-4.2zm80.4 0h4.2v17.2h-4.2zm-366.8 17h4.3v17.2h-4.3zm136.6 0h4.3v17.2h-4.3zm20.3 0h4.3v17.2h-4.3zm177.5 0h4.2v17.2h-4.2zm16.4 0h4.2v17.2h-4.2zm-672.2 16.9h4.3v17.2h-4.3zm76.3 0h4.3v17.2h-4.3zm96.3 0h4.3v17.2h-4.3zm217.1 0h4.3v17.2h-4.3zm92.7 0h4.3v17.2h-4.3zm-161 17h4.3v17.2h-4.3zm32.1 0h4.3v17.2h-4.3zm60.3 0h4.3v17.2h-4.3zm161.3 0h4.3v17.2h-4.3zm32.7 0h4.2v17.2h-4.2zm36 0h4.2v17.2h-4.2zm-314.4 16.9h4.3v17.2h-4.3zm148.9 0h4.3v17.2h-4.3zm40.3 0h4.3v17.2h-4.3zm117.2 0h4.2v17.2h-4.2zm-683.9 17h4.3v17.2h-4.3zm44.1 0h8.3v17.2h-8.3zm84.3 0h4.3v17.2h-4.3zm132.3 0h4.3v17.2h-4.3zm362.5 0h4.3v17.2h-4.3zm56.7 0h4.2v17.2h-4.2zm-635.8 16.9h4.3v17.2h-4.3zm8 0h4.3v17.2h-4.3zm32.3 0h4.3v17.2h-4.3zm12 0h4.3v17.2h-4.3zm12.3 0h4.2v17.2h-4.2zm116 0h4.3v17.2h-4.3zm92.4 0h4.3v17.2h-4.3zm306.1 0h4.3v17.2h-4.3zm88.7 0h4.2v17.2h-4.2zm24.4 0h4.2v17.2h-4.2zm-639.9 17h4.3v17.2h-4.3zm28 0h4.3v17.2h-4.3zm56.4 0h4.2v17.2h-4.2zm88 0h4.3v17.2h-4.3zm169 0h4.3v17.2h-4.3zm185.4 0h4.3v17.2h-4.3zm32.7 0h4.2v17.2h-4.2zm20 0h4.2v17.2h-4.2zm-696 17h4.3v17.2h-4.3zm68.2 0h4.3v17.2h-4.3zm-44.1 16.9h4.3v17.2h-4.3zm92.4 0h4.3v17.2h-4.3zm72.1 0h4.3v17.2h-4.3zm16.3 0h4.2v17.2h-4.2zm71.9 0h4.3v17.2h-4.3zm12.1 0h8.3v17.2h-8.3zm24.1 0h12.3v17.2h-12.3zm20.2 0h4.3v17.2h-4.3zm-333.2 16.9h4.3v17.2h-4.3zm16 0h4.3v17.2h-4.3zm12.1 0h4.3v17.2h-4.3zm12 0h4.3v17.2h-4.3zm20.1 0h8.3v17.2h-8.3zm486.3 0h4.3v17.2h-4.3zm-486.3 17h4.3v17.2h-4.3zm72.5 0h4.2v17.2h-4.2zm72.2 0h4.2v17.2h-4.2zm120.2 0h4.3v17.2h-4.3zm330.3 0h4.3v17.2h-4.3zm-607.3 16.9h4.3v17.2h-4.3zm60.4 0h4.3v17.2h-4.3zm172.3 0h4.3v17.2h-4.3zm362.5 0h4.3v17.2h-4.3zm105.1 0h4.2v17.2h-4.2zm-704.3 17h4.3v17.2h-4.3zm60.4 0h4.3v17.2h-4.3zm216.6 0h8.3v17.2h-8.3zm382.9 0h4.2v17.2h-4.2zm36.4 0h4.2v17.2h-4.2zm-668.2 16.9h4.3v17.2h-4.3zm474.3 0h4.3v17.2h-4.3zm76.6 0h4.3v17.2h-4.3zm52.9 0h4.2v17.2h-4.2zm24 0h4.2v17.2h-4.2zm32 0h4.2v17.2h-4.2zm16.4 0h4.2v17.2h-4.2zm8 0h4.2v17.2h-4.2zm-756.4 17h4.3v17.2h-4.3zm68.2 0h4.3v17.2h-4.3zm236.8 0h4.3v17.2h-4.3zm20.1 0h4.3v17.2h-4.3zm8.1 0h4.3v17.2h-4.3zm20.2 0h4.3v17.2h-4.3zm342.6 0h4.2v17.2h-4.2zm-671.9 17h4.3v17.2h-4.3zm56.3 0h4.3v17.2h-4.3zm24.1 0h8.3v17.2h-8.3zm104.4 0h4.2v17.2h-4.2zm7.9 0h4.2v17.2h-4.2zm8 0h4.2v17.2h-4.2zm28 0h4.3v17.2h-4.3zm80.4 0h4.3v17.2h-4.3zm24.3 0h4.3v17.2h-4.3zm326.5 0h4.2v17.2h-4.2zm12 0h4.2v17.2h-4.2zm28 0h4.2v17.2h-4.2zm20.4 0h4.2v17.2h-4.2zm35.9 0h4.2v17.2h-4.2zm16 0h4.2v17.2h-4.2zm-691.8 16.9h8.3v17.2h-8.3zm24.3 0h8.2v17.2h-8.2zm27.7 0h4.3v17.2h-4.3zm60.3 0h8.2v17.2h-8.2zm36 0h12.3v17.2h-12.3zm28 0h4.3v17.2h-4.3zm8.1 0h4.3v17.2h-4.3zm16.1 0h4.3v17.2h-4.3zm12 0h4.3v17.2h-4.3zm32.4 0h4.3v17.2h-4.3zm350.6 0h4.2v17.2h-4.2zm44.4 0h4.2v17.2h-4.2zm8 0h4.2v17.2h-4.2zm8 0h4.2v17.2h-4.2zm19.9 0h4.2v17.2h-4.2zm-780.3 16.9h4.3v17.2h-4.3zm28.1 0h4.3v17.2h-4.3zm8 0h4.3v17.2h-4.3zm8 0h4.3v17.2h-4.3zm24.1 0h4.3v17.2h-4.3zm12.2 0h4.3v17.2h-4.3zm76.1 0h4.3v17.2h-4.3zm20.1 0h4.3v17.2h-4.3zm24.3 0h4.2v17.2h-4.2zm35.8 0h4.3v17.2h-4.3zm28.2 0h4.3v17.2h-4.3zm24 0h4.3v17.2h-4.3zm20.1 0h4.3v17.2h-4.3zm56.5 0h4.3v17.2h-4.3zm326.5 0h8.2v17.2h-8.2zm36 0h4.2v17.2h-4.2zm28.4 0h4.2v17.2h-4.2zm8 0h4.2v17.2h-4.2zm7.9 0h12.2v17.2h-12.2zm-760.3 17h4.3v17.2h-4.3zm52.2 0h4.3v17.2h-4.3zm52.3 0h4.3v17.2h-4.3zm583.5 0h4.2v17.2h-4.2zm80.3 0h4.2v17.2h-4.2zm-764.3 16.9h4.3v17.2h-4.3zm100.5 0h4.3v17.2h-4.3zm84.4 0h4.2v17.2h-4.2zm8 0h4.2v17.2h-4.2zm96.1 0h4.3v17.2h-4.3zm20.1 0h4.3v17.2h-4.3zm406.9 0h4.2v17.2h-4.2zm-728 17h4.3v17.2h-4.3zm12 0h4.3v17.2h-4.3zm28.1 0h4.3v17.2h-4.3zm16.1 0h4.3v17.2h-4.3zm8 0h4.3v17.2h-4.3zm12.2 0h4.3v17.2h-4.3zm24.1 0h4.3v17.2h-4.3zm28.2 0h4.2v17.2h-4.2zm11.8 0h4.3v17.2h-4.3zm32.1 0h4.3v17.2h-4.3zm28.3 0h4.2v17.2h-4.2zm128.3 0h4.3v17.2h-4.3zm366.8 0h4.2v17.2h-4.2zm-696 16.9h4.3v17.2h-4.3zm12 0h4.3v17.2h-4.3zm12.1 0h4.3v17.2h-4.3zm12 0h8.3v17.2h-8.3zm12 0h4.3v17.2h-4.3zm20.1 0h4.3v17.2h-4.3zm12.2 0h4.3v17.2h-4.3zm84.1 0h4.3v17.2h-4.3zm16.1 0h4.3v17.2h-4.3zm8 0h4.3v17.2h-4.3zm12.3 0h4.2v17.2h-4.2zm15.9 0h4.2v17.2h-4.2zm48.2 0h4.3v17.2h-4.3zm19.9 0h4.3v17.2h-4.3zm36.2 0h4.3v17.2h-4.3zm358.9 0h4.2v17.2h-4.2zm12 0h12.2v17.2h-12.2zm36 0h4.2v17.2h-4.2zm32.4 0h4.2v17.2h-4.2zm15.9 0h4.2v17.2h-4.2zm-780.3 17h4.3v17.2h-4.3zm16 0h4.3v17.2h-4.3zm188.9 0h4.2v17.2h-4.2zm495.1 0h4.2v17.2h-4.2zm28 0h4.2v17.2h-4.2zm-707.9 16.9h4.3v17.2h-4.3zm8 0h4.3v17.2h-4.3zm28 0h8.3v17.2h-8.3zm36.3 0h4.3v17.2h-4.3zm36.4 0h4.2v17.2h-4.2zm27.7 0h4.3v17.2h-4.3zm8 0h4.3v17.2h-4.3zm12.1 0h4.3v17.2h-4.3zm104.2 0h4.3v17.2h-4.3zm451.2 0h4.2v17.2h-4.2zm40.3 0h4.2v17.2h-4.2zm-756.3 17h4.3v17.2h-4.3zm16.1 0h4.3v17.2h-4.3zm12 0h4.3v17.2h-4.3zm12 0h4.3v17.2h-4.3zm8.1 0h4.3v17.2h-4.3zm84.3 0h8.3v17.2h-8.3zm16 0h4.3v17.2h-4.3zm8.1 0h4.3v17.2h-4.3zm8 0h4.3v17.2h-4.3zm44.2 0h4.2v17.2h-4.2zm24 0h4.3v17.2h-4.3zm20.2 0h4.3v17.2h-4.3zm84.4 0h4.3v17.2h-4.3zm8.1 0h4.3v17.2h-4.3zm318.5 0h4.2v17.2h-4.2zm20 0h4.2v17.2h-4.2zm20 0h4.2v17.2h-4.2zm36.4 0h4.2v17.2h-4.2zm19.9 0h4.2v17.2h-4.2zm-354.6 16.9h4.3v17.2h-4.3zm165.1 0h4.3v17.2h-4.3zm89.2 0h4.2v17.2h-4.2zm24 0h4.2v17.2h-4.2zm24 0h4.2v17.2h-4.2zm32.4 0h4.2v17.2h-4.2zm8 0h12.2v17.2h-12.2zm15.9 0h12.2v17.2h-12.2zm-675.8 17h4.3v17.2h-4.3zm48 0h4.3v17.2h-4.3zm52.4 0h4.2v17.2h-4.2zm265 0h4.3v17.2h-4.3zm44.2 0h4.3v17.2h-4.3zm-381.4 16.9h4.2v17.2h-4.2zm148.1 0h4.3v17.2h-4.3zm177.1 0h4.3v17.2h-4.3zm185.4 0h4.3v17.2h-4.3zm-619.2 17h4.3v17.2h-4.3zm56.3 0h4.3v17.2h-4.3zm68.1 0h4.3v17.2h-4.3zm52.4 0h4.2v17.2h-4.2zm23.9 0h4.2v17.2h-4.2zm100.3 0h4.3v17.2h-4.3zm12.1 0h4.3v17.2h-4.3zm-313.1 16.9h4.3v17.2h-4.3zm8 0h4.3v17.2h-4.3zm8 0h4.3v17.2h-4.3zm12 0h4.3v17.2h-4.3zm80.6 0h4.2v17.2h-4.2zm35.8 0h4.3v17.2h-4.3zm24.1 0h4.3v17.2h-4.3zm12.3 0h4.2v17.2h-4.2zm27.8 0h4.3v17.2h-4.3zm8.1 0h4.3v17.2h-4.3zm8 0h4.3v17.2h-4.3zm36 0h8.3v17.2h-8.3zm68.6 0h4.3v17.2h-4.3zm172.8 0h4.3v17.2h-4.3zm-526.2 17h4.3v17.2h-4.3zm48.1 0h4.3v17.2h-4.3zm277 0h4.3v17.2h-4.3zm100.6 0h4.3v17.2h-4.3zm60.3 0h4.3v17.2h-4.3zm28.1 0h4.3v17.2h-4.3zm16.1 0h4.3v17.2h-4.3zm88.9 0h4.3v17.2h-4.3zm28.2 0h4.3v17.2h-4.3zm-498.8 16.9h4.3v17.2h-4.3zm176.6 0h4.3v17.2h-4.3zm-252.9 17h4.3v17.2h-4.3zm44.3 0h4.3v17.2h-4.3zm341.4 0h4.3v17.2h-4.3zm128.9 0h4.3v17.2h-4.3zm-478.3 16.9h4.3v17.2h-4.3zm216.6 0h4.3v17.2h-4.3zm189 0h4.3v17.2h-4.3zm44.5 0h4.3v17.2h-4.3zm28.2 0h4.3v17.2h-4.3zm20.2 0h4.3v17.2h-4.3zm8.1 0h4.3v17.2h-4.3zm8 0h4.3v17.2h-4.3zm-558.9 17h8.3v17.2h-8.3zm52.3 0h4.3v17.2h-4.3zm72.1 0h4.3v17.2h-4.3zm20.3 0h4.2v17.2h-4.2zm96.1 0h4.3v17.2h-4.3zm72.7 0h4.2v17.2h-4.2zm80.2 0h4.3v17.2h-4.3zm-120.7 17h4.3v17.2h-4.3zm-337.2 16.9h4.3v17.2h-4.3zm8 0h4.3v17.2h-4.3zm8 0h4.3v17.2h-4.3zm36.1 0h4.3v17.2h-4.3zm12.1 0h4.3v17.2h-4.3zm52.3 0h4.3v17.2h-4.3zm64.1 0h4.3v17.2h-4.3zm8 0h4.3v17.2h-4.3zm16.3 0h4.2v17.2h-4.2zm56 0h12.3v17.2h-12.3zm28 0h4.3v17.2h-4.3zm8 0h4.3v17.2h-4.3zm24.2 0h4.3v17.2h-4.3zm8 0h8.3v17.2h-8.3zm294 0h4.3v17.2h-4.3zm16.1 0h4.3v17.2h-4.3zm-591.1 16.9h4.3v17.2h-4.3zm116.4 0h4.3v17.2h-4.3zm84.3 0h4.3v17.2h-4.3zm56.2 0h4.3v17.2h-4.3zm16.1 0h8.3v17.2h-8.3zm225.4 0h4.3v17.2h-4.3z"/>
<path fill="#e3d0ff" d="M322.4 1868.1h4.3v17.2h-4.3zm72.6 0h4.3v17.2h-4.3zm8 0h8.3v17.2h-8.3zm20.1 0h4.3v17.2h-4.3zm20.1 0h4.3v17.2h-4.3zm20.1 0h4.3v17.2h-4.3zm28.1 0h8.3v17.2h-8.3zm24.1 0h4.3v17.2h-4.3zm32.4 0h4.3v17.2h-4.3zm24.2 0h4.3v17.2h-4.3zm40.3 0h8.3v17.2h-8.3zm16.1 0h4.3v17.2h-4.3zm32.3 0h4.3v17.2h-4.3zm32.6 0h12.2v17.2h-12.2zm64.4 0h4.2v17.2h-4.2zm-684.2 16.9h4.3v17.2h-4.3zm136.7 0h4.2v17.2h-4.2zm160.6 0h4.3v17.2h-4.3zm76.3 0h8.3v17.2h-8.3zm16.1 0h4.3v17.2h-4.3zm12 0h8.3v17.2h-8.3zm52.3 0h8.3v17.2h-8.3zm44.5 0h4.3v17.2h-4.3zm12 0h4.3v17.2h-4.3zm16.1 0h4.3v17.2h-4.3zm24.3 0h4.3v17.2h-4.3zm133.3 0h4.2v17.2h-4.2zm12 0h4.2v17.2h-4.2zm15.9 0h4.2v17.2h-4.2zm-422.8 17h4.3v17.2h-4.3zm257.6 0h4.3v17.2h-4.3zm96.9 0h4.2v17.2h-4.2zm68.3 0h4.2v17.2h-4.2zm-732.2 16.9h4.3v17.2h-4.3zm32.3 0h4.3v17.2h-4.3zm28.1 0h4.3v17.2h-4.3zm20.3 0h8.2v17.2h-8.2zm148 0h8.3v17.2h-8.3zm28.2 0h4.3v17.2h-4.3zm80.6 0h4.3v17.2h-4.3zm36.1 0h4.3v17.2h-4.3zm36.2 0h4.3v17.2h-4.3zm28.1 0h4.3v17.2h-4.3zm28.1 0h4.3v17.2h-4.3zm44.5 0h4.3v17.2h-4.3zm16.1 0h4.3v17.2h-4.3zm36.3 0h4.3v17.2h-4.3zm57 0h4.2v17.2h-4.2zm16 0h4.2v17.2h-4.2zm28 0h4.2v17.2h-4.2zm20 0h4.2v17.2h-4.2zm-716 17h4.3v17.2h-4.3zm260.8 0h4.3v17.2h-4.3zm28.2 0h8.3v17.2h-8.3zm96.6 0h4.3v17.2h-4.3zm20.1 0h4.3v17.2h-4.3zm16.1 0h4.3v17.2h-4.3zm8 0h8.3v17.2h-8.3zm28.2 0h4.3v17.2h-4.3zm52.2 0h4.3v17.2h-4.3zm88.9 0h4.3v17.2h-4.3zm64.9 0h4.2v17.2h-4.2zm12 0h4.2v17.2h-4.2zm32 0h4.2v17.2h-4.2zm24.4 0h4.2v17.2h-4.2zm16 0h4.2v17.2h-4.2zm19.9 0h4.2v17.2h-4.2zm-776.3 16.9h4.3v17.2h-4.3zm48.1 0h4.3v17.2h-4.3zm76.6 0h4.2v17.2h-4.2zm309.1 0h4.3v17.2h-4.3zm36.2 0h4.3v17.2h-4.3zm16 0h4.3v17.2h-4.3zm72.7 0h4.3v17.2h-4.3zm12 0h8.3v17.2h-8.3zm72.6 0h4.3v17.2h-4.3zm12.7 0h8.2v17.2h-8.2zm24 0h4.2v17.2h-4.2zm88.3 0h4.2v17.2h-4.2zm12 0h4.2v17.2h-4.2zm8 0h4.2v17.2h-4.2zm-796.3 17h4.3v17.2h-4.3zm8 0h8.3v17.2h-8.3zm12.1 0h8.3v17.2h-8.3zm28 0h4.3v17.2h-4.3zm48.3 0h4.3v17.2h-4.3zm8.1 0h4.3v17.2h-4.3zm285.1 0h4.3v17.2h-4.3zm24.1 0h4.3v17.2h-4.3zm48.2 0h4.3v17.2h-4.3zm92.7 0h4.3v17.2h-4.3zm56.4 0h8.3v17.2h-8.3zm20.2 0h4.3v17.2h-4.3zm12.1 0h4.3v17.2h-4.3zm32.7 0h4.2v17.2h-4.2zm12 0h4.2v17.2h-4.2zm52.4 0h4.2v17.2h-4.2zm8 0h4.2v17.2h-4.2zm-680.2 17h4.3v17.2h-4.3zm12.2 0h4.3v17.2h-4.3zm337.3 0h4.3v17.2h-4.3zm40.2 0h4.3v17.2h-4.3zm290.5 0h4.2v17.2h-4.2zm-728.3 16.9h4.3v17.2h-4.3zm48.1 0h4.3v17.2h-4.3zm252.9 0h8.3v17.2h-8.3zm80.5 0h4.3v17.2h-4.3zm12.1 0h4.3v17.2h-4.3zm8 0h4.3v17.2h-4.3zm36.2 0h4.3v17.2h-4.3zm72.3 0h4.3v17.2h-4.3zm8.3 0h4.3v17.2h-4.3zm12.1 0h4.3v17.2h-4.3zm8 0h4.3v17.2h-4.3zm52.4 0h4.3v17.2h-4.3zm44.4 0h4.3v17.2h-4.3zm36.6 0h4.2v17.2h-4.2zm40 0h4.2v17.2h-4.2zm8.4 0h4.2v17.2h-4.2zm47.9 0h4.2v17.2h-4.2zm-366.6 16.9h4.3v17.2h-4.3zm24.1 0h4.3v17.2h-4.3zm100.7 0h4.3v17.2h-4.3zm96.8 0h4.3v17.2h-4.3zm12.1 0h4.3v17.2h-4.3zm48.6 0h4.2v17.2h-4.2zm52.4 0h4.2v17.2h-4.2zm-370.8 17h4.3v17.2h-4.3zm32.1 0h4.3v17.2h-4.3zm8 0h4.3v17.2h-4.3zm44.2 0h8.3v17.2h-8.3zm16.1 0h4.3v17.2h-4.3zm56.5 0h4.3v17.2h-4.3zm68.5 0h4.3v17.2h-4.3zm65 0h4.2v17.2h-4.2zm20 0h4.2v17.2h-4.2zm52.4 0h4.2v17.2h-4.2zm8 0h4.2v17.2h-4.2zm-688.2 16.9h4.3v17.2h-4.3zm401.7 0h4.3v17.2h-4.3zm116.9 0h4.3v17.2h-4.3zm77.2 0h4.2v17.2h-4.2zm40 0h4.2v17.2h-4.2zm44.4 0h4.2v17.2h-4.2zm31.9 0h8.2v17.2h-8.2zm-732.2 17h4.3v17.2h-4.3zm68.4 0h4.3v17.2h-4.3zm329.3 0h4.3v17.2h-4.3zm16.1 0h4.3v17.2h-4.3zm8 0h4.3v17.2h-4.3zm68.6 0h4.3v17.2h-4.3zm16.1 0h4.3v17.2h-4.3zm64.5 0h4.3v17.2h-4.3zm24.2 0h4.3v17.2h-4.3zm32.7 0h4.2v17.2h-4.2zm104.3 0h4.2v17.2h-4.2zm-732.2 16.9h4.3v17.2h-4.3zm32.3 0h4.3v17.2h-4.3zm24.1 0h4.3v17.2h-4.3zm144.3 0h4.3v17.2h-4.3zm148.8 0h4.3v17.2h-4.3zm24.1 0h4.3v17.2h-4.3zm124.8 0h4.3v17.2h-4.3zm96.8 0h4.3v17.2h-4.3zm84.7 0h4.2v17.2h-4.2zm12.4 0h4.2v17.2h-4.2zm31.9 0h4.2v17.2h-4.2zm8 0h4.2v17.2h-4.2zm-772.3 17h4.3v17.2h-4.3zm429.8 0h4.3v17.2h-4.3zm32.1 0h4.3v17.2h-4.3zm56.3 0h4.3v17.2h-4.3zm28.4 0h4.3v17.2h-4.3zm113.4 0h4.2v17.2h-4.2zm12 0h4.2v17.2h-4.2zm92.3 0h4.2v17.2h-4.2zm-724.2 16.9h4.3v17.2h-4.3zm478.1 0h4.3v17.2h-4.3zm32.4 0h4.3v17.2h-4.3zm36.2 0h4.3v17.2h-4.3zm12.2 0h20.4v17.2h-20.4zm40.3 0h4.3v17.2h-4.3zm-635.3 17h4.3v17.2h-4.3zm36.1 0h4.3v17.2h-4.3zm24.1 0h4.3v17.2h-4.3zm108.4 0h4.3v17.2h-4.3zm8 0h4.3v17.2h-4.3zm16.3 0h4.2v17.2h-4.2zm15.9 0h4.2v17.2h-4.2zm11.9 0h4.3v17.2h-4.3zm120.7 0h4.3v17.2h-4.3zm338.6 0h4.2v17.2h-4.2zm32 0h4.2v17.2h-4.2zm16.4 0h4.2v17.2h-4.2zm8 0h4.2v17.2h-4.2zm-740.4 16.9h4.3v17.2h-4.3zm36.1 0h4.3v17.2h-4.3zm144.5 0h4.3v17.2h-4.3zm20.3 0h4.2v17.2h-4.2zm71.9 0h4.3v17.2h-4.3zm16.1 0h4.3v17.2h-4.3zm36.3 0h4.3v17.2h-4.3zm221.4 0h4.3v17.2h-4.3zm56.4 0h4.3v17.2h-4.3zm8.1 0h4.3v17.2h-4.3zm20.1 0h4.3v17.2h-4.3zm56.8 0h8.2v17.2h-8.2zm16 0h4.2v17.2h-4.2zm68.3 0h4.2v17.2h-4.2zm-675.8 17h4.3v17.2h-4.3zm76.1 0h4.3v17.2h-4.3zm28.3 0h4.2v17.2h-4.2zm15.9 0h4.2v17.2h-4.2zm20 0h4.3v17.2h-4.3zm36 0h4.3v17.2h-4.3zm24.2 0h4.3v17.2h-4.3zm16.1 0h4.3v17.2h-4.3zm16.1 0h4.3v17.2h-4.3zm24.3 0h4.3v17.2h-4.3zm249.5 0h4.3v17.2h-4.3zm89 0h4.2v17.2h-4.2zm32 0h4.2v17.2h-4.2zm16.4 0h4.2v17.2h-4.2zm8 0h4.2v17.2h-4.2zm27.9 0h4.2v17.2h-4.2zm-756.2 17h4.3v17.2h-4.3zm80.4 0h4.3v17.2h-4.3zm96.4 0h4.2v17.2h-4.2zm60 0h4.3v17.2h-4.3zm56.2 0h4.3v17.2h-4.3zm12.1 0h4.3v17.2h-4.3zm12.2 0h4.3v17.2h-4.3zm193.1 0h4.3v17.2h-4.3zm28.2 0h4.3v17.2h-4.3zm52.4 0h4.3v17.2h-4.3zm60.9 0h4.2v17.2h-4.2zm12 0h4.2v17.2h-4.2zm20 0h4.2v17.2h-4.2zm-611.6 16.9h4.3v17.2h-4.3zm8.1 0h4.3v17.2h-4.3zm144.3 0h4.3v17.2h-4.3zm96.6 0h4.3v17.2h-4.3zm8.1 0h4.3v17.2h-4.3zm-321.4 16.9h4.3v17.2h-4.3zm44.3 0h4.3v17.2h-4.3zm48.4 0h8.2v17.2h-8.2zm208.4 0h4.3v17.2h-4.3zm120.7 0h4.3v17.2h-4.3zm60.2 0h8.3v17.2h-8.3zm36.5 0h4.3v17.2h-4.3zm44.3 0h4.3v17.2h-4.3zm97.1 0h4.2v17.2h-4.2zm52.4 0h4.2v17.2h-4.2zm-643.9 17h4.3v17.2h-4.3zm40 0h4.3v17.2h-4.3zm44.1 0h4.3v17.2h-4.3zm28.2 0h4.2v17.2h-4.2zm88.2 0h4.3v17.2h-4.3zm16.1 0h4.3v17.2h-4.3zm225.4 0h4.3v17.2h-4.3zm68.6 0h4.3v17.2h-4.3zm28.2 0h4.3v17.2h-4.3zm52.7 0h4.2v17.2h-4.2zm16 0h4.2v17.2h-4.2zm68.3 0h4.2v17.2h-4.2zm8 0h4.2v17.2h-4.2zm-776.3 16.9h4.3v17.2h-4.3zm28.1 0h4.3v17.2h-4.3zm24.1 0h4.3v17.2h-4.3zm28.2 0h4.3v17.2h-4.3zm36.4 0h4.2v17.2h-4.2zm160.1 0h4.3v17.2h-4.3zm20.1 0h4.3v17.2h-4.3zm16.1 0h4.3v17.2h-4.3zm28.3 0h4.3v17.2h-4.3zm261.7 0h4.3v17.2h-4.3zm8 0h4.3v17.2h-4.3zm16.1 0h4.3v17.2h-4.3zm56.8 0h12.2v17.2h-12.2zm32 0h4.2v17.2h-4.2zm12.4 0h4.2v17.2h-4.2zm16 0h4.2v17.2h-4.2zm23.9 0h4.2v17.2h-4.2zm16 0h4.2v17.2h-4.2zm-756.2 17h4.3v17.2h-4.3zm8 0h4.3v17.2h-4.3zm20.1 0h8.3v17.2h-8.3zm24.2 0h4.3v17.2h-4.3zm112.5 0h4.2v17.2h-4.2zm39.9 0h4.3v17.2h-4.3zm32 0h4.3v17.2h-4.3zm28.2 0h4.3v17.2h-4.3zm32.2 0h4.3v17.2h-4.3zm36.5 0h4.2v17.2h-4.2zm290.3 0h4.2v17.2h-4.2zm84.4 0h8.2v17.2h-8.2zm31.9 0h4.2v17.2h-4.2zm-732.2 16.9h4.3v17.2h-4.3zm32.3 0h4.3v17.2h-4.3zm64.1 0h4.3v17.2h-4.3zm192.7 0h4.3v17.2h-4.3zm205.3 0h4.3v17.2h-4.3zm28.2 0h4.3v17.2h-4.3zm40.3 0h4.3v17.2h-4.3zm32.3 0h4.3v17.2h-4.3zm84.7 0h4.2v17.2h-4.2zm12.4 0h4.2v17.2h-4.2zm12 0h4.2v17.2h-4.2zm-740.4 17h4.3v17.2h-4.3zm52.2 0h4.3v17.2h-4.3zm28.2 0h4.3v17.2h-4.3zm24.1 0h4.3v17.2h-4.3zm228.9 0h8.3v17.2h-8.3zm68.3 0h4.3v17.2h-4.3zm286.3 0h4.2v17.2h-4.2zm-603.6 17h4.3v17.2h-4.3zm116.5 0h4.2v17.2h-4.2zm67.9 0h4.3v17.2h-4.3zm12.1 0h4.3v17.2h-4.3zm395.1 0h4.2v17.2h-4.2zm100.3 0h4.2v17.2h-4.2zm-764.2 16.9h4.3v17.2h-4.3zm60.3 0h4.3v17.2h-4.3zm8 0h4.3v17.2h-4.3zm8 0h4.3v17.2h-4.3zm192.5 0h4.3v17.2h-4.3zm40.3 0h4.3v17.2h-4.3zm338.8 0h4.2v17.2h-4.2zm12 0h4.2v17.2h-4.2zm12 0h4.2v17.2h-4.2zm28 0h4.2v17.2h-4.2zm40.4 0h4.2v17.2h-4.2zm11.9 0h4.2v17.2h-4.2zm8 0h4.2v17.2h-4.2zm-780.3 16.9h4.3v17.2h-4.3zm28.1 0h4.3v17.2h-4.3zm8 0h4.3v17.2h-4.3zm12 0h8.3v17.2h-8.3zm80.6 0h8.2v17.2h-8.2zm31.8 0h4.3v17.2h-4.3zm16.1 0h4.3v17.2h-4.3zm36.2 0h4.2v17.2h-4.2zm8 0h4.2v17.2h-4.2zm44.2 0h4.3v17.2h-4.3zm15.8 0h4.3v17.2h-4.3zm32.2 0h4.3v17.2h-4.3zm16.2 0h4.3v17.2h-4.3zm64.4 0h4.3v17.2h-4.3zm266.4 0h4.2v17.2h-4.2zm16 0h4.2v17.2h-4.2zm36 0h4.2v17.2h-4.2zm36.4 0h4.2v17.2h-4.2zm-744.4 17h4.3v17.2h-4.3zm60.2 0h4.3v17.2h-4.3zm148.6 0h4.2v17.2h-4.2zm8 0h4.2v17.2h-4.2zm56 0h4.3v17.2h-4.3zm28.2 0h4.3v17.2h-4.3zm8 0h4.3v17.2h-4.3zm20.2 0h4.3v17.2h-4.3zm52.4 0h4.3v17.2h-4.3zm28.1 0h4.3v17.2h-4.3zm128.8 0h4.3v17.2h-4.3zm68.6 0h4.3v17.2h-4.3zm28.2 0h4.3v17.2h-4.3zm20.7 0h8.2v17.2h-8.2zm12 0h4.2v17.2h-4.2zm68.4 0h4.2v17.2h-4.2zm12 0h4.2v17.2h-4.2zm-688.2 16.9h4.3v17.2h-4.3zm76.3 0h8.3v17.2h-8.3zm44.1 0h4.3v17.2h-4.3zm80.4 0h4.3v17.2h-4.3zm7.8 0h8.3v17.2h-8.3zm68.6 0h4.3v17.2h-4.3zm52.2 0h4.3v17.2h-4.3zm16.1 0h4.3v17.2h-4.3zm24.1 0h4.3v17.2h-4.3zm12 0h4.3v17.2h-4.3zm137 0h4.3v17.2h-4.3zm28.3 0h4.3v17.2h-4.3zm96.9 0h4.2v17.2h-4.2zm36.4 0h4.2v17.2h-4.2zm8 0h4.2v17.2h-4.2zm23.9 0h8.2v17.2h-8.2zm-679.9 17h4.3v17.2h-4.3zm12.1 0h4.3v17.2h-4.3zm12.3 0h4.2v17.2h-4.2zm31.7 0h4.3v17.2h-4.3zm12 0h4.3v17.2h-4.3zm52.3 0h4.2v17.2h-4.2zm15.9 0h4.3v17.2h-4.3zm48.1 0h4.3v17.2h-4.3zm80.7 0h4.3v17.2h-4.3zm310.5 0h4.2v17.2h-4.2zm56 0h4.2v17.2h-4.2zm28.4 0h4.2v17.2h-4.2zm23.9 0h4.2v17.2h-4.2zm-784.3 16.9h4.3v17.2h-4.3zm36.1 0h4.3v17.2h-4.3zm20 0h4.3v17.2h-4.3zm40.3 0h4.3v17.2h-4.3zm8.1 0h4.3v17.2h-4.3zm20.3 0h4.2v17.2h-4.2zm31.7 0h4.3v17.2h-4.3zm52.4 0h4.2v17.2h-4.2zm27.8 0h4.3v17.2h-4.3zm16.1 0h16.4v17.2h-16.4zm24 0h4.3v17.2h-4.3zm68.6 0h4.3v17.2h-4.3zm12.1 0h4.3v17.2h-4.3zm64.2 0h4.3v17.2h-4.3zm242.3 0h4.2v17.2h-4.2zm8 0h4.2v17.2h-4.2zm48 0h4.2v17.2h-4.2zm24.4 0h4.2v17.2h-4.2zm-732.4 17h4.3v17.2h-4.3zm32.1 0h4.3v17.2h-4.3zm36.3 0h4.3v17.2h-4.3zm120.5 0h4.2v17.2h-4.2zm15.9 0h4.2v17.2h-4.2zm24 0h4.3v17.2h-4.3zm64.2 0h4.3v17.2h-4.3zm52.5 0h4.3v17.2h-4.3zm310.5 0h4.2v17.2h-4.2zm24 0h8.2v17.2h-8.2zm40 0h4.2v17.2h-4.2zm-728 16.9h4.3v17.2h-4.3zm8 0h4.3v17.2h-4.3zm24.1 0h4.3v17.2h-4.3zm44.3 0h4.3v17.2h-4.3zm64.1 0h8.3v17.2h-8.3zm48.1 0h4.3v17.2h-4.3zm32.2 0h4.2v17.2h-4.2zm36.1 0h4.3v17.2h-4.3zm23.9 0h4.3v17.2h-4.3zm64.6 0h4.3v17.2h-4.3zm346.6 0h4.2v17.2h-4.2zm56.4 0h4.2v17.2h-4.2zm12 0h4.2v17.2h-4.2zm31.9 0h4.2v17.2h-4.2zm-776.2 17h4.3v17.2h-4.3zm92.4 0h8.3v17.2h-8.3zm72.1 0h4.3v17.2h-4.3zm52.1 0h4.3v17.2h-4.3zm16.1 0h4.3v17.2h-4.3zm8.1 0h8.3v17.2h-8.3zm72.3 0h4.3v17.2h-4.3zm16.2 0h4.3v17.2h-4.3zm318.6 0h4.2v17.2h-4.2zm56 0h4.2v17.2h-4.2zm20.4 0h4.2v17.2h-4.2zm8 0h4.2v17.2h-4.2zm27.9 0h4.2v17.2h-4.2zm-764.3 16.9h4.3v17.2h-4.3zm32.1 0h4.3v17.2h-4.3zm16.1 0h4.3v17.2h-4.3zm321.4 0h4.3v17.2h-4.3zm298.4 0h12.2v17.2h-12.2zm56.4 0h8.2v17.2h-8.2zm20 0h4.2v17.2h-4.2zm15.9 0h4.2v17.2h-4.2zm-651.5 17h4.2v17.2h-4.2zm128 0h4.3v17.2h-4.3zm40.1 0h4.3v17.2h-4.3zm36.2 0h4.3v17.2h-4.3zm20.3 0h4.3v17.2h-4.3zm16.1 0h4.3v17.2h-4.3zm72.3 0h4.3v17.2h-4.3zm44.2 0h4.3v17.2h-4.3zm44.2 0h4.3v17.2h-4.3zm48.5 0h4.3v17.2h-4.3zm48.4 0h4.3v17.2h-4.3zm-607.1 16.9h4.3v17.2h-4.3zm20.1 0h4.3v17.2h-4.3zm48.3 0h4.3v17.2h-4.3zm60.1 0h4.3v17.2h-4.3zm12 0h4.3v17.2h-4.3zm12 0h4.3v17.2h-4.3zm24.1 0h4.3v17.2h-4.3zm8.3 0h8.2v17.2h-8.2zm23.9 0h4.2v17.2h-4.2zm64.1 0h4.3v17.2h-4.3zm16.1 0h4.3v17.2h-4.3zm177 0h8.3v17.2h-8.3zm32.1 0h4.3v17.2h-4.3zm96.9 0h8.3v17.2h-8.3zm12.1 0h4.3v17.2h-4.3zm157.2 0h4.2v17.2h-4.2zm-724.2 17h4.3v17.2h-4.3zm36.3 0h4.3v17.2h-4.3zm24.1 0h4.3v17.2h-4.3zm12.3 0h8.2v17.2h-8.2zm15.7 0h4.3v17.2h-4.3zm68.4 0h4.2v17.2h-4.2zm329.6 0h4.3v17.2h-4.3zm44.3 0h4.3v17.2h-4.3zm28.3 0h4.3v17.2h-4.3zm-490.3 16.9h4.2v17.2h-4.2zm39.7 0h4.3v17.2h-4.3zm8.1 0h4.3v17.2h-4.3zm40.3 0h4.2v17.2h-4.2zm39.9 0h4.3v17.2h-4.3zm8.1 0h4.3v17.2h-4.3zm36 0h4.3v17.2h-4.3zm32.2 0h4.3v17.2h-4.3zm68.5 0h4.3v17.2h-4.3zm40.2 0h4.3v17.2h-4.3zm181.3 0h4.3v17.2h-4.3zm-615.1 17h4.3v17.2h-4.3zm12 0h8.3v17.2h-8.3zm52.2 0h4.3v17.2h-4.3zm24.2 0h4.3v17.2h-4.3zm84.2 0h4.3v17.2h-4.3zm104.2 0h4.3v17.2h-4.3zm76.7 0h4.3v17.2h-4.3zm76.2 0h4.3v17.2h-4.3zm12.1 0h4.3v17.2h-4.3zm16.1 0h8.3v17.2h-8.3zm80.6 0h4.3v17.2h-4.3zm16.1 0h4.3v17.2h-4.3zm36.2 0h4.3v17.2h-4.3zm36.4 0h4.3v17.2h-4.3zm8 0h4.3v17.2h-4.3zm-631.2 16.9h4.3v17.2h-4.3zm60.2 0h4.3v17.2h-4.3zm12.2 0h8.3v17.2h-8.3zm24.1 0h4.3v17.2h-4.3zm76.1 0h4.3v17.2h-4.3zm20.3 0h4.2v17.2h-4.2zm23.9 0h4.2v17.2h-4.2zm7.9 0h4.3v17.2h-4.3zm100.5 0h4.3v17.2h-4.3zm189 0h4.3v17.2h-4.3zm-441.8 17h4.3v17.2h-4.3zm108.2 0h4.3v17.2h-4.3zm56.2 0h4.3v17.2h-4.3zm36 0h4.3v17.2h-4.3zm185.1 0h8.3v17.2h-8.3zm20.1 0h4.3v17.2h-4.3zm24.1 0h4.3v17.2h-4.3zm8 0h4.3v17.2h-4.3zm8.1 0h4.3v17.2h-4.3zm-514.2 16.9h4.3v17.2h-4.3zm20.1 0h4.3v17.2h-4.3zm24 0h4.3v17.2h-4.3zm8.1 0h4.3v17.2h-4.3zm16.2 0h4.3v17.2h-4.3zm128.5 0h4.2v17.2h-4.2zm31.9 0h4.3v17.2h-4.3zm24.1 0h4.3v17.2h-4.3zm40.1 0h8.3v17.2h-8.3zm56.5 0h4.3v17.2h-4.3zm32.1 0h4.3v17.2h-4.3zm24.1 0h4.3v17.2h-4.3zm40.2 0h4.3v17.2h-4.3zm52.2 0h4.3v17.2h-4.3zm40.5 0h4.3v17.2h-4.3zm20.1 0h4.3v17.2h-4.3zm20.1 0h4.3v17.2h-4.3zm28.3 0h4.3v17.2h-4.3zm8.1 0h4.3v17.2h-4.3zm24.1 0h4.3v17.2h-4.3zm-651.3 17h4.3v17.2h-4.3zm16 0h4.3v17.2h-4.3zm76.4 0h4.3v17.2h-4.3zm56.1 0h4.3v17.2h-4.3zm92.3 0h4.3v17.2h-4.3zm8 0h4.3v17.2h-4.3zm16.1 0h4.3v17.2h-4.3zm168.8 0h4.3v17.2h-4.3zm56.3 0h4.3v17.2h-4.3zm24.1 0h4.3v17.2h-4.3zm36.5 0h4.3v17.2h-4.3zm-466.2 17h4.3v17.2h-4.3zm20.1 0h4.3v17.2h-4.3zm313.2 0h4.3v17.2h-4.3zm40.2 0h4.3v17.2h-4.3zm12 0h4.3v17.2h-4.3zm92.7 0h4.3v17.2h-4.3zm32.2 0h4.3v17.2h-4.3zm-510.4 16.9h4.3v17.2h-4.3zm72.1 0h4.3v17.2h-4.3zm28.1 0h4.3v17.2h-4.3zm56.2 0h4.3v17.2h-4.3zm12 0h4.3v17.2h-4.3zm92.6 0h4.3v17.2h-4.3zm12.1 0h4.3v17.2h-4.3zm289.8 0h8.3v17.2h-8.3zm-639.3 16.9h4.3v17.2h-4.3zm8 0h4.3v17.2h-4.3zm48.2 0h4.3v17.2h-4.3zm44.3 0h4.3v17.2h-4.3zm8 0h4.3v17.2h-4.3zm28 0h4.3v17.2h-4.3zm8 0h4.3v17.2h-4.3zm40.1 0h4.3v17.2h-4.3zm16.3 0h4.2v17.2h-4.2zm23.8 0h4.3v17.2h-4.3zm48.1 0h4.3v17.2h-4.3zm28.2 0h4.3v17.2h-4.3zm8 0h4.3v17.2h-4.3zm20.2 0h4.3v17.2h-4.3zm76.5 0h4.3v17.2h-4.3z"/>
<path fill="#aa80ff" d="M17.4 1902h4.3v17.2h-4.3zm8.1 0h4.3v17.2h-4.3zm397.6 50.8h4.3v17.2h-4.3zm64.3 0h4.3v17.2h-4.3zm230 0h4.2v17.2h-4.2zm64.3 118.7h4.2v17.2h-4.2zm-100.3 16.9h4.2v17.2h-4.2zm-660 33.9h4.3v17.2h-4.3zm-16 84.8h4.3v17.2h-4.3zm12 0h8.3v17.2h-8.3zm36.1 0h4.3v17.2h-4.3zm8 0h4.3v17.2h-4.3zm16.1 0h4.3v17.2h-4.3zm72.3 0h8.3v17.2h-8.3zm96.3 0h4.3v17.2h-4.3zm88.3 84.7h4.3v17.2h-4.3zm-309 17h4.3v17.2h-4.3zm-12.1 17h4.3v17.2h-4.3zm28.1 0h4.3v17.2h-4.3zm12 0h4.3v17.2h-4.3zm8 0h4.3v17.2h-4.3zm72.7 0h4.2v17.2h-4.2zm19.7 0h4.3v17.2h-4.3zm40.1 0h4.3v17.2h-4.3zm52.2 0h4.3v17.2h-4.3zm68.2 0h4.3v17.2h-4.3zm36.4 0h4.3v17.2h-4.3zm-333.4 16.9h4.3v17.2h-4.3zm40.1 0h4.3v17.2h-4.3zm8.1 0h4.3v17.2h-4.3zm8 0h4.3v17.2h-4.3zm48.3 0h4.3v17.2h-4.3zm72.1 0h4.3v17.2h-4.3zm148.6 0h4.3v17.2h-4.3zm-329.2 16.9h4.3v17.2h-4.3zm272.8 0h4.3v17.2h-4.3zm-36 101.7h4.3v17.2h-4.3zm-244.8 17h4.3v17.2h-4.3zm0 33.9h4.3v17.2h-4.3zm20.1 0h4.3v17.2h-4.3zm48.1 0h8.3v17.2h-8.3zm48.3 0h4.3v17.2h-4.3zm124.3 0h4.3v17.2h-4.3zm-180.6 16.9h4.3v17.2h-4.3zm-28.1 17h4.3v17.2h-4.3zm341.6 16.9h4.2v17.2h-4.2zm-361.7 33.9h4.3v17.2h-4.3zm429.8 33.9h4.3v17.2h-4.3zm104.7 0h4.3v17.2h-4.3zm96.8 0h4.3v17.2h-4.3zm-619.2 50.9h4.3v17.2h-4.3zm44.1 0h4.3v17.2h-4.3z"/>
<path fill="#ff3e22" d="M282.2 1868.1h4.3v17.2h-4.3zm28.2 0h4.3v17.2h-4.3zm-276.9 33.9h4.3v17.2h-4.3zm385.6 0h4.3v17.2h-4.3zm-249.2 16.9h4.3v17.2h-4.3zm184.9 0h4.3v17.2h-4.3zm40.2 0h4.3v17.2h-4.3zm-245.1 17h12.3v17.2h-12.3zm20 0h8.3v17.2h-8.3zm72.2 0h4.3v17.2h-4.3zm-48.1 16.9h4.3v17.2h-4.3zm128.4 0h4.3v17.2h-4.3zm36.4 0h4.3v17.2h-4.3zm-136.6 34h4.2v17.2h-4.2zm44.1 0h4.3v17.2h-4.3zm72.3 0h4.3v17.2h-4.3zm20.2 0h4.3v17.2h-4.3zm-204.9 16.9h8.3v17.2h-8.3zm12 0h4.3v17.2h-4.3zm40.4 0h4.2v17.2h-4.2zm64 0h4.3v17.2h-4.3zm84.5 0h4.3v17.2h-4.3zm-156.8 16.9h4.3v17.2h-4.3zm-44.1 17h4.3v17.2h-4.3zm209 0h4.3v17.2h-4.3zm-12.1 16.9h4.3v17.2h-4.3zm-56.5 17h4.3v17.2h-4.3zm8 16.9h4.3v17.2h-4.3zm8.1 17h4.3v17.2h-4.3zm16.1 0h4.3v17.2h-4.3zm28.3 0h4.3v17.2h-4.3zm-160.8 16.9h4.3v17.2h-4.3zm92.2 0h4.3v17.2h-4.3zm44.3 0h4.3v17.2h-4.3zm8.1 0h4.3v17.2h-4.3zm88.5 17h4.3v17.2h-4.3zm56.3 0h4.3v17.2h-4.3zm48.2 0h4.3v17.2h-4.3zm-261.3 33.9h4.3v17.2h-4.3zm124.7 17h4.3v17.2h-4.3zm36.1 0h4.3v17.2h-4.3zm-8 16.9h4.3v17.2h-4.3zm12 0h4.3v17.2h-4.3zm48.3 0h4.3v17.2h-4.3zm32.1 0h4.3v17.2h-4.3zm36.4 0h4.3v17.2h-4.3zm44.3 0h4.3v17.2h-4.3zm73.2 0h4.2v17.2h-4.2zm52 0h8.2v17.2h-8.2zm-459.1 16.9h4.3v17.2h-4.3zm136.7 0h4.3v17.2h-4.3zm-277.1 33.9h4.3v17.2h-4.3zm281.1 0h4.3v17.2h-4.3zm12.1 0h4.3v17.2h-4.3zm241.6 17h4.3v17.2h-4.3zm-201.5 16.9h4.3v17.2h-4.3zm128.9 0h4.3v17.2h-4.3zm-498.3 17h4.3v17.2h-4.3zm449.8 0h4.3v17.2h-4.3zm-217.2 17h4.3v17.2h-4.3zm84.6 0h4.3v17.2h-4.3zm72.3 0h4.3v17.2h-4.3zm104.8 0h4.3v17.2h-4.3zm-92.7 16.9h4.3v17.2h-4.3zm64.5 0h4.3v17.2h-4.3zm48.3 0h4.3v17.2h-4.3zm56.5 16.9h4.3v17.2h-4.3zm-193.4 17h4.3v17.2h-4.3zm52.2 16.9h4.3v17.2h-4.3zm28.4 17h4.3v17.2h-4.3zm0 16.9h4.3v17.2h-4.3zm56.3 0h4.3v17.2h-4.3zm-32.2 17h4.3v17.2h-4.3zm12.1 0h4.3v17.2h-4.3zm-68.6 16.9h4.3v17.2h-4.3zm88.7 0h4.3v17.2h-4.3zm52.5 0h8.3v17.2h-8.3zm-161.3 17h4.3v17.2h-4.3zm112.9 0h4.3v17.2h-4.3zm121.1 16.9h4.2v17.2h-4.2zm-318.4 17h4.3v17.2h-4.3zm32.1 33.9h4.3v17.2h-4.3zm-245.1 16.9h4.3v17.2h-4.3zm144.6 17h4.3v17.2h-4.3zm249.6 0h4.3v17.2h-4.3zm109.2 0h4.2v17.2h-4.2zm40 0h4.2v17.2h-4.2zm-346.4 16.9h4.3v17.2h-4.3zm334.4 0h4.2v17.2h-4.2zm-551.5 50.9h4.3v17.2h-4.3zm499.5 17h4.2v17.2h-4.2zm40 0h4.2v17.2h-4.2zm8 0h4.2v17.2h-4.2zm-234 16.9h4.3v17.2h-4.3zm206 0h4.2v17.2h-4.2zm76.4 0h4.2v17.2h-4.2zm-80.4 16.9h4.2v17.2h-4.2zm20 0h4.2v17.2h-4.2z"/>
<path fill="#ff2913" d="M69.6 1902h4.3v17.2h-4.3zm20.2 0h4.3v17.2h-4.3zm32.1 0h4.3v17.2h-4.3zm575.5 0h4.2v17.2h-4.2zm-515.4 16.9h8.3v17.2h-8.3zm68.2 0h4.3v17.2h-4.3zm120.7 0h4.3v17.2h-4.3zm36.1 0h4.3v17.2h-4.3zm-225 17h4.3v17.2h-4.3zm40.2 0h4.2v17.2h-4.2zm148.7 0h4.3v17.2h-4.3zm-213 16.9h4.3v17.2h-4.3zm12 0h12.3v17.2h-12.3zm60.3 0h4.2v17.2h-4.2zm64.1 17h4.3v17.2h-4.3zm12.1 0h4.3v17.2h-4.3zm20.1 0h8.3v17.2h-8.3zm-140.5 17h4.3v17.2h-4.3zm168.8 0h4.3v17.2h-4.3zm8.1 0h4.3v17.2h-4.3zm-193 16.9h4.3v17.2h-4.3zm60.3 0h4.2v17.2h-4.2zm16 0h4.3v17.2h-4.3zm16.1 0h4.3v17.2h-4.3zm-96.4 16.9h4.3v17.2h-4.3zm8 0h4.3v17.2h-4.3zm8.1 0h4.3v17.2h-4.3zm8 0h4.3v17.2h-4.3zm36.2 0h4.2v17.2h-4.2zm32 0h4.3v17.2h-4.3zm76.3 0h4.3v17.2h-4.3zm-184.6 17h4.3v17.2h-4.3zm32.1 0h4.3v17.2h-4.3zm24.3 0h4.2v17.2h-4.2zm19.9 0h4.2v17.2h-4.2zm11.9 0h4.3v17.2h-4.3zm120.7 0h4.3v17.2h-4.3zm-148.5 16.9h4.2v17.2h-4.2zm112.1 0h4.3v17.2h-4.3zm20.2 17h4.3v17.2h-4.3zm28.3 0h4.3v17.2h-4.3zm362.5 0h4.2v17.2h-4.2zm-575.5 33.9h4.3v17.2h-4.3zm140.4 0h4.3v17.2h-4.3zm16.1 0h4.3v17.2h-4.3zm8 16.9h4.3v17.2h-4.3zm144.9 17h4.3v17.2h-4.3zm-60.3 16.9h4.3v17.2h-4.3zm16.1 0h4.3v17.2h-4.3zm-28.1 17h4.3v17.2h-4.3zm68.3 33.9h4.3v17.2h-4.3zm40.2 0h4.3v17.2h-4.3zm169.9 0h4.2v17.2h-4.2zm56 0h4.2v17.2h-4.2zm-716 33.9h4.3v17.2h-4.3zm494.1 0h4.3v17.2h-4.3zm-76.4 16.9h4.3v17.2h-4.3zm16.1 17h4.3v17.2h-4.3zm-184.9 16.9h4.3v17.2h-4.3zm128.7 0h4.3v17.2h-4.3zm28.1 0h4.3v17.2h-4.3zm8 0h4.3v17.2h-4.3zm8 0h4.3v17.2h-4.3zm-176.9 17h4.3v17.2h-4.3zm12.1 0h4.3v17.2h-4.3zm233.2 0h4.3v17.2h-4.3zm-16.1 17h4.3v17.2h-4.3zm20.1 0h4.3v17.2h-4.3zm92.7 0h4.3v17.2h-4.3zm-173.1 16.9h4.3v17.2h-4.3zm64.3 0h4.3v17.2h-4.3zm12.1 0h4.3v17.2h-4.3zm8 0h4.3v17.2h-4.3zm16.1 0h4.3v17.2h-4.3zm8 0h4.3v17.2h-4.3zm36.5 0h12.3v17.2h-12.3zm16.1 0h4.3v17.2h-4.3zm48.4 0h4.3v17.2h-4.3zm-318.2 16.9h4.3v17.2h-4.3zm189.1 0h4.3v17.2h-4.3zm8 0h4.3v17.2h-4.3zm125.1 0h4.3v17.2h-4.3zm-121.1 33.9h4.3v17.2h-4.3zm16.1 0h4.3v17.2h-4.3zm-68.3 17h4.3v17.2h-4.3zm116.8 0h4.3v17.2h-4.3zm48.5 0h4.3v17.2h-4.3zm-330.3 16.9h4.3v17.2h-4.3zm261.7 0h4.3v17.2h-4.3zm-100.7 17h8.3v17.2h-8.3zm0 33.9h4.3v17.2h-4.3zm20.1 0h4.3v17.2h-4.3zm44.2 0h4.3v17.2h-4.3zm28.4 0h4.3v17.2h-4.3zm-458.2 33.9h4.3v17.2h-4.3zm631.6 0h4.2v17.2h-4.2zm-350.3 16.9h4.2v17.2h-4.2zm156.5 17h4.3v17.2h-4.3zm157.8 0h4.2v17.2h-4.2zm-12 16.9h4.2v17.2h-4.2zm12 0h4.2v17.2h-4.2zm24 0h4.2v17.2h-4.2zm8 0h4.2v17.2h-4.2zm-302.3 33.9h4.3v17.2h-4.3zm270.3 0h8.2v17.2h-8.2zm-20 17h4.2v17.2h-4.2zm4 16.9h4.2v17.2h-4.2zm36 0h16.2v17.2h-16.2zm-463.2 17h4.3v17.2h-4.3zm439.2 0h4.2v17.2h-4.2zm24 0h4.2v17.2h-4.2zm-679.9 17h4.3v17.2h-4.3zm691.9 16.9h4.2v17.2h-4.2zm8 0h4.2v17.2h-4.2zm-12 16.9h4.2v17.2h-4.2zm72.3 0h4.2v17.2h-4.2z"/>
<path fill="#ff7352" d="M258.2 1868.1h4.3v17.2h-4.3zm44.1 0h4.3v17.2h-4.3zm68.6 0h4.3v17.2h-4.3zm-88.7 16.9h4.3v17.2h-4.3zm-204.6 17h4.3v17.2h-4.3zm293.3 0h4.3v17.2h-4.3zm394.9 0h4.2v17.2h-4.2zm-603.9 16.9h4.3v17.2h-4.3zm36.1 0h4.3v17.2h-4.3zm76.4 33.9h4.3v17.2h-4.3zm-116.5 17h4.3v17.2h-4.3zm64.3 0h4.2v17.2h-4.2zm120.4 0h4.3v17.2h-4.3zm-325.2 17h4.3v17.2h-4.3zm353.5 0h4.3v17.2h-4.3zm-128.8 16.9h4.3v17.2h-4.3zm108.7 0h4.3v17.2h-4.3zm297.9 0h4.3v17.2h-4.3zm52.7 0h4.2v17.2h-4.2zm-547.5 16.9h4.3v17.2h-4.3zm32.1 0h4.3v17.2h-4.3zm20.3 0h4.2v17.2h-4.2zm15.9 0h4.2v17.2h-4.2zm19.9 0h4.3v17.2h-4.3zm12.1 0h4.3v17.2h-4.3zm257.3 0h4.3v17.2h-4.3zm-325.5 17h4.3v17.2h-4.3zm-24.1 16.9h4.3v17.2h-4.3zm36.1 0h4.3v17.2h-4.3zm20.3 0h4.2v17.2h-4.2zm309.3 0h4.3v17.2h-4.3zm-470.1 17h4.3v17.2h-4.3zm108.4 0h4.3v17.2h-4.3zm120.3 0h4.3v17.2h-4.3zm-44.1 33.9h4.3v17.2h-4.3zm52.2 0h4.3v17.2h-4.3zm56.5 0h4.3v17.2h-4.3zm12.1 0h4.3v17.2h-4.3zm-164.9 16.9h4.3v17.2h-4.3zm72.3 0h4.3v17.2h-4.3zm253.2 0h4.3v17.2h-4.3zm250.3 0h4.2v17.2h-4.2zm-282.4 17h4.3v17.2h-4.3zm84.7 0h4.3v17.2h-4.3zm-56.6 16.9h4.3v17.2h-4.3zm-108.4 34h4.3v17.2h-4.3zm56.2 16.9h4.3v17.2h-4.3zm8 0h4.3v17.2h-4.3zm177.4 0h4.3v17.2h-4.3zm52.7 0h4.2v17.2h-4.2zm-407.1 16.9h4.3v17.2h-4.3zm-272.8 17h4.3v17.2h-4.3zm421.7 0h4.3v17.2h-4.3zm100.7 16.9h4.3v17.2h-4.3zm-273.5 33.9h4.3v17.2h-4.3zm120.6 0h4.3v17.2h-4.3zm44.1 0h8.3v17.2h-8.3zm64.4 0h4.3v17.2h-4.3zm-337.6 17h4.3v17.2h-4.3zm357.6 0h4.3v17.2h-4.3zm72.7 0h4.3v17.2h-4.3zm-265.7 17h4.3v17.2h-4.3zm201.1 0h4.3v17.2h-4.3zm80.8 0h4.3v17.2h-4.3zm48.4 0h4.3v17.2h-4.3zm-125.2 33.8h4.3v17.2h-4.3zm113.1 0h4.3v17.2h-4.3zm-157.3 17h4.3v17.2h-4.3zm36.2 0h4.3v17.2h-4.3zm-84.4 33.9h4.3v17.2h-4.3zm32.1 0h4.3v17.2h-4.3zm129 0h4.3v17.2h-4.3zm44.4 0h4.3v17.2h-4.3zm-265.6 16.9h4.2v17.2h-4.2zm221.2 0h4.3v17.2h-4.3zm-80.8 17h4.3v17.2h-4.3zm222.3 0h4.2v17.2h-4.2zm-443.5 16.9h4.3v17.2h-4.3zm165 0h4.3v17.2h-4.3zm28.1 0h4.3v17.2h-4.3zm121 0h4.3v17.2h-4.3zm-149.1 17h4.3v17.2h-4.3zm177.3 0h4.3v17.2h-4.3zm-40.3 16.9h4.3v17.2h-4.3zm73.1 17h4.2v17.2h-4.2zm108.3 0h4.2v17.2h-4.2zm-430.9 16.9h4.3v17.2h-4.3zm391 0h4.2v17.2h-4.2zm-60.4 17h4.2v17.2h-4.2zm-161.9 16.9h4.3v17.2h-4.3zm177.9 0h4.2v17.2h-4.2zm72.4 0h4.2v17.2h-4.2zm-246.2 17h4.3v17.2h-4.3zm141.8 0h4.2v17.2h-4.2zm12 0h4.2v17.2h-4.2zm32 16.9h4.2v17.2h-4.2zm-52.6 17h4.3v17.2h-4.3zm28.6 0h4.2v17.2h-4.2zm12 16.9h4.2v17.2h-4.2zm-4 17h4.2v17.2h-4.2zm72.4 0h4.2v17.2h-4.2zm-40.4 17h4.2v17.2h-4.2zm16.4 0h4.2v17.2h-4.2zm24 0h4.2v17.2h-4.2zm7.9 0h4.2v17.2h-4.2zm-362.6 16.9h4.3v17.2h-4.3zm40.1 0h4.3v17.2h-4.3zm128.9 0h8.3v17.2h-8.3zm16.1 0h4.3v17.2h-4.3zm77.2 0h4.2v17.2h-4.2zm-543.2 16.9h4.2v17.2h-4.2zm433.8 0h4.3v17.2h-4.3zm149.4 0h4.2v17.2h-4.2zm44.4 0h4.2v17.2h-4.2zm35.9 0h4.2v17.2h-4.2z"/>
<path fill="#bc97ff" d="M725.4 1868.1h4.2v17.2h-4.2zm-322.4 16.9h4.3v17.2h-4.3zm108.5 0h4.3v17.2h-4.3zm36.4 0h4.3v17.2h-4.3zm108.8 0h4.3v17.2h-4.3zm-326.2 33.9h4.3v17.2h-4.3zm185 17h4.3v17.2h-4.3zm44.5 0h4.3v17.2h-4.3zm221.7 0h4.2v17.2h-4.2zm-744.2 16.9h4.3v17.2h-4.3zm389.6 0h4.3v17.2h-4.3zm140.9 0h4.3v17.2h-4.3zm44.4 50.9h4.3v17.2h-4.3zm16.1 16.9h4.3v17.2h-4.3zm8.1 17h4.3v17.2h-4.3zm96.8 67.8h4.2v17.2h-4.2zm-691.9 33.9h4.3v17.2h-4.3zm48.3 0h4.3v17.2h-4.3zm52.3 0h4.2v17.2h-4.2zm148.1 0h4.3v17.2h-4.3zm40.3 33.9h4.3v17.2h-4.3zm205.1 0h4.3v17.2h-4.3zm-510.1 33.9h4.3v17.2h-4.3zm132.4 0h4.3v17.2h-4.3zm16 0h4.3v17.2h-4.3zm56.3 0h4.2v17.2h-4.2zm20 0h8.3v17.2h-8.3zm24.2 0h4.3v17.2h-4.3zm56.1 0h4.3v17.2h-4.3zm-301 16.9h4.3v17.2h-4.3zm124.4 0h4.3v17.2h-4.3zm414.1 0h4.3v17.2h-4.3zm16.1 0h4.3v17.2h-4.3zm-369.8 17h4.2v17.2h-4.2zm455.1 0h4.2v17.2h-4.2zm52 0h4.2v17.2h-4.2zm-603.5 16.9h4.3v17.2h-4.3zm506.6 0h4.3v17.2h-4.3zm112.9 0h4.2v17.2h-4.2zm-531.1 17h4.2v17.2h-4.2zm467.1 0h4.2v17.2h-4.2zm92.4 0h4.2v17.2h-4.2zm11.9 0h4.2v17.2h-4.2zm-141.1 16.9h4.3v17.2h-4.3zm129.2 0h4.2v17.2h-4.2zm-362.8 17h4.3v17.2h-4.3zm-397.6 17h8.3v17.2h-8.3zm20.1 0h4.3v17.2h-4.3zm12 0h4.3v17.2h-4.3zm84.4 0h4.3v17.2h-4.3zm56.1 0h4.3v17.2h-4.3zm96.4 0h4.3v17.2h-4.3zm36 0h4.3v17.2h-4.3zm399 0h4.2v17.2h-4.2zm52.4 0h4.2v17.2h-4.2zm-716.3 16.9h4.3v17.2h-4.3zm104.4 0h4.3v17.2h-4.3zm32.1 0h4.3v17.2h-4.3zm8 0h4.3v17.2h-4.3zm24.3 0h4.2v17.2h-4.2zm23.8 0h12.3v17.2h-12.3zm32.2 0h8.3v17.2h-8.3zm88.5 0h8.3v17.2h-8.3zm374.6 0h4.2v17.2h-4.2zm20.4 0h4.2v17.2h-4.2zm-732.4 16.9h4.3v17.2h-4.3zm232.8 0h4.3v17.2h-4.3zm56.2 0h4.3v17.2h-4.3zm52.5 0h4.3v17.2h-4.3zm310.5 0h4.2v17.2h-4.2zm64 0h4.2v17.2h-4.2zm-716 17h4.3v17.2h-4.3zm680 0h4.2v17.2h-4.2zm-60.8 16.9h4.3v17.2h-4.3zm-599.1 17h4.3v17.2h-4.3zm16 0h4.3v17.2h-4.3zm64.4 0h4.3v17.2h-4.3zm12.3 0h4.2v17.2h-4.2zm88 0h4.2v17.2h-4.2zm32 0h4.3v17.2h-4.3zm12.1 0h4.3v17.2h-4.3zm96.6 0h4.3v17.2h-4.3zm394.9 0h4.2v17.2h-4.2zm-704.3 16.9h4.3v17.2h-4.3zm192.7 0h4.3v17.2h-4.3zm92.4 0h4.3v17.2h-4.3zm-128.3 33.9h4.2v17.2h-4.2zm132.3 0h4.3v17.2h-4.3zm8.2 0h4.3v17.2h-4.3zm334.6 0h4.2v17.2h-4.2zm100.3 0h4.2v17.2h-4.2zm-635.8 17h4.3v17.2h-4.3zm88.2 0h4.3v17.2h-4.3zm48.1 0h4.3v17.2h-4.3zm431.2 0h4.2v17.2h-4.2zm48.4 0h4.2v17.2h-4.2zm-635.6 16.9h4.2v17.2h-4.2zm555.2 0h4.2v17.2h-4.2zm-672 17h4.3v17.2h-4.3zm8 0h4.3v17.2h-4.3zm8.1 0h4.3v17.2h-4.3zm8 0h4.3v17.2h-4.3zm20 0h4.3v17.2h-4.3zm8.1 0h4.3v17.2h-4.3zm84.3 0h4.3v17.2h-4.3zm20 0h4.3v17.2h-4.3zm16.1 0h4.3v17.2h-4.3zm12 0h4.3v17.2h-4.3zm32.2 0h4.2v17.2h-4.2zm36.1 0h8.3v17.2h-8.3zm285.6 0h4.3v17.2h-4.3zm36.3 0h4.3v17.2h-4.3zm-16.1 16.9h4.3v17.2h-4.3zm-518.6 17h4.3v17.2h-4.3zm16.1 0h12.3v17.2h-12.3zm-56.2 16.9h12.3v17.2h-12.3zm140.5 0h4.3v17.2h-4.3zm-32 17h4.3v17.2h-4.3zm321.3 0h4.3v17.2h-4.3zm32.1 0h4.3v17.2h-4.3zm-92.2 33.9h4.2v17.2h-4.2zm-189.1 16.9h4.3v17.2h-4.3zm148.6 0h4.3v17.2h-4.3zm-132.3 17h4.2v17.2h-4.2zm75.9 0h4.3v17.2h-4.3zm152.9 17h4.3v17.2h-4.3zm120.9 0h4.3v17.2h-4.3zm32.2 0h4.3v17.2h-4.3zm-362 16.9h4.2v17.2h-4.2zm11.9 0h4.3v17.2h-4.3zm-56.1 16.9h4.3v17.2h-4.3zm8 0h4.3v17.2h-4.3z"/>
<path fill="#dcc4ff" d="M109.9 1868.1h4.3v17.2h-4.3zm317.2 0h4.3v17.2h-4.3zm60.3 0h4.3v17.2h-4.3zm44.2 0h8.3v17.2h-8.3zm32.4 0h4.3v17.2h-4.3zm28.2 0h4.3v17.2h-4.3zm56.5 0h4.3v17.2h-4.3zm56.7 0h4.2v17.2h-4.2zm-571.2 16.9h4.2v17.2h-4.2zm80.1 0h4.2v17.2h-4.2zm196.8 0h4.3v17.2h-4.3zm20 0h4.3v17.2h-4.3zm8 0h4.3v17.2h-4.3zm16.1 0h4.3v17.2h-4.3zm32.2 0h8.3v17.2h-8.3zm56.5 0h4.3v17.2h-4.3zm20.1 0h4.3v17.2h-4.3zm28.2 0h4.3v17.2h-4.3zm36.3 0h4.3v17.2h-4.3zm8.1 0h4.3v17.2h-4.3zm125.2 0h4.2v17.2h-4.2zm27.9 0h4.2v17.2h-4.2zm-225.7 17h4.3v17.2h-4.3zm84.7 0h4.3v17.2h-4.3zm97.1 0h4.2v17.2h-4.2zm-403.2 16.9h4.3v17.2h-4.3zm60.4 0h4.3v17.2h-4.3zm72.3 0h4.3v17.2h-4.3zm48.2 0h4.3v17.2h-4.3zm80.8 0h4.3v17.2h-4.3zm40.3 0h4.3v17.2h-4.3zm16.2 0h4.3v17.2h-4.3zm20.6 0h8.2v17.2h-8.2zm64.4 0h4.2v17.2h-4.2zm-459.6 17h4.3v17.2h-4.3zm108.8 0h4.3v17.2h-4.3zm8 0h4.3v17.2h-4.3zm20.1 0h4.3v17.2h-4.3zm237.7 0h4.3v17.2h-4.3zm12.6 0h4.2v17.2h-4.2zm84.4 0h8.2v17.2h-8.2zm-704.3 16.9h4.3v17.2h-4.3zm16.1 0h4.3v17.2h-4.3zm321.4 0h4.3v17.2h-4.3zm8 0h4.3v17.2h-4.3zm12.1 0h4.3v17.2h-4.3zm20 0h4.3v17.2h-4.3zm44.2 0h4.3v17.2h-4.3zm20.1 0h4.3v17.2h-4.3zm16.1 0h4.3v17.2h-4.3zm32.4 0h4.3v17.2h-4.3zm20.1 0h4.3v17.2h-4.3zm80.6 0h4.3v17.2h-4.3zm32.8 0h4.2v17.2h-4.2zm8 0h8.2v17.2h-8.2zm40 0h4.2v17.2h-4.2zm24.4 0h4.2v17.2h-4.2zm8 0h4.2v17.2h-4.2zm19.9 0h4.2v17.2h-4.2zm-744.2 17h4.3v17.2h-4.3zm100.7 0h4.2v17.2h-4.2zm329.1 0h4.3v17.2h-4.3zm28.1 0h4.3v17.2h-4.3zm36.2 0h4.3v17.2h-4.3zm100.9 0h4.3v17.2h-4.3zm80.9 0h4.2v17.2h-4.2zm8 0h4.2v17.2h-4.2zm72.3 0h4.2v17.2h-4.2zm-784.3 33.9h4.3v17.2h-4.3zm16 0h4.3v17.2h-4.3zm56.2 0h4.3v17.2h-4.3zm325.4 0h4.3v17.2h-4.3zm52.2 0h4.3v17.2h-4.3zm12.1 0h4.3v17.2h-4.3zm8 0h4.3v17.2h-4.3zm56.3 0h4.3v17.2h-4.3zm40.5 0h4.3v17.2h-4.3zm28.1 0h4.3v17.2h-4.3zm85.2 0h4.2v17.2h-4.2zm20 0h8.2v17.2h-8.2zm48.4 0h4.2v17.2h-4.2zm35.9 0h4.2v17.2h-4.2zm-116.3 16.9h4.2v17.2h-4.2zm28 0h4.2v17.2h-4.2zm16 0h4.2v17.2h-4.2zm-322.4 17h4.3v17.2h-4.3zm128.5 0h8.3v17.2h-8.3zm80.8 0h4.3v17.2h-4.3zm56.5 0h4.3v17.2h-4.3zm36.6 0h4.2v17.2h-4.2zm48.4 0h4.2v17.2h-4.2zm-338.8 16.9h4.3v17.2h-4.3zm72.4 0h4.3v17.2h-4.3zm92.7 0h4.3v17.2h-4.3zm72.5 0h8.3v17.2h-8.3zm16.2 0h4.3v17.2h-4.3zm-241.7 17h4.3v17.2h-4.3zm60.3 0h4.3v17.2h-4.3zm8 0h4.3v17.2h-4.3zm16.1 0h4.3v17.2h-4.3zm52.5 0h4.3v17.2h-4.3zm72.5 0h4.3v17.2h-4.3zm-607.1 16.9h4.3v17.2h-4.3zm48.2 0h4.3v17.2h-4.3zm104.3 0h4.3v17.2h-4.3zm76.3 0h4.3v17.2h-4.3zm313.8 0h4.3v17.2h-4.3zm-161 17h4.3v17.2h-4.3zm16.1 0h8.3v17.2h-8.3zm72.3 0h8.3v17.2h-8.3zm56.5 0h4.3v17.2h-4.3zm157.5 0h4.2v17.2h-4.2zm40.4 0h4.2v17.2h-4.2zm-395 16.9h4.3v17.2h-4.3zm40.2 0h4.3v17.2h-4.3zm16 0h4.3v17.2h-4.3zm80.4 0h4.3v17.2h-4.3zm40.2 0h4.3v17.2h-4.3zm121.1 0h4.3v17.2h-4.3zm36.7 0h4.2v17.2h-4.2zm12 0h12.2v17.2h-12.2zm20 0h4.2v17.2h-4.2zm16 0h4.2v17.2h-4.2zm-599.2 17h8.2v17.2h-8.2zm72.1 0h4.2v17.2h-4.2zm108.1 0h4.3v17.2h-4.3zm306.1 0h4.3v17.2h-4.3zm8 0h4.3v17.2h-4.3zm52.9 0h4.2v17.2h-4.2zm-507.5 16.9h4.3v17.2h-4.3zm136.5 0h8.3v17.2h-8.3zm371 0h4.2v17.2h-4.2zm16 0h4.2v17.2h-4.2zm36 0h4.2v17.2h-4.2zm20.4 0h4.2v17.2h-4.2zm-559.8 17h4.3v17.2h-4.3zm52.2 0h4.3v17.2h-4.3zm104.6 0h4.3v17.2h-4.3zm140.6 0h4.3v17.2h-4.3zm258.4 0h4.2v17.2h-4.2zm-680.2 17h4.3v17.2h-4.3zm8 0h4.3v17.2h-4.3zm44.3 0h4.3v17.2h-4.3zm72.1 0h4.3v17.2h-4.3zm12.3 0h4.2v17.2h-4.2zm47.9 0h4.3v17.2h-4.3zm32 0h4.3v17.2h-4.3zm28.2 0h4.3v17.2h-4.3zm28.2 0h4.3v17.2h-4.3zm205.3 0h8.3v17.2h-8.3zm52.3 0h4.3v17.2h-4.3zm48.5 0h4.3v17.2h-4.3zm121.1 0h4.2v17.2h-4.2zm-712.3 16.9h4.3v17.2h-4.3zm52.4 0h4.3v17.2h-4.3zm80.1 0h4.3v17.2h-4.3zm32.2 0h4.2v17.2h-4.2zm40.1 0h4.3v17.2h-4.3zm48.1 0h4.3v17.2h-4.3zm24.1 0h4.3v17.2h-4.3zm16.3 0h4.3v17.2h-4.3zm20.1 0h4.3v17.2h-4.3zm-345.4 16.9h4.3v17.2h-4.3zm24 0h4.3v17.2h-4.3zm8 0h8.3v17.2h-8.3zm56.4 0h4.3v17.2h-4.3zm373.5 0h4.3v17.2h-4.3zm104.8 0h4.3v17.2h-4.3zm-574.8 17h4.3v17.2h-4.3zm36.1 0h4.3v17.2h-4.3zm16.1 0h4.3v17.2h-4.3zm8 0h4.3v17.2h-4.3zm96.3 0h4.3v17.2h-4.3zm12.1 0h4.3v17.2h-4.3zm64.2 0h4.3v17.2h-4.3zm36 0h4.3v17.2h-4.3zm8.1 0h4.3v17.2h-4.3zm68.6 0h4.3v17.2h-4.3zm265.6 0h4.3v17.2h-4.3zm16.1 0h4.3v17.2h-4.3zm92.8 0h4.2v17.2h-4.2zm16.4 0h4.2v17.2h-4.2zm-732.4 16.9h4.3v17.2h-4.3zm12.1 0h4.3v17.2h-4.3zm52.3 0h4.3v17.2h-4.3zm124.5 0h4.2v17.2h-4.2zm43.9 0h4.3v17.2h-4.3zm108.7 0h4.3v17.2h-4.3zm297.9 0h4.3v17.2h-4.3zm36.6 0h4.2v17.2h-4.2zm20 0h4.2v17.2h-4.2zm-655.9 17h4.3v17.2h-4.3zm8.1 0h4.3v17.2h-4.3zm52.3 0h4.3v17.2h-4.3zm164.3 0h4.3v17.2h-4.3zm28.2 0h4.3v17.2h-4.3zm48.5 0h4.3v17.2h-4.3zm100.4 0h4.3v17.2h-4.3zm226.1 0h4.2v17.2h-4.2zm28 0h4.2v17.2h-4.2zm-696 16.9h8.3v17.2h-8.3zm48.2 0h8.3v17.2h-8.3zm40.3 0h4.3v17.2h-4.3zm176.3 17h4.3v17.2h-4.3zm48.3 0h4.3v17.2h-4.3zm32.4 0h4.3v17.2h-4.3zm281.8 0h4.3v17.2h-4.3zm-269.6 17h4.2v17.2h-4.2zm306.3 0h4.2v17.2h-4.2zm72.4 0h4.2v17.2h-4.2zm8 0h20.2v17.2h-20.2zm-635.6 16.9h4.2v17.2h-4.2zm160 0h4.3v17.2h-4.3zm24.2 0h4.3v17.2h-4.3zm64.7 0h8.1v17.2h-8.1zm294.3 0h4.2v17.2h-4.2zm12 0h4.2v17.2h-4.2zm8 0h8.2v17.2h-8.2zm20 0h4.2v17.2h-4.2zm8 0h4.2v17.2h-4.2zm72.3 0h4.2v17.2h-4.2zm-776.3 16.9h4.3v17.2h-4.3zm12.1 0h4.3v17.2h-4.3zm24 0h4.3v17.2h-4.3zm16.1 0h4.3v17.2h-4.3zm52.3 0h4.3v17.2h-4.3zm28 0h4.3v17.2h-4.3zm16 0h4.3v17.2h-4.3zm12.1 0h4.3v17.2h-4.3zm20 0h4.3v17.2h-4.3zm40.1 0h4.3v17.2h-4.3zm8.1 0h8.3v17.2h-8.3zm88.3 0h4.3v17.2h-4.3zm16.3 0h8.3v17.2h-8.3zm338.6 0h4.2v17.2h-4.2zm16 0h4.2v17.2h-4.2zm24 0h4.2v17.2h-4.2zm20.4 0h4.2v17.2h-4.2zm43.9 0h4.2v17.2h-4.2zm-768.2 17h4.3v17.2h-4.3zm28 0h4.3v17.2h-4.3zm32.3 0h4.3v17.2h-4.3zm64.1 0h4.3v17.2h-4.3zm24 0h4.3v17.2h-4.3zm36.4 0h4.2v17.2h-4.2zm100.1 0h4.3v17.2h-4.3zm20.1 0h4.3v17.2h-4.3zm32.4 0h4.3v17.2h-4.3zm56.2 0h4.3v17.2h-4.3zm8 0h4.3v17.2h-4.3zm201.4 0h4.3v17.2h-4.3zm125.3 0h4.2v17.2h-4.2zm-736.4 16.9h4.3v17.2h-4.3zm36.1 0h4.3v17.2h-4.3zm60.4 0h4.3v17.2h-4.3zm24.2 0h4.2v17.2h-4.2zm156.2 0h4.3v17.2h-4.3zm68.6 0h4.3v17.2h-4.3zm322.5 0h4.2v17.2h-4.2zm16 0h8.2v17.2h-8.2zm-696 17h4.3v17.2h-4.3zm12 0h4.3v17.2h-4.3zm8.1 0h4.3v17.2h-4.3zm8 0h8.3v17.2h-8.3zm44.1 0h4.3v17.2h-4.3zm36.3 0h4.3v17.2h-4.3zm56 0h4.3v17.2h-4.3zm60.3 0h4.2v17.2h-4.2zm7.9 0h4.3v17.2h-4.3zm36.3 0h4.3v17.2h-4.3zm11.8 0h4.3v17.2h-4.3zm24.2 0h8.3v17.2h-8.3zm40.4 0h4.3v17.2h-4.3zm8 0h4.3v17.2h-4.3zm-341.4 16.9h4.3v17.2h-4.3zm12.1 0h4.3v17.2h-4.3zm92.4 0h4.3v17.2h-4.3zm28 0h4.3v17.2h-4.3zm16 0h8.3v17.2h-8.3zm40.4 0h4.2v17.2h-4.2zm12 0h8.2v17.2h-8.2zm11.9 0h4.2v17.2h-4.2zm7.9 0h4.3v17.2h-4.3zm12.1 0h4.3v17.2h-4.3zm36 0h4.3v17.2h-4.3zm84.7 0h4.3v17.2h-4.3zm314.5 0h4.2v17.2h-4.2zm44 0h8.2v17.2h-8.2zm44.4 0h4.2v17.2h-4.2zm7.9 0h4.2v17.2h-4.2zm-659.8 17h4.3v17.2h-4.3zm92.4 0h4.2v17.2h-4.2zm35.9 0h4.3v17.2h-4.3zm431.2 0h4.2v17.2h-4.2zm-643.9 16.9h4.3v17.2h-4.3zm12 0h4.3v17.2h-4.3zm20.1 0h4.3v17.2h-4.3zm8 0h4.3v17.2h-4.3zm44.3 0h4.3v17.2h-4.3zm44 0h4.3v17.2h-4.3zm12.1 0h4.3v17.2h-4.3zm28.3 0h4.2v17.2h-4.2zm19.9 0h4.2v17.2h-4.2zm15.9 0h4.3v17.2h-4.3zm12.1 0h4.3v17.2h-4.3zm20.2 0h4.3v17.2h-4.3zm60.1 0h4.3v17.2h-4.3zm342.9 0h8.2v17.2h-8.2zm44 0h8.2v17.2h-8.2zm28.4 0h4.2v17.2h-4.2zm43.9 0h4.2v17.2h-4.2zm-776.3 17h4.3v17.2h-4.3zm60.2 0h4.3v17.2h-4.3zm8.2 0h4.3v17.2h-4.3zm24.1 0h4.3v17.2h-4.3zm116.3 0h4.2v17.2h-4.2zm56 0h4.3v17.2h-4.3zm140.9 0h4.3v17.2h-4.3zm254.3 0h4.2v17.2h-4.2zm16 0h12.2v17.2h-12.2zm76.4 0h8.2v17.2h-8.2zm23.9 0h4.2v17.2h-4.2zm-707.9 16.9h4.3v17.2h-4.3zm36.1 0h4.3v17.2h-4.3zm301.2 0h4.3v17.2h-4.3zm246.3 0h4.2v17.2h-4.2zm64 0h4.2v17.2h-4.2zm-571.5 17h4.3v17.2h-4.3zm52.4 0h4.2v17.2h-4.2zm67.9 0h4.3v17.2h-4.3zm20.1 0h4.3v17.2h-4.3zm20.1 0h4.3v17.2h-4.3zm44.5 0h4.3v17.2h-4.3zm12.2 0h4.2v17.2h-4.2zm84.2 0h4.3v17.2h-4.3zm141 0h4.3v17.2h-4.3zm-594.9 16.9h4.3v17.2h-4.3zm8 0h4.3v17.2h-4.3zm52.2 0h8.3v17.2h-8.3zm16.2 0h4.3v17.2h-4.3zm36.1 0h4.3v17.2h-4.3zm32 0h4.3v17.2h-4.3zm32.1 0h4.3v17.2h-4.3zm8 0h4.3v17.2h-4.3zm52.2 0h4.3v17.2h-4.3zm80.3 0h4.3v17.2h-4.3zm152.9 0h4.3v17.2h-4.3zm36.1 0h4.3v17.2h-4.3zm8 0h4.3v17.2h-4.3zm-514.1 17h4.3v17.2h-4.3zm24.1 0h4.3v17.2h-4.3zm16 0h4.3v17.2h-4.3zm16.1 0h4.3v17.2h-4.3zm156.6 0h8.2v17.2h-8.2zm28 0h4.3v17.2h-4.3zm36 0h4.3v17.2h-4.3zm24.2 0h4.3v17.2h-4.3zm-248.9 16.9h4.3v17.2h-4.3zm52.4 0h4.3v17.2h-4.3zm8 0h4.3v17.2h-4.3zm28 0h4.3v17.2h-4.3zm8 0h4.3v17.2h-4.3zm8 0h4.3v17.2h-4.3zm16.1 0h4.3v17.2h-4.3zm48.2 0h4.2v17.2h-4.2zm11.9 0h4.3v17.2h-4.3zm28.2 0h4.3v17.2h-4.3zm28 0h4.3v17.2h-4.3zm24.1 0h4.3v17.2h-4.3zm16.2 0h4.3v17.2h-4.3zm24.3 0h4.3v17.2h-4.3zm60.2 0h4.3v17.2h-4.3zm8 0h4.3v17.2h-4.3zm-281.2 17h4.3v17.2h-4.3zm20 0h4.3v17.2h-4.3zm8.1 0h4.3v17.2h-4.3zm225 0h4.3v17.2h-4.3zm16.1 0h4.3v17.2h-4.3zm76.3 0h4.3v17.2h-4.3zm36.2 0h4.3v17.2h-4.3zm20.3 0h4.3v17.2h-4.3zm8.1 0h4.3v17.2h-4.3zm12.1 0h4.3v17.2h-4.3zm56.4 0h4.3v17.2h-4.3zm-587 16.9h4.3v17.2h-4.3zm28.1 0h4.3v17.2h-4.3zm8 0h4.3v17.2h-4.3zm172.6 0h4.3v17.2h-4.3zm60.2 0h4.3v17.2h-4.3zm314.1 0h4.3v17.2h-4.3zm8.1 0h4.3v17.2h-4.3zm16.1 0h4.3v17.2h-4.3zm-510.6 17h4.2v17.2h-4.2zm172.3 0h4.3v17.2h-4.3zm156.9 0h4.3v17.2h-4.3zm20.1 0h4.3v17.2h-4.3zm16.1 0h4.3v17.2h-4.3zm24.1 0h4.3v17.2h-4.3zm-522.2 16.9h4.3v17.2h-4.3zm8 0h4.3v17.2h-4.3zm8 0h4.3v17.2h-4.3zm20.1 0h4.3v17.2h-4.3zm32.1 0h4.3v17.2h-4.3zm36.3 0h4.3v17.2h-4.3zm100.4 0h4.2v17.2h-4.2zm64.1 0h4.3v17.2h-4.3zm7.8 0h4.3v17.2h-4.3zm80.7 0h4.3v17.2h-4.3zm28.1 0h4.3v17.2h-4.3zm16 0h8.3v17.2h-8.3zm20.1 0h4.3v17.2h-4.3zm24.1 0h4.3v17.2h-4.3zm96.7 0h4.3v17.2h-4.3zm56.4 0h4.3v17.2h-4.3zm32.3 0h4.3v17.2h-4.3zm-559 17h4.3v17.2h-4.3zm8.2 0h4.3v17.2h-4.3zm24.1 0h4.3v17.2h-4.3zm28.2 0h4.2v17.2h-4.2zm11.8 0h4.3v17.2h-4.3zm56.4 0h4.2v17.2h-4.2zm92 0h8.3v17.2h-8.3zm44.3 0h4.3v17.2h-4.3zm-208.4 17h4.2v17.2h-4.2zm256.8 0h4.3v17.2h-4.3zm12 0h4.3v17.2h-4.3zm24.1 0h4.3v17.2h-4.3zm104.5 0h4.3v17.2h-4.3zm16.3 0h4.3v17.2h-4.3zm28.2 0h4.3v17.2h-4.3zm-550.6 16.9h4.3v17.2h-4.3zm12 0h4.3v17.2h-4.3zm8 0h8.3v17.2h-8.3zm16 0h4.3v17.2h-4.3zm76.6 0h4.2v17.2h-4.2zm11.8 0h4.3v17.2h-4.3zm88.2 0h4.3v17.2h-4.3zm16.1 0h4.3v17.2h-4.3zm8.1 0h4.3v17.2h-4.3zm36 0h4.3v17.2h-4.3zm20.1 0h8.3v17.2h-8.3zm314.2 0h4.3v17.2h-4.3zm28.2 0h4.3v17.2h-4.3zm-575 16.9h4.3v17.2h-4.3zm12 0h4.3v17.2h-4.3zm112.5 0h4.2v17.2h-4.2zm140.5 0h4.3v17.2h-4.3zm289.8 0h4.3v17.2h-4.3z"/>
<path fill="#b38bff" d="M596.2 1885h4.3v17.2h-4.3zm16.2 0h4.3v17.2h-4.3zm-133 17h4.3v17.2h-4.3zm-349.2 16.9h4.2v17.2h-4.2zm498.3 0h4.3v17.2h-4.3zm-100.9 33.9h4.3v17.2h-4.3zm121.1 0h4.3v17.2h-4.3zm-117.1 17h4.3v17.2h-4.3zm254.1 0h4.2v17.2h-4.2zm-225.7 17h4.3v17.2h-4.3zm-542.6 33.8h4.3v17.2h-4.3zm48.2 17h4.3v17.2h-4.3zm333.4 16.9h4.3v17.2h-4.3zm116.5 0h4.3v17.2h-4.3zm286.2 17h4.2v17.2h-4.2zm-418.6 16.9h4.2v17.2h-4.2zm108.3 0h4.3v17.2h-4.3zm-369.5 33.9h4.3v17.2h-4.3zm438.1 0h4.3v17.2h-4.3zm-265.7 17h4.3v17.2h-4.3zm-208.5 16.9h4.3v17.2h-4.3zm-8.2 17h4.3v17.2h-4.3zm526.7 0h4.3v17.2h-4.3zm-590.9 33.9h4.3v17.2h-4.3zm20.1 0h4.3v17.2h-4.3zm8 0h4.3v17.2h-4.3zm28.1 0h8.3v17.2h-8.3zm64.6 0h4.2v17.2h-4.2zm103.9 0h4.3v17.2h-4.3zm104.5 0h4.3v17.2h-4.3zm-289.1 16.9h4.3v17.2h-4.3zm24.1 0h4.3v17.2h-4.3zm188.7 33.9h4.3v17.2h-4.3zm68.2 17h4.3v17.2h-4.3zm386.9 0h4.2v17.2h-4.2zm-599.5 16.9h4.3v17.2h-4.3zm655.8 0h4.2v17.2h-4.2zm-768.3 17h4.3v17.2h-4.3zm8 17h8.3v17.2h-8.3zm52.2 0h12.3v17.2h-12.3zm80.3 0h4.3v17.2h-4.3zm20 0h4.3v17.2h-4.3zm12.1 0h4.3v17.2h-4.3zm16 0h4.3v17.2h-4.3zm12.3 0h4.2v17.2h-4.2zm160.6 0h4.3v17.2h-4.3zm310.5 0h4.2v17.2h-4.2zm72.4 0h4.2v17.2h-4.2zm-732.4 16.9h8.3v17.2h-8.3zm28.1 0h4.3v17.2h-4.3zm20.1 0h4.3v17.2h-4.3zm104.3 0h4.3v17.2h-4.3zm12.1 0h4.3v17.2h-4.3zm587.8 0h4.2v17.2h-4.2zm-639.6 16.9h4.2v17.2h-4.2zm19.7 0h4.3v17.2h-4.3zm20 0h4.3v17.2h-4.3zm507.5 0h4.2v17.2h-4.2zm72.4 0h4.2v17.2h-4.2zm-656 17h4.3v17.2h-4.3zm668 16.9h4.2v17.2h-4.2zm-696.2 17h4.3v17.2h-4.3zm144.7 0h4.2v17.2h-4.2zm128.3 0h4.3v17.2h-4.3zm354.8 16.9h4.2v17.2h-4.2zm48.4 0h4.2v17.2h-4.2zm8 0h4.2v17.2h-4.2zm8 0h4.2v17.2h-4.2zm-499.5 17h4.3v17.2h-4.3zm32 16.9h4.3v17.2h-4.3zm104.7 0h4.3v17.2h-4.3zm270.4 0h8.2v17.2h-8.2zm120.3 0h4.2v17.2h-4.2zm-736.2 17h4.3v17.2h-4.3zm36.3 0h4.3v17.2h-4.3zm48.3 0h4.2v17.2h-4.2zm76.2 0h4.2v17.2h-4.2zm475.1 0h4.2v17.2h-4.2zm48 0h4.2v17.2h-4.2zm-410.9 16.9h4.3v17.2h-4.3zm-309.1 17h4.3v17.2h-4.3zm32.1 0h4.3v17.2h-4.3zm12 0h4.3v17.2h-4.3zm112.4 0h4.3v17.2h-4.3zm80.3 0h4.3v17.2h-4.3zm88.4 0h4.3v17.2h-4.3zm-309.1 16.9h4.3v17.2h-4.3zm518.4 0h4.3v17.2h-4.3zm-530.5 17h4.3v17.2h-4.3zm68.4 0h4.3v17.2h-4.3zm-64.3 16.9h4.3v17.2h-4.3zm8 0h4.3v17.2h-4.3zm8 0h4.3v17.2h-4.3zm301.1 0h4.3v17.2h-4.3zm24.3 0h4.3v17.2h-4.3zm24.1 17h4.3v17.2h-4.3zm32.1 0h4.3v17.2h-4.3zm169.1 0h4.3v17.2h-4.3zm56.5 0h4.3v17.2h-4.3zm-454.7 16.9h4.3v17.2h-4.3zm-176.6 17h4.3v17.2h-4.3zm136.5 0h4.3v17.2h-4.3zm152.5 16.9h4.3v17.2h-4.3zm20.1 17h4.3v17.2h-4.3zm124.7 17h4.3v17.2h-4.3zm120.9 0h4.3v17.2h-4.3zm-321.9 16.9h4.3v17.2h-4.3zm60.2 0h4.3v17.2h-4.3zm72.7 0h4.2v17.2h-4.2zm-245 16.9h4.2v17.2h-4.2zm381.4 0h4.3v17.2h-4.3z"/>
<path fill="#ffc6b2" d="M238.1 1868.1h4.3v17.2h-4.3zm24.2 0h4.3v17.2h-4.3zm12.1 0h4.3v17.2h-4.3zm-44.2 50.8h4.2v17.2h-4.2zm-100 67.9h4.2v17.2h-4.2zm67.8 0h4.3v17.2h-4.3zm-168.5 33.8h4.3v17.2h-4.3zm76.3 0h4.3v17.2h-4.3zm293.2 0h4.3v17.2h-4.3zm48.2 0h4.3v17.2h-4.3zm-157 17h4.3v17.2h-4.3zm4.1 16.9h4.3v17.2h-4.3zm-112.3 17h4.3v17.2h-4.3zm12 0h4.3v17.2h-4.3zm32.2 0h4.2v17.2h-4.2zm15.9 0h4.3v17.2h-4.3zm229.2 16.9h4.3v17.2h-4.3zm153.2 0h4.3v17.2h-4.3zm-462.6 17h4.3v17.2h-4.3zm60.3 0h4.2v17.2h-4.2zm32 0h4.3v17.2h-4.3zm-84.3 16.9h4.3v17.2h-4.3zm48.4 0h4.2v17.2h-4.2zm333.6 17h4.3v17.2h-4.3zm-104.7 16.9h4.3v17.2h-4.3zm76.3 0h4.3v17.2h-4.3zm125.2 50.9h4.3v17.2h-4.3zm8 0h4.3v17.2h-4.3zm76.7 0h4.2v17.2h-4.2zm36.4 0h4.2v17.2h-4.2zm7.9 0h8.2v17.2h-8.2zm20 0h4.2v17.2h-4.2zm-611.7 16.9h4.3v17.2h-4.3zm32.3 0h4.2v17.2h-4.2zm116.2 0h4.3v17.2h-4.3zm447.2 0h4.2v17.2h-4.2zm-286.3 17h4.3v17.2h-4.3zm92.8 0h4.3v17.2h-4.3zm-72.7 16.9h4.3v17.2h-4.3zm-421.7 33.9h4.3v17.2h-4.3zm265 0h4.3v17.2h-4.3zm124.6 0h8.3v17.2h-8.3zm52.2 0h4.3v17.2h-4.3zm-104.5 67.8h4.3v17.2h-4.3zm16.1 0h4.3v17.2h-4.3zm-189 17h4.3v17.2h-4.3zm229.2 0h4.3v17.2h-4.3zm80.6 84.7h4.3v17.2h-4.3zm32.2 17h4.3v17.2h-4.3zm-80.7 16.9h4.3v17.2h-4.3zm60.6 0h4.3v17.2h-4.3zm125.3 17h4.2v17.2h-4.2zm76.3 0h4.2v17.2h-4.2zm16 0h4.2v17.2h-4.2zm-120.3 16.9h4.2v17.2h-4.2zm8 0h4.2v17.2h-4.2zm-306.3 17h4.2v17.2h-4.2zm394.7 0h4.2v17.2h-4.2zm-286.4 16.9h4.3v17.2h-4.3zm40.2 0h4.3v17.2h-4.3zm100.9 0h4.3v17.2h-4.3zm-346.3 17h4.3v17.2h-4.3zm8 0h4.3v17.2h-4.3zm463.6 0h4.2v17.2h-4.2zm-44.4 16.9h4.2v17.2h-4.2zm-298.3 17h4.3v17.2h-4.3zm36.1 0h4.3v17.2h-4.3zm8 0h4.3v17.2h-4.3zm302.6 0h4.2v17.2h-4.2zm31.9 0h4.2v17.2h-4.2zm-84.3 16.9h4.2v17.2h-4.2zm-117.2 17h4.3v17.2h-4.3zm121.2 0h4.2v17.2h-4.2zm52.4 0h4.2v17.2h-4.2zm-439.4 17h4.3v17.2h-4.3zm431.4 0h4.2v17.2h-4.2zm27.9 0h4.2v17.2h-4.2zm-390.7 16.9h4.3v17.2h-4.3zm32.1 0h8.3v17.2h-8.3zm68.3 0h8.3v17.2h-8.3zm76.6 0h8.3v17.2h-8.3zm36.3 0h4.3v17.2h-4.3zm-48.3 16.9h4.3v17.2h-4.3zm28.1 0h12.3v17.2h-12.3zm153.3 0h4.2v17.2h-4.2z"/>
<path fill="#ff8969" d="M182 1868.1h4.3v17.2h-4.3zm12 0h4.3v17.2h-4.3zm120.4 0h4.3v17.2h-4.3zm-128.4 16.9h4.3v17.2h-4.3zm0 67.8h4.3v17.2h-4.3zm24.3 0h4.2v17.2h-4.2zm39.9 0h4.3v17.2h-4.3zm-88.3 17h4.3v17.2h-4.3zm76.2 33.9h4.3v17.2h-4.3zm16.1 0h4.3v17.2h-4.3zm-192.7 16.9h4.3v17.2h-4.3zm96.4 0h4.3v17.2h-4.3zm341.5 0h4.3v17.2h-4.3zm8.1 0h4.3v17.2h-4.3zm-241.2 17h4.3v17.2h-4.3zm0 16.9h4.3v17.2h-4.3zm23.9 0h4.3v17.2h-4.3zm80.7 0h4.3v17.2h-4.3zm-76.6 33.9h4.3v17.2h-4.3zm-108.3 17h4.3v17.2h-4.3zm44.2 0h4.2v17.2h-4.2zm253.2 0h4.3v17.2h-4.3zm-449.9 16.9h4.3v17.2h-4.3zm124.4 0h4.3v17.2h-4.3zm281.2 17h4.3v17.2h-4.3zm48.3 0h4.3v17.2h-4.3zm92.7 0h4.3v17.2h-4.3zm-108.8 16.9h4.3v17.2h-4.3zm145.1 50.9h4.3v17.2h-4.3zm97 0h4.2v17.2h-4.2zm-535.4 16.9h4.3v17.2h-4.3zm72.2 0h4.3v17.2h-4.3zm156.8 17h4.3v17.2h-4.3zm8.1 0h4.3v17.2h-4.3zm52.2 0h4.3v17.2h-4.3zm294.5 0h4.2v17.2h-4.2zm-318.6 16.9h4.3v17.2h-4.3zm149 17h4.3v17.2h-4.3zm-229.3 16.9h4.3v17.2h-4.3zm68.2 0h4.3v17.2h-4.3zm132.9 17h4.3v17.2h-4.3zm24.2 0h4.3v17.2h-4.3zm-92.8 67.8h4.3v17.2h-4.3zm-409.6 16.9h4.3v17.2h-4.3zm4 17h4.3v17.2h-4.3zm293.3 0h4.2v17.2h-4.2zm11.9 0h4.3v17.2h-4.3zm108.5 0h4.3v17.2h-4.3zm32.1 0h4.3v17.2h-4.3zm64.6 0h4.3v17.2h-4.3zm56.5 16.9h8.3v17.2h-8.3zm-121.1 17h4.3v17.2h-4.3zm56.6 0h4.3v17.2h-4.3zm-104.8 16.9h4.3v17.2h-4.3zm125 0h4.3v17.2h-4.3zm16.1 0h4.3v17.2h-4.3zm-36.3 17h4.3v17.2h-4.3zm44.4 0h4.3v17.2h-4.3zm-125.1 16.9h4.3v17.2h-4.3zm88.7 0h4.3v17.2h-4.3zm-185.1 17h4.3v17.2h-4.3zm36.1 0h4.3v17.2h-4.3zm342.5 0h4.2v17.2h-4.2zm-695.9 16.9h4.3v17.2h-4.3zm575.6 0h4.2v17.2h-4.2zm-174 33.9h4.3v17.2h-4.3zm48.5 0h4.3v17.2h-4.3zm48.3 0h4.3v17.2h-4.3zm48.4 0h4.3v17.2h-4.3zm28.8 0h4.2v17.2h-4.2zm24 0h4.2v17.2h-4.2zm12 0h4.2v17.2h-4.2zm36.4 0h4.2v17.2h-4.2zm-60.4 17h4.2v17.2h-4.2zm80.4 0h4.2v17.2h-4.2zm15.9 0h4.2v17.2h-4.2zm-346.6 16.9h8.3v17.2h-8.3zm246.3 0h4.2v17.2h-4.2zm68.4 0h8.2v17.2h-8.2zm-334.7 17h4.3v17.2h-4.3zm20 0h4.3v17.2h-4.3zm342.6 0h4.2v17.2h-4.2zm8 0h4.2v17.2h-4.2zm-278.2 16.9h4.3v17.2h-4.3zm185.9 0h4.2v17.2h-4.2zm-274.3 17h4.3v17.2h-4.3zm250.3 0h4.2v17.2h-4.2zm48 0h4.2v17.2h-4.2zm32.4 0h4.2v17.2h-4.2zm-656 17h4.3v17.2h-4.3zm240.7 0h4.3v17.2h-4.3zm455.2 0h4.2v17.2h-4.2zm-358.6 16.9h4.3v17.2h-4.3zm68.3 0h4.3v17.2h-4.3zm214 0h4.2v17.2h-4.2zm32.4 0h4.2v17.2h-4.2zm20 0h4.2v17.2h-4.2zm-499.5 16.9h4.3v17.2h-4.3zm40.1 0h4.3v17.2h-4.3zm363 0h4.2v17.2h-4.2zm116.3 0h4.2v17.2h-4.2z"/>
<path fill="#ff9475" d="M318.4 1868.1h4.3v17.2h-4.3zm72.6 33.9h4.3v17.2h-4.3zm140.6 16.9h4.3v17.2h-4.3zm-333.6 50.9h4.3v17.2h-4.3zm-44.1 17h4.3v17.2h-4.3zm56.4 0h4.2v17.2h-4.2zm579.4 0h4.2v17.2h-4.2zm-611.7 16.9h4.3v17.2h-4.3zm474.7 0h4.3v17.2h-4.3zm-579.1 16.9h4.3v17.2h-4.3zm200.8 0h4.3v17.2h-4.3zm15.8 0h4.3v17.2h-4.3zm205.2 0h4.3v17.2h-4.3zm-156.8 33.9h4.3v17.2h-4.3zm-12.1 33.9h4.3v17.2h-4.3zm-176.6 17h4.3v17.2h-4.3zm44.1 0h4.3v17.2h-4.3zm16.3 0h4.2v17.2h-4.2zm132.3 0h4.3v17.2h-4.3zm-152.6 16.9h4.3v17.2h-4.3zm48.1 0h4.3v17.2h-4.3zm132.8 0h4.3v17.2h-4.3zm-349.5 17h4.3v17.2h-4.3zm425.8 0h4.3v17.2h-4.3zm16.1 0h4.3v17.2h-4.3zm-389.7 16.9h4.3v17.2h-4.3zm361.5 0h4.3v17.2h-4.3zm16.1 0h4.3v17.2h-4.3zm4 34h4.3v17.2h-4.3zm246.2 16.9h4.2v17.2h-4.2zm-443.2 16.9h4.3v17.2h-4.3zm44.1 0h4.3v17.2h-4.3zm20.1 0h4.3v17.2h-4.3zm80.6 0h4.3v17.2h-4.3zm32.1 0h4.3v17.2h-4.3zm-36.1 17h4.3v17.2h-4.3zm28.1 0h4.3v17.2h-4.3zm56.3 0h8.3v17.2h-8.3zm-88.4 16.9h4.3v17.2h-4.3zm12 0h4.3v17.2h-4.3zm92.4 0h4.3v17.2h-4.3zm-88.3 33.9h4.3v17.2h-4.3zm100.4 0h4.3v17.2h-4.3zm80.7 17h4.3v17.2h-4.3zm12.1 17h4.3v17.2h-4.3zm28.3 0h4.3v17.2h-4.3zm-302.1 16.9h4.3v17.2h-4.3zm177 0h4.3v17.2h-4.3zm36.4 0h4.3v17.2h-4.3zm0 16.9h4.3v17.2h-4.3zm80.6 0h4.3v17.2h-4.3zm-306.1 50.9h4.3v17.2h-4.3zm152.9 0h4.3v17.2h-4.3zm16.1 0h4.3v17.2h-4.3zm64.5 0h4.3v17.2h-4.3zm177.5 0h4.2v17.2h-4.2zm-411 16.9h4.3v17.2h-4.3zm318.2 0h4.3v17.2h-4.3zm-80.6 17h4.3v17.2h-4.3zm-84.7 16.9h4.3v17.2h-4.3zm16.1 17h4.3v17.2h-4.3zm153.2 0h4.3v17.2h-4.3zm12.1 0h4.3v17.2h-4.3zm-153.3 16.9h4.3v17.2h-4.3zm60.6 0h4.3v17.2h-4.3zm12.1 0h4.3v17.2h-4.3zm-478.3 50.9h4.3v17.2h-4.3zm579.6 0h4.2v17.2h-4.2zm116.3 0h4.2v17.2h-4.2zm-740.2 16.9h4.3v17.2h-4.3zm417.8 0h4.3v17.2h-4.3zm28.1 0h4.3v17.2h-4.3zm210 0h4.2v17.2h-4.2zm60.4 0h4.2v17.2h-4.2zm35.9 0h4.2v17.2h-4.2zm-96.3 17h4.2v17.2h-4.2zm64.4 0h4.2v17.2h-4.2zm19.9 0h4.2v17.2h-4.2zm-370.6 16.9h4.3v17.2h-4.3zm250.3 0h4.2v17.2h-4.2zm60 0h4.2v17.2h-4.2zm-631.6 17h4.3v17.2h-4.3zm297.2 0h4.3v17.2h-4.3zm286.4 16.9h4.2v17.2h-4.2zm-270.3 17h4.3v17.2h-4.3zm262.3 0h4.2v17.2h-4.2zm12 0h4.2v17.2h-4.2zm20 0h4.2v17.2h-4.2zm52.4 0h4.2v17.2h-4.2zm23.9 0h4.2v17.2h-4.2zm-225.7 17h4.3v17.2h-4.3zm137.4 0h4.2v17.2h-4.2zm-165.8 16.9h4.3v17.2h-4.3zm20.3 0h4.3v17.2h-4.3zm125.5 0h4.2v17.2h-4.2zm80.4 0h4.2v17.2h-4.2zm-177.7 16.9h4.3v17.2h-4.3zm20.1 0h8.3v17.2h-8.3zm149.6 0h4.2v17.2h-4.2z"/>
<path fill="#ffb299" d="M165.9 1868.1h8.3v17.2h-8.3zm104.4 0h4.3v17.2h-4.3zm60.2 0h4.3v17.2h-4.3zm28.3 0h4.3v17.2h-4.3zm84.4 33.9h4.3v17.2h-4.3zm8 0h4.3v17.2h-4.3zm-240.9 16.9h4.2v17.2h-4.2zm31.8 0h4.3v17.2h-4.3zm84.4 0h4.3v17.2h-4.3zm-204.6 17h4.3v17.2h-4.3zm108.3 0h4.2v17.2h-4.2zm-152.6 84.7h4.3v17.2h-4.3zm204.6 0h8.3v17.2h-8.3zm12.1 0h8.3v17.2h-8.3zm209.2 0h4.3v17.2h-4.3zm-285.2 17h4.2v17.2h-4.2zm-156.8 16.9h4.3v17.2h-4.3zm301.4 0h4.3v17.2h-4.3zm-172.9 17h4.3v17.2h-4.3zm160.8 0h4.3v17.2h-4.3zm-124.6 16.9h4.2v17.2h-4.2zm20 17h4.3v17.2h-4.3zm112.6 0h4.3v17.2h-4.3zm-196.9 16.9h4.3v17.2h-4.3zm180.7 0h4.3v17.2h-4.3zm24.3 0h4.3v17.2h-4.3zm48.2 0h4.3v17.2h-4.3zm382.6 0h4.2v17.2h-4.2zm-711.9 17h4.3v17.2h-4.3zm240.7 0h4.3v17.2h-4.3zm124.7 0h8.3v17.2h-8.3zm24.1 0h4.3v17.2h-4.3zm80.7 0h8.3v17.2h-8.3zm-64.6 16.9h4.3v17.2h-4.3zm-405.6 17h4.3v17.2h-4.3zm369.4 0h4.3v17.2h-4.3zm205.6 33.9h4.3v17.2h-4.3zm-502.9 16.9h8.3v17.2h-8.3zm84.2 0h4.3v17.2h-4.3zm28.2 0h4.3v17.2h-4.3zm19.9 0h4.3v17.2h-4.3zm20.2 0h4.3v17.2h-4.3zm20.1 0h4.3v17.2h-4.3zm8.1 0h4.3v17.2h-4.3zm56.4 17h4.3v17.2h-4.3zm80.3 0h4.3v17.2h-4.3zm24.1 0h4.3v17.2h-4.3zm-108.4 16.9h4.3v17.2h-4.3zm72.3 0h4.3v17.2h-4.3zm-8.1 17h4.3v17.2h-4.3zm-48.2 16.9h4.3v17.2h-4.3zm92.4 0h4.3v17.2h-4.3zm16.1 0h8.3v17.2h-8.3zm16.1 17h4.3v17.2h-4.3zm16.3 0h4.3v17.2h-4.3zm-152.9 17h4.3v17.2h-4.3zm84.4 0h4.3v17.2h-4.3zm-385.6 33.8h4.3v17.2h-4.3zm425.7 0h4.3v17.2h-4.3zm0 17h4.3v17.2h-4.3zm12.1 0h4.3v17.2h-4.3zm-52.2 16.9h4.3v17.2h-4.3zm100.7 0h4.3v17.2h-4.3zm-249.6 17h4.3v17.2h-4.3zm160.9 0h4.3v17.2h-4.3zm40.2 0h4.3v17.2h-4.3zm129.2 0h4.3v17.2h-4.3zm-36.3 16.9h4.3v17.2h-4.3zm16.1 0h4.3v17.2h-4.3zm-161.2 17h4.3v17.2h-4.3zm56.2 16.9h4.3v17.2h-4.3zm101 0h4.3v17.2h-4.3zm-161.3 33.9h4.3v17.2h-4.3zm-373.5 17h4.3v17.2h-4.3zm550.9 0h4.3v17.2h-4.3zm40.7 0h4.2v17.2h-4.2zm64.4 0h4.2v17.2h-4.2zm-36.4 16.9h4.2v17.2h-4.2zm-16 17h4.2v17.2h-4.2zm-615.6 16.9h4.3v17.2h-4.3zm417.7 0h4.3v17.2h-4.3zm36.4 0h4.3v17.2h-4.3zm16.1 0h4.3v17.2h-4.3zm24.1 0h4.3v17.2h-4.3zm56.5 0h4.3v17.2h-4.3zm8.1 0h8.3v17.2h-8.3zm12.1 0h4.3v17.2h-4.3zm132.9 0h4.2v17.2h-4.2zm8 17h4.2v17.2h-4.2zm-16 16.9h4.2v17.2h-4.2zm-595.7 17h4.3v17.2h-4.3zm261.2 0h4.3v17.2h-4.3zm230.2 0h4.2v17.2h-4.2zm44 0h4.2v17.2h-4.2zm72.3 0h8.2v17.2h-8.2zm-703.9 16.9h4.3v17.2h-4.3zm329.3 17h4.3v17.2h-4.3zm12 0h4.3v17.2h-4.3zm258.3 0h4.2v17.2h-4.2zm108.3 0h4.2v17.2h-4.2zm-120.3 17h4.2v17.2h-4.2zm68.4 0h4.2v17.2h-4.2zm-358.8 33.8h4.3v17.2h-4.3zm24.1 0h4.3v17.2h-4.3zm108.4 0h4.3v17.2h-4.3zm48.6 0h4.3v17.2h-4.3zm161.3 0h4.2v17.2h-4.2z"/>
<path fill="#ff4d2e" d="M218.3 1868.1h4.2v17.2h-4.2zm220.8 33.9h4.3v17.2h-4.3zm-349.3 16.9h4.3v17.2h-4.3zm164.4 0h4.3v17.2h-4.3zm16.1 0h4.3v17.2h-4.3zm-52 17h4.2v17.2h-4.2zm132.5 0h4.3v17.2h-4.3zm-144.5 16.9h4.2v17.2h-4.2zm39.9 0h4.3v17.2h-4.3zm48.1 0h4.3v17.2h-4.3zm-76 17h4.2v17.2h-4.2zm23.8 0h4.3v17.2h-4.3zm-48.1 17h4.3v17.2h-4.3zm12.3 0h4.2v17.2h-4.2zm31.8 0h8.3v17.2h-8.3zm-15.9 16.9h4.2v17.2h-4.2zm168.8 0h4.3v17.2h-4.3zm-301.2 16.9h4.3v17.2h-4.3zm124.5 0h4.2v17.2h-4.2zm257 0h4.3v17.2h-4.3zm210.1 0h4.2v17.2h-4.2zm-672 33.9h4.3v17.2h-4.3zm345.4 0h8.3v17.2h-8.3zm-24.3 17h4.3v17.2h-4.3zm229.5 16.9h4.3v17.2h-4.3zm-394.1 17h4.3v17.2h-4.3zm16.1 0h4.3v17.2h-4.3zm8 0h4.3v17.2h-4.3zm180.9 0h4.3v17.2h-4.3zm402.9 0h4.2v17.2h-4.2zm-258.3 33.9h4.3v17.2h-4.3zm12.1 0h4.3v17.2h-4.3zm60.6 0h4.3v17.2h-4.3zm-185.2 16.9h4.3v17.2h-4.3zm96.4 0h4.3v17.2h-4.3zm-429.8 17h4.3v17.2h-4.3zm349.5 33.9h4.3v17.2h-4.3zm266.3 0h4.2v17.2h-4.2zm-266.3 16.9h4.3v17.2h-4.3zm12 0h4.3v17.2h-4.3zm8 33.9h4.3v17.2h-4.3zm-12 17h4.3v17.2h-4.3zm24.1 0h4.3v17.2h-4.3zm197.5 50.9h4.3v17.2h-4.3zm-193.5 16.9h4.3v17.2h-4.3zm68.3 0h4.3v17.2h-4.3zm105 0h4.3v17.2h-4.3zm-12.1 16.9h4.3v17.2h-4.3zm-117 17h4.3v17.2h-4.3zm36.2 50.8h4.3v17.2h-4.3zm-32.1 17h4.3v17.2h-4.3zm28.1 0h4.3v17.2h-4.3zm20.3 0h4.3v17.2h-4.3zm20.2 0h4.3v17.2h-4.3zm16.1 0h4.3v17.2h-4.3zm-124.9 16.9h4.3v17.2h-4.3zm88.6 0h4.3v17.2h-4.3zm92.7 0h8.3v17.2h-8.3zm-165.2 17h4.3v17.2h-4.3zm194 33.9h4.2v17.2h-4.2zm24 0h4.2v17.2h-4.2zm-28 16.9h4.2v17.2h-4.2zm64 0h4.2v17.2h-4.2zm-229.9 33.9h4.3v17.2h-4.3zm229.9 0h4.2v17.2h-4.2zm16.4 0h4.2v17.2h-4.2zm-56.4 17h4.2v17.2h-4.2zm44 16.9h4.2v17.2h-4.2zm-68 17h4.2v17.2h-4.2zm16 0h4.2v17.2h-4.2zm0 16.9h4.2v17.2h-4.2zm68.4 0h4.2v17.2h-4.2zm-72.4 17h4.2v17.2h-4.2zm20 0h4.2v17.2h-4.2zm-411.2 17h4.3v17.2h-4.3zm407.2 0h4.2v17.2h-4.2zm-603.6 16.9h4.3v17.2h-4.3zm603.6 0h4.2v17.2h-4.2zm-20 16.9h4.2v17.2h-4.2zm112.3 0h4.2v17.2h-4.2z"/>
<path fill="#c4a2ff" d="M395 1885h4.3v17.2h-4.3zm12 0h4.3v17.2h-4.3zm12.1 0h4.3v17.2h-4.3zm24.1 0h4.3v17.2h-4.3zm310.6 0h4.2v17.2h-4.2zm-306.6 33.9h4.3v17.2h-4.3zm-116.7 17h4.3v17.2h-4.3zm318.2 0h4.3v17.2h-4.3zm-245.7 16.9h4.3v17.2h-4.3zm40.2 0h4.3v17.2h-4.3zm108.7 0h4.3v17.2h-4.3zm8.1 0h4.3v17.2h-4.3zm40.2 0h8.3v17.2h-8.3zm24.3 0h4.3v17.2h-4.3zm76.9 0h4.2v17.2h-4.2zm44.4 0h4.2v17.2h-4.2zm-342.8 17h4.3v17.2h-4.3zm310.4 17h4.2v17.2h-4.2zm52.4 0h4.2v17.2h-4.2zm-238.2 16.9h4.3v17.2h-4.3zm100.9 0h4.3v17.2h-4.3zm-201.4 33.9h4.3v17.2h-4.3zm358.6 0h4.2v17.2h-4.2zm-663.8 16.9h4.3v17.2h-4.3zm430 0h4.3v17.2h-4.3zm-148.9 17h4.3v17.2h-4.3zm20.1 0h4.3v17.2h-4.3zm104.5 0h4.3v17.2h-4.3zm-333.6 16.9h4.3v17.2h-4.3zm305.4 0h4.3v17.2h-4.3zm80.7 0h4.3v17.2h-4.3zm-141 17h4.3v17.2h-4.3zm157.1 0h12.3v17.2h-12.3zm189.5 0h4.2v17.2h-4.2zm-695.9 16.9h4.3v17.2h-4.3zm333.3 0h4.3v17.2h-4.3zm153 0h4.3v17.2h-4.3zm-245.6 17h4.3v17.2h-4.3zm0 16.9h4.3v17.2h-4.3zm402.9 17h4.2v17.2h-4.2zm-683.9 17h4.3v17.2h-4.3zm413.8 0h4.3v17.2h-4.3zm258.1 0h4.2v17.2h-4.2zm-712 16.9h4.3v17.2h-4.3zm28.1 0h4.3v17.2h-4.3zm8 0h8.3v17.2h-8.3zm40.3 0h4.3v17.2h-4.3zm92.2 0h4.3v17.2h-4.3zm8 0h4.3v17.2h-4.3zm12 0h4.3v17.2h-4.3zm8.3 0h4.2v17.2h-4.2zm8 0h4.2v17.2h-4.2zm27.8 0h4.3v17.2h-4.3zm44.1 0h4.3v17.2h-4.3zm28.2 0h4.3v17.2h-4.3zm-301 16.9h4.3v17.2h-4.3zm60.2 0h4.3v17.2h-4.3zm401.7 0h4.3v17.2h-4.3zm-353.4 17h4.3v17.2h-4.3zm192.5 0h4.3v17.2h-4.3zm395 0h4.2v17.2h-4.2zm-679.9 16.9h4.3v17.2h-4.3zm252.7 0h4.3v17.2h-4.3zm269.7 0h4.3v17.2h-4.3zm-526.4 17h4.3v17.2h-4.3zm768.2 0h4.2v17.2h-4.2zm-76.3 16.9h4.2v17.2h-4.2zm-346.5 17h4.3v17.2h-4.3zm245.5 0h4.3v17.2h-4.3zm-570.9 17h8.3v17.2h-8.3zm12 0h4.3v17.2h-4.3zm40.3 0h4.3v17.2h-4.3zm64.1 0h4.3v17.2h-4.3zm28.1 0h4.3v17.2h-4.3zm48.1 0h8.3v17.2h-8.3zm24.2 0h4.3v17.2h-4.3zm8 0h4.3v17.2h-4.3zm96.6 0h4.3v17.2h-4.3zm302.5 0h4.2v17.2h-4.2zm36 0h4.2v17.2h-4.2zm84.3 0h4.2v17.2h-4.2zm-780.3 16.9h4.3v17.2h-4.3zm24.1 0h4.3v17.2h-4.3zm44.1 0h4.3v17.2h-4.3zm8.2 0h4.3v17.2h-4.3zm56.3 0h4.2v17.2h-4.2zm35.9 0h4.3v17.2h-4.3zm20 0h4.3v17.2h-4.3zm8.3 0h4.2v17.2h-4.2zm23.9 0h4.2v17.2h-4.2zm20 0h4.3v17.2h-4.3zm76.3 0h4.3v17.2h-4.3zm24.3 0h4.3v17.2h-4.3zm16.1 0h8.3v17.2h-8.3zm-341.4 16.9h4.3v17.2h-4.3zm132.4 0h4.3v17.2h-4.3zm36.1 0h4.3v17.2h-4.3zm104.3 0h4.3v17.2h-4.3zm28.2 0h4.3v17.2h-4.3zm16.1 0h4.3v17.2h-4.3zm374.8 0h4.2v17.2h-4.2zm72.3 0h4.2v17.2h-4.2zm-655.5 33.9h4.2v17.2h-4.2zm19.7 17h4.3v17.2h-4.3zm24.1 0h4.3v17.2h-4.3zm16 0h4.3v17.2h-4.3zm12.3 0h4.2v17.2h-4.2zm56 0h4.3v17.2h-4.3zm8 0h4.3v17.2h-4.3zm-244.8 16.9h4.3v17.2h-4.3zm44.1 0h8.3v17.2h-8.3zm24.2 0h4.3v17.2h-4.3zm40.4 0h4.2v17.2h-4.2zm120 0h4.3v17.2h-4.3zm56.2 0h4.3v17.2h-4.3zm56.5 0h4.3v17.2h-4.3zm306.5 0h4.2v17.2h-4.2zm8 0h4.2v17.2h-4.2zm112.3 0h4.2v17.2h-4.2zm-788.3 33.9h4.3v17.2h-4.3zm16 0h4.3v17.2h-4.3zm32.1 0h4.3v17.2h-4.3zm260.9 0h4.3v17.2h-4.3zm16.1 0h4.3v17.2h-4.3zm36.4 0h8.3v17.2h-8.3zm342.5 0h4.2v17.2h-4.2zm8 0h4.2v17.2h-4.2zm56.4 0h4.2v17.2h-4.2zm-599.9 17h4.3v17.2h-4.3zm20.1 0h4.3v17.2h-4.3zm16.3 0h4.2v17.2h-4.2zm39.9 0h4.3v17.2h-4.3zm60.2 0h4.3v17.2h-4.3zm20.1 0h4.3v17.2h-4.3zm12.1 0h4.3v17.2h-4.3zm338.8 0h4.2v17.2h-4.2zm-567.5 16.9h4.3v17.2h-4.3zm514.6 0h4.3v17.2h-4.3zm44.9 0h4.2v17.2h-4.2zm28 0h4.2v17.2h-4.2zm16 0h4.2v17.2h-4.2zm36.4 0h4.2v17.2h-4.2zm-708.3 17h4.3v17.2h-4.3zm92.6 0h4.2v17.2h-4.2zm15.8 0h4.3v17.2h-4.3zm28.1 0h4.3v17.2h-4.3zm24.3 0h4.2v17.2h-4.2zm15.9 0h4.2v17.2h-4.2zm15.9 0h4.3v17.2h-4.3zm12.1 0h4.3v17.2h-4.3zm12.1 0h4.3v17.2h-4.3zm12.1 0h4.3v17.2h-4.3zm108.7 0h4.2v17.2h-4.2zm209.1 0h4.3v17.2h-4.3zm-562.7 16.9h4.3v17.2h-4.3zm220.7 0h4.3v17.2h-4.3zm-224.7 17h4.3v17.2h-4.3zm20 0h4.3v17.2h-4.3zm164.8 0h4.2v17.2h-4.2zm-204.9 16.9h4.3v17.2h-4.3zm208.9 0h4.2v17.2h-4.2zm112.2 0h8.3v17.2h-8.3zm68.5 17h4.3v17.2h-4.3zm16.1 0h4.3v17.2h-4.3zm16 0h4.3v17.2h-4.3zm36.2 0h4.3v17.2h-4.3zm24.1 0h4.3v17.2h-4.3zm24.1 0h4.3v17.2h-4.3zm100.9 0h8.3v17.2h-8.3zm48.4 0h4.3v17.2h-4.3zm-318.2 16.9h4.3v17.2h-4.3zm318.2 0h4.3v17.2h-4.3zm-635.3 33.9h4.3v17.2h-4.3zm534.5 0h4.3v17.2h-4.3zm12.1 0h4.3v17.2h-4.3zm8 0h4.3v17.2h-4.3zm36.3 0h4.3v17.2h-4.3zm-96.9 34h4.3v17.2h-4.3zm24.4 0h4.3v17.2h-4.3zm8 0h4.3v17.2h-4.3zm12.1 0h4.3v17.2h-4.3zm20.1 0h4.3v17.2h-4.3zm60.5 0h4.3v17.2h-4.3zm-611.1 16.9h4.3v17.2h-4.3zm8 0h4.3v17.2h-4.3zm12 0h4.3v17.2h-4.3zm24.1 0h4.3v17.2h-4.3zm76.3 0h4.3v17.2h-4.3zm28.1 0h4.3v17.2h-4.3zm104.2 0h4.3v17.2h-4.3zm334.3 0h4.3v17.2h-4.3zm16.1 0h4.3v17.2h-4.3zm-563 16.9h8.3v17.2h-8.3zm571 0h4.3v17.2h-4.3z"/>
<path fill="#ff5b3a" d="M153.9 1918.9h4.3v17.2h-4.3zm196.9 0h4.3v17.2h-4.3zm-96.6 17h4.3v17.2h-4.3zm-72.2 16.9h4.3v17.2h-4.3zm40.2 0h4.2v17.2h-4.2zm92.2 0h4.3v17.2h-4.3zm52.5 0h4.3v17.2h-4.3zm-112.7 17h4.3v17.2h-4.3zm8.1 0h4.3v17.2h-4.3zm12.1 0h4.3v17.2h-4.3zm-104.5 17h4.3v17.2h-4.3zm100.4 0h4.3v17.2h-4.3zm-60 16.9h4.2v17.2h-4.2zm-60.4 16.9h4.3v17.2h-4.3zm329.5 0h4.3v17.2h-4.3zm-273.1 50.9h4.2v17.2h-4.2zm132.3 0h4.3v17.2h-4.3zm-120.3 33.9h4.2v17.2h-4.2zm76 16.9h4.3v17.2h-4.3zm209.2 17h4.3v17.2h-4.3zm92.7 0h4.3v17.2h-4.3zm-185.1 33.9h4.3v17.2h-4.3zm-229.1 17h4.3v17.2h-4.3zm305.4 16.9h4.3v17.2h-4.3zm68.6 0h4.3v17.2h-4.3zm137.4 0h4.2v17.2h-4.2zm-519.5 16.9h4.3v17.2h-4.3zm64.2 0h4.3v17.2h-4.3zm173 0h4.3v17.2h-4.3zm16 0h4.3v17.2h-4.3zm-36.1 17h4.3v17.2h-4.3zm44.1 0h4.3v17.2h-4.3zm-12 16.9h4.3v17.2h-4.3zm64.3 0h4.3v17.2h-4.3zm-56.3 17h4.3v17.2h-4.3zm12.1 0h4.3v17.2h-4.3zm-265.2 16.9h4.3v17.2h-4.3zm-112.4 17h4.3v17.2h-4.3zm506.5 0h4.3v17.2h-4.3zm-24.2 17h4.3v17.2h-4.3zm20.1 0h4.3v17.2h-4.3zm16.1 0h4.3v17.2h-4.3zm-36.2 16.9h4.3v17.2h-4.3zm84.7 0h4.3v17.2h-4.3zm24.1 0h4.3v17.2h-4.3zm-12.1 16.9h4.3v17.2h-4.3zm-213.5 17h4.3v17.2h-4.3zm48.3 0h4.3v17.2h-4.3zm24.1 0h4.3v17.2h-4.3zm12 0h4.3v17.2h-4.3zm-213.2 33.9h4.3v17.2h-4.3zm197.1 0h4.3v17.2h-4.3zm153.3 0h4.3v17.2h-4.3zm-72.6 16.9h4.3v17.2h-4.3zm12.1 0h4.3v17.2h-4.3zm-169.1 17h4.3v17.2h-4.3zm72.3 0h4.3v17.2h-4.3zm68.6 0h4.3v17.2h-4.3zm-72.6 16.9h4.3v17.2h-4.3zm12.1 0h4.3v17.2h-4.3zm121 0h4.3v17.2h-4.3zm-109 17h4.3v17.2h-4.3zm8 0h4.3v17.2h-4.3zm28.4 0h4.3v17.2h-4.3zm64.5 33.9h4.3v17.2h-4.3zm24.2 0h4.3v17.2h-4.3zm28.8 0h4.2v17.2h-4.2zm48 0h8.2v17.2h-8.2zm-623.6 16.9h4.3v17.2h-4.3zm703.9 0h4.2v17.2h-4.2zm-128.3 17h4.2v17.2h-4.2zm20 0h4.2v17.2h-4.2zm24 0h4.2v17.2h-4.2zm-234 16.9h4.3v17.2h-4.3zm234 0h4.2v17.2h-4.2zm44.4 0h4.2v17.2h-4.2zm31.9 0h4.2v17.2h-4.2zm-15.9 17h4.2v17.2h-4.2zm0 16.9h4.2v17.2h-4.2zm-60.4 17h4.2v17.2h-4.2zm-40 16.9h4.2v17.2h-4.2zm-571.6 17h4.3v17.2h-4.3zm333.3 17h4.3v17.2h-4.3zm274.3 16.9h4.2v17.2h-4.2zm-411.1 16.9h4.3v17.2h-4.3z"/>
<path fill="#a074ff" d="M161.9 2207.1h4.3v17.2h-4.3zm12 118.7h4.3v17.2h-4.3zm76.3 0h8.3v17.2h-8.3zm-244.8 16.9h4.3v17.2h-4.3zm32.1 0h4.3v17.2h-4.3zm716.3 135.6h4.2v17.2h-4.2zm-684.2 33.9h4.3v17.2h-4.3zm108.4 0h4.3v17.2h-4.3zm152.5 0h4.3v17.2h-4.3zm-321.1 50.8h4.3v17.2h-4.3zm60.2 0h12.3v17.2h-12.3z"/>
<path fill="#9569ff" d="M53.5 2342.7h4.3v17.2h-4.3zm100.4 0h4.3v17.2h-4.3zm-144.5 169.5h4.3v17.2h-4.3zm184.6 0h4.3v17.2h-4.3zm-140.5 50.8h4.3v17.2h-4.3zm277 118.7h4.3v17.2h-4.3z"/>
<path fill="#ff9e81" d="M157.9 1868.1h4.3v17.2h-4.3zm28.1 0h4.3v17.2h-4.3zm40.2 0h4.2v17.2h-4.2zm15.9 0h4.3v17.2h-4.3zm398.5 67.8h4.3v17.2h-4.3zm-486.7 33.9h4.3v17.2h-4.3zm60.4 0h4.2v17.2h-4.2zm-52.4 17h4.3v17.2h-4.3zm68.3 0h4.2v17.2h-4.2zm16 0h4.3v17.2h-4.3zm-64.2 16.9h4.3v17.2h-4.3zm140.4 16.9h4.3v17.2h-4.3zm-164.5 50.9h4.3v17.2h-4.3zm209 0h4.3v17.2h-4.3zm-80.7 16.9h4.3v17.2h-4.3zm257.7 50.9h4.3v17.2h-4.3zm257.8 0h4.2v17.2h-4.2zm-402.7 33.9h4.3v17.2h-4.3zm48.2 17h4.3v17.2h-4.3zm-357.4 16.9h4.3v17.2h-4.3zm445.8 0h4.3v17.2h-4.3zm12.3 0h4.3v17.2h-4.3zm52.3 0h4.3v17.2h-4.3zm28.3 0h4.3v17.2h-4.3zm-478.6 16.9h4.3v17.2h-4.3zm132.3 0h4.3v17.2h-4.3zm12.1 0h4.3v17.2h-4.3zm24.1 0h4.3v17.2h-4.3zm88.6 0h4.3v17.2h-4.3zm44.2 17h4.3v17.2h-4.3zm20.1 0h4.3v17.2h-4.3zm210.1 0h4.2v17.2h-4.2zm-290.4 33.9h4.3v17.2h-4.3zm48.1 0h4.3v17.2h-4.3zm-349.3 16.9h4.3v17.2h-4.3zm84.1 17h4.3v17.2h-4.3zm382.1 0h4.3v17.2h-4.3zm-273.8 17h4.3v17.2h-4.3zm358.4 0h4.3v17.2h-4.3zm-358.4 16.9h4.3v17.2h-4.3zm330.2 0h4.3v17.2h-4.3zm-570.9 33.9h4.3v17.2h-4.3zm337.6 33.9h4.2v17.2h-4.2zm104.3 0h4.3v17.2h-4.3zm12 0h4.3v17.2h-4.3zm16.1 0h4.3v17.2h-4.3zm68.6 0h4.3v17.2h-4.3zm56.5 0h4.3v17.2h-4.3zm-133.1 16.9h4.3v17.2h-4.3zm80.6 17h4.3v17.2h-4.3zm68.6 0h4.3v17.2h-4.3zm-173.3 16.9h4.3v17.2h-4.3zm-8.1 17h4.3v17.2h-4.3zm161.3 0h4.3v17.2h-4.3zm-161.3 16.9h4.3v17.2h-4.3zm16.1 0h4.3v17.2h-4.3zm40.2 0h4.3v17.2h-4.3zm8 0h4.3v17.2h-4.3zm52.6 0h4.3v17.2h-4.3zm-177.1 17h4.3v17.2h-4.3zm8 0h4.3v17.2h-4.3zm20 0h4.3v17.2h-4.3zm294.3 0h4.2v17.2h-4.2zm-28 16.9h4.2v17.2h-4.2zm44.4 17h4.2v17.2h-4.2zm20 0h4.2v17.2h-4.2zm-684 16.9h4.3v17.2h-4.3zm433.7 0h4.3v17.2h-4.3zm36.5 0h4.3v17.2h-4.3zm12 0h4.3v17.2h-4.3zm32.2 0h4.3v17.2h-4.3zm56.5 0h4.3v17.2h-4.3zm80.7 0h4.2v17.2h-4.2zm40.3 17h4.2v17.2h-4.2zm20 0h4.2v17.2h-4.2zm-382.6 16.9h4.3v17.2h-4.3zm40.1 0h4.3v17.2h-4.3zm76.4 0h4.3v17.2h-4.3zm246.1 0h4.2v17.2h-4.2zm-386.7 17h4.3v17.2h-4.3zm326.4 0h4.2v17.2h-4.2zm-479.3 16.9h4.3v17.2h-4.3zm459.3 0h4.2v17.2h-4.2zm32 0h4.2v17.2h-4.2zm72.3 0h4.2v17.2h-4.2zm-707.9 17h4.3v17.2h-4.3zm680 0h4.2v17.2h-4.2zm19.9 0h4.2v17.2h-4.2zm-394.7 33.9h4.3v17.2h-4.3zm40.1 0h4.3v17.2h-4.3zm104.8 0h4.3v17.2h-4.3zm60.4 16.9h4.3v17.2h-4.3zm169.5 0h4.2v17.2h-4.2z"/>
<path fill="#ff7e5e" d="M198 1868.1h4.3v17.2h-4.3zm92.2 0h4.3v17.2h-4.3zm16.2 0h4.3v17.2h-4.3zm84.6 0h4.3v17.2h-4.3zm358.8 0h4.2v17.2h-4.2zm-318.7 33.9h4.3v17.2h-4.3zm16.1 0h4.3v17.2h-4.3zm56.3 33.9h4.3v17.2h-4.3zm-237.2 33.9h4.3v17.2h-4.3zm72.3 0h4.3v17.2h-4.3zm32.3 0h4.3v17.2h-4.3zm-152.6 17h4.2v17.2h-4.2zm39.9 16.9h4.3v17.2h-4.3zm100.6 0h4.3v17.2h-4.3zm-128.6 16.9h4.2v17.2h-4.2zm32.1 0h4.3v17.2h-4.3zm44.1 0h4.3v17.2h-4.3zm185 0h4.3v17.2h-4.3zm-177 17h4.3v17.2h-4.3zm36.4 0h4.3v17.2h-4.3zm16.1 0h4.3v17.2h-4.3zm-124.8 16.9h4.3v17.2h-4.3zm64.3 0h4.3v17.2h-4.3zm168.9 33.9h4.3v17.2h-4.3zm-277.3 17h4.3v17.2h-4.3zm8.3 0h4.2v17.2h-4.2zm31.8 0h4.3v17.2h-4.3zm32.2 0h4.3v17.2h-4.3zm-28.2 16.9h4.3v17.2h-4.3zm-4 50.9h4.3v17.2h-4.3zm233.2 33.9h4.3v17.2h-4.3zm48.2 0h8.3v17.2h-8.3zm48.5 0h4.3v17.2h-4.3zm-386 16.9h4.3v17.2h-4.3zm261.2 0h4.3v17.2h-4.3zm8 0h4.3v17.2h-4.3zm-8 17h4.3v17.2h-4.3zm36.2 0h4.3v17.2h-4.3zm24.1 0h4.3v17.2h-4.3zm100.8 0h4.3v17.2h-4.3zm-193.2 16.9h4.3v17.2h-4.3zm8 0h4.3v17.2h-4.3zm8 0h4.3v17.2h-4.3zm8 0h4.3v17.2h-4.3zm-273.2 17h4.3v17.2h-4.3zm241.1 16.9h4.3v17.2h-4.3zm92.4 0h4.3v17.2h-4.3zm125.1 34h4.3v17.2h-4.3zm-64.5 16.9h4.3v17.2h-4.3zm-225.5 16.9h4.3v17.2h-4.3zm144.8 17h4.3v17.2h-4.3zm-96.2 50.8h4.2v17.2h-4.2zm265.5 0h4.3v17.2h-4.3zm8.1 0h4.3v17.2h-4.3zm-607.2 17h4.3v17.2h-4.3zm285 0h4.3v17.2h-4.3zm273.8 0h4.3v17.2h-4.3zm-68.7 33.9h4.3v17.2h-4.3zm-40.2 16.9h4.3v17.2h-4.3zm100.8 0h4.3v17.2h-4.3zm205.5 17h4.2v17.2h-4.2zm-687.8 16.9h4.3v17.2h-4.3zm599.5 0h4.2v17.2h-4.2zm12 0h4.2v17.2h-4.2zm-8 17h4.2v17.2h-4.2zm-153.4 16.9h4.3v17.2h-4.3zm-245.6 17h4.3v17.2h-4.3zm399 0h4.2v17.2h-4.2zm-44 16.9h4.2v17.2h-4.2zm-234.3 17h8.3v17.2h-8.3zm250.3 16.9h4.2v17.2h-4.2zm-282.4 17h4.3v17.2h-4.3zm136.9 0h4.3v17.2h-4.3zm189.5 17h4.2v17.2h-4.2zm64.3 0h4.2v17.2h-4.2zm-314.3 16.9h4.3v17.2h-4.3zm198 0h4.2v17.2h-4.2zm108.3 0h4.2v17.2h-4.2zm-64.3 16.9h4.2v17.2h-4.2zm40.4 0h4.2v17.2h-4.2z"/>
<path fill="#8a5dff" d="M53.5 2512.2h4.3v17.2h-4.3z"/>
<path fill="#ff0000" d="M737.4 1902h4.2v17.2h-4.2zm-587.5 16.9h4.3v17.2h-4.3zm8 0h4.3v17.2h-4.3zm8 0h4.3v17.2h-4.3zm8 0h8.3v17.2h-8.3zm16.1 0h8.3v17.2h-8.3zm16.3 0h4.2v17.2h-4.2zm8 0h16.2v17.2h-16.2zm23.8 0h4.3v17.2h-4.3zm8.1 0h4.3v17.2h-4.3zm12 0h12.3v17.2h-12.3zm16.2 0h4.3v17.2h-4.3zm84.4 0h12.3v17.2h-12.3zm-196.9 17h8.3v17.2h-8.3zm16.1 0h4.3v17.2h-4.3zm8 0h16.3v17.2h-16.3zm20.3 0h12.2v17.2h-12.2zm19.9 0h4.2v17.2h-4.2zm11.9 0h4.3v17.2h-4.3zm8.1 0h8.3v17.2h-8.3zm12 0h20.4v17.2h-20.4zm96.6 0h16.3v17.2h-16.3zm-204.9 16.9h8.3v17.2h-8.3zm12 0h8.3v17.2h-8.3zm28.1 0h4.3v17.2h-4.3zm8 0h4.3v17.2h-4.3zm16.3 0h4.2v17.2h-4.2zm23.8 0h8.3v17.2h-8.3zm16.1 0h8.3v17.2h-8.3zm12.1 0h8.3v17.2h-8.3zm15.9 0h12.3v17.2h-12.3zm16.1 0h16.4v17.2h-16.4zm20.1 0h4.3v17.2h-4.3zm8.1 0h16.4v17.2h-16.4zm24.3 0h8.3v17.2h-8.3zm-200.9 17h4.3v17.2h-4.3zm16 0h32.3v17.2h-32.3zm40.4 0h8.2v17.2h-8.2zm19.9 0h4.2v17.2h-4.2zm11.9 0h4.3v17.2h-4.3zm8.1 0h8.3v17.2h-8.3zm12 0h4.3v17.2h-4.3zm12.1 0h4.3v17.2h-4.3zm11.9 0h12.3v17.2h-12.3zm16.1 0h8.3v17.2h-8.3zm12.1 0h8.3v17.2h-8.3zm12 0h4.3v17.2h-4.3zm12.1 0h4.3v17.2h-4.3zm16.3 0h12.3v17.2h-12.3zm16.1 0h4.3v17.2h-4.3zm-188.9 17h8.3v17.2h-8.3zm12 0h4.3v17.2h-4.3zm36.2 0h4.2v17.2h-4.2zm32 0h4.3v17.2h-4.3zm16.2 0h4.3v17.2h-4.3zm76.4 0h4.3v17.2h-4.3zm16.1 0h4.3v17.2h-4.3zm-193 16.9h4.3v17.2h-4.3zm12.1 0h8.3v17.2h-8.3zm12 0h4.3v17.2h-4.3zm16.3 0h4.2v17.2h-4.2zm11.9 0h4.2v17.2h-4.2zm140.7 0h4.3v17.2h-4.3zm-197 16.9h4.3v17.2h-4.3zm40.4 0h4.2v17.2h-4.2zm8 0h4.2v17.2h-4.2zm19.8 0h4.3v17.2h-4.3zm8.1 0h8.3v17.2h-8.3zm24.1 0h4.3v17.2h-4.3zm80.5 0h12.3v17.2h-12.3zm16.1 0h4.3v17.2h-4.3zm-209 17h24.3v17.2h-24.3zm32.1 0h12.3v17.2h-12.3zm20.3 0h8.2v17.2h-8.2zm11.9 0h4.2v17.2h-4.2zm19.9 0h24.4v17.2h-24.4zm28.2 0h8.3v17.2h-8.3zm-120.4 16.9h8.3v17.2h-8.3zm16 0h28.3v17.2h-28.3zm40.4 0h4.2v17.2h-4.2zm8 0h4.2v17.2h-4.2zm7.9 0h12.2v17.2h-12.2zm15.9 0h4.3v17.2h-4.3zm8.1 0h20.4v17.2h-20.4zm24.1 0h8.3v17.2h-8.3zm96.6 0h4.3v17.2h-4.3zm-84.7 17h4.3v17.2h-4.3zm8 0h4.3v17.2h-4.3zm8.1 0h32.5v17.2h-32.5zm36.2 0h4.3v17.2h-4.3zm-196.4 16.9h4.2v17.2h-4.2zm144.1 0h4.3v17.2h-4.3zm8 0h4.3v17.2h-4.3zm8.1 0h4.3v17.2h-4.3zm8.1 0h12.3v17.2h-12.3zm16 0h4.3v17.2h-4.3zm8.1 0h8.3v17.2h-8.3zm12.1 0h4.3v17.2h-4.3zm-172.7 17h4.3v17.2h-4.3zm8.1 0h4.3v17.2h-4.3zm84.3 0h4.3v17.2h-4.3zm19.9 0h12.3v17.2h-12.3zm20.1 0h8.3v17.2h-8.3zm16.1 0h8.3v17.2h-8.3zm12.1 0h12.3v17.2h-12.3zm-48.3 16.9h4.3v17.2h-4.3zm8 0h4.3v17.2h-4.3zm8.1 0h24.4v17.2h-24.4zm28.2 0h4.3v17.2h-4.3zm8 0h4.3v17.2h-4.3zm56.5 17h20.3v17.2h-20.3zm24.1 0h12.3v17.2h-12.3zm16 0h8.3v17.2h-8.3zm12.1 0h4.3v17.2h-4.3zm28.1 0h4.3v17.2h-4.3zm8.1 0h4.3v17.2h-4.3zm16 0h8.3v17.2h-8.3zm12.1 0h8.3v17.2h-8.3zm16 0h4.3v17.2h-4.3zm12.1 0h4.3v17.2h-4.3zm-144.6 16.9h12.3v17.2h-12.3zm20.1 0h12.3v17.2h-12.3zm16 0h8.3v17.2h-8.3zm12 0h8.3v17.2h-8.3zm-48.1 17h4.3v17.2h-4.3zm12 0h8.3v17.2h-8.3zm12.1 0h32.3v17.2h-32.3zm177.1 0h4.3v17.2h-4.3zm-201.2 17h4.3v17.2h-4.3zm8 0h12.3v17.2h-12.3zm16.1 0h16.3v17.2h-16.3zm20 0h12.3v17.2h-12.3zm32.2 0h4.3v17.2h-4.3zm-373.5 16.9h4.3v17.2h-4.3zm297.2 0h28.3v17.2h-28.3zm36.1 0h8.3v17.2h-8.3zm12 0h20.3v17.2h-20.3zm40.3 0h4.3v17.2h-4.3zm12 0h12.3v17.2h-12.3zm16.1 0h4.3v17.2h-4.3zm24.1 0h4.3v17.2h-4.3zm32.4 0h4.3v17.2h-4.3zm16.1 0h16.3v17.2h-16.3zm24.2 0h4.3v17.2h-4.3zm73.1 0h4.2v17.2h-4.2zm12 0h4.2v17.2h-4.2zm8 0h4.2v17.2h-4.2zm12 0h4.2v17.2h-4.2zm-318.4 16.9h4.3v17.2h-4.3zm24.1 0h4.3v17.2h-4.3zm32.1 0h4.3v17.2h-4.3zm-36.1 17h4.3v17.2h-4.3zm12 0h4.3v17.2h-4.3zm8 0h4.3v17.2h-4.3zm8 0h4.3v17.2h-4.3zm76.4 0h4.3v17.2h-4.3zm-425.7 16.9h4.3v17.2h-4.3zm309.2 0h4.3v17.2h-4.3zm48.2 0h4.3v17.2h-4.3zm-48.2 17h4.3v17.2h-4.3zm8 0h8.3v17.2h-8.3zm12.1 0h4.3v17.2h-4.3zm16 0h4.3v17.2h-4.3zm-36.1 16.9h4.3v17.2h-4.3zm24.1 0h4.3v17.2h-4.3zm24.1 0h8.3v17.2h-8.3zm-357.4 17h4.3v17.2h-4.3zm373.5 0h28.4v17.2h-28.4zm32.1 0h8.3v17.2h-8.3zm12.1 0h16.3v17.2h-16.3zm20.1 0h4.3v17.2h-4.3zm-225.3 17h4.3v17.2h-4.3zm161 0h12.3v17.2h-12.3zm20.1 0h4.3v17.2h-4.3zm8 0h16.3v17.2h-16.3zm20.1 0h12.3v17.2h-12.3zm16.1 0h4.3v17.2h-4.3zm8 0h4.3v17.2h-4.3zm8.3 0h4.3v17.2h-4.3zm8 0h16.3v17.2h-16.3zm20.2 0h8.3v17.2h-8.3zm16.1 0h12.3v17.2h-12.3zm36.3 0h8.3v17.2h-8.3zm20.1 0h4.3v17.2h-4.3zm8.1 0h4.3v17.2h-4.3zm-350.4 16.9h4.3v17.2h-4.3zm161 0h24.3v17.2h-24.3zm32.1 0h8.3v17.2h-8.3zm20.1 0h8.3v17.2h-8.3zm16.1 0h4.3v17.2h-4.3zm28.4 0h12.3v17.2h-12.3zm24.1 0h4.3v17.2h-4.3zm8.1 0h8.3v17.2h-8.3zm12.1 0h4.3v17.2h-4.3zm12.1 0h12.3v17.2h-12.3zm24.2 0h4.3v17.2h-4.3zm12.1 0h4.3v17.2h-4.3zm-350.4 16.9h4.3v17.2h-4.3zm161 0h44.4v17.2h-44.4zm48.2 0h4.3v17.2h-4.3zm12 0h8.3v17.2h-8.3zm28.4 0h40.5v17.2h-40.5zm44.3 0h12.3v17.2h-12.3zm32.3 0h12.3v17.2h-12.3zm24.2 0h4.3v17.2h-4.3zm-562.9 17h4.3v17.2h-4.3zm377.5 0h8.3v17.2h-8.3zm16.1 0h4.3v17.2h-4.3zm24.1 0h8.3v17.2h-8.3zm16 0h4.3v17.2h-4.3zm12.1 0h4.3v17.2h-4.3zm-72.3 16.9h4.3v17.2h-4.3zm8 0h8.3v17.2h-8.3zm12.1 0h16.3v17.2h-16.3zm20.1 0h12.3v17.2h-12.3zm20 0h8.3v17.2h-8.3zm40.5 0h4.3v17.2h-4.3zm-100.7 17h4.3v17.2h-4.3zm44.2 0h4.3v17.2h-4.3zm20.1 0h4.3v17.2h-4.3zm20.3 0h4.3v17.2h-4.3zm8.1 0h24.4v17.2h-24.4zm32.2 0h12.3v17.2h-12.3zm24.2 0h4.3v17.2h-4.3zm28.2 0h8.3v17.2h-8.3zm16.1 0h4.3v17.2h-4.3zm-193.4 16.9h8.3v17.2h-8.3zm12 0h28.4v17.2h-28.4zm36.2 0h24.3v17.2h-24.3zm40.4 0h12.3v17.2h-12.3zm16.1 0h12.3v17.2h-12.3zm16.1 0h8.3v17.2h-8.3zm12.1 0h4.3v17.2h-4.3zm-124.9 17h8.3v17.2h-8.3zm16.1 0h8.3v17.2h-8.3zm12 0h4.3v17.2h-4.3zm8.1 0h16.3v17.2h-16.3zm20.1 0h4.3v17.2h-4.3zm32.4 0h4.3v17.2h-4.3zm16.1 0h4.3v17.2h-4.3zm20.1 0h4.3v17.2h-4.3zm-120.9 16.9h4.3v17.2h-4.3zm8.1 0h4.3v17.2h-4.3zm16 0h4.3v17.2h-4.3zm8.1 0h4.3v17.2h-4.3zm8 0h4.3v17.2h-4.3zm40.5 0h12.3v17.2h-12.3zm16.1 0h16.3v17.2h-16.3zm24.1 0h4.3v17.2h-4.3zm24.3 0h4.3v17.2h-4.3zm12.1 0h4.3v17.2h-4.3zm8 0h4.3v17.2h-4.3zm-165.3 17h4.3v17.2h-4.3zm20.1 0h20.3v17.2h-20.3zm24.1 0h4.3v17.2h-4.3zm24.4 0h8.3v17.2h-8.3zm16.1 0h32.4v17.2h-32.4zm36.2 0h4.3v17.2h-4.3zm141.2 16.9h4.2v17.2h-4.2zm-643.6 17h4.3v17.2h-4.3zm591.6 0h4.2v17.2h-4.2zm24 0h8.2v17.2h-8.2zm16 0h4.2v17.2h-4.2zm-48 33.9h8.2v17.2h-8.2zm20 0h8.2v17.2h-8.2zm12 0h4.2v17.2h-4.2zm12 0h8.2v17.2h-8.2zm-133.2 16.9h4.3v17.2h-4.3zm81.2 0h4.2v17.2h-4.2zm16 0h8.2v17.2h-8.2zm36 0h4.2v17.2h-4.2zm8 0h4.2v17.2h-4.2zm40.4 0h4.2v17.2h-4.2zm11.9 0h8.2v17.2h-8.2zm-104.3 17h4.2v17.2h-4.2zm12 0h4.2v17.2h-4.2zm24 0h4.2v17.2h-4.2zm8 0h12.2v17.2h-12.2zm-627.6 16.9h8.3v17.2h-8.3zm591.6 0h4.2v17.2h-4.2zm32 0h8.2v17.2h-8.2zm16 0h4.2v17.2h-4.2zm-32 17h4.2v17.2h-4.2zm20 0h4.2v17.2h-4.2zm8 0h8.2v17.2h-8.2zm-60 16.9h4.2v17.2h-4.2zm40 0h4.2v17.2h-4.2zm24 0h8.2v17.2h-8.2zm12.4 0h8.2v17.2h-8.2zm12 0h44.2v17.2h-44.2zm-36.4 17h4.2v17.2h-4.2zm8 0h12.2v17.2h-12.2zm-24 17h4.2v17.2h-4.2zm12 0h4.2v17.2h-4.2zm8 0h4.2v17.2h-4.2zm-56 16.9h4.2v17.2h-4.2zm16 0h8.2v17.2h-8.2zm16 0h4.2v17.2h-4.2zm16 0h8.2v17.2h-8.2zm32.4 0h4.2v17.2h-4.2zm8 0h4.2v17.2h-4.2zm16 0h16.2v17.2h-16.2zm23.9 0h4.2v17.2h-4.2zm-695.9 16.9h4.3v17.2h-4.3zm583.6 0h4.2v17.2h-4.2zm8 0h12.2v17.2h-12.2zm36 0h4.2v17.2h-4.2zm28.4 0h4.2v17.2h-4.2zm23.9 0h4.2v17.2h-4.2zm20 0h4.2v17.2h-4.2z"/>
<path fill="#ff6846" d="M218.3 1952.8h4.2v17.2h-4.2zm7.9 0h4.2v17.2h-4.2zm36.1 0h4.3v17.2h-4.3zm100.6 0h4.3v17.2h-4.3zm8 0h4.3v17.2h-4.3zm-8 17h4.3v17.2h-4.3zm-213 17h4.3v17.2h-4.3zm571.5 0h4.2v17.2h-4.2zm-527.4 16.9h4.3v17.2h-4.3zm108.3 16.9h4.3v17.2h-4.3zm60.6 0h4.3v17.2h-4.3zm-132.7 17h4.2v17.2h-4.2zm-15.9 33.9h4.2v17.2h-4.2zm43.9 33.9h4.3v17.2h-4.3zm0 16.9h4.3v17.2h-4.3zm152.9 17h4.3v17.2h-4.3zm108.4 0h4.3v17.2h-4.3zm56.6 16.9h4.3v17.2h-4.3zm-478.3 50.9h4.3v17.2h-4.3zm413.7 0h4.3v17.2h-4.3zm16.1 0h4.3v17.2h-4.3zm16.3 0h4.3v17.2h-4.3zm28.2 0h8.3v17.2h-8.3zm145.3 0h4.2v17.2h-4.2zm20 0h4.2v17.2h-4.2zm64.3 0h4.2v17.2h-4.2zm-406.7 16.9h4.3v17.2h-4.3zm8 17h4.3v17.2h-4.3zm16.1 0h4.3v17.2h-4.3zm32.1 16.9h4.3v17.2h-4.3zm-48.2 17h4.3v17.2h-4.3zm12.1 0h4.3v17.2h-4.3zm0 16.9h4.3v17.2h-4.3zm60.2 0h4.3v17.2h-4.3zm16.1 17h4.3v17.2h-4.3zm32.1 17h4.3v17.2h-4.3zm92.9 0h4.3v17.2h-4.3zm20.2 0h4.3v17.2h-4.3zm-318.2 16.9h4.3v17.2h-4.3zm229.5 16.9h4.3v17.2h-4.3zm44.3 0h4.3v17.2h-4.3zm20.2 0h4.3v17.2h-4.3zm-145.1 33.9h4.3v17.2h-4.3zm32.1 0h4.3v17.2h-4.3zm32.2 0h4.3v17.2h-4.3zm-437.8 17h4.3v17.2h-4.3zm8 0h4.3v17.2h-4.3zm417.7 0h4.3v17.2h-4.3zm109 0h4.3v17.2h-4.3zm-145.1 33.9h4.3v17.2h-4.3zm60.5 0h8.3v17.2h-8.3zm-24.4 16.9h4.3v17.2h-4.3zm28.4 0h4.3v17.2h-4.3zm56.4 0h4.3v17.2h-4.3zm77.1 50.9h4.2v17.2h-4.2zm8 0h4.2v17.2h-4.2zm12 0h4.2v17.2h-4.2zm36 0h4.2v17.2h-4.2zm28.4 0h4.2v17.2h-4.2zm-76.4 16.9h4.2v17.2h-4.2zm28 0h4.2v17.2h-4.2zm12 17h4.2v17.2h-4.2zm68.3 0h4.2v17.2h-4.2zm-314.3 16.9h4.3v17.2h-4.3zm270.4 0h4.2v17.2h-4.2zm23.9 0h4.2v17.2h-4.2zm20 0h4.2v17.2h-4.2zm-124.3 17h4.2v17.2h-4.2zm28 0h4.2v17.2h-4.2zm32 0h4.2v17.2h-4.2zm-302.3 16.9h4.3v17.2h-4.3zm246.3 0h4.2v17.2h-4.2zm12 0h4.2v17.2h-4.2zm12 0h4.2v17.2h-4.2zm-383 17h4.3v17.2h-4.3zm379 0h4.2v17.2h-4.2zm8 0h4.2v17.2h-4.2zm32 0h4.2v17.2h-4.2zm12.4 0h4.2v17.2h-4.2zm-431.4 50.9h4.3v17.2h-4.3zm20.2 0h4.3v17.2h-4.3zm330.8 0h4.2v17.2h-4.2zm20 0h4.2v17.2h-4.2zm-177.9 16.9h4.3v17.2h-4.3zm193.9 0h4.2v17.2h-4.2zm88.3 0h4.2v17.2h-4.2zm-249.8 16.9h8.3v17.2h-8.3zm92.7 0h4.3v17.2h-4.3zm68.8 0h4.2v17.2h-4.2zm8 0h4.2v17.2h-4.2zm36.4 0h4.2v17.2h-4.2zm27.9 0h4.2v17.2h-4.2z"/>
<path fill="#ffa88d" d="M153.9 1868.1h4.3v17.2h-4.3zm24.1 0h4.3v17.2h-4.3zm88.3 0h4.3v17.2h-4.3zm88.5 0h4.3v17.2h-4.3zm446.9 33.9h4.2v17.2h-4.2zm-55.9 33.9h4.2v17.2h-4.2zm-403.2 16.9h4.3v17.2h-4.3zm-112.4 17h4.2v17.2h-4.2zm88.2 0h4.3v17.2h-4.3zm447.4 0h4.2v17.2h-4.2zm-599.9 17h4.3v17.2h-4.3zm48.4 0h4.2v17.2h-4.2zm39.9 0h4.3v17.2h-4.3zm-76.2 33.8h4.3v17.2h-4.3zm16 0h4.3v17.2h-4.3zm72.3 0h4.3v17.2h-4.3zm104.6 0h4.3v17.2h-4.3zm8.2 0h4.2v17.2h-4.2zm-24.3 17h4.3v17.2h-4.3zm-184.9 33.9h4.3v17.2h-4.3zm48.4 0h4.2v17.2h-4.2zm136.5 0h4.3v17.2h-4.3zm8.1 0h4.3v17.2h-4.3zm185 0h4.3v17.2h-4.3zm-209.3 16.9h4.3v17.2h-4.3zm-112.4 17h4.2v17.2h-4.2zm40.1 0h4.3v17.2h-4.3zm-100.4 16.9h4.3v17.2h-4.3zm12.1 0h8.3v17.2h-8.3zm76.2 0h4.3v17.2h-4.3zm8.1 0h4.3v17.2h-4.3zm96.5 0h4.3v17.2h-4.3zm104.5 33.9h8.3v17.2h-8.3zm44.2 0h4.3v17.2h-4.3zm-60.3 17h8.3v17.2h-8.3zm-345.4 33.9h4.3v17.2h-4.3zm648 0h4.2v17.2h-4.2zm-579.9 16.9h4.3v17.2h-4.3zm20.1 0h4.3v17.2h-4.3zm8 0h4.3v17.2h-4.3zm241.1 0h4.3v17.2h-4.3zm-285.2 67.8h4.3v17.2h-4.3zm56.4 0h4.2v17.2h-4.2zm257 0h4.3v17.2h-4.3zm40.2 0h4.3v17.2h-4.3zm68.6 17h4.3v17.2h-4.3zm-482.3 17h4.3v17.2h-4.3zm0 16.9h4.3v17.2h-4.3zm321.3 0h4.3v17.2h-4.3zm229.5 0h8.3v17.2h-8.3zm-362.4 16.9h4.3v17.2h-4.3zm249.4 0h4.3v17.2h-4.3zm88.9 0h4.3v17.2h-4.3zm-4.1 50.9h8.3v17.2h-8.3zm-108.9 16.9h4.3v17.2h-4.3zm36.4 33.9h4.3v17.2h-4.3zm44.3 0h4.3v17.2h-4.3zm24.2 17h4.3v17.2h-4.3zm-108.9 16.9h4.3v17.2h-4.3zm28.1 0h4.3v17.2h-4.3zm52.5 0h4.3v17.2h-4.3zm-185.1 17h4.3v17.2h-4.3zm237.6 0h4.3v17.2h-4.3zm133.2 0h4.2v17.2h-4.2zm-76.4 16.9h4.2v17.2h-4.2zm36 0h4.2v17.2h-4.2zm8 17h4.2v17.2h-4.2zm44.3 0h4.2v17.2h-4.2zm-687.9 16.9h4.3v17.2h-4.3zm542.8 0h4.3v17.2h-4.3zm40.8 0h4.2v17.2h-4.2zm-583.6 17h4.3v17.2h-4.3zm204.5 0h4.3v17.2h-4.3zm96.7 16.9h8.3v17.2h-8.3zm310.4 0h4.2v17.2h-4.2zm96.3 0h4.2v17.2h-4.2zm-108.3 17h4.2v17.2h-4.2zm52.4 0h4.2v17.2h-4.2zm-298.6 33.9h4.3v17.2h-4.3zm230.2 0h4.2v17.2h-4.2zm-391.2 17h4.3v17.2h-4.3zm20.2 0h4.3v17.2h-4.3zm379 0h4.2v17.2h-4.2zm116.3 0h4.2v17.2h-4.2zm-406.7 16.9h4.3v17.2h-4.3zm8 0h4.3v17.2h-4.3zm72.3 0h8.3v17.2h-8.3zm32.2 0h4.3v17.2h-4.3zm221.9 0h4.2v17.2h-4.2zm-56 16.9h4.2v17.2h-4.2z"/>
<path fill="#ffbca6" d="M161.9 1868.1h4.3v17.2h-4.3zm48.4 0h4.2v17.2h-4.2zm152.6 0h4.3v17.2h-4.3zm-136.7 33.9h4.2v17.2h-4.2zm15.9 0h4.3v17.2h-4.3zm156.9 0h4.3v17.2h-4.3zm24.1 0h4.3v17.2h-4.3zm-249.2 84.8h4.3v17.2h-4.3zm76.3 0h4.3v17.2h-4.3zm-88.3 16.9h4.3v17.2h-4.3zm56.4 0h4.2v17.2h-4.2zm88.1 0h4.3v17.2h-4.3zm20.1 16.9h4.3v17.2h-4.3zm156.9 0h4.3v17.2h-4.3zm-325.5 33.9h4.3v17.2h-4.3zm36.1 0h4.3v17.2h-4.3zm88.2 0h4.3v17.2h-4.3zm16.1 0h4.3v17.2h-4.3zm16.1 0h4.3v17.2h-4.3zm-140.5 17h4.3v17.2h-4.3zm184.9 0h4.3v17.2h-4.3zm-40.4 16.9h4.3v17.2h-4.3zm-144.5 17h4.3v17.2h-4.3zm100.5 16.9h4.3v17.2h-4.3zm180.8 33.9h4.3v17.2h-4.3zm28.2 0h4.3v17.2h-4.3zm44.2 0h8.3v17.2h-8.3zm-76.4 34h4.3v17.2h-4.3zm169.3 16.9h4.3v17.2h-4.3zm12.1 0h4.3v17.2h-4.3zm141.2 0h4.2v17.2h-4.2zm19.9 0h4.2v17.2h-4.2zm-527.4 16.9h4.3v17.2h-4.3zm8.1 0h4.3v17.2h-4.3zm52.1 0h4.3v17.2h-4.3zm209.1 17h4.3v17.2h-4.3zm-80.4 16.9h4.3v17.2h-4.3zm16.1 0h4.3v17.2h-4.3zm-76.3 17h4.3v17.2h-4.3zm28.1 0h4.3v17.2h-4.3zm-233.1 16.9h4.3v17.2h-4.3zm281.3 0h4.3v17.2h-4.3zm20.1 0h4.3v17.2h-4.3zm92.7 17h4.3v17.2h-4.3zm-149 17h4.3v17.2h-4.3zm221.6 0h4.3v17.2h-4.3zm-221.6 16.9h4.3v17.2h-4.3zm189.4 67.8h4.3v17.2h-4.3zm-189.4 16.9h4.3v17.2h-4.3zm36.2 0h4.3v17.2h-4.3zm76.6 0h4.3v17.2h-4.3zm108.8 17h4.3v17.2h-4.3zm-133.2 16.9h4.3v17.2h-4.3zm68.7 0h4.3v17.2h-4.3zm28.3 17h4.3v17.2h-4.3zm-157.2 16.9h4.3v17.2h-4.3zm20.1 0h4.3v17.2h-4.3zm-88.4 17h4.3v17.2h-4.3zm40.1 0h4.3v17.2h-4.3zm185.4 0h4.3v17.2h-4.3zm36.2 0h8.3v17.2h-8.3zm80.7 16.9h4.2v17.2h-4.2zm40.3 17h4.2v17.2h-4.2zm16 0h4.2v17.2h-4.2zm-318.4 16.9h4.3v17.2h-4.3zm76.6 0h4.3v17.2h-4.3zm60.5 0h4.3v17.2h-4.3zm8.1 0h4.3v17.2h-4.3zm-241.4 17h4.2v17.2h-4.2zm330.3 0h4.2v17.2h-4.2zm36.4 0h4.2v17.2h-4.2zm47.9 0h4.2v17.2h-4.2zm-382.6 16.9h4.3v17.2h-4.3zm156.9 0h4.3v17.2h-4.3zm197.8 0h4.2v17.2h-4.2zm23.9 0h4.2v17.2h-4.2zm8 0h4.2v17.2h-4.2zm-27.9 17h4.2v17.2h-4.2zm23.9 0h4.2v17.2h-4.2zm-362.6 33.9h4.3v17.2h-4.3zm314.7 0h4.2v17.2h-4.2zm39.9 0h4.2v17.2h-4.2zm-595.7 17h4.3v17.2h-4.3zm487.4 0h4.2v17.2h-4.2zm24 0h4.2v17.2h-4.2zm-282.3 16.9h4.3v17.2h-4.3zm32.1 0h4.3v17.2h-4.3zm20.1 0h4.3v17.2h-4.3zm104.8 0h4.3v17.2h-4.3zm185.7 0h4.2v17.2h-4.2zm-201.8 16.9h4.3v17.2h-4.3z"/>
</g>
<text transform="translate(51 1825.6) rotate(-45)" font-size="25" fill="#000">Malignant</text>
<text transform="translate(108.2 1825.4) rotate(-45)" font-size="25" fill="#000">Epithelial cells</text>
<text transform="translate(139.5 1825.6) rotate(-45)" font-size="25" fill="#000">Hepatocytes</text>
<text transform="translate(177.8 1826.3) rotate(-45)" font-size="25" fill="#000">Tissue stem cells</text>
<text transform="translate(218.2 1825.4) rotate(-45)" font-size="25" fill="#000">Chondrocytes</text>
<text transform="translate(264.8 1826.5) rotate(-45)" font-size="25" fill="#000">Fibroblasts</text>
<text transform="translate(303.5 1825.6) rotate(-45)" font-size="25" fill="#000">Endothelial cells</text>
<text transform="translate(363.8 1825.6) rotate(-45)" font-size="25" fill="#000">Smooth muscle cells</text>
<text transform="translate(391.9 1826.8) rotate(-45)" font-size="25" fill="#000">Neurons</text>
<text transform="translate(428.6 1825.7) rotate(-45)" font-size="25" fill="#000">Neutrophils</text>
<text transform="translate(502.2 1825.6) rotate(-45)" font-size="25" fill="#000">Macrophage</text>
<text transform="translate(586.3 1825.8) rotate(-45)" font-size="25" fill="#000">DC</text>
<text transform="translate(645 1826.8) rotate(-45)" font-size="25" fill="#000">B cell</text>
<text transform="translate(711.3 1826.1) rotate(-45)" font-size="25" fill="#000">T cells</text>
<text transform="translate(782 1825.6) rotate(-45)" font-size="25" fill="#000">NK cell</text>
<text x="810" y="1839.7" font-size="25" fill="#000">cell type</text>
<text x="810" y="1860.5" font-size="25" fill="#000">sample</text>
<text x="810.3" y="1878.6" font-size="16.2" fill="#000">IGFBP5</text>
<text x="810.3" y="1895.55" font-size="16.2" fill="#000">HSPB1</text>
<text x="810.3" y="1912.5" font-size="16.2" fill="#000">S100A6</text>
<text x="810.3" y="1929.45" font-size="16.2" fill="#000">COL1A1</text>
<text x="810.3" y="1946.4" font-size="16.2" fill="#000">COL1A2</text>
<text x="810.3" y="1963.35" font-size="16.2" fill="#000">IGFBP7</text>
<text x="810.3" y="1980.3" font-size="16.2" fill="#000">SPARC</text>
<text x="810.3" y="1997.25" font-size="16.2" fill="#000">TAGLN</text>
<text x="810.3" y="2014.2" font-size="16.2" fill="#000">ACTA2</text>
<text x="810.3" y="2031.15" font-size="16.2" fill="#000">FN1</text>
<text x="810.3" y="2048.1" font-size="16.2" fill="#000">COL6A3</text>
<text x="810.3" y="2065.05" font-size="16.2" fill="#000">COL6A2</text>
<text x="810.3" y="2082" font-size="16.2" fill="#000">SPARCL1</text>
<text x="810.3" y="2098.95" font-size="16.2" fill="#000">PECAM1</text>
<text x="810.3" y="2115.9" font-size="16.2" fill="#000">COL4A1</text>
<text x="810.3" y="2132.85" font-size="16.2" fill="#000">EPAS1</text>
<text x="810.3" y="2149.8" font-size="16.2" fill="#000">CXCL8</text>
<text x="810.3" y="2166.75" font-size="16.2" fill="#000">G0S2</text>
<text x="810.3" y="2183.7" font-size="16.2" fill="#000">S100A9</text>
<text x="810.3" y="2200.65" font-size="16.2" fill="#000">S100A8</text>
<text x="810.3" y="2217.6" font-size="16.2" fill="#000">SRGN</text>
<text x="810.3" y="2234.55" font-size="16.2" fill="#000">IFITM2</text>
<text x="810.3" y="2251.5" font-size="16.2" fill="#000">IL1B</text>
<text x="810.3" y="2268.45" font-size="16.2" fill="#000">FTH1</text>
<text x="810.3" y="2285.4" font-size="16.2" fill="#000">NAMPT</text>
<text x="810.3" y="2302.35" font-size="16.2" fill="#000">SOD2</text>
<text x="810.3" y="2319.3" font-size="16.2" fill="#000">APOE</text>
<text x="810.3" y="2336.25" font-size="16.2" fill="#000">CD74</text>
<text x="810.3" y="2353.2" font-size="16.2" fill="#000">HLA-DRA</text>
<text x="810.3" y="2370.15" font-size="16.2" fill="#000">HLA-DRB1</text>
<text x="810.3" y="2387.1" font-size="16.2" fill="#000">FTL</text>
<text x="810.3" y="2404.05" font-size="16.2" fill="#000">C1QB</text>
<text x="810.3" y="2421" font-size="16.2" fill="#000">HLA-DPB1</text>
<text x="810.3" y="2437.95" font-size="16.2" fill="#000">HLA-DPA1</text>
<text x="810.3" y="2454.9" font-size="16.2" fill="#000">PSAP</text>
<text x="810.3" y="2471.85" font-size="16.2" fill="#000">HLA-DQB1</text>
<text x="810.3" y="2488.8" font-size="16.2" fill="#000">HLA-DQA1</text>
<text x="810.3" y="2505.75" font-size="16.2" fill="#000">CST3</text>
<text x="810.3" y="2522.7" font-size="16.2" fill="#000">CXCR4</text>
<text x="810.3" y="2539.65" font-size="16.2" fill="#000">IL7R</text>
<text x="810.3" y="2556.6" font-size="16.2" fill="#000">BTG1</text>
<text x="810.3" y="2573.55" font-size="16.2" fill="#000">RGS1</text>
<text x="810.3" y="2590.5" font-size="16.2" fill="#000">IL32</text>
<text x="810.3" y="2607.45" font-size="16.2" fill="#000">TNFAIP3</text>
<text x="810.3" y="2624.4" font-size="16.2" fill="#000">TSC22D3</text>
<text x="810.3" y="2641.35" font-size="16.2" fill="#000">CCL5</text>
<text x="810.3" y="2658.3" font-size="16.2" fill="#000">PTPRC</text>
<text x="810.3" y="2675.25" font-size="16.2" fill="#000">ETS1</text>
<text x="810.3" y="2692.2" font-size="16.2" fill="#000">CCL4</text>
<text x="810.3" y="2709.15" font-size="16.2" fill="#000">CD69</text>
<text x="896.3" y="2577.7" font-size="24.5" fill="#000">Expression</text>
<g shape-rendering="crispEdges">
<rect x="895.1" y="2595.9" width="22.5" height="1.05" fill="#ff0000"/>
<rect x="895.1" y="2596.9" width="22.5" height="1.05" fill="#ff0000"/>
<rect x="895.1" y="2597.9" width="22.5" height="1.05" fill="#ff0000"/>
<rect x="895.1" y="2598.9" width="22.5" height="1.05" fill="#ff0000"/>
<rect x="895.1" y="2599.9" width="22.5" height="1.05" fill="#ff0000"/>
<rect x="895.1" y="2600.9" width="22.5" height="1.05" fill="#ff0000"/>
<rect x="895.1" y="2601.9" width="22.5" height="1.05" fill="#ff0000"/>
<rect x="895.1" y="2602.9" width="22.5" height="1.05" fill="#ff0000"/>
<rect x="895.1" y="2603.9" width="22.5" height="1.05" fill="#ff0000"/>
<rect x="895.1" y="2604.9" width="22.5" height="1.05" fill="#ff0000"/>
<rect x="895.1" y="2605.9" width="22.5" height="1.05" fill="#ff0000"/>
<rect x="895.1" y="2606.9" width="22.5" height="1.05" fill="#ff0000"/>
<rect x="895.1" y="2607.9" width="22.5" height="1.05" fill="#ff0000"/>
<rect x="895.1" y="2608.9" width="22.5" height="1.05" fill="#ff0000"/>
<rect x="895.1" y="2609.9" width="22.5" height="1.05" fill="#ff0000"/>
<rect x="895.1" y="2610.9" width="22.5" height="1.05" fill="#ff0000"/>
<rect x="895.1" y="2611.9" width="22.5" height="1.05" fill="#ff0000"/>
<rect x="895.1" y="2612.9" width="22.5" height="1.05" fill="#ff0000"/>
<rect x="895.1" y="2613.9" width="22.5" height="1.05" fill="#ff0401"/>
<rect x="895.1" y="2614.9" width="22.5" height="1.05" fill="#ff1d0b"/>
<rect x="895.1" y="2615.9" width="22.5" height="1.05" fill="#ff2b14"/>
<rect x="895.1" y="2616.9" width="22.5" height="1.05" fill="#ff351b"/>
<rect x="895.1" y="2617.9" width="22.5" height="1.05" fill="#ff3e22"/>
<rect x="895.1" y="2618.9" width="22.5" height="1.05" fill="#ff4729"/>
<rect x="895.1" y="2619.9" width="22.5" height="1.05" fill="#ff4e2f"/>
<rect x="895.1" y="2620.9" width="22.5" height="1.05" fill="#ff5535"/>
<rect x="895.1" y="2621.9" width="22.5" height="1.05" fill="#ff5c3b"/>
<rect x="895.1" y="2622.9" width="22.5" height="1.05" fill="#ff6241"/>
<rect x="895.1" y="2623.9" width="22.5" height="1.05" fill="#ff6847"/>
<rect x="895.1" y="2624.9" width="22.5" height="1.05" fill="#ff6e4d"/>
<rect x="895.1" y="2625.9" width="22.5" height="1.05" fill="#ff7452"/>
<rect x="895.1" y="2626.9" width="22.5" height="1.05" fill="#ff7958"/>
<rect x="895.1" y="2627.9" width="22.5" height="1.05" fill="#ff7f5e"/>
<rect x="895.1" y="2628.9" width="22.5" height="1.05" fill="#ff8464"/>
<rect x="895.1" y="2629.9" width="22.5" height="1.05" fill="#ff8a6a"/>
<rect x="895.1" y="2630.9" width="22.5" height="1.05" fill="#ff8f70"/>
<rect x="895.1" y="2631.9" width="22.5" height="1.05" fill="#ff9476"/>
<rect x="895.1" y="2632.9" width="22.5" height="1.05" fill="#ff997c"/>
<rect x="895.1" y="2633.9" width="22.5" height="1.05" fill="#ff9e82"/>
<rect x="895.1" y="2634.9" width="22.5" height="1.05" fill="#ffa388"/>
<rect x="895.1" y="2635.9" width="22.5" height="1.05" fill="#ffa98e"/>
<rect x="895.1" y="2636.9" width="22.5" height="1.05" fill="#ffad94"/>
<rect x="895.1" y="2637.9" width="22.5" height="1.05" fill="#ffb29a"/>
<rect x="895.1" y="2638.9" width="22.5" height="1.05" fill="#ffb7a0"/>
<rect x="895.1" y="2639.9" width="22.5" height="1.05" fill="#ffbca6"/>
<rect x="895.1" y="2640.9" width="22.5" height="1.05" fill="#ffc1ad"/>
<rect x="895.1" y="2641.9" width="22.5" height="1.05" fill="#ffc6b3"/>
<rect x="895.1" y="2642.9" width="22.5" height="1.05" fill="#ffcbb9"/>
<rect x="895.1" y="2643.9" width="22.5" height="1.05" fill="#ffd0bf"/>
<rect x="895.1" y="2644.9" width="22.5" height="1.05" fill="#ffd4c6"/>
<rect x="895.1" y="2645.9" width="22.5" height="1.05" fill="#ffd9cc"/>
<rect x="895.1" y="2646.9" width="22.5" height="1.05" fill="#ffded2"/>
<rect x="895.1" y="2647.9" width="22.5" height="1.05" fill="#ffe3d9"/>
<rect x="895.1" y="2648.9" width="22.5" height="1.05" fill="#ffe8df"/>
<rect x="895.1" y="2649.9" width="22.5" height="1.05" fill="#ffece6"/>
<rect x="895.1" y="2650.9" width="22.5" height="1.05" fill="#fff1ec"/>
<rect x="895.1" y="2651.9" width="22.5" height="1.05" fill="#fff6f3"/>
<rect x="895.1" y="2652.9" width="22.5" height="1.05" fill="#fffbf9"/>
<rect x="895.1" y="2653.9" width="22.5" height="1.05" fill="#fffeff"/>
<rect x="895.1" y="2654.9" width="22.5" height="1.05" fill="#fbf8ff"/>
<rect x="895.1" y="2655.9" width="22.5" height="1.05" fill="#f8f3ff"/>
<rect x="895.1" y="2656.9" width="22.5" height="1.05" fill="#f5edff"/>
<rect x="895.1" y="2657.9" width="22.5" height="1.05" fill="#f1e7ff"/>
<rect x="895.1" y="2658.9" width="22.5" height="1.05" fill="#eee1ff"/>
<rect x="895.1" y="2659.9" width="22.5" height="1.05" fill="#eadbff"/>
<rect x="895.1" y="2660.9" width="22.5" height="1.05" fill="#e7d5ff"/>
<rect x="895.1" y="2661.9" width="22.5" height="1.05" fill="#e3cfff"/>
<rect x="895.1" y="2662.9" width="22.5" height="1.05" fill="#dfcaff"/>
<rect x="895.1" y="2663.9" width="22.5" height="1.05" fill="#dcc4ff"/>
<rect x="895.1" y="2664.9" width="22.5" height="1.05" fill="#d8beff"/>
<rect x="895.1" y="2665.9" width="22.5" height="1.05" fill="#d4b8ff"/>
<rect x="895.1" y="2666.9" width="22.5" height="1.05" fill="#d0b3ff"/>
<rect x="895.1" y="2667.9" width="22.5" height="1.05" fill="#ccadff"/>
<rect x="895.1" y="2668.9" width="22.5" height="1.05" fill="#c8a7ff"/>
<rect x="895.1" y="2669.9" width="22.5" height="1.05" fill="#c4a1ff"/>
<rect x="895.1" y="2670.9" width="22.5" height="1.05" fill="#c09cff"/>
<rect x="895.1" y="2671.9" width="22.5" height="1.05" fill="#bb96ff"/>
<rect x="895.1" y="2672.9" width="22.5" height="1.05" fill="#b790ff"/>
<rect x="895.1" y="2673.9" width="22.5" height="1.05" fill="#b28bff"/>
<rect x="895.1" y="2674.9" width="22.5" height="1.05" fill="#ae85ff"/>
<rect x="895.1" y="2675.9" width="22.5" height="1.05" fill="#a97fff"/>
<rect x="895.1" y="2676.9" width="22.5" height="1.05" fill="#a47aff"/>
<rect x="895.1" y="2677.9" width="22.5" height="1.05" fill="#9f74ff"/>
<rect x="895.1" y="2678.9" width="22.5" height="1.05" fill="#9a6eff"/>
<rect x="895.1" y="2679.9" width="22.5" height="1.05" fill="#9568ff"/>
<rect x="895.1" y="2680.9" width="22.5" height="1.05" fill="#8f63ff"/>
<rect x="895.1" y="2681.9" width="22.5" height="1.05" fill="#8a5dff"/>
<rect x="895.1" y="2682.9" width="22.5" height="1.05" fill="#8457ff"/>
<rect x="895.1" y="2683.9" width="22.5" height="1.05" fill="#7e51ff"/>
<rect x="895.1" y="2684.9" width="22.5" height="1.05" fill="#774bff"/>
<rect x="895.1" y="2685.9" width="22.5" height="1.05" fill="#7045ff"/>
<rect x="895.1" y="2686.9" width="22.5" height="1.05" fill="#693fff"/>
<rect x="895.1" y="2687.9" width="22.5" height="1.05" fill="#6138ff"/>
<rect x="895.1" y="2688.9" width="22.5" height="1.05" fill="#5831ff"/>
<rect x="895.1" y="2689.9" width="22.5" height="1.05" fill="#4f2aff"/>
<rect x="895.1" y="2690.9" width="22.5" height="1.05" fill="#4422ff"/>
<rect x="895.1" y="2691.9" width="22.5" height="1.05" fill="#361aff"/>
<rect x="895.1" y="2692.9" width="22.5" height="1.05" fill="#240eff"/>
<rect x="895.1" y="2693.9" width="22.5" height="1.05" fill="#0000ff"/>
<rect x="895.1" y="2694.9" width="22.5" height="1.05" fill="#0000ff"/>
<rect x="895.1" y="2695.9" width="22.5" height="1.05" fill="#0000ff"/>
<rect x="895.1" y="2696.9" width="22.5" height="1.05" fill="#0000ff"/>
<rect x="895.1" y="2697.9" width="22.5" height="1.05" fill="#0000ff"/>
<rect x="895.1" y="2698.9" width="22.5" height="1.05" fill="#0000ff"/>
<rect x="895.1" y="2699.9" width="22.5" height="1.05" fill="#0000ff"/>
<rect x="895.1" y="2700.9" width="22.5" height="1.05" fill="#0000ff"/>
<rect x="895.1" y="2701.9" width="22.5" height="1.05" fill="#0000ff"/>
<rect x="895.1" y="2702.9" width="22.5" height="1.05" fill="#0000ff"/>
<rect x="895.1" y="2703.9" width="22.5" height="1.05" fill="#0000ff"/>
<rect x="895.1" y="2704.9" width="22.5" height="1.05" fill="#0000ff"/>
<rect x="895.1" y="2705.9" width="22.5" height="1.05" fill="#0000ff"/>
<rect x="895.1" y="2706.9" width="22.5" height="1.05" fill="#0000ff"/>
<rect x="895.1" y="2707.9" width="22.5" height="1.05" fill="#0000ff"/>
<rect x="895.1" y="2708.9" width="22.5" height="1.05" fill="#0000ff"/>
<rect x="895.1" y="2709.9" width="22.5" height="1.05" fill="#0000ff"/>
<rect x="895.1" y="2710.9" width="22.5" height="1.05" fill="#0000ff"/>
<rect x="895.1" y="2711.9" width="22.5" height="0.8" fill="#0000ff"/>
</g>
<line x1="895.1" y1="2599.9" x2="900.5" y2="2599.9" stroke="#fff" stroke-opacity="0.6" stroke-width="0.9"/>
<line x1="912.4" y1="2599.9" x2="917.6" y2="2599.9" stroke="#fff" stroke-opacity="0.6" stroke-width="0.9"/>
<text x="922.6" y="2607.3" font-size="23.5" fill="#000">4</text>
<line x1="895.1" y1="2627.1" x2="900.5" y2="2627.1" stroke="#fff" stroke-opacity="0.6" stroke-width="0.9"/>
<line x1="912.4" y1="2627.1" x2="917.6" y2="2627.1" stroke="#fff" stroke-opacity="0.6" stroke-width="0.9"/>
<text x="922.6" y="2634.5" font-size="23.5" fill="#000">2</text>
<line x1="895.1" y1="2654.3" x2="900.5" y2="2654.3" stroke="#fff" stroke-opacity="0.6" stroke-width="0.9"/>
<line x1="912.4" y1="2654.3" x2="917.6" y2="2654.3" stroke="#fff" stroke-opacity="0.6" stroke-width="0.9"/>
<text x="922.6" y="2661.7" font-size="23.5" fill="#000">0</text>
<line x1="895.1" y1="2681.5" x2="900.5" y2="2681.5" stroke="#fff" stroke-opacity="0.6" stroke-width="0.9"/>
<line x1="912.4" y1="2681.5" x2="917.6" y2="2681.5" stroke="#fff" stroke-opacity="0.6" stroke-width="0.9"/>
<rect x="923.8" y="2682.9" width="9.6" height="1.9" fill="#000"/>
<text x="933.8" y="2688.9" font-size="23.5" fill="#000">2</text>
<line x1="895.1" y1="2708.7" x2="900.5" y2="2708.7" stroke="#fff" stroke-opacity="0.6" stroke-width="0.9"/>
<line x1="912.4" y1="2708.7" x2="917.6" y2="2708.7" stroke="#fff" stroke-opacity="0.6" stroke-width="0.9"/>
<rect x="923.8" y="2710.1" width="9.6" height="1.9" fill="#000"/>
<text x="933.8" y="2716.1" font-size="23.5" fill="#000">4</text>
</svg></body></html>
